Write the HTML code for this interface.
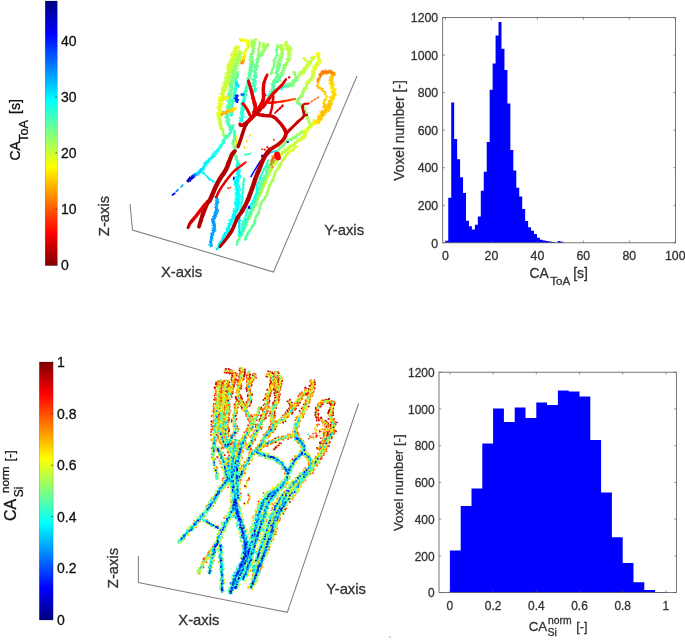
<!DOCTYPE html>
<html><head><meta charset="utf-8"><title>Figure</title>
<style>
html,body{margin:0;padding:0;background:#fff;}
svg{display:block;filter:blur(0.4px);}
text{font-family:"Liberation Sans",Arial,sans-serif;fill:#262626;stroke-width:0.3px;}
.t14{font-size:14px;fill:#111;stroke:#111;}
.t145{font-size:14.8px;fill:#333;stroke:#333;}
.t12{font-size:12.3px;fill:#333;stroke:#333;}
.t12b{font-size:11.9px;fill:#333;stroke:#333;}
.t13{font-size:13.2px;fill:#333;stroke:#333;}
.lb{fill:#111;stroke:#111;}
.lg{fill:#333;stroke:#333;}
.tk{stroke:#262626;stroke-width:0.6;}
.tk2{stroke:#555;stroke-width:0.6;}
.box{fill:none;stroke:#555;stroke-width:0.8;}
.ax3{fill:none;stroke:#808080;stroke-width:1.05;}
</style></head><body>
<svg width="685" height="640" viewBox="0 0 685 640">
<rect width="685" height="640" fill="#fff"/>
<defs><linearGradient id="cb1" x1="0" y1="0" x2="0" y2="1"><stop offset="0.0000" stop-color="#000080"/><stop offset="0.0625" stop-color="#0000bf"/><stop offset="0.1250" stop-color="#0000ff"/><stop offset="0.1875" stop-color="#0040ff"/><stop offset="0.2500" stop-color="#0080ff"/><stop offset="0.3125" stop-color="#00bfff"/><stop offset="0.3750" stop-color="#00ffff"/><stop offset="0.4375" stop-color="#40ffbf"/><stop offset="0.5000" stop-color="#80ff80"/><stop offset="0.5625" stop-color="#bfff40"/><stop offset="0.6250" stop-color="#ffff00"/><stop offset="0.6875" stop-color="#ffbf00"/><stop offset="0.7500" stop-color="#ff8000"/><stop offset="0.8125" stop-color="#ff4000"/><stop offset="0.8750" stop-color="#ff0000"/><stop offset="0.9375" stop-color="#bf0000"/><stop offset="1.0000" stop-color="#800000"/></linearGradient></defs>
<rect x="45.2" y="1.0" width="12.1" height="264.6" fill="url(#cb1)" stroke="#000" stroke-opacity="0.35" stroke-width="0.5"/>
<line x1="55.3" x2="57.3" y1="264.9" y2="264.9" class="tk"/>
<text x="61" y="270.0" class="t14">0</text>
<line x1="55.3" x2="57.3" y1="208.9" y2="208.9" class="tk"/>
<text x="61" y="214.0" class="t14">10</text>
<line x1="55.3" x2="57.3" y1="152.9" y2="152.9" class="tk"/>
<text x="61" y="158.0" class="t14">20</text>
<line x1="55.3" x2="57.3" y1="96.9" y2="96.9" class="tk"/>
<text x="61" y="102.0" class="t14">30</text>
<line x1="55.3" x2="57.3" y1="40.9" y2="40.9" class="tk"/>
<text x="61" y="46.0" class="t14">40</text>
<defs><linearGradient id="cb2" x1="0" y1="0" x2="0" y2="1"><stop offset="0.0000" stop-color="#800000"/><stop offset="0.0625" stop-color="#bf0000"/><stop offset="0.1250" stop-color="#ff0000"/><stop offset="0.1875" stop-color="#ff4000"/><stop offset="0.2500" stop-color="#ff8000"/><stop offset="0.3125" stop-color="#ffbf00"/><stop offset="0.3750" stop-color="#ffff00"/><stop offset="0.4375" stop-color="#bfff40"/><stop offset="0.5000" stop-color="#80ff80"/><stop offset="0.5625" stop-color="#40ffbf"/><stop offset="0.6250" stop-color="#00ffff"/><stop offset="0.6875" stop-color="#00bfff"/><stop offset="0.7500" stop-color="#0080ff"/><stop offset="0.8125" stop-color="#0040ff"/><stop offset="0.8750" stop-color="#0000ff"/><stop offset="0.9375" stop-color="#0000bf"/><stop offset="1.0000" stop-color="#000080"/></linearGradient></defs>
<rect x="39.3" y="362.0" width="13.8" height="258.0" fill="url(#cb2)" stroke="#000" stroke-opacity="0.35" stroke-width="0.5"/>
<line x1="51.1" x2="53.1" y1="619.6" y2="619.6" class="tk"/>
<text x="57" y="624.7" class="t14">0</text>
<line x1="51.1" x2="53.1" y1="568.1" y2="568.1" class="tk"/>
<text x="57" y="573.2" class="t14">0.2</text>
<line x1="51.1" x2="53.1" y1="516.6" y2="516.6" class="tk"/>
<text x="57" y="521.7" class="t14">0.4</text>
<line x1="51.1" x2="53.1" y1="465.2" y2="465.2" class="tk"/>
<text x="57" y="470.3" class="t14">0.6</text>
<line x1="51.1" x2="53.1" y1="413.7" y2="413.7" class="tk"/>
<text x="57" y="418.8" class="t14">0.8</text>
<line x1="51.1" x2="53.1" y1="362.2" y2="362.2" class="tk"/>
<text x="57" y="367.3" class="t14">1</text>
<g transform="translate(20.3,160.5) rotate(-90)"><text x="0" y="0" font-size="14" class="lb">CA</text><text x="18.6" y="7.6" font-size="12.8" class="lb">ToA</text><text x="46.6" y="0" font-size="14" class="lb">[s]</text></g>
<g transform="translate(15.6,521) rotate(-90)"><text x="0" y="0" font-size="16" class="lb">CA</text><text x="23.8" y="7.8" font-size="12" class="lb">Si</text><text x="28" y="-7" font-size="11.6" class="lb">norm</text><text x="59.5" y="-1.2" font-size="12.6" class="lb">[-]</text></g>
<polyline points="130,204 132.5,230 273.5,272 357,76" class="ax3"/>
<polyline points="138.4,556 138.4,582.5 287.3,612.3 358.6,403.5" class="ax3"/>
<text x="161" y="276.5" class="t145">X-axis</text>
<text x="324.3" y="234.8" class="t145">Y-axis</text>
<text transform="translate(109,216) rotate(-90)" class="t145" text-anchor="middle">Z-axis</text>
<text x="178.3" y="625" class="t145">X-axis</text>
<text x="326.2" y="594.4" class="t145">Y-axis</text>
<text transform="translate(117.5,568) rotate(-90)" class="t145" text-anchor="middle">Z-axis</text>
<path d="M445.30 242.80 L445.30 240.74 L448.26 240.74 L448.26 197.76 L451.22 197.76 L451.22 102.61 L454.17 102.61 L454.17 139.02 L457.13 139.02 L457.13 159.29 L460.09 159.29 L460.09 177.30 L463.05 177.30 L463.05 193.07 L466.00 193.07 L466.00 220.66 L468.96 220.66 L468.96 226.29 L471.92 226.29 L471.92 229.48 L474.88 229.48 L474.88 224.78 L477.83 224.78 L477.83 216.53 L480.79 216.53 L480.79 190.63 L483.75 190.63 L483.75 171.86 L486.71 171.86 L486.71 142.02 L489.66 142.02 L489.66 89.85 L492.62 89.85 L492.62 63.58 L495.58 63.58 L495.58 35.62 L498.54 35.62 L498.54 22.10 L501.49 22.10 L501.49 48.75 L504.45 48.75 L504.45 69.96 L507.41 69.96 L507.41 103.55 L510.37 103.55 L510.37 149.91 L513.32 149.91 L513.32 170.55 L516.28 170.55 L516.28 187.63 L519.24 187.63 L519.24 196.45 L522.20 196.45 L522.20 209.02 L525.15 209.02 L525.15 221.03 L528.11 221.03 L528.11 227.22 L531.07 227.22 L531.07 230.79 L534.02 230.79 L534.02 233.98 L536.98 233.98 L536.98 237.73 L539.94 237.73 L539.94 239.80 L542.90 239.80 L542.90 240.55 L545.86 240.55 L545.86 240.92 L548.81 240.92 L548.81 241.49 L551.77 241.49 L551.77 242.05 L554.73 242.05 L554.73 242.42 L557.69 242.42 L557.69 241.11 L560.64 241.11 L560.64 241.86 L563.60 241.86 L563.60 242.80Z" fill="#0000ff"/>
<rect x="442.7" y="17.6" width="232.9" height="225.2" class="box"/>
<line x1="445.4" x2="445.4" y1="242.8" y2="240.5" class="tk2"/>
<line x1="445.4" x2="445.4" y1="17.6" y2="19.9" class="tk2"/>
<text x="445.4" y="260" class="t12" text-anchor="middle">0</text>
<line x1="491.4" x2="491.4" y1="242.8" y2="240.5" class="tk2"/>
<line x1="491.4" x2="491.4" y1="17.6" y2="19.9" class="tk2"/>
<text x="491.4" y="260" class="t12" text-anchor="middle">20</text>
<line x1="537.4" x2="537.4" y1="242.8" y2="240.5" class="tk2"/>
<line x1="537.4" x2="537.4" y1="17.6" y2="19.9" class="tk2"/>
<text x="537.4" y="260" class="t12" text-anchor="middle">40</text>
<line x1="583.3" x2="583.3" y1="242.8" y2="240.5" class="tk2"/>
<line x1="583.3" x2="583.3" y1="17.6" y2="19.9" class="tk2"/>
<text x="583.3" y="260" class="t12" text-anchor="middle">60</text>
<line x1="629.3" x2="629.3" y1="242.8" y2="240.5" class="tk2"/>
<line x1="629.3" x2="629.3" y1="17.6" y2="19.9" class="tk2"/>
<text x="629.3" y="260" class="t12" text-anchor="middle">80</text>
<line x1="675.3" x2="675.3" y1="242.8" y2="240.5" class="tk2"/>
<line x1="675.3" x2="675.3" y1="17.6" y2="19.9" class="tk2"/>
<text x="675.3" y="260" class="t12" text-anchor="middle">100</text>
<line x1="442.7" x2="445.0" y1="242.8" y2="242.8" class="tk2"/>
<line x1="675.6" x2="673.3" y1="242.8" y2="242.8" class="tk2"/>
<text x="438.2" y="247.5" class="t12" text-anchor="end">0</text>
<line x1="442.7" x2="445.0" y1="205.3" y2="205.3" class="tk2"/>
<line x1="675.6" x2="673.3" y1="205.3" y2="205.3" class="tk2"/>
<text x="438.2" y="210.0" class="t12" text-anchor="end">200</text>
<line x1="442.7" x2="445.0" y1="167.7" y2="167.7" class="tk2"/>
<line x1="675.6" x2="673.3" y1="167.7" y2="167.7" class="tk2"/>
<text x="438.2" y="172.4" class="t12" text-anchor="end">400</text>
<line x1="442.7" x2="445.0" y1="130.2" y2="130.2" class="tk2"/>
<line x1="675.6" x2="673.3" y1="130.2" y2="130.2" class="tk2"/>
<text x="438.2" y="134.9" class="t12" text-anchor="end">600</text>
<line x1="442.7" x2="445.0" y1="92.7" y2="92.7" class="tk2"/>
<line x1="675.6" x2="673.3" y1="92.7" y2="92.7" class="tk2"/>
<text x="438.2" y="97.4" class="t12" text-anchor="end">800</text>
<line x1="442.7" x2="445.0" y1="55.1" y2="55.1" class="tk2"/>
<line x1="675.6" x2="673.3" y1="55.1" y2="55.1" class="tk2"/>
<text x="438.2" y="59.8" class="t12" text-anchor="end">1000</text>
<line x1="442.7" x2="445.0" y1="17.6" y2="17.6" class="tk2"/>
<line x1="675.6" x2="673.3" y1="17.6" y2="17.6" class="tk2"/>
<text x="438.2" y="22.3" class="t12" text-anchor="end">1200</text>
<text transform="translate(404,130.5) rotate(-90)" font-size="13.8" class="lg" text-anchor="middle">Voxel number [-]</text>
<text x="529.6" y="278" font-size="13.8" class="lg">CA</text><text x="550.2" y="284.6" font-size="11.6" class="lg">ToA</text><text x="573.2" y="278" font-size="14" class="lg">[s]</text>
<path d="M449.90 592.60 L449.90 550.54 L460.70 550.54 L460.70 506.09 L471.50 506.09 L471.50 488.46 L482.30 488.46 L482.30 443.46 L493.10 443.46 L493.10 408.38 L503.90 408.38 L503.90 421.97 L514.70 421.97 L514.70 407.46 L525.50 407.46 L525.50 417.93 L536.30 417.93 L536.30 402.50 L547.10 402.50 L547.10 404.89 L557.90 404.89 L557.90 390.38 L568.70 390.38 L568.70 391.49 L579.50 391.49 L579.50 396.44 L590.30 396.44 L590.30 439.97 L601.10 439.97 L601.10 492.50 L611.90 492.50 L611.90 537.13 L622.70 537.13 L622.70 563.03 L633.50 563.03 L633.50 582.13 L644.30 582.13 L644.30 590.03 L655.10 590.03 L655.10 592.05 L665.90 592.05 L665.90 592.60Z" fill="#0000ff"/>
<rect x="439.0" y="372.2" width="237.4" height="220.4" class="box"/>
<line x1="449.9" x2="449.9" y1="592.6" y2="590.3" class="tk2"/>
<line x1="449.9" x2="449.9" y1="372.2" y2="374.5" class="tk2"/>
<text x="449.9" y="610" class="t12b" text-anchor="middle">0</text>
<line x1="493.1" x2="493.1" y1="592.6" y2="590.3" class="tk2"/>
<line x1="493.1" x2="493.1" y1="372.2" y2="374.5" class="tk2"/>
<text x="493.1" y="610" class="t12b" text-anchor="middle">0.2</text>
<line x1="536.3" x2="536.3" y1="592.6" y2="590.3" class="tk2"/>
<line x1="536.3" x2="536.3" y1="372.2" y2="374.5" class="tk2"/>
<text x="536.3" y="610" class="t12b" text-anchor="middle">0.4</text>
<line x1="579.5" x2="579.5" y1="592.6" y2="590.3" class="tk2"/>
<line x1="579.5" x2="579.5" y1="372.2" y2="374.5" class="tk2"/>
<text x="579.5" y="610" class="t12b" text-anchor="middle">0.6</text>
<line x1="622.7" x2="622.7" y1="592.6" y2="590.3" class="tk2"/>
<line x1="622.7" x2="622.7" y1="372.2" y2="374.5" class="tk2"/>
<text x="622.7" y="610" class="t12b" text-anchor="middle">0.8</text>
<line x1="665.9" x2="665.9" y1="592.6" y2="590.3" class="tk2"/>
<line x1="665.9" x2="665.9" y1="372.2" y2="374.5" class="tk2"/>
<text x="665.9" y="610" class="t12b" text-anchor="middle">1</text>
<line x1="439.0" x2="441.3" y1="592.6" y2="592.6" class="tk2"/>
<line x1="676.4" x2="674.1" y1="592.6" y2="592.6" class="tk2"/>
<text x="434.5" y="597.3" class="t12b" text-anchor="end">0</text>
<line x1="439.0" x2="441.3" y1="555.9" y2="555.9" class="tk2"/>
<line x1="676.4" x2="674.1" y1="555.9" y2="555.9" class="tk2"/>
<text x="434.5" y="560.6" class="t12b" text-anchor="end">200</text>
<line x1="439.0" x2="441.3" y1="519.1" y2="519.1" class="tk2"/>
<line x1="676.4" x2="674.1" y1="519.1" y2="519.1" class="tk2"/>
<text x="434.5" y="523.8" class="t12b" text-anchor="end">400</text>
<line x1="439.0" x2="441.3" y1="482.4" y2="482.4" class="tk2"/>
<line x1="676.4" x2="674.1" y1="482.4" y2="482.4" class="tk2"/>
<text x="434.5" y="487.1" class="t12b" text-anchor="end">600</text>
<line x1="439.0" x2="441.3" y1="445.7" y2="445.7" class="tk2"/>
<line x1="676.4" x2="674.1" y1="445.7" y2="445.7" class="tk2"/>
<text x="434.5" y="450.4" class="t12b" text-anchor="end">800</text>
<line x1="439.0" x2="441.3" y1="408.9" y2="408.9" class="tk2"/>
<line x1="676.4" x2="674.1" y1="408.9" y2="408.9" class="tk2"/>
<text x="434.5" y="413.6" class="t12b" text-anchor="end">1000</text>
<line x1="439.0" x2="441.3" y1="372.2" y2="372.2" class="tk2"/>
<line x1="676.4" x2="674.1" y1="372.2" y2="372.2" class="tk2"/>
<text x="434.5" y="376.9" class="t12b" text-anchor="end">1200</text>
<text transform="translate(403,482.7) rotate(-90)" font-size="13.3" class="lg" text-anchor="middle">Voxel number [-]</text>
<text x="528.7" y="630.6" font-size="13.3" class="lg">CA</text><text x="547.5" y="636.2" font-size="10.6" class="lg">Si</text><text x="548" y="623.9" font-size="10.4" class="lg">norm</text><text x="576.2" y="630.6" font-size="12.6" class="lg">[-]</text>
<circle cx="390" cy="637" r="0.7" fill="#888"/>
<defs><filter id="bl" x="-5%" y="-5%" width="110%" height="110%"><feGaussianBlur stdDeviation="0.4"/></filter></defs>
<g fill="none" stroke-linecap="round" stroke-linejoin="round" filter="url(#bl)">
<path d="M239.8 39.5 L240.5 39.7" stroke="#ffe500" stroke-width="1.50"/>
<path d="M240.5 39.7 L241.4 40.0 L242.5 40.2 L243.4 40.4 L244.2 40.4 L245.0 40.3 L245.8 40.2 L246.4 40.3 L247.0 40.7 L247.5 41.3 L247.9 41.9" stroke="#ffff00" stroke-width="1.50"/>
<path d="M247.9 41.9 L248.2 42.5 L248.3 43.1 L248.2 43.7 L248.1 44.3 L248.0 45.0 L248.0 45.8 L248.2 46.6 L248.2 47.4 L248.0 48.2 L247.5 49.0 L246.7 49.7 L245.9 50.4 L245.3 51.3 L245.0 52.3 L244.9 53.4" stroke="#e5ff1a" stroke-width="1.50"/>
<path d="M244.9 53.4 L244.8 54.6 L244.7 55.6 L244.3 56.5" stroke="#ffff00" stroke-width="1.50"/>
<path d="M244.3 56.5 L243.8 57.4 L243.3 58.3 L243.0 59.0" stroke="#ffe500" stroke-width="1.50"/>
<path d="M243.0 59.0 L242.9 59.6 L242.9 60.0 L243.0 60.5" stroke="#ffcc00" stroke-width="1.50"/>
<path d="M243.0 60.5 L243.0 61.0 L242.8 61.7" stroke="#ffb300" stroke-width="1.50"/>
<path d="M242.8 61.7 L242.6 62.5 L242.4 63.3 L242.2 63.8" stroke="#ff9900" stroke-width="1.50"/>
<path d="M236.7 46.6 L236.1 48.4 L235.3 51.1 L234.4 54.0 L233.5 56.8 L232.5 59.4" stroke="#e5ff1a" stroke-width="2.75"/>
<path d="M232.5 59.4 L231.5 62.0 L230.6 64.6 L229.8 66.9 L229.3 68.9 L229.1 70.6 L228.8 72.3 L228.5 74.1 L228.1 76.1 L227.7 78.3 L227.2 80.4 L226.6 82.5 L225.9 84.5 L225.1 86.4 L224.2 88.3" stroke="#ccff33" stroke-width="3.00"/>
<path d="M224.2 88.3 L223.5 90.2 L223.0 92.2" stroke="#ccff33" stroke-width="2.75"/>
<path d="M223.0 92.2 L222.5 94.2 L222.1 96.2 L221.6 98.1" stroke="#e5ff1a" stroke-width="2.75"/>
<path d="M221.6 98.1 L221.2 99.9 L220.8 101.7 L220.5 103.4 L220.2 105.3 L220.0 107.4" stroke="#e5ff1a" stroke-width="2.50"/>
<path d="M220.0 107.4 L219.9 109.7 L219.8 111.9 L219.7 113.8 L219.5 115.2 L219.3 116.2 L219.1 117.1" stroke="#e5ff1a" stroke-width="2.25"/>
<path d="M219.1 117.1 L219.1 118.0 L219.2 119.0" stroke="#e5ff1a" stroke-width="2.00"/>
<path d="M219.2 119.0 L219.5 119.9 L219.8 120.9 L220.0 121.9" stroke="#ccff33" stroke-width="2.00"/>
<path d="M220.0 121.9 L220.1 122.9 L220.1 124.0 L220.1 125.1 L220.3 126.2 L220.8 127.4" stroke="#ccff33" stroke-width="1.75"/>
<path d="M220.8 127.4 L221.6 128.7 L222.3 129.9 L222.9 131.0 L223.0 131.9 L223.0 132.7" stroke="#b3ff4c" stroke-width="1.50"/>
<path d="M223.0 132.7 L223.0 133.4 L223.1 134.2 L223.6 135.1 L224.4 136.0" stroke="#99ff66" stroke-width="1.50"/>
<path d="M224.4 136.0 L225.1 136.9 L225.6 137.5" stroke="#80ff80" stroke-width="1.50"/>
<path d="M240.6 51.3 L240.2 52.8 L239.5 54.9 L238.8 57.2" stroke="#b3ff4c" stroke-width="2.25"/>
<path d="M238.8 57.2 L238.1 59.4 L237.4 61.3 L236.6 63.2" stroke="#b3ff4c" stroke-width="2.50"/>
<path d="M236.6 63.2 L235.9 65.0 L235.3 66.9 L234.9 68.7 L234.5 70.5 L234.2 72.4 L233.8 74.3 L233.2 76.3" stroke="#99ff66" stroke-width="2.50"/>
<path d="M233.2 76.3 L232.4 78.4 L231.7 80.5 L231.2 82.5 L231.0 84.5 L231.0 86.4 L231.1 88.3 L231.0 90.2 L230.6 92.2" stroke="#80ff80" stroke-width="2.50"/>
<path d="M230.6 92.2 L230.0 94.1 L229.5 96.1 L229.1 98.1 L229.0 100.2 L229.0 102.4 L229.1 104.5 L228.9 106.5 L228.4 108.5" stroke="#66ff99" stroke-width="2.50"/>
<path d="M228.4 108.5 L227.7 110.5 L227.0 112.2" stroke="#66ff99" stroke-width="2.25"/>
<path d="M227.0 112.2 L226.6 113.8 L226.6 115.0 L226.9 115.9 L227.3 116.8" stroke="#4dffb2" stroke-width="2.25"/>
<path d="M227.3 116.8 L227.6 117.7 L227.7 118.8 L227.7 119.9 L227.8 121.0 L227.9 122.0 L228.1 123.0 L228.2 124.0 L228.5 124.9 L228.9 125.8 L229.6 126.7 L230.5 127.6 L231.4 128.4 L232.0 129.0" stroke="#4dffb2" stroke-width="2.00"/>
<path d="M238.0 72.0 L237.6 73.4" stroke="#80ff80" stroke-width="1.50"/>
<path d="M237.6 73.4 L237.1 75.5 L236.5 77.8 L236.1 80.0" stroke="#66ff99" stroke-width="1.50"/>
<path d="M236.1 80.0 L236.0 82.0 L236.0 84.0" stroke="#4dffb2" stroke-width="1.50"/>
<path d="M236.0 84.0 L236.0 85.9 L235.8 88.0 L235.5 90.2 L235.0 92.5 L234.4 94.8 L234.0 96.9 L233.5 98.8 L233.1 100.7 L232.7 102.4 L232.5 104.0 L232.3 105.5 L232.3 106.8 L232.3 108.1" stroke="#33ffcc" stroke-width="1.50"/>
<path d="M232.3 108.1 L232.2 109.5 L231.9 111.2 L231.6 113.1 L231.2 114.8 L231.0 116.0" stroke="#1affe5" stroke-width="1.50"/>
<path d="M255.5 38.8 L255.1 39.9 L254.6 41.4 L254.0 43.2" stroke="#b3ff4c" stroke-width="1.50"/>
<path d="M254.0 43.2 L253.6 44.9 L253.4 46.5 L253.3 48.2 L253.2 49.8 L253.0 51.3" stroke="#99ff66" stroke-width="1.75"/>
<path d="M253.0 51.3 L252.6 52.5 L252.0 53.6 L251.4 54.5" stroke="#99ff66" stroke-width="2.00"/>
<path d="M251.4 54.5 L251.1 55.6 L251.1 56.8 L251.2 58.0 L251.4 59.3 L251.5 60.6 L251.5 62.0 L251.4 63.5 L251.3 65.0" stroke="#80ff80" stroke-width="2.00"/>
<path d="M251.3 65.0 L251.2 66.4 L251.0 67.7 L250.8 68.9 L250.6 70.2 L250.3 71.6 L250.1 73.3 L249.8 75.1 L249.5 77.0" stroke="#66ff99" stroke-width="2.00"/>
<path d="M249.5 77.0 L249.2 78.8 L248.8 80.6 L248.4 82.4 L247.9 84.1 L247.5 85.6 L246.9 86.9 L246.4 88.0 L245.9 89.0 L245.5 90.0 L245.3 90.9" stroke="#4dffb2" stroke-width="2.00"/>
<path d="M245.3 90.9 L245.3 91.7 L245.3 92.5 L245.2 93.4 L245.1 94.4 L244.9 95.5 L244.6 96.7 L244.3 97.9 L243.9 99.1 L243.4 100.5 L242.9 101.8 L242.5 103.0 L242.3 104.1 L242.2 105.1 L242.2 106.1 L242.3 107.2 L242.4 108.4 L242.5 109.8 L242.6 111.1 L242.7 112.5 L242.5 113.9 L242.3 115.4 L242.0 116.8" stroke="#33ffcc" stroke-width="2.00"/>
<path d="M242.0 116.8 L241.7 118.1 L241.6 119.3 L241.5 120.4 L241.4 121.3 L241.3 122.0" stroke="#1affe5" stroke-width="2.00"/>
<path d="M268.0 44.2 L267.4 44.7 L266.6 45.5 L265.7 46.4" stroke="#b3ff4c" stroke-width="2.00"/>
<path d="M265.7 46.4 L265.0 47.3 L264.5 48.3 L264.1 49.3 L263.8 50.3 L263.2 51.3 L262.4 52.3 L261.5 53.4 L260.6 54.5" stroke="#99ff66" stroke-width="2.00"/>
<path d="M260.6 54.5 L259.8 55.6 L259.1 56.8 L258.5 58.0 L257.9 59.3 L257.5 60.6 L257.2 61.9 L257.0 63.2 L256.9 64.5" stroke="#80ff80" stroke-width="2.00"/>
<path d="M256.9 64.5 L256.6 65.9 L256.2 67.3 L255.6 68.7 L255.0 70.2 L254.7 71.6 L254.6 73.1 L254.8 74.5 L255.0 76.0" stroke="#66ff99" stroke-width="2.00"/>
<path d="M255.0 76.0 L255.1 77.4 L254.9 78.7 L254.5 80.0 L254.1 81.2 L254.0 82.5 L254.1 83.9 L254.4 85.4 L254.8 86.8 L254.9 88.1 L254.8 89.3" stroke="#4dffb2" stroke-width="2.00"/>
<path d="M254.8 89.3 L254.5 90.4 L254.1 91.3 L253.9 91.9" stroke="#33ffcc" stroke-width="2.00"/>
<path d="M260.0 42.0 L259.7 43.7 L259.3 46.1 L258.9 48.8 L258.6 51.3 L258.3 53.8 L258.1 56.5 L257.9 58.9 L257.8 60.6" stroke="#99ff66" stroke-width="1.25"/>
<path d="M281.3 45.0 L281.4 45.6 L281.5 46.5 L281.7 47.5" stroke="#ccff33" stroke-width="2.00"/>
<path d="M281.7 47.5 L281.8 48.4 L282.0 49.1 L282.3 49.7 L282.5 50.4 L282.5 51.3 L282.4 52.5 L282.1 53.9 L281.7 55.4" stroke="#b3ff4c" stroke-width="2.00"/>
<path d="M281.7 55.4 L281.3 56.6 L280.9 57.7 L280.5 58.6 L280.0 59.5 L279.5 60.6 L279.0 62.0 L278.5 63.5 L278.0 65.1" stroke="#99ff66" stroke-width="2.00"/>
<path d="M278.0 65.1 L277.6 66.5 L277.4 67.8 L277.3 69.1 L277.3 70.3 L277.2 71.6 L277.1 73.0 L277.1 74.5 L276.9 76.1" stroke="#80ff80" stroke-width="2.00"/>
<path d="M276.9 76.1 L276.5 77.5 L275.9 78.8 L274.9 80.0 L274.0 81.3 L273.4 82.5 L273.2 83.8 L273.3 85.1 L273.5 86.3" stroke="#66ff99" stroke-width="2.00"/>
<path d="M273.5 86.3 L273.4 87.5 L273.1 88.7 L272.7 89.9 L272.2 91.0 L271.8 91.9 L271.6 92.6 L271.4 93.1 L271.1 93.6" stroke="#4dffb2" stroke-width="2.00"/>
<path d="M271.1 93.6 L270.8 94.3 L270.1 95.2 L269.3 96.3 L268.5 97.3 L268.0 98.0" stroke="#33ffcc" stroke-width="2.00"/>
<path d="M285.9 41.9 L286.2 42.7 L286.5 43.9 L287.0 45.2 L287.4 46.5 L287.8 47.7 L288.3 48.8 L288.7 50.1" stroke="#ccff33" stroke-width="2.00"/>
<path d="M288.7 50.1 L289.0 51.3 L289.2 52.6 L289.2 53.9 L289.2 55.3 L289.0 56.6 L288.8 58.0 L288.4 59.5 L287.9 60.9 L287.4 62.2 L286.7 63.2" stroke="#b3ff4c" stroke-width="2.00"/>
<path d="M286.7 63.2 L285.9 64.1 L285.2 64.9 L284.5 65.9 L284.0 67.3" stroke="#99ff66" stroke-width="2.00"/>
<path d="M284.0 67.3 L283.6 68.7 L283.2 70.2 L282.8 71.6 L282.4 72.8 L281.9 74.0 L281.4 75.0 L281.0 76.0 L280.6 77.0" stroke="#80ff80" stroke-width="2.00"/>
<path d="M280.6 77.0 L280.2 77.9 L279.9 78.7 L279.4 79.4 L278.9 79.9 L278.3 80.2 L277.7 80.5 L277.2 80.9 L276.9 81.3 L276.6 81.8 L276.4 82.2" stroke="#66ff99" stroke-width="2.00"/>
<path d="M276.4 82.2 L276.3 82.5" stroke="#4dffb2" stroke-width="2.00"/>
<path d="M277.3 45.0 L277.2 46.1 L277.2 47.6 L277.1 49.4 L277.0 50.9 L277.0 52.3 L277.0 53.5 L277.0 54.8 L276.7 56.0 L276.1 57.2 L275.3 58.5 L274.4 59.7 L273.9 60.9 L273.8 62.0 L274.0 63.1 L274.2 64.2 L274.2 65.3 L273.8 66.5 L273.2 67.7 L272.5 69.0 L272.0 70.2 L271.6 71.5 L271.4 72.9 L271.2 74.1 L271.0 75.0" stroke="#80ff80" stroke-width="1.25"/>
<path d="M293.8 71.6 L294.0 72.4 L294.4 73.5 L294.7 74.7" stroke="#99ff66" stroke-width="1.50"/>
<path d="M294.7 74.7 L295.1 75.8 L295.6 76.7 L296.1 77.7 L296.5 78.6 L296.6 79.4 L296.1 80.2 L295.2 80.9 L294.3 81.6 L293.6 82.4 L293.4 83.2 L293.3 84.2 L293.2 85.0 L292.7 85.6 L291.7 85.9 L290.3 85.9 L288.9 85.9 L287.8 85.8 L287.0 85.8" stroke="#80ff80" stroke-width="1.50"/>
<path d="M287.0 85.8 L286.4 85.7 L285.9 85.7 L285.6 85.6" stroke="#66ff99" stroke-width="1.50"/>
<path d="M313.8 56.7 L313.4 57.4 L312.9 58.3 L312.3 59.4 L311.6 60.4 L311.0 61.3" stroke="#e5ff1a" stroke-width="2.00"/>
<path d="M311.0 61.3 L310.3 62.1 L309.5 62.9 L308.8 63.8 L308.1 64.7 L307.4 65.5 L306.7 66.4 L306.0 67.3 L305.3 68.4 L304.6 69.5 L303.9 70.6 L303.2 71.6 L302.4 72.4 L301.6 73.1 L300.8 73.8" stroke="#ccff33" stroke-width="2.00"/>
<path d="M300.8 73.8 L300.0 74.5 L299.1 75.3 L298.2 76.2 L297.4 77.0 L296.6 77.8 L296.0 78.6 L295.5 79.4" stroke="#b3ff4c" stroke-width="2.00"/>
<path d="M295.5 79.4 L294.9 80.3 L294.3 81.0 L293.4 81.8 L292.3 82.7" stroke="#99ff66" stroke-width="2.00"/>
<path d="M292.3 82.7 L291.3 83.4 L290.3 84.0 L289.6 84.4 L288.9 84.7" stroke="#80ff80" stroke-width="2.00"/>
<path d="M288.9 84.7 L288.3 84.9 L287.7 85.1 L287.0 85.3 L286.3 85.3" stroke="#66ff99" stroke-width="2.00"/>
<path d="M286.3 85.3 L285.6 85.4 L285.0 85.6 L284.6 85.9 L284.4 86.2" stroke="#4dffb2" stroke-width="2.00"/>
<path d="M284.4 86.2 L284.1 86.6 L283.6 87.0 L282.8 87.3 L281.7 87.6" stroke="#33ffcc" stroke-width="2.00"/>
<path d="M281.7 87.6 L280.7 87.8 L280.0 88.0" stroke="#1affe5" stroke-width="2.00"/>
<path d="M317.7 52.8 L317.7 53.3 L317.7 54.1 L317.7 55.0" stroke="#ffff00" stroke-width="2.00"/>
<path d="M317.7 55.0 L317.8 55.8 L318.2 56.6 L318.7 57.3 L319.1 58.1 L319.3 59.0 L319.1 60.1 L318.7 61.4 L318.1 62.7 L317.5 64.0 L316.7 65.1 L315.9 66.2 L315.0 67.3 L314.4 68.4 L314.0 69.6 L313.8 70.8 L313.7 72.1 L313.5 73.3 L313.2 74.4" stroke="#e5ff1a" stroke-width="2.00"/>
<path d="M313.2 74.4 L312.8 75.5 L312.4 76.7 L311.9 77.8 L311.1 78.9 L310.1 80.1 L309.1 81.2 L308.2 82.4 L307.5 83.6 L306.8 84.9 L306.2 86.1" stroke="#ccff33" stroke-width="2.00"/>
<path d="M306.2 86.1 L305.6 87.2 L305.0 88.2 L304.4 89.1 L303.9 90.0 L303.4 90.9 L303.1 91.9 L302.8 93.0 L302.5 94.0 L302.1 95.0" stroke="#b3ff4c" stroke-width="2.00"/>
<path d="M302.1 95.0 L301.4 95.9" stroke="#b3ff4c" stroke-width="1.75"/>
<path d="M301.4 95.9 L300.7 96.7 L299.9 97.5 L299.2 98.4 L298.6 99.5" stroke="#99ff66" stroke-width="1.75"/>
<path d="M298.6 99.5 L298.0 100.7 L297.5 101.9 L297.5 102.8 L297.9 103.3 L298.9 103.5 L299.8 103.7 L300.5 103.9 L300.6 104.1 L300.5 104.3 L300.3 104.5 L300.5 105.0 L301.1 105.8 L302.0 106.7 L303.0 107.8 L303.8 108.8 L304.4 109.7" stroke="#80ff80" stroke-width="1.50"/>
<path d="M304.4 109.7 L304.9 110.6 L305.3 111.6 L305.7 112.5 L306.0 113.5 L306.3 114.5 L306.5 115.5 L306.8 116.5 L307.1 117.4" stroke="#99ff66" stroke-width="1.50"/>
<path d="M307.1 117.4 L307.4 118.4 L307.8 119.4 L308.2 120.3 L308.7 121.2 L309.3 122.1 L309.8 122.9 L310.2 123.7 L310.3 124.5" stroke="#b3ff4c" stroke-width="1.50"/>
<path d="M310.3 124.5 L310.4 125.4 L310.3 126.1 L310.3 126.6" stroke="#ccff33" stroke-width="1.50"/>
<path d="M253.5 47.0 L253.1 46.3 L252.5 45.2 L251.9 44.1 L251.5 43.0 L251.3 42.0 L251.1 41.0 L251.1 40.1 L251.0 39.5" stroke="#b3ff4c" stroke-width="1.00"/>
<path d="M262.5 51.3 L262.9 50.5 L263.6 49.4 L264.2 48.2 L264.5 47.0 L264.3 45.9 L263.9 44.7 L263.4 43.7 L263.0 43.0" stroke="#b3ff4c" stroke-width="1.00"/>
<path d="M282.8 51.3 L282.3 50.6 L281.6 49.5 L280.8 48.4 L280.0 47.5 L279.2 46.8 L278.3 46.3 L277.5 45.8 L277.0 45.5" stroke="#b3ff4c" stroke-width="1.00"/>
<path d="M289.0 51.3 L289.5 50.9 L290.3 50.3 L291.1 49.7 L291.5 49.0 L291.4 48.2 L290.9 47.4 L290.4 46.6 L290.0 46.0" stroke="#b3ff4c" stroke-width="1.00"/>
<path d="M276.6 71.6 L277.0 70.8 L277.7 69.5 L278.4 68.2 L279.0 67.0 L279.6 65.9 L280.1 64.7 L280.7 63.7 L281.0 63.0" stroke="#80ff80" stroke-width="1.00"/>
<path d="M309.0 63.8 L308.4 63.3 L307.7 62.6 L306.8 61.8 L306.0 61.0 L305.3 60.1 L304.6 59.1 L303.9 58.1 L303.5 57.5" stroke="#ccff33" stroke-width="1.00"/>
<path d="M229.7 66.9 L230.3 65.6 L231.2 63.8 L232.1 61.8 L233.0 60.0 L233.8 58.3 L234.7 56.6 L235.5 55.1 L236.0 54.0" stroke="#e5ff1a" stroke-width="1.50"/>
<path d="M250.0 71.6 L250.5 70.6 L251.2 69.1 L251.9 67.5 L252.5 66.0 L252.9 64.6 L253.2 63.1 L253.4 61.9 L253.5 61.0" stroke="#80ff80" stroke-width="1.25"/>
<path d="M236.0 95.6 L236.2 97.2 L236.5 98.8 L236.8 100.4 L237.0 102.0" stroke="#0019ff" stroke-width="2.00"/>
<path d="M242.0 94.0 L242.2 94.4 L242.5 94.8 L242.8 95.1 L243.0 95.5" stroke="#0080ff" stroke-width="1.50"/>
<path d="M236.0 82.5 L236.7 83.6 L237.4 84.8 L238.1 85.9 L238.8 87.0" stroke="#00e5ff" stroke-width="1.50"/>
<path d="M264.8 94.0 L264.8 94.5 L264.8 95.0 L264.8 95.5 L264.8 96.0" stroke="#004dff" stroke-width="1.50"/>
<path d="M317.7 81.0 L318.1 80.3 L318.7 79.4 L319.3 78.4 L319.7 77.5 L319.9 76.7 L319.9 75.9 L319.9 75.3" stroke="#ff9900" stroke-width="1.50"/>
<path d="M319.9 75.3 L320.1 74.7 L320.4 74.3 L320.7 74.0 L321.2 73.7 L321.9 73.4 L322.9 72.9 L324.2 72.4 L325.5 71.9 L326.8 71.6" stroke="#ff8000" stroke-width="1.75"/>
<path d="M326.8 71.6 L327.8 71.5 L328.8 71.6 L329.7 71.8" stroke="#ff8000" stroke-width="2.00"/>
<path d="M329.7 71.8 L330.5 72.0 L331.5 72.2 L332.5 72.4 L333.4 72.7 L333.9 73.1 L333.9 73.7" stroke="#ff9900" stroke-width="2.00"/>
<path d="M333.9 73.7 L333.6 74.5 L333.1 75.3 L332.6 76.3" stroke="#ffb300" stroke-width="2.00"/>
<path d="M332.6 76.3 L332.1 77.4 L331.5 78.6 L331.0 79.8 L330.8 81.0" stroke="#ffcc00" stroke-width="2.00"/>
<path d="M330.8 81.0 L330.9 82.0 L331.2 83.0 L331.6 83.9 L332.0 84.9 L332.3 85.8" stroke="#ffe500" stroke-width="2.00"/>
<path d="M332.3 85.8 L332.6 86.8 L332.9 87.8 L333.1 88.8 L333.3 89.9 L333.5 91.0 L333.6 92.2" stroke="#ffe500" stroke-width="2.25"/>
<path d="M333.6 92.2 L333.6 93.3 L333.4 94.5 L333.2 95.7 L332.9 96.9 L332.5 98.1" stroke="#ffe500" stroke-width="2.50"/>
<path d="M332.5 98.1 L332.0 99.4" stroke="#ffe500" stroke-width="2.75"/>
<path d="M332.0 99.4 L331.5 100.7 L330.9 102.0 L330.4 103.2 L329.8 104.3" stroke="#ffcc00" stroke-width="2.75"/>
<path d="M329.8 104.3 L329.3 105.4 L328.7 106.5 L328.1 107.5 L327.4 108.4 L326.7 109.3 L325.9 110.2 L325.1 111.1 L324.1 112.2 L323.0 113.3 L321.9 114.5 L321.1 115.6 L320.8 116.6 L320.9 117.7 L320.9 118.6" stroke="#ffcc00" stroke-width="3.00"/>
<path d="M320.9 118.6 L320.4 119.5" stroke="#ffcc00" stroke-width="2.75"/>
<path d="M320.4 119.5 L319.3 120.2 L317.7 120.9 L316.1 121.4 L314.9 121.9" stroke="#ffe500" stroke-width="2.75"/>
<path d="M314.9 121.9 L314.2 122.2" stroke="#ffe500" stroke-width="2.50"/>
<path d="M314.2 122.2 L313.8 122.5 L313.5 122.7 L313.2 123.0 L312.8 123.4" stroke="#ffff00" stroke-width="2.50"/>
<path d="M312.8 123.4 L312.4 124.0 L312.1 124.6 L311.9 125.0" stroke="#e5ff1a" stroke-width="2.25"/>
<path d="M317.7 81.0 L317.7 81.4 L317.6 82.1 L317.5 82.8 L317.5 83.6 L317.5 84.4" stroke="#ffb300" stroke-width="1.00"/>
<path d="M317.5 84.4 L317.5 85.4 L317.6 86.3 L317.8 87.0 L318.1 87.5 L318.4 87.8 L318.8 88.0 L319.3 88.2 L319.8 88.4 L320.3 88.4 L320.9 88.5 L321.6 88.8 L322.3 89.4 L323.1 90.1 L323.8 90.9 L324.4 91.5 L324.8 92.0 L324.9 92.4 L325.1 92.8" stroke="#ffcc00" stroke-width="1.00"/>
<path d="M325.1 92.8 L325.3 93.4 L325.6 94.2 L326.1 95.1 L326.5 96.1 L326.6 97.1 L326.2 98.1 L325.5 99.2 L324.8 100.3 L324.3 101.3 L324.1 102.3" stroke="#ffe500" stroke-width="1.00"/>
<path d="M324.1 102.3 L324.2 103.2 L324.3 104.1 L324.3 104.9 L324.0 105.7 L323.7 106.4 L323.3 107.0 L323.1 107.5" stroke="#ffcc00" stroke-width="1.00"/>
<path d="M311.9 125.0 L311.2 125.6 L310.1 126.6 L308.9 127.6 L307.9 128.7 L307.2 129.7 L306.5 130.7 L305.9 131.7 L305.3 132.8 L304.8 134.0 L304.5 135.2 L304.0 136.4 L303.2 137.5 L302.0 138.3" stroke="#e5ff1a" stroke-width="2.25"/>
<path d="M302.0 138.3 L300.4 139.1 L298.8 139.8 L297.4 140.6 L296.5 141.5 L295.9 142.4 L295.2 143.3 L294.4 144.2 L293.4 144.9 L292.2 145.6 L290.9 146.2 L289.8 146.9 L288.9 147.6 L288.0 148.4 L287.2 149.2 L286.3 150.0 L285.4 150.7 L284.4 151.4 L283.5 152.2 L282.5 153.0 L281.5 153.9 L280.4 154.8 L279.4 155.8 L278.5 156.8 L277.9 157.8 L277.5 158.7 L277.0 159.8 L276.3 161.0 L275.2 162.5 L273.7 164.2 L272.3 166.0 L271.3 167.5 L270.7 168.7 L270.4 169.7" stroke="#ccff33" stroke-width="2.25"/>
<path d="M270.4 169.7 L270.1 170.7 L269.7 171.9 L269.1 173.3 L268.3 174.7 L267.4 176.2 L266.7 177.8 L266.1 179.4 L265.5 181.0 L264.9 182.7 L264.2 184.4 L263.4 186.2 L262.4 188.1 L261.5 190.1 L260.6 192.0 L259.6 194.1 L258.7 196.3 L257.9 198.3 L257.3 200.0 L257.0 201.1 L257.0 201.9 L257.0 202.4 L256.9 203.1 L256.5 203.7 L256.0 204.2 L255.5 204.8 L254.7 206.0 L253.8 207.8 L252.7 210.1 L251.5 212.6" stroke="#b3ff4c" stroke-width="2.25"/>
<path d="M251.5 212.6 L250.4 214.9 L249.3 217.1 L248.3 219.1 L247.3 221.1 L246.4 223.0 L245.5 224.7 L244.8 226.2 L244.2 227.7" stroke="#99ff66" stroke-width="2.25"/>
<path d="M244.2 227.7 L243.5 229.2 L242.8 230.8 L242.2 232.5 L241.6 234.1 L240.9 235.6" stroke="#80ff80" stroke-width="2.00"/>
<path d="M240.9 235.6 L240.2 236.9 L239.4 238.2" stroke="#80ff80" stroke-width="1.75"/>
<path d="M239.4 238.2 L238.7 239.4 L238.1 240.5 L237.5 241.8" stroke="#66ff99" stroke-width="1.75"/>
<path d="M237.5 241.8 L237.1 243.1" stroke="#66ff99" stroke-width="1.50"/>
<path d="M237.1 243.1 L236.7 244.2 L236.4 245.0" stroke="#4dffb2" stroke-width="1.50"/>
<path d="M302.5 131.0 L301.9 131.6 L301.0 132.4 L300.0 133.3" stroke="#b3ff4c" stroke-width="2.00"/>
<path d="M300.0 133.3 L299.1 134.2 L298.2 135.1 L297.4 135.9 L296.5 136.8 L295.5 137.5 L294.2 138.1 L292.7 138.6 L291.2 139.0" stroke="#99ff66" stroke-width="2.00"/>
<path d="M291.2 139.0 L289.9 139.5 L288.8 140.1 L287.9 140.7 L287.1 141.3 L286.2 142.0 L285.4 142.8 L284.7 143.7 L283.9 144.7 L283.1 145.5 L282.3 146.3 L281.4 147.1 L280.6 147.8 L279.9 148.4 L279.3 148.9 L278.9 149.4 L278.6 149.8 L278.2 150.3 L277.8 150.9 L277.4 151.5 L276.9 152.2 L276.4 153.0 L275.9 154.0 L275.2 155.3 L274.5 156.5 L273.9 157.8 L273.2 158.9" stroke="#80ff80" stroke-width="2.00"/>
<path d="M273.2 158.9 L272.6 160.1 L271.9 161.3 L271.2 162.5 L270.3 163.7 L269.3 165.0 L268.3 166.3 L267.6 167.7 L267.2 169.0 L267.2 170.5 L267.1 171.9 L266.8 173.4 L266.1 174.9 L265.2 176.4 L264.2 178.0 L263.3 179.7 L262.3 181.6 L261.4 183.6 L260.4 185.6" stroke="#66ff99" stroke-width="2.00"/>
<path d="M260.4 185.6 L259.6 187.5 L259.0 189.3 L258.6 190.9 L258.2 192.6 L257.7 194.1 L257.1 195.6 L256.3 197.1 L255.6 198.5 L255.0 200.0 L254.4 201.6 L254.0 203.2 L253.5 204.9 L253.0 206.5 L252.4 208.1 L251.7 209.8 L251.0 211.4 L250.3 213.0 L249.5 214.6" stroke="#4dffb2" stroke-width="2.00"/>
<path d="M249.5 214.6 L248.7 216.2 L247.8 217.8 L247.0 219.4 L246.3 221.1 L245.5 222.8 L244.8 224.4 L244.1 226.0 L243.4 227.4 L242.8 228.7 L242.1 230.0" stroke="#33ffcc" stroke-width="2.00"/>
<path d="M242.1 230.0 L241.5 231.2 L240.8 232.6 L240.1 233.9 L239.4 235.2 L239.0 236.0" stroke="#1affe5" stroke-width="2.00"/>
<path d="M296.0 146.0 L295.5 146.6 L294.8 147.6 L293.9 148.6 L292.9 149.7 L291.6 150.7" stroke="#e5ff1a" stroke-width="1.75"/>
<path d="M291.6 150.7 L290.0 151.8 L288.4 152.9 L287.1 154.0 L286.3 155.0 L285.8 156.1 L285.4 157.1 L284.8 158.1 L284.0 159.0 L283.0 160.0 L282.1 161.0 L281.3 162.0 L280.8 163.1 L280.5 164.4 L280.2 165.6 L279.6 166.9 L278.7 168.1 L277.5 169.3" stroke="#ccff33" stroke-width="1.75"/>
<path d="M277.5 169.3 L276.4 170.6 L275.4 172.0 L274.8 173.5 L274.4 175.1 L274.0 176.7 L273.5 178.3 L272.8 179.7 L272.0 181.1 L271.2 182.5 L270.4 184.0 L269.7 185.6 L269.0 187.4 L268.3 189.2 L267.6 190.8 L267.1 192.4" stroke="#b3ff4c" stroke-width="1.75"/>
<path d="M267.1 192.4 L266.6 193.9 L266.1 195.4 L265.4 197.0 L264.5 198.6 L263.3 200.3 L262.1 202.0 L261.1 203.8 L260.4 205.5" stroke="#99ff66" stroke-width="1.75"/>
<path d="M260.4 205.5 L259.9 207.3 L259.5 209.2 L258.9 211.0 L258.2 212.9 L257.4 214.8 L256.5 216.7 L255.7 218.6 L255.0 220.5" stroke="#80ff80" stroke-width="1.75"/>
<path d="M255.0 220.5 L254.4 222.3 L253.7 224.2 L252.8 226.0 L251.7 227.7 L250.4 229.3 L249.1 231.0 L248.0 232.7 L247.0 234.6" stroke="#66ff99" stroke-width="1.75"/>
<path d="M247.0 234.6 L246.2 236.8 L245.5 238.7 L245.0 240.0" stroke="#4dffb2" stroke-width="1.75"/>
<path d="M268.0 160.0 L267.8 160.9 L267.5 162.1 L267.1 163.5" stroke="#4dffb2" stroke-width="1.25"/>
<path d="M267.1 163.5 L266.6 164.9 L266.0 166.2 L265.4 167.4 L264.7 168.7 L264.0 170.0 L263.3 171.3 L262.5 172.5 L261.7 173.8" stroke="#33ffcc" stroke-width="1.25"/>
<path d="M261.7 173.8 L261.1 175.2 L260.5 176.6 L260.1 178.1 L259.6 179.6 L259.1 181.0 L258.5 182.3 L257.9 183.5 L257.2 184.7 L256.8 185.9 L256.7 187.1 L256.8 188.4 L257.0 189.6 L256.9 191.0 L256.4 192.6 L255.7 194.3 L255.0 196.1 L254.3 197.7 L253.7 199.1 L253.3 200.4 L252.7 201.7 L252.1 203.0 L251.1 204.3 L249.9 205.7 L248.7 207.0 L247.8 208.5 L247.3 210.0" stroke="#1affe5" stroke-width="1.25"/>
<path d="M247.3 210.0 L246.9 211.7 L246.6 213.4 L246.3 215.0 L245.8 216.4 L245.2 217.7 L244.7 219.0 L244.0 220.4 L243.3 221.9 L242.4 223.5 L241.6 225.0 L241.0 226.0" stroke="#33ffcc" stroke-width="1.25"/>
<path d="M244.0 178.0 L243.7 181.1 L243.3 185.6" stroke="#4dffb2" stroke-width="1.25"/>
<path d="M243.3 185.6 L242.9 190.5 L242.5 195.0 L242.1 199.2" stroke="#33ffcc" stroke-width="1.25"/>
<path d="M242.1 199.2 L241.7 203.6 L241.3 207.4 L241.0 210.0" stroke="#1affe5" stroke-width="1.25"/>
<path d="M233.4 125.0 L233.1 126.0 L232.7 127.3 L232.1 128.9" stroke="#66ff99" stroke-width="2.00"/>
<path d="M232.1 128.9 L231.5 130.4 L230.8 131.8 L229.9 133.2 L229.0 134.6 L228.0 136.0 L226.8 137.3 L225.6 138.5 L224.4 139.8" stroke="#4dffb2" stroke-width="2.00"/>
<path d="M224.4 139.8 L223.3 141.1 L222.6 142.5 L222.1 144.0 L221.5 145.4" stroke="#33ffcc" stroke-width="2.00"/>
<path d="M221.5 145.4 L220.7 146.9 L219.5 148.3 L218.1 149.7 L216.7 151.1 L215.4 152.4 L214.5 153.8 L213.7 155.2" stroke="#1affe5" stroke-width="2.00"/>
<path d="M213.7 155.2 L212.9 156.5 L211.9 157.8 L210.5 159.1 L208.9 160.3 L207.3 161.6 L206.0 162.9 L205.0 164.4 L204.3 166.0 L203.6 167.5" stroke="#00ffff" stroke-width="2.00"/>
<path d="M203.6 167.5 L202.9 168.8 L202.1 169.6 L201.3 170.2 L200.6 170.7 L199.8 171.3 L199.2 171.9 L198.6 172.7" stroke="#00e5ff" stroke-width="2.00"/>
<path d="M198.6 172.7 L197.9 173.4 L197.2 174.0 L196.4 174.5" stroke="#00ccff" stroke-width="2.00"/>
<path d="M196.4 174.5 L195.4 175.0" stroke="#0099ff" stroke-width="2.25"/>
<path d="M195.4 175.0 L194.6 175.3" stroke="#0080ff" stroke-width="2.25"/>
<path d="M194.6 175.3 L193.9 175.7" stroke="#0066ff" stroke-width="2.25"/>
<path d="M193.9 175.7 L193.5 176.1" stroke="#004dff" stroke-width="2.25"/>
<path d="M193.5 176.1 L193.4 176.4" stroke="#0033ff" stroke-width="2.25"/>
<path d="M193.4 176.4 L193.4 176.7" stroke="#0019ff" stroke-width="2.25"/>
<path d="M193.4 176.7 L193.1 177.0" stroke="#0000ff" stroke-width="2.25"/>
<path d="M193.1 177.0 L192.5 177.3 L191.8 177.6" stroke="#0000e6" stroke-width="2.25"/>
<path d="M191.8 177.6 L191.1 177.9 L190.4 178.4 L189.7 179.1 L189.0 179.9" stroke="#0000cc" stroke-width="2.25"/>
<path d="M189.0 179.9 L188.4 180.7" stroke="#0000b2" stroke-width="2.25"/>
<path d="M188.4 180.7 L188.0 181.3" stroke="#0000b2" stroke-width="2.50"/>
<path d="M202.2 171.9 L203.3 173.0 L204.9 174.7 L206.7 176.5 L208.4 178.0 L210.1 179.2 L211.9 180.4 L213.6 181.3 L214.7 182.0" stroke="#00e5ff" stroke-width="1.00"/>
<path d="M235.0 131.0 L234.8 132.2 L234.6 134.0" stroke="#33ffcc" stroke-width="1.50"/>
<path d="M234.6 134.0 L234.4 136.0 L234.1 137.8" stroke="#4dffb2" stroke-width="1.50"/>
<path d="M234.1 137.8 L233.8 139.4 L233.4 140.9 L233.1 142.4" stroke="#66ff99" stroke-width="1.50"/>
<path d="M233.1 142.4 L233.0 143.8 L233.3 145.1 L233.9 146.2 L234.6 147.4" stroke="#80ff80" stroke-width="1.50"/>
<path d="M234.6 147.4 L235.0 148.7 L235.2 150.1 L235.1 151.7 L235.0 153.2 L235.1 154.7" stroke="#80ff80" stroke-width="1.75"/>
<path d="M235.1 154.7 L235.5 156.0" stroke="#80ff80" stroke-width="2.00"/>
<path d="M235.5 156.0 L236.0 157.2 L236.5 158.3" stroke="#66ff99" stroke-width="2.00"/>
<path d="M236.5 158.3 L236.9 159.6 L237.2 161.0" stroke="#4dffb2" stroke-width="2.00"/>
<path d="M237.2 161.0 L237.3 162.5 L237.5 164.0" stroke="#33ffcc" stroke-width="2.25"/>
<path d="M237.5 164.0 L237.6 165.6 L237.8 167.2" stroke="#1affe5" stroke-width="2.25"/>
<path d="M237.8 167.2 L238.0 168.8 L238.2 170.4 L238.3 172.0" stroke="#1affe5" stroke-width="2.50"/>
<path d="M238.3 172.0 L238.3 173.6" stroke="#1affe5" stroke-width="2.75"/>
<path d="M238.3 173.6 L238.3 175.3 L238.2 176.8" stroke="#00ffff" stroke-width="2.75"/>
<path d="M238.2 176.8 L238.0 178.0 L237.8 178.8 L237.5 179.4 L237.2 179.8" stroke="#00ffff" stroke-width="3.00"/>
<path d="M237.2 179.8 L237.0 180.3 L236.8 180.8 L236.7 181.2 L236.7 181.7 L236.7 182.5" stroke="#00ffff" stroke-width="3.25"/>
<path d="M236.7 182.5 L236.8 183.8 L236.8 185.4 L237.0 187.1 L237.2 188.7 L237.5 190.3 L237.8 191.8 L238.2 193.4 L238.3 195.0" stroke="#00ffff" stroke-width="3.50"/>
<path d="M238.3 195.0 L238.1 196.8 L237.7 198.6 L237.2 200.5 L237.0 202.1 L237.1 203.6" stroke="#00ffff" stroke-width="3.25"/>
<path d="M237.1 203.6 L237.3 205.0 L237.6 206.2 L237.5 207.5 L237.0 208.7 L236.2 210.0 L235.3 211.1" stroke="#00ffff" stroke-width="3.00"/>
<path d="M235.3 211.1 L234.7 212.3 L234.5 213.4 L234.5 214.6 L234.4 215.7 L234.1 216.9" stroke="#00ffff" stroke-width="2.75"/>
<path d="M234.1 216.9 L233.3 218.2 L232.3 219.6 L231.2 221.0 L230.3 222.5 L229.5 224.2" stroke="#00ffff" stroke-width="2.50"/>
<path d="M229.5 224.2 L228.9 226.0 L228.2 227.8 L227.6 229.4 L227.0 230.8 L226.4 232.0 L225.7 233.2" stroke="#00ffff" stroke-width="2.25"/>
<path d="M225.7 233.2 L225.0 234.4 L224.3 235.9 L223.4 237.4 L222.6 238.9 L221.8 240.3" stroke="#00ffff" stroke-width="2.00"/>
<path d="M221.8 240.3 L221.1 241.7 L220.5 243.0 L219.9 244.3 L219.3 245.5 L218.7 246.7" stroke="#00ffff" stroke-width="1.75"/>
<path d="M218.7 246.7 L218.0 247.9" stroke="#00ffff" stroke-width="1.50"/>
<path d="M218.0 247.9 L217.3 249.0 L216.9 249.7" stroke="#00e5ff" stroke-width="1.50"/>
<path d="M236.0 136.0 L236.1 138.8 L236.2 141.5 L236.4 144.2 L236.5 147.0" stroke="#ffe500" stroke-width="1.00"/>
<path d="M216.9 196.6 L217.0 197.4 L217.1 198.6 L217.2 200.0 L217.2 201.2 L217.1 202.4" stroke="#00b2ff" stroke-width="2.00"/>
<path d="M217.1 202.4 L216.9 203.5 L216.7 204.7 L216.5 206.0 L216.5 207.4 L216.5 208.8 L216.5 210.3 L216.4 211.7 L216.0 213.1 L215.4 214.3 L214.8 215.6 L214.3 216.9 L213.9 218.2 L213.5 219.5 L213.2 220.8 L213.1 222.1 L213.3 223.5 L213.8 224.9 L214.2 226.4 L214.4 227.8 L214.1 229.2 L213.6 230.6 L213.0 232.1 L212.6 233.4 L212.2 234.8 L211.9 236.3 L211.7 237.6 L211.5 238.8 L211.3 239.8 L211.1 240.5 L210.9 241.3" stroke="#0099ff" stroke-width="2.00"/>
<path d="M210.9 241.3 L210.8 242.2 L210.7 243.3 L210.7 244.6 L210.6 245.8 L210.6 246.6" stroke="#00b2ff" stroke-width="2.00"/>
<path d="M239.5 216.9 L239.4 220.8 L239.2 224.7 L239.1 228.6 L239.0 232.5" stroke="#00e5ff" stroke-width="1.00"/>
<path d="M276.5 155.0 L275.8 155.6 L274.7 156.4 L273.7 157.3 L273.1 158.2 L273.0 158.9" stroke="#ff4c00" stroke-width="1.00"/>
<path d="M273.0 158.9 L273.3 159.7 L273.6 160.4 L273.7 161.0 L273.2 161.5 L272.5 161.9 L271.8 162.3 L271.3 162.8 L271.2 163.6 L271.3 164.4 L271.5 165.3" stroke="#ff6600" stroke-width="1.00"/>
<path d="M271.5 165.3 L271.6 166.0 L271.5 166.4" stroke="#ff8000" stroke-width="1.00"/>
<path d="M271.5 166.4 L271.4 166.7 L271.2 167.0 L271.0 167.4 L270.7 168.0 L270.4 168.8 L270.2 169.5" stroke="#ff8000" stroke-width="0.75"/>
<path d="M270.2 169.5 L270.0 170.0" stroke="#ff8000" stroke-width="0.50"/>
<path d="M240.2 39.2h.01M240.2 39.0h.01M240.7 41.0h.01M240.9 38.1h.01M241.3 40.1h.01M241.6 39.9h.01M242.4 41.2h.01M243.5 40.6h.01M243.6 40.6h.01M243.0 39.6h.01M244.7 41.4h.01M244.1 39.1h.01M243.9 40.5h.01M245.5 40.6h.01M245.2 40.2h.01M245.2 40.6h.01M244.9 40.6h.01M246.0 41.2h.01M246.1 39.3h.01M246.2 40.3h.01M247.4 40.3h.01M246.8 40.3h.01M247.2 40.0h.01M247.1 40.2h.01M248.4 40.7h.01M247.0 41.1h.01M248.1 42.2h.01M246.6 42.3h.01M247.8 42.1h.01M250.0 42.8h.01M246.4 43.0h.01M248.4 44.0h.01M248.3 43.8h.01M248.9 47.4h.01M247.8 47.5h.01M247.5 48.7h.01M246.6 48.2h.01M245.7 50.4h.01M245.2 52.2h.01M246.0 53.2h.01M244.7 52.9h.01M244.1 53.2h.01M244.3 54.3h.01M246.0 54.4h.01M243.5 54.4h.01M244.9 55.4h.01M244.4 55.3h.01M245.2 54.8h.01M244.5 54.9h.01M245.0 56.1h.01M244.8 56.5h.01M243.4 56.7h.01M245.0 57.0h.01M244.0 57.8h.01M238.9 47.0h.01M237.2 46.9h.01M239.2 47.9h.01M236.1 51.7h.01M235.1 52.2h.01M232.2 58.8h.01M232.7 58.6h.01M230.5 61.5h.01M227.5 66.9h.01M222.1 92.7h.01M224.9 94.5h.01M223.6 95.6h.01M225.3 97.4h.01M220.5 97.9h.01M223.2 99.5h.01M223.0 100.5h.01M222.3 100.4h.01M220.1 100.2h.01M223.1 100.8h.01M218.7 99.6h.01M220.3 104.2h.01M219.3 104.6h.01M218.7 105.0h.01M221.6 105.9h.01M218.6 105.7h.01M219.9 106.9h.01M219.8 109.2h.01M220.6 109.3h.01M219.3 111.2h.01M220.7 110.7h.01M220.1 110.8h.01M217.0 113.8h.01M219.5 116.7h.01M217.0 118.1h.01M314.6 56.7h.01M311.2 57.8h.01M317.1 52.9h.01M317.9 52.9h.01M318.8 52.8h.01M317.4 53.2h.01M316.3 53.8h.01M319.2 54.0h.01M316.6 53.5h.01M317.3 54.1h.01M318.4 54.7h.01M319.2 54.7h.01M318.6 54.6h.01M319.9 54.7h.01M316.2 55.7h.01M317.9 58.0h.01M317.6 58.6h.01M318.9 59.0h.01M317.7 59.3h.01M319.6 59.2h.01M320.6 61.4h.01M318.0 60.8h.01M318.0 61.1h.01M317.8 60.8h.01M319.0 62.6h.01M318.6 62.1h.01M317.6 62.9h.01M318.3 63.3h.01M318.8 64.2h.01M315.9 63.3h.01M315.6 63.5h.01M319.3 65.8h.01M317.7 64.9h.01M316.0 67.3h.01M316.1 68.2h.01M315.6 68.1h.01M314.8 68.8h.01M313.7 69.4h.01M313.8 70.6h.01M313.3 77.3h.01M231.0 61.3h.01M232.2 62.0h.01M234.5 60.2h.01M236.2 56.4h.01M330.2 84.1h.01M331.8 85.0h.01M332.4 86.8h.01M332.8 88.0h.01M332.3 88.2h.01M332.2 87.8h.01M334.5 88.4h.01M333.8 93.6h.01M332.7 94.4h.01M334.5 95.7h.01M333.3 96.1h.01M330.9 98.6h.01M331.8 100.4h.01M319.3 120.5h.01M315.7 119.7h.01M316.0 122.0h.01M315.9 120.9h.01M316.6 122.5h.01M315.1 122.4h.01M314.9 121.7h.01M315.3 123.2h.01M314.4 121.7h.01M314.3 123.0h.01M313.9 120.9h.01M314.2 123.0h.01M313.2 122.4h.01M313.8 122.5h.01M313.2 121.9h.01M313.7 123.6h.01M314.6 124.8h.01M314.6 124.7h.01M313.2 123.3h.01M312.3 123.2h.01M312.0 123.8h.01M312.9 125.6h.01M312.1 124.8h.01M324.9 94.6h.01M311.8 126.4h.01M311.8 126.0h.01M310.7 126.6h.01M311.0 128.3h.01M307.9 127.2h.01M308.9 127.9h.01M308.9 128.9h.01M308.1 130.8h.01M307.6 130.5h.01M306.7 131.2h.01M306.2 133.1h.01M307.1 133.5h.01M305.8 133.8h.01M304.2 134.2h.01M296.3 146.2h.01M296.1 146.5h.01M295.3 146.7h.01M289.2 152.7h.01M288.1 154.8h.01M234.9 136.1h.01M235.3 137.5h.01M236.7 138.1h.01M236.2 142.1h.01M237.1 143.6h.01M236.9 144.2h.01M236.1 144.2h.01M235.3 143.9h.01M237.3 147.1h.01" stroke="#ffff00" stroke-width="1.40"/>
<path d="M239.5 39.2h.01M240.5 40.1h.01M241.6 41.3h.01M242.1 39.8h.01M245.7 56.5h.01M244.4 56.3h.01M243.3 56.1h.01M243.0 56.2h.01M243.5 57.6h.01M244.6 58.3h.01M242.9 58.1h.01M243.6 58.7h.01M242.8 57.9h.01M242.7 58.9h.01M242.6 59.4h.01M244.2 59.8h.01M330.7 76.6h.01M332.6 76.8h.01M332.7 77.7h.01M330.0 77.2h.01M332.9 78.8h.01M330.1 77.6h.01M330.8 78.9h.01M331.4 79.5h.01M333.0 80.4h.01M331.1 80.3h.01M330.3 80.7h.01M330.3 81.7h.01M332.7 81.3h.01M329.9 80.9h.01M331.3 81.0h.01M330.9 82.1h.01M329.3 82.0h.01M332.4 81.8h.01M332.2 83.0h.01M329.2 83.5h.01M330.5 83.4h.01M332.8 81.9h.01M330.1 84.1h.01M331.7 84.0h.01M331.8 84.6h.01M331.1 84.9h.01M331.6 84.9h.01M334.1 84.7h.01M330.9 85.8h.01M330.3 86.1h.01M332.3 85.9h.01M334.4 84.5h.01M333.3 86.2h.01M333.6 85.9h.01M332.1 86.9h.01M333.5 86.4h.01M331.3 86.3h.01M333.0 87.2h.01M330.4 88.0h.01M330.6 88.2h.01M331.8 87.2h.01M332.4 88.4h.01M333.4 87.7h.01M333.5 88.5h.01M332.8 88.9h.01M332.4 88.9h.01M332.1 88.8h.01M334.0 89.4h.01M330.8 90.5h.01M335.7 89.0h.01M335.2 89.9h.01M333.4 90.1h.01M332.7 91.1h.01M334.5 90.2h.01M334.4 90.4h.01M334.6 90.3h.01M332.1 91.3h.01M334.5 91.5h.01M332.9 91.9h.01M334.7 91.7h.01M334.1 91.7h.01M333.4 91.6h.01M332.1 92.4h.01M333.8 92.3h.01M334.9 92.4h.01M333.6 92.6h.01M331.6 93.1h.01M335.8 93.8h.01M334.3 93.1h.01M335.3 94.0h.01M336.3 95.1h.01M336.3 94.8h.01M335.0 94.5h.01M333.8 94.7h.01M333.0 95.3h.01M333.5 95.0h.01M332.9 95.3h.01M335.1 95.6h.01M334.2 96.2h.01M333.5 95.9h.01M332.1 95.8h.01M332.9 95.9h.01M331.1 96.8h.01M333.3 97.3h.01M334.4 97.4h.01M332.0 96.8h.01M332.5 96.5h.01M332.8 96.9h.01M330.5 97.1h.01M331.6 97.3h.01M334.2 98.4h.01M332.0 97.4h.01M333.4 99.3h.01M331.9 98.6h.01M333.5 99.0h.01M331.5 98.2h.01M330.3 97.8h.01M333.1 100.0h.01M332.2 99.6h.01M332.5 99.2h.01M331.0 99.3h.01M331.3 98.7h.01M331.0 98.9h.01M331.7 100.1h.01M333.0 100.8h.01M332.7 100.4h.01M330.6 99.7h.01M330.7 100.9h.01M331.9 100.9h.01M330.1 100.8h.01M330.7 100.9h.01M332.3 101.5h.01M330.5 102.1h.01M330.7 101.4h.01M329.6 101.5h.01M328.7 100.6h.01M331.2 101.7h.01M330.8 103.2h.01M328.7 101.5h.01M331.2 102.8h.01M332.2 104.5h.01M331.3 104.5h.01M330.3 103.9h.01M329.6 103.8h.01M329.9 104.1h.01M328.7 104.0h.01M329.9 104.0h.01M327.3 104.0h.01M328.2 105.0h.01M330.1 106.8h.01M330.1 106.1h.01M326.5 106.0h.01M327.7 106.9h.01M328.3 108.3h.01M328.7 108.8h.01M328.5 109.0h.01M328.4 110.3h.01M328.7 110.5h.01M326.1 109.6h.01M328.3 111.0h.01M327.8 110.4h.01M324.8 108.5h.01M324.6 109.3h.01M325.7 111.1h.01M322.6 111.6h.01M324.4 113.3h.01M324.9 114.2h.01M322.9 112.5h.01M324.0 115.2h.01M325.3 115.5h.01M322.2 114.6h.01M319.5 112.1h.01M323.1 116.4h.01M322.5 115.7h.01M320.7 115.2h.01M320.6 115.4h.01M319.1 114.6h.01M320.5 116.7h.01M317.9 117.9h.01M319.9 117.6h.01M320.6 117.6h.01M321.2 117.9h.01M321.1 117.6h.01M320.5 117.9h.01M319.4 118.0h.01M322.3 118.5h.01M322.8 118.8h.01M320.8 118.2h.01M318.2 117.9h.01M321.6 120.2h.01M320.4 119.6h.01M318.4 117.4h.01M320.7 119.6h.01M320.4 120.3h.01M319.8 119.9h.01M319.6 119.2h.01M318.1 117.7h.01M319.5 119.7h.01M319.8 120.0h.01M318.2 119.2h.01M319.0 119.4h.01M318.9 120.3h.01M318.9 119.1h.01M320.2 122.6h.01M318.4 121.4h.01M318.1 121.1h.01M319.3 122.0h.01M319.2 123.0h.01M316.9 119.3h.01M317.4 119.5h.01M318.4 122.3h.01M318.1 123.0h.01M318.1 122.7h.01M318.7 123.2h.01M317.7 121.1h.01M317.1 122.1h.01M316.3 121.0h.01M317.7 123.6h.01M317.6 123.3h.01M317.2 123.9h.01M315.2 120.5h.01M316.1 122.2h.01M315.7 121.8h.01M315.8 122.2h.01M314.0 119.9h.01M315.9 123.9h.01M313.2 120.0h.01M314.7 123.9h.01M314.2 122.2h.01M313.9 123.0h.01M318.2 87.6h.01M322.6 89.1h.01M323.3 90.4h.01M323.4 91.2h.01M325.1 91.5h.01M324.8 92.4h.01M324.8 92.5h.01M323.8 93.6h.01M325.6 93.4h.01M325.3 94.5h.01M324.9 94.3h.01M325.5 95.5h.01M325.9 95.0h.01M326.6 95.7h.01M326.3 95.9h.01M326.2 96.8h.01M326.4 96.5h.01M327.6 96.6h.01M326.2 97.2h.01M325.8 97.5h.01M326.5 97.3h.01M325.9 97.7h.01M325.5 98.3h.01M326.7 99.2h.01M325.7 99.3h.01M325.3 98.2h.01M325.8 99.8h.01M325.1 99.5h.01M325.3 100.8h.01M323.9 99.7h.01M323.6 101.3h.01M324.3 100.9h.01M324.9 101.1h.01M324.4 101.9h.01M323.3 101.9h.01M322.8 103.4h.01M324.7 103.3h.01M324.5 103.1h.01M323.8 104.0h.01M324.0 106.0h.01M323.6 105.1h.01M323.2 106.1h.01M324.0 107.5h.01M236.1 135.8h.01M234.7 136.1h.01M236.0 137.0h.01M235.9 136.8h.01M235.8 137.3h.01M236.4 137.3h.01M235.4 138.9h.01M234.9 139.7h.01M235.0 139.6h.01M235.7 139.3h.01M236.3 140.1h.01M236.1 140.9h.01M235.9 141.3h.01M234.9 141.4h.01M236.4 142.7h.01M236.7 142.4h.01M236.4 143.5h.01M236.8 143.4h.01M236.7 145.0h.01M237.3 146.3h.01M235.8 146.0h.01M236.6 145.8h.01M236.6 146.7h.01" stroke="#ffdf00" stroke-width="1.40"/>
<path d="M242.8 40.3h.01M246.1 39.5h.01M248.2 40.9h.01M248.4 41.3h.01M248.0 42.6h.01M248.7 42.6h.01M247.0 43.6h.01M248.6 43.6h.01M248.8 44.9h.01M249.1 44.9h.01M246.9 44.2h.01M247.3 45.7h.01M247.2 45.2h.01M246.5 45.8h.01M246.9 45.1h.01M248.5 46.2h.01M250.0 45.7h.01M249.9 46.5h.01M248.5 46.1h.01M247.7 47.1h.01M249.4 47.0h.01M248.5 48.2h.01M247.8 47.8h.01M247.7 47.6h.01M246.9 48.6h.01M246.8 48.8h.01M247.4 49.3h.01M247.8 51.0h.01M246.2 50.2h.01M245.1 48.9h.01M245.7 49.8h.01M244.9 49.4h.01M245.7 51.1h.01M246.1 51.0h.01M244.3 51.1h.01M244.3 51.4h.01M245.2 51.6h.01M245.4 52.0h.01M244.7 52.0h.01M243.7 52.0h.01M244.1 52.0h.01M243.9 53.3h.01M239.4 47.7h.01M238.3 46.7h.01M238.4 46.7h.01M238.6 47.6h.01M238.1 47.6h.01M239.3 48.6h.01M236.2 47.4h.01M238.1 48.3h.01M236.6 47.1h.01M235.5 48.1h.01M233.5 47.9h.01M234.3 47.4h.01M235.8 47.8h.01M234.1 47.4h.01M237.1 49.8h.01M236.9 49.2h.01M235.6 49.1h.01M236.8 49.2h.01M234.0 49.0h.01M233.7 48.3h.01M237.4 51.0h.01M238.5 51.1h.01M238.3 50.5h.01M238.3 51.3h.01M236.4 50.2h.01M234.5 49.4h.01M238.2 51.2h.01M235.1 50.4h.01M236.4 51.5h.01M233.1 50.1h.01M235.3 50.5h.01M235.3 50.9h.01M234.8 50.3h.01M234.1 51.4h.01M237.2 52.8h.01M233.9 52.7h.01M234.8 52.6h.01M235.9 53.2h.01M234.4 52.7h.01M237.1 53.1h.01M235.1 52.9h.01M231.4 52.4h.01M234.6 53.5h.01M234.2 53.1h.01M235.3 53.4h.01M237.5 54.1h.01M232.6 54.0h.01M237.3 55.2h.01M236.5 55.1h.01M234.1 54.2h.01M236.9 55.1h.01M231.7 53.3h.01M232.0 54.5h.01M236.2 55.5h.01M231.2 54.4h.01M234.3 55.0h.01M232.0 54.4h.01M234.4 56.2h.01M231.1 55.6h.01M233.3 55.9h.01M233.6 56.4h.01M234.0 56.5h.01M231.6 55.0h.01M233.0 55.6h.01M230.2 55.6h.01M235.6 58.1h.01M236.1 57.6h.01M231.2 56.2h.01M234.2 56.9h.01M234.4 57.0h.01M235.0 57.2h.01M232.4 57.7h.01M234.1 57.6h.01M233.0 58.0h.01M233.1 57.8h.01M231.8 57.1h.01M232.0 58.1h.01M232.9 58.2h.01M232.9 58.6h.01M232.2 58.7h.01M234.7 59.8h.01M232.7 59.0h.01M229.9 58.9h.01M234.0 60.1h.01M233.7 59.8h.01M230.2 59.0h.01M231.4 59.8h.01M230.6 59.7h.01M233.4 60.7h.01M230.0 59.0h.01M230.6 61.0h.01M231.7 61.4h.01M233.4 61.8h.01M234.9 62.1h.01M230.1 60.5h.01M229.6 60.6h.01M231.6 61.8h.01M230.2 61.2h.01M232.9 62.0h.01M233.9 63.2h.01M231.9 62.0h.01M232.4 62.2h.01M228.5 61.6h.01M231.1 63.1h.01M232.4 62.8h.01M229.4 62.2h.01M230.0 62.3h.01M230.8 63.6h.01M230.9 63.9h.01M232.0 63.7h.01M229.8 62.9h.01M231.2 64.1h.01M232.7 65.1h.01M230.8 64.4h.01M230.9 64.7h.01M229.7 64.1h.01M228.1 64.3h.01M227.2 64.1h.01M230.7 65.3h.01M230.5 65.5h.01M226.9 65.2h.01M230.0 65.7h.01M230.2 66.3h.01M231.8 66.5h.01M230.2 65.9h.01M231.2 67.0h.01M232.5 67.6h.01M228.9 66.5h.01M229.5 66.7h.01M229.2 67.5h.01M228.5 67.8h.01M227.2 67.2h.01M228.0 68.9h.01M226.4 68.2h.01M229.3 68.3h.01M229.9 69.4h.01M229.8 69.1h.01M230.0 68.5h.01M228.0 69.1h.01M231.1 69.9h.01M230.2 69.6h.01M230.8 71.3h.01M228.6 70.5h.01M231.2 71.1h.01M230.6 71.3h.01M230.1 72.0h.01M232.0 72.1h.01M232.8 72.1h.01M228.0 72.0h.01M230.2 72.3h.01M229.1 73.3h.01M228.2 73.4h.01M230.8 73.4h.01M227.2 72.6h.01M226.1 72.5h.01M228.4 74.2h.01M227.0 73.6h.01M231.1 75.0h.01M227.7 74.6h.01M225.5 74.7h.01M231.2 75.3h.01M225.0 74.4h.01M230.3 75.0h.01M228.3 75.6h.01M230.7 76.5h.01M229.1 76.3h.01M227.0 76.2h.01M228.6 76.9h.01M228.3 77.0h.01M228.1 76.5h.01M224.5 77.1h.01M228.5 78.4h.01M227.4 78.4h.01M227.2 79.0h.01M229.0 79.4h.01M227.7 79.3h.01M229.0 80.4h.01M227.2 80.1h.01M225.2 80.0h.01M225.5 80.4h.01M227.6 82.7h.01M228.6 82.2h.01M227.4 82.1h.01M224.5 81.6h.01M227.9 83.4h.01M227.4 83.2h.01M226.4 83.2h.01M224.0 82.9h.01M228.2 84.7h.01M224.8 84.5h.01M224.7 84.4h.01M226.3 84.4h.01M225.6 85.8h.01M224.6 84.9h.01M228.0 86.7h.01M225.7 85.4h.01M227.4 87.5h.01M223.7 85.9h.01M224.2 85.6h.01M225.0 86.1h.01M223.8 85.3h.01M224.9 87.5h.01M223.2 86.2h.01M227.6 88.4h.01M222.2 86.3h.01M226.0 87.2h.01M223.7 87.2h.01M226.9 88.8h.01M224.1 88.1h.01M222.5 87.6h.01M226.7 89.3h.01M226.3 89.7h.01M224.4 88.9h.01M225.0 88.8h.01M221.7 88.8h.01M223.2 89.7h.01M224.1 89.4h.01M222.7 89.1h.01M221.4 89.8h.01M223.5 90.9h.01M225.2 90.7h.01M221.3 90.1h.01M223.9 90.7h.01M223.3 90.4h.01M224.2 91.1h.01M223.6 90.9h.01M221.9 90.5h.01M224.9 91.9h.01M223.1 91.7h.01M222.6 92.3h.01M223.0 91.9h.01M222.7 92.3h.01M224.3 92.8h.01M222.0 92.3h.01M223.4 91.9h.01M222.9 92.8h.01M222.8 93.4h.01M223.4 93.5h.01M222.1 93.2h.01M223.6 92.9h.01M223.0 93.7h.01M219.9 93.3h.01M221.1 93.2h.01M221.3 93.9h.01M223.1 94.3h.01M222.5 94.7h.01M221.5 94.4h.01M219.1 94.4h.01M222.7 95.0h.01M222.9 94.6h.01M221.4 94.2h.01M224.1 95.9h.01M221.7 95.9h.01M223.4 95.8h.01M223.5 96.3h.01M224.0 96.4h.01M224.8 96.7h.01M220.9 96.1h.01M223.5 96.5h.01M223.0 96.8h.01M222.9 96.5h.01M222.0 97.8h.01M223.4 97.4h.01M220.7 97.1h.01M218.4 96.9h.01M222.7 97.5h.01M223.7 98.1h.01M220.6 97.6h.01M223.9 98.7h.01M222.4 98.1h.01M220.6 97.9h.01M220.7 97.7h.01M218.4 98.6h.01M223.6 99.4h.01M219.7 98.7h.01M221.2 98.7h.01M221.4 98.9h.01M222.1 100.1h.01M219.2 100.8h.01M222.7 101.3h.01M218.5 100.5h.01M220.3 100.5h.01M219.2 100.3h.01M221.8 101.1h.01M221.2 102.1h.01M220.7 101.6h.01M220.6 101.4h.01M221.1 101.7h.01M220.6 102.0h.01M221.4 101.7h.01M220.7 102.5h.01M218.6 102.0h.01M220.3 102.9h.01M220.3 102.9h.01M220.8 102.4h.01M223.5 103.9h.01M217.9 103.5h.01M219.3 103.7h.01M217.7 103.3h.01M222.9 104.1h.01M220.8 104.6h.01M220.7 104.4h.01M220.2 104.2h.01M220.4 104.4h.01M220.3 105.7h.01M221.8 105.1h.01M218.1 105.3h.01M221.1 105.9h.01M220.8 105.7h.01M217.9 106.4h.01M219.6 106.5h.01M220.4 106.0h.01M219.7 106.1h.01M219.8 106.8h.01M217.7 107.0h.01M222.2 107.3h.01M217.1 107.2h.01M217.8 107.7h.01M217.4 107.9h.01M219.7 108.4h.01M218.9 107.6h.01M217.3 107.6h.01M219.7 108.5h.01M220.4 109.1h.01M217.7 108.9h.01M218.6 108.5h.01M219.0 109.8h.01M220.9 109.9h.01M220.9 109.5h.01M221.1 110.3h.01M219.3 109.8h.01M221.5 110.6h.01M220.0 111.1h.01M220.2 110.8h.01M220.8 111.8h.01M218.5 111.3h.01M220.9 111.6h.01M219.3 112.0h.01M218.8 111.2h.01M222.5 112.2h.01M217.0 112.6h.01M218.2 112.3h.01M221.3 112.2h.01M220.0 112.9h.01M219.8 112.8h.01M220.4 112.6h.01M218.8 113.1h.01M220.5 113.3h.01M219.6 113.3h.01M217.8 113.1h.01M219.1 113.4h.01M218.4 113.1h.01M219.0 114.3h.01M219.1 114.0h.01M219.7 114.5h.01M221.0 114.8h.01M220.8 115.2h.01M219.8 115.5h.01M216.9 114.6h.01M219.2 114.9h.01M218.3 114.9h.01M216.8 115.2h.01M218.0 115.5h.01M221.6 116.4h.01M218.0 116.1h.01M217.1 115.8h.01M220.3 117.0h.01M219.2 116.7h.01M219.5 117.5h.01M219.0 118.1h.01M218.7 118.3h.01M218.5 117.7h.01M219.5 118.7h.01M219.6 118.4h.01M220.1 119.5h.01M219.4 119.3h.01M219.1 120.3h.01M220.9 120.2h.01M219.3 121.4h.01M221.6 122.0h.01M221.0 122.2h.01M218.4 122.8h.01M219.6 122.3h.01M220.3 122.8h.01M219.3 124.1h.01M219.9 123.6h.01M220.5 124.9h.01M221.6 125.3h.01M219.5 127.1h.01M219.8 127.7h.01M239.7 50.7h.01M240.1 52.9h.01M279.7 45.2h.01M281.8 47.0h.01M282.8 47.6h.01M281.1 49.4h.01M286.1 42.1h.01M285.3 43.0h.01M286.1 44.2h.01M285.7 44.1h.01M287.6 44.4h.01M286.9 45.2h.01M288.0 46.4h.01M286.4 46.6h.01M288.7 55.3h.01M314.9 56.9h.01M312.8 56.5h.01M312.6 56.2h.01M314.0 57.9h.01M311.9 56.6h.01M314.7 57.9h.01M312.7 57.5h.01M311.8 57.9h.01M314.5 59.5h.01M312.1 58.2h.01M311.2 58.2h.01M312.0 60.1h.01M312.3 59.6h.01M311.6 59.5h.01M311.8 59.5h.01M311.9 59.3h.01M311.9 61.0h.01M311.7 60.7h.01M312.0 60.4h.01M311.8 60.4h.01M312.0 60.9h.01M311.2 61.2h.01M310.0 60.5h.01M310.4 61.2h.01M311.6 62.5h.01M310.7 62.0h.01M310.2 62.2h.01M310.1 61.7h.01M309.3 61.5h.01M309.3 62.5h.01M311.1 63.3h.01M308.7 63.0h.01M310.0 64.0h.01M308.9 64.8h.01M308.8 64.1h.01M310.0 65.0h.01M307.0 64.4h.01M308.5 65.4h.01M309.5 65.6h.01M308.0 65.3h.01M307.1 65.4h.01M307.7 66.7h.01M306.1 65.3h.01M307.4 66.1h.01M306.3 66.7h.01M306.9 66.7h.01M307.6 68.9h.01M304.9 67.4h.01M306.7 68.7h.01M304.1 68.0h.01M303.5 67.8h.01M303.6 69.8h.01M305.9 70.4h.01M305.2 70.0h.01M305.2 71.1h.01M303.6 72.3h.01M317.4 54.9h.01M319.0 54.3h.01M317.2 55.8h.01M318.2 55.7h.01M318.0 56.5h.01M317.0 56.6h.01M318.9 56.0h.01M318.1 56.3h.01M317.2 56.6h.01M317.4 58.1h.01M319.5 56.1h.01M318.9 57.3h.01M318.2 57.2h.01M318.9 58.4h.01M319.0 57.8h.01M318.6 58.3h.01M319.6 59.0h.01M318.0 59.1h.01M320.9 59.5h.01M319.8 60.0h.01M320.8 59.8h.01M319.1 60.6h.01M319.0 60.5h.01M319.5 60.4h.01M319.8 61.6h.01M320.6 62.7h.01M320.0 63.3h.01M316.8 62.1h.01M318.5 62.8h.01M319.0 64.9h.01M318.5 63.8h.01M315.8 63.8h.01M317.5 65.8h.01M317.1 65.1h.01M315.1 64.6h.01M316.5 64.8h.01M314.5 65.1h.01M315.3 65.5h.01M316.0 65.9h.01M315.7 65.4h.01M316.2 67.7h.01M316.9 68.4h.01M315.4 66.6h.01M316.2 66.8h.01M314.2 67.1h.01M315.2 67.1h.01M313.7 66.2h.01M314.4 68.1h.01M313.4 67.8h.01M314.8 68.6h.01M312.9 66.9h.01M312.1 68.5h.01M315.2 69.1h.01M316.2 70.0h.01M314.8 69.8h.01M313.3 70.0h.01M314.1 69.6h.01M314.6 70.2h.01M311.7 70.8h.01M314.6 70.4h.01M315.1 71.1h.01M313.9 71.4h.01M312.8 71.3h.01M313.7 72.1h.01M311.9 72.1h.01M313.4 72.8h.01M314.3 73.1h.01M312.9 72.3h.01M315.4 72.9h.01M312.6 73.1h.01M315.2 73.5h.01M312.9 73.0h.01M313.6 74.7h.01M313.4 74.1h.01M313.9 75.5h.01M314.3 76.0h.01M313.4 75.8h.01M313.5 76.3h.01M314.6 76.9h.01M312.5 77.0h.01M312.7 77.1h.01M312.3 77.9h.01M312.2 77.5h.01M311.1 78.5h.01M310.7 78.1h.01M311.2 78.5h.01M312.7 80.1h.01M309.9 77.9h.01M311.0 78.8h.01M311.0 79.4h.01M308.9 79.0h.01M310.5 81.6h.01M309.3 81.5h.01M308.9 80.5h.01M307.8 81.7h.01M308.8 82.1h.01M307.0 83.3h.01M305.5 82.6h.01M307.7 83.2h.01M307.3 83.7h.01M307.7 84.3h.01M303.4 89.6h.01M250.7 44.3h.01M281.8 49.4h.01M291.7 48.9h.01M291.0 46.7h.01M308.2 64.5h.01M309.1 62.7h.01M308.6 62.4h.01M308.9 63.2h.01M307.6 62.6h.01M307.5 61.9h.01M307.2 60.9h.01M306.3 61.5h.01M306.1 60.1h.01M306.5 60.4h.01M305.0 60.4h.01M304.7 59.8h.01M305.5 59.0h.01M304.0 59.2h.01M304.0 58.6h.01M304.0 59.1h.01M304.8 57.7h.01M228.0 66.3h.01M230.3 66.7h.01M230.0 67.0h.01M229.6 67.3h.01M229.8 65.7h.01M231.5 66.8h.01M230.5 66.5h.01M228.8 65.8h.01M230.9 65.3h.01M230.9 65.9h.01M229.5 65.2h.01M231.7 66.3h.01M230.6 64.2h.01M232.2 65.6h.01M230.8 64.3h.01M230.4 63.1h.01M229.9 62.9h.01M232.7 63.7h.01M231.4 62.7h.01M231.8 63.3h.01M232.2 62.6h.01M231.2 61.5h.01M232.0 62.1h.01M232.6 60.8h.01M232.5 61.3h.01M231.2 60.7h.01M233.8 62.3h.01M232.0 60.4h.01M232.6 59.9h.01M232.9 60.7h.01M234.0 61.1h.01M233.4 60.1h.01M232.7 59.3h.01M232.2 58.9h.01M235.0 59.2h.01M234.0 59.1h.01M233.6 58.9h.01M232.9 57.2h.01M235.5 58.3h.01M234.3 57.8h.01M233.8 58.2h.01M235.6 57.3h.01M235.2 58.1h.01M234.3 57.4h.01M233.6 56.1h.01M235.0 56.9h.01M235.0 56.6h.01M234.9 56.4h.01M235.9 56.2h.01M236.9 56.3h.01M234.5 55.5h.01M235.0 54.5h.01M235.8 54.4h.01M312.7 122.0h.01M313.1 123.4h.01M313.7 123.6h.01M312.4 124.2h.01M310.9 123.8h.01M313.0 124.2h.01M313.4 124.7h.01M311.5 125.0h.01M311.3 124.7h.01M311.7 125.2h.01M311.3 124.5h.01M310.7 124.1h.01M312.0 125.5h.01M311.5 126.1h.01M310.9 125.6h.01M310.3 126.1h.01M309.7 125.3h.01M310.1 125.7h.01M310.6 127.4h.01M309.7 126.6h.01M310.8 127.5h.01M309.0 126.8h.01M308.4 127.1h.01M309.3 126.9h.01M308.9 127.4h.01M307.3 126.6h.01M308.0 129.3h.01M307.0 127.6h.01M309.0 129.4h.01M306.6 129.3h.01M307.6 129.3h.01M307.0 128.8h.01M308.0 129.6h.01M307.6 130.3h.01M307.4 130.1h.01M307.5 131.7h.01M305.2 130.2h.01M304.4 130.2h.01M304.7 130.9h.01M306.4 131.4h.01M305.9 131.8h.01M304.6 131.7h.01M305.6 132.4h.01M304.6 132.8h.01M304.4 132.8h.01M303.5 132.3h.01M304.5 134.3h.01M303.3 133.2h.01M304.1 133.9h.01M306.5 135.1h.01M305.0 135.4h.01M305.7 136.4h.01M305.5 135.8h.01M304.2 136.0h.01M304.8 136.6h.01M304.1 136.3h.01M303.1 135.7h.01M305.7 137.5h.01M302.5 137.0h.01M304.2 137.8h.01M303.4 137.7h.01M303.7 137.6h.01M301.3 136.1h.01M302.4 138.3h.01M302.9 138.0h.01M302.2 139.2h.01M302.2 139.1h.01M302.8 139.8h.01M301.5 139.8h.01M301.1 137.7h.01M301.4 140.2h.01M299.9 139.5h.01M300.7 139.7h.01M300.1 139.9h.01M299.4 139.6h.01M299.7 140.0h.01M299.8 141.3h.01M299.6 141.3h.01M297.9 140.9h.01M297.9 141.2h.01M297.7 140.6h.01M297.9 141.9h.01M296.9 140.8h.01M297.7 141.5h.01M296.6 141.1h.01M296.4 142.9h.01M297.0 142.5h.01M295.3 142.5h.01M294.8 143.1h.01M294.9 143.4h.01M294.7 144.3h.01M295.4 145.4h.01M292.6 143.9h.01M292.9 146.4h.01M291.9 146.2h.01M291.3 145.8h.01M291.3 146.9h.01M288.7 145.7h.01M290.0 148.4h.01M287.5 146.9h.01M287.8 148.4h.01M288.4 149.6h.01M287.6 148.7h.01M286.4 149.1h.01M286.2 150.7h.01M287.5 151.0h.01M283.7 150.5h.01M283.5 152.2h.01M282.5 152.2h.01M282.8 152.9h.01M281.5 153.1h.01M282.5 154.0h.01M280.1 153.9h.01M279.7 154.1h.01M278.7 153.9h.01M278.2 156.4h.01M279.1 158.1h.01M277.8 157.5h.01M276.0 158.2h.01M275.4 158.8h.01M275.5 158.9h.01M276.4 160.6h.01M275.0 162.1h.01M276.4 163.3h.01M274.5 163.7h.01M274.7 164.9h.01M273.1 165.0h.01M271.8 166.6h.01M271.4 166.8h.01M271.3 166.6h.01M271.7 167.6h.01M269.7 167.9h.01M269.9 170.1h.01M267.1 178.4h.01M264.4 182.7h.01M263.0 185.6h.01M263.5 186.9h.01M261.2 192.1h.01M260.8 194.3h.01M297.2 147.1h.01M296.5 147.4h.01M295.7 147.4h.01M295.1 147.7h.01M294.7 146.9h.01M294.4 148.4h.01M294.9 148.3h.01M293.8 148.9h.01M293.7 149.0h.01M294.4 148.9h.01M293.8 149.6h.01M293.1 149.6h.01M293.5 151.4h.01M293.3 150.6h.01M291.8 149.6h.01M292.0 150.3h.01M291.3 149.7h.01M290.5 150.2h.01M291.2 151.3h.01M291.7 151.5h.01M289.8 151.3h.01M290.5 151.2h.01M289.9 150.6h.01M289.6 152.5h.01M289.0 151.2h.01M288.7 151.6h.01M289.0 153.1h.01M287.9 152.4h.01M288.3 153.0h.01M288.3 153.6h.01M287.9 154.2h.01M286.3 154.6h.01M285.9 153.8h.01M286.5 154.7h.01M286.6 155.6h.01M285.6 155.6h.01M286.5 156.1h.01M285.6 156.6h.01M283.9 156.3h.01M285.4 158.3h.01M284.9 157.8h.01M283.7 157.5h.01M283.7 159.2h.01M282.5 159.7h.01M280.6 162.5h.01M281.5 163.1h.01M276.6 170.6h.01" stroke="#dfff20" stroke-width="1.40"/>
<path d="M243.9 59.1h.01M244.2 59.5h.01M241.8 60.4h.01M243.8 59.9h.01M241.3 60.7h.01M242.9 61.5h.01M243.7 62.0h.01M319.9 77.2h.01M333.4 73.4h.01M334.7 75.5h.01M333.5 75.0h.01M333.5 75.3h.01M334.5 75.7h.01M331.7 74.7h.01M332.8 75.9h.01M331.3 75.8h.01M331.9 76.0h.01M331.5 75.1h.01M332.0 76.9h.01M332.1 77.1h.01M333.2 78.6h.01M332.4 78.1h.01M330.8 78.5h.01M329.7 77.6h.01M332.2 79.2h.01M332.2 79.5h.01M329.7 78.9h.01M329.0 80.3h.01M331.6 80.7h.01M331.1 80.0h.01M332.3 81.6h.01M333.1 82.2h.01M331.9 83.7h.01M332.4 83.6h.01M332.8 84.0h.01M335.8 89.9h.01M331.8 91.8h.01M334.2 92.5h.01M334.6 94.6h.01M332.4 95.2h.01M333.8 96.5h.01M333.3 98.3h.01M330.2 96.8h.01M329.1 97.6h.01M330.7 99.5h.01M330.6 101.1h.01M328.5 101.0h.01M329.5 101.2h.01M329.1 102.3h.01M331.4 102.7h.01M332.8 103.6h.01M329.1 102.8h.01M330.2 103.7h.01M331.3 104.4h.01M328.5 103.5h.01M328.8 104.2h.01M329.3 104.0h.01M331.0 104.9h.01M330.5 105.4h.01M329.7 105.1h.01M327.3 104.4h.01M328.7 105.0h.01M329.8 105.8h.01M329.7 106.8h.01M328.7 105.9h.01M331.1 106.9h.01M330.4 106.3h.01M327.8 105.1h.01M330.5 108.0h.01M328.5 106.9h.01M330.2 107.6h.01M329.3 106.7h.01M327.6 106.1h.01M328.2 106.7h.01M326.2 105.7h.01M325.4 106.2h.01M327.3 106.7h.01M329.7 108.4h.01M330.3 109.5h.01M327.6 107.0h.01M329.7 108.7h.01M326.9 107.9h.01M327.9 108.3h.01M325.8 107.0h.01M327.2 108.2h.01M325.0 107.8h.01M328.6 110.4h.01M327.7 109.2h.01M327.5 109.3h.01M328.3 109.8h.01M325.6 108.9h.01M328.5 111.2h.01M325.5 108.9h.01M325.3 110.3h.01M324.4 109.2h.01M327.0 110.8h.01M324.3 109.6h.01M324.5 109.0h.01M326.1 110.1h.01M325.7 111.0h.01M326.7 112.1h.01M326.0 112.0h.01M326.7 112.2h.01M326.0 112.1h.01M324.2 109.8h.01M325.1 112.1h.01M324.9 112.5h.01M324.6 111.7h.01M325.5 113.0h.01M324.1 111.5h.01M326.3 112.8h.01M324.7 111.6h.01M324.6 112.2h.01M324.2 112.7h.01M324.5 112.3h.01M323.8 112.4h.01M322.4 110.6h.01M323.0 111.8h.01M321.4 110.6h.01M321.8 111.7h.01M322.5 112.1h.01M322.8 111.9h.01M321.9 112.3h.01M322.7 113.3h.01M322.8 113.7h.01M324.3 114.6h.01M320.1 111.6h.01M322.0 114.0h.01M322.2 114.8h.01M320.7 112.7h.01M321.5 113.9h.01M322.9 114.4h.01M323.2 115.8h.01M322.4 115.3h.01M322.1 115.6h.01M322.6 116.1h.01M320.9 116.1h.01M321.2 115.3h.01M318.8 114.6h.01M321.9 116.2h.01M319.0 116.6h.01M318.6 116.0h.01M317.6 116.5h.01M318.9 116.6h.01M321.9 117.1h.01M321.3 116.6h.01M319.6 117.5h.01M318.5 118.3h.01M321.4 119.6h.01M321.2 119.7h.01M320.8 118.9h.01M319.4 119.5h.01M319.0 119.6h.01M318.8 121.9h.01M319.0 122.4h.01M317.4 81.3h.01M317.9 81.0h.01M317.8 81.9h.01M317.9 81.7h.01M316.9 81.6h.01M318.5 82.8h.01M317.8 83.5h.01M317.9 83.9h.01M318.2 84.6h.01M318.5 84.4h.01M317.4 85.5h.01M316.3 85.6h.01M318.1 86.4h.01M317.6 86.8h.01M317.0 86.5h.01M319.2 86.9h.01M317.9 87.2h.01M317.9 88.1h.01M318.1 87.9h.01M318.4 87.8h.01M319.5 88.6h.01M319.1 88.2h.01M319.4 88.0h.01M320.3 89.1h.01M320.0 88.2h.01M320.8 87.2h.01M321.1 89.3h.01M321.3 88.7h.01M322.1 88.9h.01M322.4 89.0h.01M321.6 88.8h.01M323.3 88.2h.01M322.0 89.9h.01M321.9 90.9h.01M323.1 90.4h.01M323.2 91.8h.01M325.2 91.4h.01M324.5 91.8h.01M325.0 92.3h.01M325.3 93.1h.01M324.6 99.7h.01M324.4 100.1h.01M323.7 103.8h.01M324.6 104.3h.01M324.8 105.4h.01M325.3 104.8h.01M324.6 104.8h.01M324.7 106.3h.01M322.9 106.4h.01M324.6 106.8h.01M323.2 107.3h.01M323.1 106.9h.01M235.8 138.9h.01M236.3 145.4h.01" stroke="#ffbf00" stroke-width="1.40"/>
<path d="M244.2 61.3h.01M242.7 61.0h.01M242.1 61.7h.01M243.3 62.2h.01M241.0 61.8h.01M241.9 62.0h.01M243.2 63.3h.01M240.9 63.3h.01M241.9 63.0h.01M319.2 81.6h.01M317.8 81.0h.01M317.8 81.5h.01M317.1 80.9h.01M318.5 79.9h.01M317.7 80.4h.01M317.1 79.8h.01M318.1 80.2h.01M319.4 79.7h.01M317.8 78.5h.01M320.0 79.9h.01M318.5 78.3h.01M317.7 78.4h.01M319.9 78.2h.01M319.2 77.9h.01M319.2 78.2h.01M320.2 77.5h.01M320.6 75.8h.01M318.8 75.2h.01M321.4 75.4h.01M321.1 71.6h.01M320.9 72.3h.01M321.1 72.4h.01M323.8 73.5h.01M324.6 72.0h.01M324.8 71.1h.01M325.4 69.4h.01M330.8 70.7h.01M330.1 72.6h.01M331.3 72.5h.01M331.6 72.3h.01M331.7 70.3h.01M332.1 71.4h.01M332.1 73.5h.01M332.6 72.0h.01M332.7 72.3h.01M332.6 72.3h.01M332.4 73.3h.01M333.3 72.6h.01M334.1 72.9h.01M334.8 72.5h.01M333.4 73.2h.01M333.8 73.1h.01M333.2 73.3h.01M334.2 73.4h.01M334.3 73.6h.01M332.4 73.8h.01M333.9 75.2h.01M332.2 75.0h.01M331.7 76.0h.01M322.8 113.0h.01M322.1 115.9h.01M318.3 81.1h.01M318.0 82.6h.01M269.7 170.0h.01" stroke="#ff9f00" stroke-width="1.40"/>
<path d="M241.2 62.8h.01M241.9 63.8h.01M318.6 79.7h.01M318.1 78.4h.01M319.9 76.9h.01M321.3 76.3h.01M320.9 75.8h.01M320.6 76.0h.01M319.7 74.9h.01M321.1 75.3h.01M319.7 73.6h.01M319.6 74.5h.01M319.7 73.8h.01M319.3 74.1h.01M320.5 73.7h.01M321.2 73.8h.01M320.6 73.7h.01M320.8 73.5h.01M320.7 73.3h.01M322.7 74.6h.01M321.9 72.6h.01M322.1 71.5h.01M323.6 74.5h.01M323.3 73.2h.01M322.8 70.9h.01M323.7 71.4h.01M324.7 73.5h.01M324.3 71.6h.01M323.6 71.7h.01M325.1 72.8h.01M325.4 72.9h.01M324.7 71.3h.01M326.2 71.5h.01M325.4 70.8h.01M326.5 74.1h.01M326.8 73.4h.01M326.8 72.5h.01M326.5 72.9h.01M326.4 71.5h.01M326.9 72.2h.01M327.8 73.5h.01M327.8 72.1h.01M327.3 73.4h.01M327.3 72.2h.01M328.6 72.4h.01M328.9 72.5h.01M328.5 71.8h.01M329.0 70.0h.01M329.6 71.7h.01M328.8 73.0h.01M329.3 70.6h.01M329.8 71.6h.01M329.4 72.7h.01M330.5 71.4h.01M330.0 71.9h.01M330.8 70.7h.01M330.7 73.3h.01M331.0 74.0h.01M332.3 73.5h.01M331.7 72.4h.01M333.3 72.3h.01M335.3 74.3h.01M273.6 160.1h.01M271.9 161.3h.01M272.4 161.0h.01M271.8 161.4h.01M271.6 163.3h.01M272.0 164.1h.01M271.4 163.8h.01M269.8 163.6h.01M270.6 165.6h.01M273.1 165.2h.01M271.6 165.8h.01M273.2 167.4h.01M271.2 166.7h.01M271.9 167.2h.01M271.2 167.7h.01M270.3 167.5h.01M272.0 168.8h.01M269.1 168.8h.01M270.7 168.5h.01M270.6 170.1h.01" stroke="#ff8000" stroke-width="1.40"/>
<path d="M238.0 47.5h.01M234.4 48.1h.01M236.5 48.9h.01M234.2 51.2h.01M232.8 51.4h.01M234.2 51.4h.01M233.8 53.0h.01M231.9 54.9h.01M234.6 55.7h.01M236.0 58.4h.01M232.4 58.7h.01M233.0 59.7h.01M231.4 59.6h.01M230.5 60.1h.01M231.0 59.5h.01M232.6 61.3h.01M231.2 62.3h.01M230.1 62.5h.01M231.3 63.3h.01M228.1 62.2h.01M233.2 65.4h.01M231.4 65.0h.01M231.1 65.0h.01M229.2 64.5h.01M230.1 65.6h.01M230.8 65.6h.01M228.4 65.5h.01M232.0 66.9h.01M227.8 66.9h.01M229.4 67.4h.01M227.7 67.2h.01M229.8 68.0h.01M228.6 67.5h.01M231.9 68.2h.01M230.1 68.3h.01M229.8 68.9h.01M232.2 69.5h.01M228.1 69.7h.01M230.7 69.5h.01M229.6 69.8h.01M233.2 70.1h.01M228.0 70.4h.01M231.6 71.2h.01M226.9 70.4h.01M230.1 71.1h.01M229.1 71.6h.01M227.7 71.3h.01M228.1 71.8h.01M229.0 72.4h.01M230.4 72.4h.01M230.0 72.4h.01M227.1 72.5h.01M231.4 72.5h.01M227.7 73.0h.01M230.3 73.7h.01M228.0 74.3h.01M225.4 73.4h.01M231.1 75.0h.01M228.7 74.0h.01M230.3 75.5h.01M228.5 75.1h.01M227.5 76.2h.01M228.2 76.0h.01M230.2 76.2h.01M230.5 76.4h.01M227.1 76.5h.01M227.9 76.8h.01M227.8 76.4h.01M224.4 76.5h.01M229.9 78.3h.01M226.1 76.9h.01M228.2 77.5h.01M229.1 77.7h.01M226.0 77.0h.01M226.1 78.4h.01M228.7 79.2h.01M226.9 78.0h.01M225.4 78.4h.01M228.0 78.8h.01M226.9 79.4h.01M227.0 79.3h.01M227.6 79.3h.01M229.0 80.7h.01M229.7 81.0h.01M229.1 81.0h.01M228.8 80.8h.01M227.7 81.0h.01M227.3 81.3h.01M230.4 81.8h.01M225.3 80.4h.01M227.8 81.2h.01M226.5 80.8h.01M225.3 82.1h.01M224.1 81.5h.01M228.2 82.4h.01M225.4 82.8h.01M227.5 83.4h.01M224.5 82.6h.01M228.0 83.6h.01M224.8 83.6h.01M226.2 83.9h.01M222.7 82.8h.01M226.4 83.9h.01M226.3 83.7h.01M226.9 85.4h.01M225.1 84.1h.01M226.8 85.0h.01M226.3 85.1h.01M225.5 85.0h.01M226.7 86.3h.01M223.3 84.5h.01M227.2 87.4h.01M225.2 86.2h.01M223.2 86.7h.01M227.0 87.6h.01M223.8 88.0h.01M223.6 87.6h.01M224.4 88.3h.01M224.3 88.2h.01M223.9 89.1h.01M222.1 87.8h.01M222.3 89.5h.01M224.8 90.0h.01M224.3 89.9h.01M222.2 90.3h.01M223.2 91.4h.01M223.4 91.5h.01M222.5 92.6h.01M222.5 103.5h.01M222.4 103.7h.01M220.0 107.6h.01M218.5 117.0h.01M218.5 117.1h.01M218.8 118.7h.01M218.4 118.9h.01M220.8 118.7h.01M219.0 119.5h.01M219.7 119.9h.01M220.2 119.9h.01M218.5 121.1h.01M220.2 119.9h.01M220.5 121.3h.01M220.1 121.8h.01M221.5 120.6h.01M221.5 122.7h.01M218.8 123.0h.01M220.7 123.6h.01M221.1 124.4h.01M221.5 123.8h.01M219.7 124.8h.01M218.7 125.4h.01M219.9 124.6h.01M220.1 125.6h.01M221.3 125.6h.01M221.3 125.2h.01M220.7 127.1h.01M221.6 126.3h.01M221.5 126.0h.01M220.8 127.3h.01M221.1 127.1h.01M221.0 127.9h.01M220.3 129.3h.01M222.8 127.8h.01M221.2 128.7h.01M221.8 128.7h.01M221.4 129.1h.01M222.3 129.4h.01M222.1 130.3h.01M222.5 129.4h.01M223.7 129.9h.01M222.2 130.4h.01M222.5 130.3h.01M223.9 130.8h.01M223.1 132.3h.01M223.5 133.2h.01M222.8 135.2h.01M239.4 51.3h.01M239.1 50.5h.01M240.1 51.6h.01M240.3 51.3h.01M240.8 51.6h.01M241.9 52.6h.01M240.2 51.9h.01M241.7 52.8h.01M238.8 51.9h.01M242.6 53.3h.01M240.0 52.9h.01M239.7 52.5h.01M241.6 53.7h.01M237.6 53.5h.01M240.4 53.7h.01M238.5 53.8h.01M239.1 53.3h.01M240.0 54.9h.01M238.5 54.5h.01M239.8 54.5h.01M239.8 54.7h.01M240.7 56.4h.01M238.7 55.6h.01M240.8 56.3h.01M240.0 55.4h.01M240.9 57.4h.01M241.7 57.4h.01M238.0 56.2h.01M238.6 57.2h.01M238.0 56.9h.01M237.8 57.6h.01M236.2 57.4h.01M237.3 57.8h.01M239.6 59.6h.01M239.2 60.1h.01M239.5 60.4h.01M235.4 59.6h.01M236.9 61.5h.01M237.5 61.5h.01M239.0 63.5h.01M238.1 62.6h.01M237.0 63.0h.01M238.0 64.2h.01M236.5 63.5h.01M237.6 65.8h.01M237.8 65.1h.01M232.9 68.1h.01M255.8 38.5h.01M256.4 38.8h.01M255.9 39.3h.01M255.6 39.4h.01M256.4 39.9h.01M253.7 40.3h.01M253.2 40.1h.01M253.4 40.1h.01M254.3 41.6h.01M253.9 42.8h.01M254.1 45.4h.01M254.6 48.2h.01M267.3 43.3h.01M267.6 43.1h.01M266.7 45.1h.01M264.9 44.7h.01M265.2 45.4h.01M266.9 47.5h.01M263.5 45.6h.01M266.8 47.4h.01M263.2 46.7h.01M265.1 49.1h.01M261.2 52.9h.01M259.6 51.1h.01M258.3 56.2h.01M282.2 44.4h.01M283.2 44.9h.01M281.7 44.8h.01M280.4 45.0h.01M279.4 45.9h.01M282.5 46.0h.01M283.1 45.9h.01M281.9 47.1h.01M282.4 46.7h.01M282.5 47.2h.01M282.9 47.6h.01M281.5 48.0h.01M281.2 47.6h.01M282.3 48.8h.01M281.4 48.4h.01M282.6 48.1h.01M284.1 48.6h.01M283.0 49.2h.01M284.2 49.6h.01M282.3 50.4h.01M282.9 50.6h.01M282.3 50.7h.01M282.9 50.4h.01M283.1 51.6h.01M282.1 51.4h.01M283.4 51.4h.01M281.2 51.8h.01M282.9 52.3h.01M282.2 51.7h.01M281.9 52.9h.01M281.1 52.6h.01M280.8 53.6h.01M280.7 54.0h.01M280.0 54.6h.01M280.0 54.3h.01M281.2 55.9h.01M285.7 41.9h.01M287.0 41.6h.01M284.8 42.0h.01M285.8 42.0h.01M287.3 42.6h.01M285.5 43.0h.01M286.5 42.8h.01M285.3 44.0h.01M285.5 44.3h.01M285.1 43.7h.01M285.0 44.7h.01M286.7 44.5h.01M285.1 45.4h.01M288.1 45.2h.01M286.3 45.7h.01M285.1 45.5h.01M289.4 44.9h.01M284.8 46.5h.01M286.5 46.9h.01M286.7 47.6h.01M288.4 46.4h.01M287.9 47.4h.01M287.4 47.2h.01M287.4 47.2h.01M285.6 48.8h.01M286.6 48.8h.01M288.4 47.2h.01M286.8 49.1h.01M290.0 48.0h.01M287.4 48.6h.01M289.1 48.2h.01M288.8 49.4h.01M286.7 50.2h.01M289.0 49.2h.01M287.2 50.2h.01M288.5 50.5h.01M289.2 50.2h.01M290.2 51.1h.01M288.4 51.3h.01M289.4 51.6h.01M290.7 52.3h.01M287.7 52.1h.01M288.8 52.5h.01M290.5 51.9h.01M289.7 51.8h.01M289.6 53.0h.01M288.6 53.3h.01M289.5 52.7h.01M288.1 53.2h.01M289.0 54.0h.01M287.3 54.0h.01M291.2 54.2h.01M290.4 55.2h.01M290.7 54.6h.01M291.1 54.6h.01M289.2 55.6h.01M291.3 56.5h.01M290.8 55.8h.01M291.3 56.2h.01M287.6 56.6h.01M291.2 58.1h.01M290.8 58.4h.01M289.8 59.0h.01M288.4 59.5h.01M290.4 59.4h.01M287.0 59.6h.01M286.3 59.2h.01M288.4 60.2h.01M287.7 60.1h.01M289.1 61.3h.01M286.8 61.4h.01M286.8 63.7h.01M293.4 72.1h.01M313.0 58.2h.01M310.7 57.4h.01M312.0 58.7h.01M312.9 59.7h.01M311.7 58.8h.01M309.7 60.7h.01M310.3 62.6h.01M310.3 63.5h.01M307.5 62.3h.01M310.0 63.9h.01M309.9 64.5h.01M307.9 63.9h.01M309.2 65.6h.01M308.3 66.0h.01M306.0 64.4h.01M308.0 65.4h.01M307.0 66.5h.01M306.1 66.5h.01M308.3 67.7h.01M304.8 67.3h.01M304.5 67.8h.01M304.1 67.0h.01M305.3 68.8h.01M304.9 69.5h.01M304.9 69.1h.01M306.8 70.2h.01M304.1 68.5h.01M303.3 69.1h.01M303.9 70.0h.01M305.1 71.4h.01M304.3 70.7h.01M302.6 69.8h.01M302.8 70.4h.01M302.3 70.1h.01M305.0 73.0h.01M304.3 72.3h.01M302.0 71.0h.01M303.6 73.3h.01M302.3 71.8h.01M303.4 72.1h.01M303.4 73.5h.01M301.9 72.4h.01M301.2 71.4h.01M301.5 72.0h.01M300.4 72.6h.01M300.0 71.8h.01M301.9 74.2h.01M301.3 72.3h.01M302.2 75.7h.01M301.0 73.9h.01M300.2 73.6h.01M299.4 72.0h.01M299.4 73.7h.01M299.5 73.6h.01M300.0 73.7h.01M300.3 74.8h.01M301.9 75.9h.01M299.2 74.3h.01M299.1 74.7h.01M300.0 75.1h.01M298.2 73.8h.01M299.2 75.8h.01M299.2 76.5h.01M299.2 77.3h.01M298.1 76.4h.01M298.1 75.6h.01M297.6 77.4h.01M297.8 76.9h.01M296.9 77.4h.01M297.9 78.0h.01M296.8 77.0h.01M297.7 78.1h.01M295.5 77.7h.01M296.2 77.9h.01M294.9 79.7h.01M295.4 79.9h.01M295.0 80.7h.01M317.4 58.7h.01M318.1 62.5h.01M316.5 62.7h.01M313.6 71.7h.01M312.0 73.0h.01M314.9 74.7h.01M312.1 74.2h.01M311.6 75.2h.01M312.6 76.3h.01M313.7 76.8h.01M312.2 77.1h.01M313.3 77.5h.01M312.6 78.3h.01M311.1 77.5h.01M311.6 77.3h.01M311.8 79.0h.01M311.3 78.2h.01M310.8 79.0h.01M311.1 80.5h.01M309.9 80.0h.01M311.1 80.2h.01M309.8 80.4h.01M309.9 80.3h.01M310.8 80.9h.01M308.5 81.1h.01M308.5 81.0h.01M308.6 81.4h.01M307.4 81.0h.01M309.2 81.9h.01M309.6 83.5h.01M310.0 83.5h.01M307.3 81.9h.01M306.7 81.8h.01M307.3 83.1h.01M305.4 83.4h.01M305.9 83.8h.01M307.8 84.2h.01M307.1 85.5h.01M305.8 84.0h.01M306.5 84.8h.01M306.0 85.1h.01M307.5 86.3h.01M306.3 85.4h.01M307.4 86.7h.01M305.6 85.7h.01M305.5 86.8h.01M306.5 86.8h.01M305.9 86.9h.01M306.0 87.1h.01M305.9 86.2h.01M307.5 88.4h.01M305.2 86.8h.01M303.9 87.4h.01M304.3 88.0h.01M304.9 88.2h.01M306.3 88.5h.01M304.1 88.4h.01M304.2 88.8h.01M303.7 88.3h.01M304.3 89.4h.01M304.8 90.3h.01M303.5 89.3h.01M302.9 90.5h.01M303.0 90.4h.01M303.9 91.0h.01M304.3 90.5h.01M302.1 91.3h.01M303.1 91.3h.01M301.9 91.2h.01M303.6 91.5h.01M302.5 92.0h.01M301.4 92.3h.01M302.4 94.5h.01M302.9 94.9h.01M301.6 97.7h.01M304.4 107.1h.01M306.5 116.5h.01M307.5 118.1h.01M307.7 119.1h.01M308.6 119.5h.01M308.6 121.0h.01M309.7 119.8h.01M308.3 122.0h.01M308.4 121.8h.01M309.4 122.0h.01M309.2 122.7h.01M309.5 122.0h.01M309.1 123.0h.01M310.7 123.0h.01M309.8 123.5h.01M310.9 123.6h.01M308.9 124.1h.01M310.3 124.2h.01M309.4 124.6h.01M309.1 125.3h.01M310.8 124.9h.01M310.6 125.8h.01M311.0 126.1h.01M309.0 125.8h.01M310.9 126.0h.01M254.1 46.5h.01M253.6 46.6h.01M252.9 46.3h.01M253.0 46.1h.01M253.7 44.9h.01M252.1 45.7h.01M251.9 46.3h.01M252.9 43.8h.01M251.2 45.1h.01M252.8 44.4h.01M251.4 44.5h.01M251.8 43.7h.01M252.6 42.6h.01M252.1 42.9h.01M251.2 42.8h.01M250.4 41.9h.01M251.6 41.7h.01M252.6 41.3h.01M251.0 41.1h.01M252.0 39.9h.01M262.6 51.5h.01M262.7 51.1h.01M262.4 49.9h.01M263.3 49.6h.01M264.0 49.8h.01M263.5 48.3h.01M264.3 47.7h.01M264.3 45.2h.01M263.1 45.5h.01M262.9 44.8h.01M264.1 44.6h.01M265.0 44.5h.01M263.3 44.1h.01M263.8 43.5h.01M264.2 43.6h.01M263.9 43.0h.01M282.9 51.1h.01M283.0 51.0h.01M282.1 51.9h.01M281.3 51.2h.01M282.0 50.7h.01M282.5 48.8h.01M280.6 50.2h.01M282.0 48.3h.01M281.0 48.8h.01M281.7 48.5h.01M280.5 48.3h.01M280.6 48.9h.01M281.9 48.0h.01M280.4 47.2h.01M280.0 47.8h.01M279.1 47.7h.01M279.6 47.5h.01M277.9 47.2h.01M278.6 47.3h.01M279.1 46.7h.01M278.1 45.4h.01M277.1 46.2h.01M277.2 46.3h.01M277.9 45.1h.01M289.2 51.1h.01M289.1 51.2h.01M289.0 51.3h.01M290.3 50.9h.01M289.7 50.1h.01M290.3 51.5h.01M289.8 50.2h.01M290.4 50.0h.01M290.6 49.2h.01M291.2 49.2h.01M292.2 49.1h.01M290.8 48.0h.01M291.0 46.6h.01M290.6 46.6h.01M289.8 47.1h.01M308.4 64.0h.01M307.5 62.7h.01M308.5 61.7h.01M307.9 61.7h.01M306.9 62.0h.01M306.3 61.3h.01M304.1 59.9h.01M303.5 58.4h.01M302.8 58.1h.01M303.4 57.9h.01M231.6 63.8h.01M235.8 54.6h.01M311.1 123.5h.01M308.7 127.9h.01M305.3 131.7h.01M306.2 135.3h.01M304.2 134.7h.01M304.9 135.9h.01M304.1 139.4h.01M302.5 139.0h.01M300.5 137.0h.01M301.4 140.9h.01M301.0 140.8h.01M298.0 138.9h.01M299.2 140.3h.01M298.9 140.3h.01M298.0 140.6h.01M297.1 141.2h.01M296.9 142.1h.01M296.3 141.6h.01M297.4 141.9h.01M295.1 142.0h.01M296.5 142.9h.01M295.6 143.4h.01M295.6 143.1h.01M295.3 142.9h.01M295.5 144.0h.01M294.7 144.1h.01M294.2 144.3h.01M293.8 143.0h.01M293.6 144.5h.01M295.0 146.6h.01M293.8 145.6h.01M292.6 145.3h.01M293.0 145.9h.01M293.1 145.1h.01M292.0 145.5h.01M291.0 144.7h.01M292.5 146.0h.01M291.1 146.5h.01M291.5 146.6h.01M289.6 146.0h.01M291.1 147.8h.01M290.3 146.3h.01M290.8 147.6h.01M289.3 146.5h.01M289.6 146.8h.01M288.5 146.3h.01M289.5 147.3h.01M288.5 147.1h.01M289.6 148.4h.01M288.3 147.2h.01M289.3 148.9h.01M287.7 147.5h.01M287.2 148.8h.01M288.5 149.5h.01M286.9 148.8h.01M286.2 149.2h.01M288.0 150.4h.01M286.5 150.3h.01M284.8 149.3h.01M284.2 149.0h.01M285.6 151.3h.01M286.0 150.7h.01M285.5 151.6h.01M284.6 151.4h.01M285.2 151.0h.01M283.3 150.6h.01M283.7 150.5h.01M283.8 150.9h.01M284.2 151.9h.01M284.5 153.2h.01M283.3 152.7h.01M283.2 151.4h.01M281.5 151.6h.01M282.9 152.5h.01M281.9 153.9h.01M281.6 152.3h.01M282.2 154.8h.01M280.4 153.4h.01M281.5 153.6h.01M281.1 154.0h.01M279.5 153.6h.01M280.7 154.3h.01M280.1 155.3h.01M280.0 155.7h.01M279.2 154.3h.01M279.1 155.9h.01M280.8 156.8h.01M279.1 155.5h.01M279.7 156.3h.01M278.0 156.2h.01M277.7 155.1h.01M278.1 156.2h.01M277.6 157.1h.01M279.4 157.9h.01M277.6 158.4h.01M275.9 157.5h.01M277.8 158.5h.01M278.6 159.4h.01M276.7 158.2h.01M278.3 159.4h.01M276.2 158.9h.01M275.3 158.8h.01M277.6 161.5h.01M277.1 160.4h.01M277.0 160.7h.01M275.6 159.9h.01M276.4 161.1h.01M277.3 161.8h.01M277.3 161.8h.01M276.6 161.9h.01M275.9 162.0h.01M276.0 162.1h.01M274.9 161.5h.01M274.1 160.5h.01M274.3 161.7h.01M275.3 162.3h.01M274.7 163.9h.01M274.2 163.7h.01M275.7 164.0h.01M274.8 165.2h.01M273.2 163.0h.01M272.7 163.2h.01M273.3 164.3h.01M272.7 164.1h.01M273.8 164.7h.01M272.2 165.2h.01M273.2 165.7h.01M271.6 164.3h.01M272.7 165.0h.01M272.7 166.4h.01M272.9 166.3h.01M272.1 166.1h.01M272.8 166.1h.01M271.6 166.5h.01M271.7 168.3h.01M270.5 166.9h.01M273.2 168.4h.01M269.7 168.2h.01M270.5 168.6h.01M270.7 168.8h.01M270.1 169.1h.01M270.7 168.9h.01M269.8 169.5h.01M272.2 169.5h.01M271.6 170.7h.01M268.6 169.9h.01M269.4 169.8h.01M270.4 170.9h.01M269.5 171.2h.01M270.4 171.2h.01M270.0 171.6h.01M270.1 172.0h.01M270.2 172.1h.01M269.3 171.8h.01M269.8 172.6h.01M268.4 172.6h.01M267.9 171.9h.01M268.9 172.0h.01M268.7 173.1h.01M269.6 173.5h.01M269.1 173.4h.01M269.8 173.6h.01M269.6 174.5h.01M270.2 175.3h.01M268.9 174.7h.01M269.7 174.5h.01M267.3 174.2h.01M268.7 175.3h.01M267.9 174.6h.01M266.6 175.8h.01M266.0 174.5h.01M266.8 175.8h.01M267.1 175.1h.01M268.4 177.8h.01M267.9 176.6h.01M266.9 176.2h.01M268.5 177.2h.01M267.0 177.1h.01M266.3 177.1h.01M266.7 177.6h.01M266.2 178.1h.01M266.7 177.9h.01M267.8 179.1h.01M265.0 177.5h.01M266.2 179.3h.01M264.7 178.9h.01M265.9 178.9h.01M265.6 179.2h.01M264.9 180.0h.01M266.0 179.9h.01M265.3 179.7h.01M266.8 180.4h.01M265.3 180.3h.01M264.3 180.2h.01M265.5 181.7h.01M266.1 182.2h.01M265.4 181.8h.01M266.2 183.0h.01M264.2 182.5h.01M265.8 183.2h.01M266.9 183.8h.01M265.6 184.2h.01M263.4 182.8h.01M263.8 183.5h.01M265.0 184.6h.01M263.7 184.0h.01M263.2 184.1h.01M264.5 184.8h.01M262.3 184.0h.01M265.2 185.8h.01M264.9 185.4h.01M263.3 185.3h.01M264.7 186.8h.01M262.7 185.0h.01M263.0 186.1h.01M262.2 185.9h.01M263.1 186.9h.01M264.0 187.5h.01M263.5 187.5h.01M262.5 187.5h.01M262.1 188.4h.01M261.9 188.0h.01M262.4 188.6h.01M263.2 189.9h.01M262.3 189.7h.01M261.7 189.9h.01M260.9 189.4h.01M260.3 189.5h.01M262.1 191.3h.01M261.0 190.2h.01M261.1 190.7h.01M261.4 190.7h.01M261.6 191.6h.01M260.7 192.7h.01M259.0 192.1h.01M262.0 192.7h.01M262.2 192.9h.01M259.4 193.0h.01M259.8 193.5h.01M260.5 193.3h.01M259.8 192.9h.01M260.4 193.9h.01M258.9 193.4h.01M259.3 193.3h.01M258.3 194.1h.01M259.4 195.8h.01M259.8 195.8h.01M258.1 195.6h.01M257.8 195.8h.01M258.8 196.3h.01M258.5 196.7h.01M259.8 196.6h.01M258.2 197.2h.01M257.7 197.1h.01M257.8 197.1h.01M259.4 198.2h.01M258.6 198.0h.01M257.2 198.5h.01M258.0 199.4h.01M257.7 198.9h.01M255.6 199.5h.01M256.1 199.4h.01M258.7 200.6h.01M257.1 200.3h.01M256.2 200.4h.01M257.3 200.7h.01M256.3 201.5h.01M256.7 202.0h.01M255.2 202.3h.01M256.9 202.6h.01M257.4 202.8h.01M254.9 201.9h.01M257.0 203.2h.01M257.2 204.9h.01M256.6 203.8h.01M256.6 204.7h.01M254.6 204.0h.01M257.4 205.6h.01M254.9 204.0h.01M255.3 205.9h.01M253.6 206.1h.01M254.9 206.8h.01M254.1 207.2h.01M253.0 206.1h.01M253.7 206.3h.01M253.2 207.7h.01M251.7 207.2h.01M252.9 208.5h.01M254.9 209.6h.01M251.6 209.1h.01M252.2 210.8h.01M251.7 210.6h.01M250.7 212.0h.01M252.7 213.1h.01M248.7 214.7h.01M250.0 216.1h.01M249.5 218.2h.01M302.7 130.7h.01M302.5 131.5h.01M302.9 132.2h.01M302.3 133.0h.01M298.5 134.8h.01M297.7 134.6h.01M296.6 134.4h.01M297.1 134.3h.01M295.7 137.8h.01M294.3 146.9h.01M294.0 147.7h.01M294.0 150.1h.01M291.2 150.2h.01M288.6 152.6h.01M287.1 153.0h.01M286.0 155.2h.01M287.1 155.6h.01M286.1 156.5h.01M284.3 156.2h.01M285.5 157.4h.01M285.3 159.4h.01M285.6 159.8h.01M283.9 158.6h.01M284.6 159.2h.01M283.1 159.6h.01M283.8 159.5h.01M282.1 158.7h.01M283.6 160.8h.01M282.0 161.1h.01M282.9 161.4h.01M281.7 160.8h.01M282.3 161.7h.01M281.3 162.0h.01M281.5 162.0h.01M281.5 162.3h.01M281.9 164.1h.01M280.0 163.1h.01M279.5 163.7h.01M279.4 163.7h.01M279.9 163.7h.01M281.0 165.1h.01M281.8 165.2h.01M281.2 165.0h.01M278.7 165.0h.01M280.2 166.0h.01M280.1 165.6h.01M278.6 166.0h.01M280.1 166.7h.01M279.8 166.8h.01M280.0 167.7h.01M279.5 167.4h.01M278.9 167.5h.01M279.0 168.9h.01M278.1 167.3h.01M278.2 168.7h.01M277.3 168.3h.01M277.2 168.3h.01M278.1 169.5h.01M277.3 169.0h.01M277.8 169.3h.01M275.8 169.3h.01M276.8 170.3h.01M277.6 170.4h.01M276.9 171.6h.01M275.4 171.5h.01M274.9 170.9h.01M276.5 172.5h.01M275.6 172.4h.01M274.9 172.6h.01M275.8 172.2h.01M274.4 172.8h.01M274.4 173.4h.01M273.9 173.8h.01M275.2 174.5h.01M275.8 175.2h.01M273.8 175.1h.01M274.1 174.9h.01M275.3 176.3h.01M275.1 176.2h.01M274.4 175.8h.01M274.1 176.6h.01M272.7 176.1h.01M274.1 176.3h.01M273.5 177.8h.01M273.6 177.4h.01M273.4 178.6h.01M271.6 179.0h.01M273.6 179.7h.01M272.3 179.9h.01M273.8 181.0h.01M271.4 180.6h.01M272.9 181.1h.01M271.8 181.6h.01M271.3 181.9h.01M271.0 183.1h.01M270.2 182.9h.01M271.5 184.3h.01M270.3 184.5h.01M269.6 184.8h.01M268.9 184.5h.01M268.4 185.3h.01M268.0 187.1h.01M268.9 187.4h.01M268.9 188.4h.01M269.5 189.1h.01M267.9 188.4h.01M268.9 190.1h.01M268.8 190.3h.01M268.1 190.3h.01" stroke="#bfff40" stroke-width="1.40"/>
<path d="M224.7 78.9h.01M221.2 128.2h.01M220.5 129.5h.01M223.3 129.2h.01M223.0 130.2h.01M222.1 131.7h.01M223.3 131.1h.01M222.8 131.7h.01M223.7 132.0h.01M223.0 132.8h.01M223.0 133.5h.01M222.8 133.4h.01M223.1 134.0h.01M223.4 133.8h.01M223.3 133.6h.01M224.6 134.2h.01M222.8 135.1h.01M223.5 135.0h.01M224.4 135.9h.01M224.3 136.0h.01M226.0 135.3h.01M225.3 135.7h.01M239.5 52.7h.01M238.8 53.7h.01M240.3 55.2h.01M239.4 55.7h.01M238.9 55.2h.01M238.5 56.2h.01M241.5 57.2h.01M239.8 56.6h.01M239.8 57.9h.01M237.4 56.8h.01M237.1 57.1h.01M238.4 57.1h.01M240.7 58.9h.01M239.8 58.5h.01M237.8 59.1h.01M238.4 58.8h.01M240.7 60.2h.01M238.9 59.2h.01M238.2 59.2h.01M236.4 59.2h.01M239.7 60.8h.01M238.6 60.0h.01M236.3 59.1h.01M237.3 60.3h.01M238.8 61.0h.01M237.3 61.0h.01M235.2 59.6h.01M236.8 60.2h.01M236.6 60.8h.01M234.4 60.8h.01M237.3 61.6h.01M237.1 61.3h.01M234.6 61.5h.01M236.0 62.0h.01M239.3 63.2h.01M238.4 62.8h.01M237.2 63.6h.01M237.4 63.6h.01M238.3 63.9h.01M236.1 63.7h.01M235.9 63.8h.01M237.6 64.3h.01M234.4 63.5h.01M239.2 65.6h.01M234.8 63.3h.01M236.3 64.9h.01M235.3 65.1h.01M234.7 64.7h.01M236.5 64.7h.01M236.5 66.3h.01M234.9 65.9h.01M234.1 65.0h.01M236.2 66.1h.01M234.4 65.3h.01M237.5 66.2h.01M237.0 66.8h.01M235.8 66.6h.01M235.4 66.3h.01M234.4 66.0h.01M233.9 66.5h.01M234.8 66.6h.01M235.6 67.5h.01M232.2 66.9h.01M232.0 67.0h.01M235.6 68.0h.01M235.0 68.1h.01M237.7 68.5h.01M233.0 67.7h.01M238.2 68.6h.01M237.1 68.9h.01M235.1 69.1h.01M235.9 69.3h.01M234.2 69.3h.01M235.3 68.9h.01M235.0 69.2h.01M234.1 69.7h.01M232.9 70.1h.01M236.2 70.0h.01M234.7 70.6h.01M233.9 69.6h.01M233.6 71.2h.01M231.2 70.5h.01M232.6 70.3h.01M237.1 72.1h.01M232.2 71.4h.01M234.0 71.6h.01M231.8 72.2h.01M237.5 73.3h.01M233.1 72.8h.01M234.7 72.9h.01M232.3 73.0h.01M234.1 73.6h.01M235.3 73.6h.01M233.7 73.9h.01M233.6 74.3h.01M233.6 74.5h.01M230.3 74.0h.01M231.6 75.5h.01M232.7 75.6h.01M234.2 76.9h.01M233.7 76.9h.01M232.5 75.9h.01M232.7 76.5h.01M234.4 77.3h.01M231.8 77.0h.01M234.2 78.4h.01M231.3 79.9h.01M233.8 80.0h.01M231.6 80.3h.01M231.8 80.7h.01M234.3 81.6h.01M231.7 80.6h.01M232.1 82.4h.01M229.3 84.3h.01M231.5 84.5h.01M230.4 86.7h.01M230.8 86.7h.01M237.5 71.5h.01M255.0 39.3h.01M256.8 39.8h.01M254.0 40.9h.01M253.1 41.0h.01M253.7 41.1h.01M255.4 43.0h.01M254.2 42.0h.01M255.0 42.3h.01M252.9 41.3h.01M255.6 43.8h.01M253.6 42.9h.01M254.0 44.0h.01M254.3 44.0h.01M253.3 43.9h.01M254.5 44.3h.01M252.7 44.9h.01M253.7 44.9h.01M255.0 45.5h.01M254.7 46.1h.01M254.7 45.8h.01M254.1 45.7h.01M254.1 45.4h.01M252.3 46.4h.01M251.8 46.2h.01M252.7 46.3h.01M252.5 47.3h.01M253.8 47.7h.01M253.1 48.1h.01M252.3 47.9h.01M253.5 49.3h.01M253.2 49.1h.01M253.7 50.6h.01M252.2 50.4h.01M253.1 51.3h.01M254.3 51.3h.01M252.2 51.3h.01M254.1 52.0h.01M252.4 51.7h.01M253.0 52.2h.01M253.6 53.8h.01M252.7 52.6h.01M250.8 53.1h.01M251.9 53.5h.01M251.8 54.8h.01M253.2 54.7h.01M251.1 53.9h.01M251.0 56.4h.01M252.5 57.0h.01M252.8 57.2h.01M251.3 57.4h.01M252.6 61.0h.01M250.6 61.0h.01M250.2 66.1h.01M268.5 44.2h.01M269.0 45.7h.01M268.4 45.6h.01M267.0 44.8h.01M268.0 45.3h.01M267.6 45.0h.01M267.8 45.7h.01M267.8 46.0h.01M266.2 44.7h.01M265.9 45.0h.01M267.4 47.5h.01M265.7 46.1h.01M264.7 46.6h.01M265.2 46.7h.01M263.0 46.6h.01M266.8 48.4h.01M264.3 47.5h.01M267.0 48.3h.01M265.5 48.9h.01M265.1 48.6h.01M262.7 47.5h.01M263.9 49.1h.01M264.8 49.0h.01M265.0 49.7h.01M265.3 50.4h.01M263.1 49.9h.01M265.5 50.7h.01M261.9 49.4h.01M262.0 50.0h.01M264.8 51.9h.01M263.8 51.4h.01M263.3 51.1h.01M263.5 51.6h.01M263.2 52.2h.01M262.5 51.2h.01M262.3 52.1h.01M263.5 53.1h.01M263.4 54.0h.01M261.8 52.7h.01M260.2 52.8h.01M262.5 56.0h.01M262.6 55.3h.01M258.3 54.0h.01M259.4 54.6h.01M258.9 54.4h.01M258.8 55.4h.01M261.1 56.2h.01M259.7 57.1h.01M258.3 57.0h.01M256.6 58.4h.01M259.3 60.7h.01M256.6 59.1h.01M255.7 60.2h.01M258.6 41.4h.01M259.4 42.3h.01M260.2 42.4h.01M259.8 42.8h.01M260.2 43.4h.01M259.4 43.4h.01M259.1 43.6h.01M260.2 44.2h.01M259.7 44.6h.01M259.5 44.3h.01M260.3 45.2h.01M258.8 45.1h.01M258.7 45.7h.01M259.5 45.2h.01M260.2 47.0h.01M259.3 46.4h.01M259.7 46.6h.01M259.2 47.3h.01M258.7 47.1h.01M258.9 47.1h.01M258.5 48.1h.01M259.6 48.7h.01M257.8 49.3h.01M258.0 48.8h.01M258.5 48.8h.01M259.1 50.4h.01M259.7 49.7h.01M258.9 49.9h.01M258.7 51.0h.01M258.1 50.7h.01M258.5 51.7h.01M257.9 51.4h.01M259.8 51.9h.01M258.1 52.9h.01M259.1 52.5h.01M259.0 52.9h.01M259.1 53.5h.01M258.3 53.8h.01M258.5 53.6h.01M257.5 54.3h.01M258.6 54.2h.01M257.2 55.4h.01M259.4 55.7h.01M257.3 55.1h.01M257.6 56.3h.01M257.0 57.5h.01M258.9 57.6h.01M258.7 57.1h.01M258.0 58.5h.01M258.7 58.2h.01M257.9 58.4h.01M257.6 59.4h.01M258.0 59.2h.01M257.4 59.2h.01M258.7 60.2h.01M259.4 59.8h.01M258.8 59.5h.01M280.2 46.1h.01M280.9 46.6h.01M280.3 48.8h.01M281.6 48.3h.01M281.6 49.7h.01M282.9 51.1h.01M281.3 50.9h.01M282.7 51.7h.01M281.6 51.5h.01M281.1 53.0h.01M283.6 53.3h.01M283.0 53.5h.01M281.1 53.7h.01M282.7 54.1h.01M281.0 53.9h.01M283.0 54.9h.01M280.0 54.3h.01M281.7 55.6h.01M282.4 56.1h.01M281.5 55.1h.01M281.7 55.5h.01M281.8 56.3h.01M282.2 56.7h.01M282.0 56.5h.01M279.1 55.9h.01M282.0 57.5h.01M283.0 57.6h.01M280.6 57.1h.01M283.2 58.5h.01M281.7 57.7h.01M280.8 57.8h.01M281.2 57.9h.01M279.3 57.0h.01M279.2 57.8h.01M280.9 58.4h.01M280.5 58.9h.01M280.5 59.4h.01M280.4 58.6h.01M278.5 59.3h.01M282.1 60.5h.01M279.3 59.5h.01M278.9 60.3h.01M281.1 61.0h.01M277.7 60.0h.01M279.8 60.6h.01M279.5 61.9h.01M279.0 63.6h.01M277.9 63.9h.01M277.6 64.8h.01M277.1 65.7h.01M276.2 64.9h.01M276.8 66.1h.01M277.7 66.6h.01M277.8 66.3h.01M276.9 67.1h.01M277.6 67.6h.01M276.8 69.2h.01M277.1 72.0h.01M274.7 73.2h.01M287.7 48.4h.01M290.7 49.7h.01M291.3 50.0h.01M287.8 51.3h.01M288.0 54.3h.01M289.3 54.2h.01M288.0 55.1h.01M288.2 56.4h.01M288.6 56.9h.01M289.2 56.6h.01M288.1 57.8h.01M288.0 57.6h.01M287.2 58.5h.01M290.7 59.1h.01M289.1 58.6h.01M287.7 59.0h.01M289.6 60.0h.01M290.8 59.9h.01M286.1 59.6h.01M288.1 61.4h.01M288.9 61.4h.01M288.8 61.8h.01M286.8 61.9h.01M288.2 61.8h.01M286.6 61.7h.01M286.2 61.6h.01M287.1 62.6h.01M287.2 62.9h.01M286.9 62.9h.01M286.9 63.8h.01M287.8 64.2h.01M286.7 63.6h.01M285.9 63.3h.01M287.0 65.4h.01M285.7 64.1h.01M285.8 63.5h.01M285.5 63.2h.01M286.3 64.9h.01M284.3 64.4h.01M285.7 64.5h.01M285.8 65.5h.01M284.9 65.1h.01M285.1 65.2h.01M286.2 66.8h.01M285.6 66.2h.01M283.0 65.6h.01M284.0 66.5h.01M283.9 66.9h.01M283.3 66.3h.01M285.2 67.3h.01M283.7 67.3h.01M284.5 67.8h.01M285.0 68.2h.01M285.1 70.0h.01M284.5 70.3h.01M282.7 72.6h.01M282.4 72.3h.01M282.4 73.4h.01M277.5 48.7h.01M277.4 50.4h.01M276.7 51.2h.01M275.6 52.6h.01M277.5 54.2h.01M276.5 54.1h.01M274.2 59.8h.01M275.1 60.6h.01M273.1 60.7h.01M274.8 67.1h.01M271.7 70.9h.01M271.5 73.9h.01M293.5 71.9h.01M294.7 71.6h.01M294.7 72.0h.01M295.2 72.4h.01M295.1 73.5h.01M293.8 73.7h.01M294.4 74.1h.01M293.7 74.0h.01M295.1 74.6h.01M294.8 75.0h.01M295.4 76.0h.01M294.8 75.9h.01M295.7 76.9h.01M296.2 78.6h.01M296.8 78.6h.01M295.1 79.4h.01M296.4 79.4h.01M292.8 85.3h.01M292.9 84.5h.01M292.3 85.6h.01M301.2 74.1h.01M299.2 76.0h.01M298.9 76.1h.01M298.5 76.0h.01M297.7 76.3h.01M297.5 76.6h.01M297.2 76.9h.01M298.0 77.3h.01M296.9 77.8h.01M295.5 77.7h.01M297.3 78.5h.01M295.1 78.7h.01M294.9 78.4h.01M295.1 78.6h.01M298.1 79.9h.01M297.7 80.5h.01M293.6 79.1h.01M297.3 80.4h.01M294.9 79.4h.01M293.5 79.9h.01M294.2 80.6h.01M296.5 81.3h.01M293.1 79.6h.01M293.5 80.0h.01M293.7 82.0h.01M293.0 81.3h.01M294.4 82.2h.01M292.7 80.4h.01M292.5 82.1h.01M293.0 83.0h.01M292.2 83.5h.01M290.3 83.4h.01M306.3 87.6h.01M305.6 87.1h.01M305.7 89.7h.01M302.5 89.9h.01M304.8 91.7h.01M301.8 91.8h.01M302.0 92.0h.01M303.0 92.0h.01M303.6 92.2h.01M303.9 93.0h.01M303.0 93.2h.01M303.0 92.9h.01M302.7 94.1h.01M302.4 94.1h.01M301.7 94.1h.01M303.6 94.1h.01M302.8 94.6h.01M301.5 94.8h.01M302.8 95.2h.01M301.5 95.6h.01M303.2 96.0h.01M302.2 95.8h.01M302.7 96.2h.01M301.2 95.1h.01M301.1 96.6h.01M300.5 95.8h.01M300.8 95.8h.01M300.6 95.2h.01M299.6 96.1h.01M299.9 96.5h.01M300.8 98.5h.01M299.2 97.4h.01M300.4 98.3h.01M299.2 96.4h.01M298.9 97.9h.01M298.4 98.6h.01M298.7 99.8h.01M298.4 99.9h.01M299.0 99.7h.01M298.3 99.4h.01M298.6 101.0h.01M296.5 101.3h.01M297.1 101.0h.01M296.9 102.5h.01M298.1 102.6h.01M297.1 103.8h.01M299.4 104.1h.01M300.5 104.0h.01M302.4 107.2h.01M304.5 108.3h.01M303.6 109.5h.01M305.3 109.8h.01M304.3 110.3h.01M305.6 111.4h.01M305.2 111.3h.01M305.7 112.1h.01M305.3 113.5h.01M307.8 113.6h.01M306.9 113.9h.01M305.0 115.0h.01M305.6 115.3h.01M307.0 116.2h.01M307.3 115.4h.01M306.9 116.0h.01M308.0 116.4h.01M307.5 116.5h.01M306.4 116.6h.01M308.8 117.3h.01M307.7 117.9h.01M306.4 118.2h.01M307.4 118.7h.01M305.6 119.1h.01M308.1 119.7h.01M307.2 119.6h.01M307.9 120.0h.01M307.9 119.8h.01M307.7 120.1h.01M309.1 120.3h.01M307.8 122.2h.01M309.3 123.5h.01M310.2 125.0h.01M252.7 46.8h.01M251.7 40.5h.01M263.5 51.6h.01M263.4 50.9h.01M264.1 50.0h.01M263.5 49.0h.01M264.0 48.4h.01M264.1 47.4h.01M264.5 47.4h.01M264.5 46.9h.01M264.6 46.5h.01M264.0 46.1h.01M263.3 45.5h.01M262.0 43.2h.01M263.1 42.6h.01M280.2 48.1h.01M277.6 47.0h.01M277.7 46.7h.01M290.9 49.6h.01M291.0 48.9h.01M290.6 48.0h.01M278.7 69.9h.01M279.3 65.3h.01M278.9 64.5h.01M251.8 70.0h.01M251.2 70.6h.01M252.0 68.5h.01M251.4 66.8h.01M253.7 66.5h.01M286.1 150.4h.01M285.3 152.1h.01M277.9 158.0h.01M271.2 171.0h.01M269.2 171.7h.01M269.3 173.7h.01M269.0 175.7h.01M265.5 176.6h.01M266.2 180.7h.01M264.3 180.5h.01M264.8 181.6h.01M263.8 183.4h.01M262.9 187.5h.01M261.9 187.9h.01M262.1 189.1h.01M261.2 189.0h.01M261.0 189.5h.01M260.8 192.0h.01M262.6 192.6h.01M260.4 195.3h.01M260.4 195.7h.01M257.9 194.1h.01M258.8 195.3h.01M258.3 197.5h.01M258.5 198.4h.01M258.0 198.0h.01M256.9 198.7h.01M256.1 199.0h.01M257.9 199.6h.01M257.5 201.5h.01M257.6 201.4h.01M256.5 202.8h.01M256.8 203.5h.01M256.3 202.9h.01M256.9 204.9h.01M256.6 205.3h.01M256.1 206.0h.01M254.4 204.8h.01M255.2 205.5h.01M254.2 206.2h.01M254.2 205.9h.01M254.7 207.0h.01M253.0 207.6h.01M252.9 207.3h.01M253.5 208.2h.01M253.7 208.9h.01M252.5 209.5h.01M254.0 210.2h.01M251.8 209.1h.01M253.3 210.1h.01M252.8 210.4h.01M252.7 210.1h.01M250.9 209.5h.01M251.5 210.6h.01M250.7 210.7h.01M251.7 212.1h.01M251.1 211.6h.01M250.7 211.1h.01M252.2 211.9h.01M251.0 212.5h.01M249.9 212.1h.01M251.1 213.8h.01M250.0 213.4h.01M251.0 213.9h.01M251.2 213.5h.01M251.7 214.5h.01M251.9 214.7h.01M251.8 214.8h.01M250.8 214.5h.01M251.6 216.1h.01M250.5 215.3h.01M249.7 214.6h.01M249.7 215.9h.01M250.1 216.5h.01M248.9 215.3h.01M247.8 216.3h.01M249.2 216.2h.01M248.7 216.2h.01M248.7 216.7h.01M250.0 217.6h.01M250.8 218.5h.01M249.7 218.1h.01M249.1 218.0h.01M247.8 217.9h.01M248.4 218.5h.01M247.2 218.6h.01M248.1 218.6h.01M248.9 219.7h.01M248.2 219.0h.01M248.0 219.8h.01M247.1 219.2h.01M246.7 219.3h.01M248.2 219.8h.01M247.9 221.3h.01M246.8 220.0h.01M245.8 219.6h.01M247.2 221.6h.01M246.6 220.9h.01M247.5 222.2h.01M245.1 221.6h.01M247.9 224.3h.01M245.4 222.6h.01M247.8 223.9h.01M245.5 222.8h.01M245.4 223.5h.01M245.1 223.8h.01M245.7 224.8h.01M246.2 225.2h.01M244.1 225.4h.01M244.9 225.4h.01M246.1 225.7h.01M246.7 226.2h.01M244.6 226.5h.01M243.8 226.5h.01M243.0 227.1h.01M245.2 227.8h.01M244.1 228.1h.01M244.8 229.7h.01M243.3 231.9h.01M242.8 232.1h.01M241.9 234.0h.01M302.0 130.7h.01M303.3 131.8h.01M301.5 131.6h.01M301.0 131.0h.01M301.6 131.3h.01M301.3 132.4h.01M300.9 132.2h.01M301.4 133.3h.01M301.7 133.6h.01M300.7 133.5h.01M300.0 133.2h.01M299.0 132.9h.01M299.2 133.1h.01M300.4 134.2h.01M299.0 134.3h.01M299.6 133.9h.01M300.0 134.7h.01M298.6 135.2h.01M299.3 134.9h.01M297.1 133.7h.01M297.3 135.3h.01M297.3 136.6h.01M296.8 135.2h.01M297.0 135.7h.01M295.3 135.6h.01M296.4 136.8h.01M295.0 136.0h.01M294.5 137.2h.01M293.3 138.2h.01M292.8 138.5h.01M292.2 139.2h.01M290.2 138.1h.01M290.5 139.2h.01M290.5 140.5h.01M288.5 140.0h.01M284.4 142.8h.01M284.9 144.3h.01M279.5 149.3h.01M277.3 149.1h.01M277.8 150.3h.01M278.1 152.1h.01M275.0 155.8h.01M280.3 163.2h.01M278.8 167.7h.01M276.2 170.5h.01M274.8 173.5h.01M274.4 173.8h.01M273.7 177.5h.01M272.4 177.9h.01M274.1 179.0h.01M273.7 179.6h.01M273.2 180.6h.01M271.7 180.4h.01M271.3 181.7h.01M272.8 182.4h.01M271.3 182.4h.01M270.0 182.1h.01M270.5 183.3h.01M270.5 183.5h.01M269.9 183.9h.01M270.3 185.4h.01M269.7 185.6h.01M269.0 186.3h.01M269.8 186.5h.01M270.5 186.4h.01M269.0 187.2h.01M269.5 188.3h.01M267.7 187.9h.01M268.4 189.3h.01M268.8 190.4h.01M268.8 190.5h.01M267.2 190.0h.01M268.0 191.4h.01M268.2 192.1h.01M268.1 191.9h.01M267.5 192.1h.01M267.0 192.2h.01M266.2 192.2h.01M267.0 193.0h.01M268.0 193.2h.01M267.8 193.2h.01M266.0 193.9h.01M266.3 194.0h.01M266.2 194.2h.01M267.1 195.0h.01M266.7 195.4h.01M266.2 195.5h.01M267.2 195.8h.01M266.3 196.3h.01M266.2 197.1h.01M265.4 196.1h.01M265.5 196.0h.01M264.1 196.5h.01M264.7 196.7h.01M264.7 198.2h.01M264.9 198.3h.01M265.6 198.4h.01M264.6 198.8h.01M263.8 199.0h.01M264.4 199.7h.01M264.5 200.4h.01M264.5 199.6h.01M262.9 200.3h.01M263.0 199.8h.01M263.1 201.5h.01M262.5 201.8h.01M261.7 202.8h.01M261.1 202.4h.01M261.4 203.4h.01M259.6 203.4h.01M260.4 204.2h.01M260.9 206.0h.01M260.7 206.4h.01M260.2 205.8h.01M259.3 206.5h.01M260.6 208.1h.01M233.8 143.8h.01M235.4 150.8h.01M235.6 154.1h.01" stroke="#9fff60" stroke-width="1.40"/>
<path d="M223.4 136.1h.01M225.8 135.8h.01M224.3 137.5h.01M226.0 135.9h.01M224.0 137.8h.01M234.5 65.8h.01M235.7 67.2h.01M236.2 67.9h.01M235.8 69.7h.01M233.8 69.2h.01M233.8 70.1h.01M234.5 71.0h.01M233.7 70.9h.01M234.9 71.4h.01M232.9 71.8h.01M233.1 71.5h.01M236.8 72.2h.01M232.5 72.4h.01M233.1 72.5h.01M233.4 72.9h.01M233.3 73.6h.01M231.1 73.3h.01M232.8 73.6h.01M232.6 74.0h.01M234.2 74.6h.01M236.3 75.3h.01M234.1 75.1h.01M232.8 75.1h.01M236.7 76.8h.01M234.0 75.6h.01M234.6 75.3h.01M232.2 75.0h.01M233.3 77.7h.01M232.0 77.1h.01M231.6 76.7h.01M230.5 76.5h.01M233.6 78.7h.01M232.0 77.5h.01M232.4 77.5h.01M231.3 77.7h.01M235.2 78.7h.01M232.4 79.1h.01M232.9 79.4h.01M231.9 78.3h.01M231.4 78.5h.01M231.2 78.0h.01M233.0 79.4h.01M232.0 79.7h.01M229.8 78.9h.01M229.8 78.6h.01M233.7 80.2h.01M233.2 80.7h.01M231.0 80.0h.01M232.6 81.9h.01M230.7 81.3h.01M230.5 81.0h.01M231.7 81.2h.01M230.8 81.0h.01M231.9 81.3h.01M233.6 82.2h.01M231.8 82.4h.01M234.4 82.9h.01M231.5 82.1h.01M231.4 82.0h.01M232.1 82.2h.01M233.2 83.8h.01M229.4 83.3h.01M233.3 83.4h.01M231.0 83.3h.01M228.8 82.5h.01M230.6 83.3h.01M233.0 83.9h.01M232.3 84.5h.01M230.1 83.7h.01M230.8 83.8h.01M231.0 83.7h.01M230.8 84.5h.01M229.1 85.3h.01M229.6 85.3h.01M229.7 85.3h.01M230.3 84.9h.01M232.2 85.6h.01M231.0 85.9h.01M228.8 85.6h.01M232.8 85.4h.01M232.1 85.6h.01M231.4 85.5h.01M229.9 87.0h.01M230.2 87.9h.01M230.6 87.3h.01M232.1 87.9h.01M230.6 87.8h.01M232.8 88.7h.01M230.5 88.4h.01M233.1 88.3h.01M233.3 88.4h.01M232.4 89.8h.01M231.3 89.2h.01M233.4 89.4h.01M231.5 89.3h.01M228.6 89.9h.01M230.3 90.3h.01M228.5 89.6h.01M233.1 90.4h.01M232.9 90.4h.01M229.6 91.2h.01M233.3 91.2h.01M231.8 91.5h.01M229.7 91.5h.01M233.3 93.1h.01M231.7 92.7h.01M231.8 92.8h.01M230.2 92.3h.01M231.1 92.4h.01M231.8 93.7h.01M230.0 93.3h.01M232.0 93.6h.01M228.9 92.9h.01M230.1 93.8h.01M231.3 94.4h.01M229.8 94.1h.01M232.0 95.2h.01M230.9 94.7h.01M227.6 94.2h.01M230.9 96.2h.01M229.1 95.4h.01M229.6 95.8h.01M228.6 95.7h.01M230.5 95.5h.01M230.0 97.0h.01M229.4 96.0h.01M228.1 96.2h.01M228.0 95.8h.01M230.2 97.2h.01M230.2 97.5h.01M227.0 96.9h.01M228.4 97.0h.01M231.6 98.4h.01M230.6 98.7h.01M231.3 99.3h.01M230.8 98.9h.01M230.9 99.4h.01M228.7 99.2h.01M228.8 100.4h.01M229.2 101.2h.01M231.5 101.8h.01M228.7 101.6h.01M229.8 102.7h.01M229.8 103.9h.01M231.0 103.5h.01M229.3 103.4h.01M230.7 104.8h.01M230.5 105.9h.01M238.7 72.1h.01M238.6 71.8h.01M238.0 73.3h.01M237.3 72.6h.01M238.0 73.1h.01M239.0 74.2h.01M235.8 74.2h.01M238.2 75.0h.01M237.5 75.2h.01M238.0 76.3h.01M237.7 77.4h.01M237.6 77.6h.01M236.1 77.6h.01M252.7 42.7h.01M254.1 46.3h.01M252.2 47.7h.01M252.1 47.6h.01M252.3 48.7h.01M255.1 48.3h.01M252.7 49.7h.01M253.7 49.2h.01M253.5 48.9h.01M251.7 50.4h.01M252.2 49.9h.01M253.8 49.9h.01M253.1 51.2h.01M252.8 51.3h.01M253.0 51.0h.01M252.4 51.4h.01M253.2 53.5h.01M252.7 52.7h.01M251.5 53.3h.01M251.6 53.7h.01M250.4 53.9h.01M251.9 55.7h.01M250.0 54.5h.01M251.7 55.0h.01M251.5 55.7h.01M249.3 56.4h.01M251.1 56.0h.01M253.1 56.9h.01M250.4 57.0h.01M251.0 57.1h.01M251.2 58.0h.01M250.9 57.5h.01M252.9 57.5h.01M252.8 57.8h.01M250.1 58.7h.01M248.9 59.0h.01M251.0 58.4h.01M252.6 58.3h.01M253.1 59.0h.01M251.5 59.8h.01M250.1 59.8h.01M251.2 59.6h.01M251.5 60.9h.01M251.5 60.9h.01M253.4 60.3h.01M251.8 60.6h.01M252.2 60.4h.01M249.5 61.3h.01M251.1 61.3h.01M252.0 62.7h.01M252.5 62.1h.01M252.8 62.0h.01M250.9 62.6h.01M249.8 63.5h.01M253.3 63.3h.01M251.6 63.9h.01M252.6 64.5h.01M251.6 64.3h.01M251.0 64.6h.01M251.1 64.7h.01M249.6 64.5h.01M253.1 66.1h.01M250.2 65.8h.01M250.2 66.6h.01M250.5 66.4h.01M251.9 69.1h.01M249.6 68.4h.01M251.5 70.6h.01M249.6 71.3h.01M250.0 74.6h.01M264.1 48.1h.01M264.6 48.3h.01M263.1 51.8h.01M262.4 52.4h.01M261.2 51.4h.01M262.9 54.2h.01M261.7 54.0h.01M261.7 53.9h.01M262.2 54.3h.01M261.3 54.0h.01M261.6 55.5h.01M261.4 55.0h.01M260.0 53.7h.01M259.5 54.9h.01M259.0 54.3h.01M259.3 55.3h.01M258.8 55.2h.01M260.0 56.4h.01M257.7 55.6h.01M259.3 56.3h.01M258.5 56.3h.01M258.4 56.9h.01M257.8 56.6h.01M258.8 56.9h.01M258.4 56.8h.01M257.8 58.4h.01M259.6 58.7h.01M258.8 58.1h.01M258.9 58.6h.01M259.3 58.4h.01M257.1 58.6h.01M257.6 58.7h.01M257.2 58.9h.01M258.1 58.8h.01M258.6 60.4h.01M257.0 59.6h.01M256.1 59.4h.01M257.8 60.5h.01M256.7 60.9h.01M257.0 60.7h.01M257.1 61.2h.01M257.7 61.9h.01M257.2 61.4h.01M258.1 62.6h.01M256.4 62.5h.01M257.0 62.1h.01M256.1 63.6h.01M256.2 63.3h.01M256.6 63.3h.01M256.5 63.4h.01M256.0 63.7h.01M256.0 64.3h.01M257.4 63.9h.01M256.5 65.0h.01M258.9 65.7h.01M256.7 65.0h.01M257.8 65.3h.01M254.4 64.9h.01M255.1 65.3h.01M257.5 65.8h.01M257.8 66.6h.01M256.1 66.5h.01M254.4 66.5h.01M258.0 67.2h.01M258.0 67.2h.01M256.2 68.7h.01M256.0 69.8h.01M255.3 69.2h.01M255.0 73.2h.01M254.7 76.5h.01M256.5 75.9h.01M259.4 48.1h.01M281.9 56.7h.01M280.7 58.8h.01M280.7 58.9h.01M278.7 59.1h.01M279.7 60.7h.01M280.0 61.3h.01M279.3 60.9h.01M279.0 61.3h.01M280.4 62.3h.01M276.9 61.5h.01M278.9 62.7h.01M279.8 62.4h.01M277.4 63.0h.01M276.6 62.4h.01M280.0 63.2h.01M280.4 64.9h.01M279.5 64.7h.01M278.7 64.3h.01M279.4 64.7h.01M277.0 64.7h.01M278.7 64.8h.01M278.6 66.0h.01M279.2 66.1h.01M276.7 65.3h.01M278.5 66.9h.01M277.9 66.9h.01M278.5 67.5h.01M277.0 67.6h.01M277.4 68.5h.01M276.8 67.8h.01M277.4 68.4h.01M277.2 69.5h.01M277.8 68.8h.01M279.3 68.9h.01M278.7 69.8h.01M277.5 69.9h.01M277.3 70.2h.01M276.3 70.7h.01M276.1 70.6h.01M277.0 70.6h.01M278.3 71.3h.01M277.1 71.7h.01M277.3 72.1h.01M276.7 72.3h.01M276.2 72.9h.01M276.6 73.0h.01M275.3 72.7h.01M277.2 72.7h.01M277.1 73.8h.01M275.3 73.2h.01M277.1 74.6h.01M278.9 74.4h.01M278.3 74.3h.01M277.6 74.2h.01M278.6 74.4h.01M277.3 75.5h.01M279.0 75.9h.01M278.7 76.7h.01M276.3 76.3h.01M278.2 76.6h.01M276.6 77.6h.01M277.7 77.5h.01M275.9 78.1h.01M276.7 78.3h.01M275.4 77.7h.01M276.5 78.6h.01M277.2 80.3h.01M275.4 78.3h.01M276.0 78.6h.01M275.6 79.2h.01M274.2 79.1h.01M275.2 79.4h.01M274.7 78.8h.01M274.7 79.7h.01M275.8 80.8h.01M274.3 79.7h.01M273.1 80.6h.01M273.6 82.3h.01M273.0 83.3h.01M273.3 86.3h.01M284.3 64.1h.01M285.1 65.8h.01M283.3 64.6h.01M283.1 65.5h.01M285.9 68.1h.01M284.0 68.3h.01M284.0 68.1h.01M282.8 68.2h.01M283.6 68.5h.01M282.2 68.2h.01M283.6 68.8h.01M283.1 69.9h.01M284.1 69.5h.01M285.1 70.2h.01M284.1 70.8h.01M283.7 70.9h.01M283.6 70.3h.01M283.8 70.4h.01M281.4 71.1h.01M281.2 70.6h.01M283.4 71.4h.01M282.2 70.8h.01M283.0 71.6h.01M284.8 73.4h.01M283.7 72.5h.01M282.8 72.2h.01M281.0 72.3h.01M283.8 73.7h.01M281.7 73.1h.01M282.0 73.7h.01M280.9 73.8h.01M282.8 74.6h.01M282.3 75.2h.01M280.0 73.7h.01M282.9 75.1h.01M283.2 75.8h.01M279.6 75.0h.01M279.4 75.2h.01M279.8 75.1h.01M281.8 75.4h.01M278.4 75.7h.01M279.3 75.6h.01M278.6 76.5h.01M280.6 76.8h.01M280.1 77.7h.01M280.5 78.0h.01M278.9 77.9h.01M279.7 79.0h.01M277.9 77.9h.01M280.8 80.9h.01M279.9 80.2h.01M280.2 80.8h.01M280.0 79.8h.01M277.5 44.6h.01M277.1 45.0h.01M276.8 45.0h.01M277.1 45.7h.01M278.3 46.0h.01M277.2 46.0h.01M277.3 46.8h.01M277.4 47.0h.01M277.1 46.4h.01M277.4 47.3h.01M277.3 47.8h.01M276.6 47.4h.01M276.0 48.1h.01M275.8 49.1h.01M277.9 49.4h.01M275.5 50.2h.01M277.0 51.3h.01M277.1 52.0h.01M276.6 52.0h.01M277.0 53.1h.01M276.8 54.0h.01M278.4 55.4h.01M276.6 54.8h.01M276.3 55.4h.01M277.0 56.4h.01M276.8 57.2h.01M276.5 57.2h.01M275.8 57.4h.01M276.3 57.4h.01M274.6 58.6h.01M275.0 58.5h.01M273.6 59.5h.01M274.1 59.8h.01M273.4 60.5h.01M273.2 60.4h.01M274.6 61.3h.01M273.8 61.8h.01M275.1 62.0h.01M274.5 61.7h.01M273.2 63.2h.01M274.6 62.9h.01M274.1 63.2h.01M274.4 63.7h.01M273.9 63.6h.01M274.5 65.3h.01M273.4 64.7h.01M273.5 64.6h.01M274.2 65.7h.01M273.3 65.6h.01M273.6 65.9h.01M273.8 66.3h.01M273.1 67.0h.01M274.6 67.8h.01M273.8 68.4h.01M272.9 68.1h.01M272.4 68.8h.01M273.4 69.0h.01M271.5 69.2h.01M272.1 70.2h.01M272.1 69.9h.01M272.1 70.6h.01M271.8 70.7h.01M271.2 71.3h.01M271.4 71.6h.01M272.4 71.9h.01M271.3 72.7h.01M270.9 72.0h.01M272.5 73.0h.01M271.5 73.5h.01M271.2 73.0h.01M271.6 72.9h.01M270.0 73.6h.01M270.0 73.8h.01M292.8 72.1h.01M295.8 72.3h.01M293.4 73.1h.01M294.9 73.0h.01M293.9 73.6h.01M295.4 73.6h.01M295.3 73.5h.01M295.5 74.9h.01M295.7 75.9h.01M296.2 76.6h.01M295.0 77.5h.01M296.6 76.1h.01M296.2 77.1h.01M296.2 77.5h.01M297.3 78.4h.01M297.6 78.3h.01M297.3 79.0h.01M295.7 79.4h.01M295.4 79.5h.01M297.2 80.9h.01M295.5 78.8h.01M295.7 81.1h.01M295.7 80.1h.01M296.1 80.6h.01M295.3 82.2h.01M294.5 80.2h.01M295.5 81.3h.01M294.4 81.7h.01M294.3 81.2h.01M294.7 81.6h.01M293.6 82.0h.01M292.6 81.9h.01M294.1 82.6h.01M293.1 81.9h.01M293.8 83.3h.01M293.1 83.3h.01M294.4 83.4h.01M293.6 84.1h.01M293.5 84.6h.01M293.8 84.4h.01M294.6 85.7h.01M291.9 84.2h.01M292.5 85.9h.01M291.9 85.8h.01M291.5 85.2h.01M290.6 85.0h.01M290.5 85.5h.01M289.5 86.3h.01M290.3 84.7h.01M290.0 85.6h.01M288.8 87.5h.01M288.9 86.0h.01M289.0 85.3h.01M287.9 86.4h.01M286.4 85.8h.01M286.3 86.0h.01M286.2 84.2h.01M294.1 80.6h.01M294.1 81.4h.01M293.2 80.4h.01M294.3 83.5h.01M292.2 81.7h.01M292.5 81.3h.01M292.3 83.1h.01M292.2 82.9h.01M291.4 81.4h.01M293.1 84.9h.01M291.4 83.8h.01M291.1 83.4h.01M291.4 83.6h.01M291.5 82.9h.01M290.5 83.6h.01M291.3 85.0h.01M289.5 82.6h.01M289.4 84.2h.01M289.6 83.6h.01M289.6 84.0h.01M290.9 85.5h.01M288.8 85.1h.01M288.7 85.1h.01M287.5 84.1h.01M287.9 84.7h.01M287.6 83.2h.01M287.3 85.7h.01M301.1 97.8h.01M298.8 98.2h.01M298.9 98.2h.01M298.7 98.0h.01M299.2 98.8h.01M298.6 99.3h.01M297.6 98.4h.01M297.6 100.4h.01M297.0 99.7h.01M299.0 101.1h.01M296.4 100.4h.01M298.6 102.1h.01M296.1 102.2h.01M297.9 102.2h.01M296.9 103.5h.01M297.3 103.6h.01M298.7 103.7h.01M298.4 101.8h.01M298.8 102.2h.01M299.8 103.1h.01M299.1 102.8h.01M298.9 104.9h.01M299.5 105.1h.01M300.3 104.1h.01M300.2 104.6h.01M300.4 104.3h.01M301.0 104.7h.01M299.9 105.8h.01M301.1 104.3h.01M300.7 104.7h.01M300.5 106.0h.01M301.3 106.0h.01M300.7 105.7h.01M302.3 105.7h.01M300.8 107.2h.01M303.3 106.7h.01M302.8 107.8h.01M303.5 106.8h.01M303.2 107.9h.01M303.6 108.7h.01M303.2 109.2h.01M304.7 109.1h.01M305.4 108.3h.01M305.4 109.1h.01M304.2 110.6h.01M304.8 111.0h.01M306.2 110.2h.01M304.7 110.9h.01M305.8 111.6h.01M306.0 111.1h.01M305.4 112.2h.01M306.3 111.8h.01M307.1 112.7h.01M306.7 113.2h.01M306.1 113.2h.01M305.4 114.7h.01M307.1 115.3h.01M275.9 71.0h.01M277.0 72.1h.01M277.5 71.6h.01M277.3 70.7h.01M277.8 69.7h.01M278.6 70.4h.01M278.6 69.6h.01M278.5 69.4h.01M277.3 68.3h.01M277.6 68.5h.01M279.8 67.9h.01M278.7 67.9h.01M279.1 67.0h.01M278.3 66.6h.01M279.6 67.2h.01M280.0 66.2h.01M279.8 66.2h.01M279.5 65.9h.01M280.5 65.4h.01M280.3 64.5h.01M279.6 63.6h.01M280.7 63.7h.01M279.8 62.9h.01M280.4 63.2h.01M249.0 71.0h.01M249.2 71.0h.01M249.4 71.4h.01M248.9 70.2h.01M250.4 70.9h.01M251.4 71.0h.01M251.7 70.8h.01M251.6 69.7h.01M251.8 69.6h.01M250.8 69.3h.01M252.6 68.4h.01M251.4 68.8h.01M251.1 67.3h.01M250.4 66.8h.01M252.3 65.7h.01M252.0 65.7h.01M253.8 65.4h.01M253.1 65.1h.01M252.4 64.1h.01M254.2 64.2h.01M253.1 64.1h.01M252.0 62.6h.01M253.9 63.3h.01M252.3 61.9h.01M253.5 62.6h.01M253.8 61.9h.01M252.6 61.4h.01M253.3 61.7h.01M248.6 218.4h.01M246.5 220.3h.01M248.2 221.9h.01M245.4 220.4h.01M246.5 222.0h.01M247.2 222.8h.01M245.5 224.2h.01M246.7 224.5h.01M247.0 225.5h.01M246.1 224.8h.01M245.9 227.0h.01M245.9 227.3h.01M244.6 226.4h.01M242.7 226.9h.01M245.2 228.8h.01M244.5 228.5h.01M245.1 229.0h.01M245.2 229.9h.01M243.0 228.8h.01M244.3 229.5h.01M242.6 229.4h.01M244.3 229.7h.01M242.4 229.4h.01M243.6 229.9h.01M242.3 230.2h.01M244.6 230.7h.01M244.6 231.2h.01M240.9 230.9h.01M242.6 230.9h.01M240.8 231.7h.01M240.6 232.0h.01M241.5 231.7h.01M243.8 233.9h.01M241.6 233.3h.01M242.0 233.3h.01M242.4 234.2h.01M242.6 234.0h.01M242.3 234.0h.01M241.5 234.4h.01M242.4 235.4h.01M240.9 235.5h.01M241.9 236.0h.01M241.7 235.9h.01M239.1 235.5h.01M240.9 236.4h.01M240.1 235.9h.01M239.9 236.6h.01M240.2 236.7h.01M239.5 236.5h.01M239.9 238.1h.01M238.7 237.3h.01M239.1 238.5h.01M239.6 238.7h.01M238.6 238.7h.01M238.0 240.6h.01M238.2 241.6h.01M296.5 137.1h.01M296.1 136.7h.01M296.1 137.9h.01M295.8 136.4h.01M295.3 137.0h.01M295.2 137.4h.01M294.5 137.3h.01M294.3 138.5h.01M294.5 137.8h.01M293.6 137.2h.01M293.6 138.1h.01M292.7 137.4h.01M292.3 137.0h.01M292.3 139.7h.01M292.5 140.1h.01M291.3 138.8h.01M291.3 140.2h.01M291.4 139.4h.01M290.7 140.2h.01M290.0 139.9h.01M290.2 141.0h.01M288.8 139.4h.01M288.5 139.2h.01M288.6 140.0h.01M288.0 139.2h.01M288.6 140.2h.01M287.1 140.3h.01M287.3 140.8h.01M287.7 140.9h.01M287.9 142.1h.01M286.2 140.7h.01M287.2 141.5h.01M287.2 141.6h.01M287.1 142.2h.01M286.5 142.5h.01M286.5 141.9h.01M285.8 142.1h.01M286.3 142.5h.01M285.6 141.9h.01M285.2 143.6h.01M284.8 143.2h.01M284.4 143.6h.01M284.1 143.6h.01M285.3 144.8h.01M283.9 144.9h.01M284.4 145.2h.01M282.7 144.8h.01M282.3 144.2h.01M283.0 145.9h.01M282.4 145.3h.01M282.9 146.6h.01M282.1 146.8h.01M281.7 145.9h.01M282.3 146.6h.01M282.3 147.2h.01M282.1 147.3h.01M281.9 147.5h.01M281.4 146.7h.01M279.9 146.7h.01M279.5 146.6h.01M280.4 147.1h.01M280.1 146.5h.01M279.3 147.6h.01M279.9 147.4h.01M278.9 148.5h.01M279.9 149.4h.01M279.8 150.1h.01M279.0 149.8h.01M278.3 150.4h.01M277.3 150.5h.01M278.8 152.1h.01M277.4 150.6h.01M278.8 152.2h.01M278.5 152.3h.01M276.5 151.7h.01M276.9 152.4h.01M276.0 152.5h.01M276.4 152.1h.01M275.5 153.2h.01M277.0 153.6h.01M276.4 153.0h.01M275.7 153.4h.01M276.2 154.3h.01M275.5 154.3h.01M276.1 154.1h.01M276.9 154.5h.01M274.6 154.7h.01M276.4 155.5h.01M274.6 155.7h.01M275.8 155.7h.01M274.2 156.1h.01M274.8 156.2h.01M275.1 156.5h.01M274.0 157.3h.01M273.3 156.8h.01M275.3 157.8h.01M273.7 158.3h.01M274.5 158.5h.01M272.6 158.5h.01M273.5 160.5h.01M272.2 160.8h.01M272.1 160.3h.01M271.0 160.9h.01M272.2 160.9h.01M271.2 161.3h.01M270.7 162.3h.01M271.1 162.7h.01M269.8 163.5h.01M270.7 164.0h.01M268.7 163.6h.01M267.9 164.1h.01M267.9 165.0h.01M266.5 166.4h.01M266.8 166.1h.01M267.5 167.2h.01M269.0 168.1h.01M267.5 170.1h.01M267.5 169.9h.01M266.6 170.3h.01M265.9 172.9h.01M267.1 174.2h.01M267.4 174.9h.01M267.1 173.9h.01M265.7 174.9h.01M265.0 174.8h.01M263.7 176.3h.01M264.9 177.4h.01M264.6 179.9h.01M264.2 181.2h.01M262.2 181.3h.01M261.4 180.7h.01M260.5 182.0h.01M261.5 182.8h.01M267.7 194.8h.01M264.7 197.3h.01M265.0 199.1h.01M263.2 199.8h.01M262.1 200.3h.01M262.8 201.1h.01M261.6 201.5h.01M261.4 201.0h.01M261.5 201.9h.01M261.7 203.5h.01M261.0 202.8h.01M260.2 203.8h.01M259.2 204.9h.01M260.6 204.7h.01M260.5 204.8h.01M261.6 206.8h.01M259.3 206.9h.01M259.7 207.9h.01M259.4 207.7h.01M259.5 208.8h.01M260.3 208.3h.01M258.7 208.0h.01M259.4 209.0h.01M259.9 209.7h.01M260.8 209.3h.01M259.2 210.3h.01M259.7 210.0h.01M259.2 210.4h.01M259.1 211.0h.01M259.2 210.7h.01M259.6 211.5h.01M258.8 211.7h.01M257.8 211.6h.01M259.6 212.0h.01M258.3 212.5h.01M258.8 212.9h.01M259.1 213.0h.01M259.0 213.6h.01M259.2 214.3h.01M258.5 214.9h.01M257.9 214.4h.01M257.2 214.0h.01M256.7 216.1h.01M257.5 216.0h.01M256.2 216.4h.01M256.0 217.0h.01M255.3 216.2h.01M255.2 217.8h.01M256.0 217.9h.01M255.5 218.7h.01M255.5 218.3h.01M255.8 218.2h.01M255.9 219.4h.01M254.7 220.2h.01M255.4 221.0h.01M254.4 221.3h.01M253.6 220.4h.01M253.4 223.5h.01M253.2 223.6h.01M253.7 223.7h.01M252.6 224.9h.01M252.7 224.9h.01M253.2 226.3h.01M251.1 228.5h.01M251.1 229.4h.01M250.3 230.2h.01M249.8 229.4h.01M233.6 124.7h.01M233.0 139.1h.01M233.3 140.7h.01M234.1 142.1h.01M233.7 143.0h.01M231.7 143.4h.01M233.3 143.7h.01M232.8 144.1h.01M233.0 144.2h.01M234.2 144.8h.01M234.6 145.0h.01M233.7 144.8h.01M233.6 145.6h.01M233.0 146.6h.01M233.4 146.0h.01M233.6 147.3h.01M234.3 146.9h.01M234.0 146.5h.01M235.5 146.9h.01M235.3 147.2h.01M236.0 146.5h.01M234.2 148.9h.01M234.3 148.5h.01M234.5 149.0h.01M234.3 149.1h.01M235.0 150.5h.01M236.2 149.9h.01M235.6 150.9h.01M234.7 151.0h.01M234.8 152.3h.01M235.6 152.1h.01M233.5 151.9h.01M235.5 152.7h.01M234.4 153.0h.01M234.4 152.9h.01M235.5 153.8h.01M234.8 153.4h.01M234.0 154.8h.01M235.0 154.6h.01M235.4 155.9h.01M235.9 155.0h.01M235.3 155.5h.01M235.4 157.1h.01" stroke="#80ff80" stroke-width="1.40"/>
<path d="M229.6 82.2h.01M230.5 84.4h.01M232.6 86.2h.01M231.1 87.1h.01M229.5 86.5h.01M230.7 86.8h.01M229.7 87.3h.01M232.3 87.3h.01M234.1 88.3h.01M232.2 88.8h.01M232.4 89.3h.01M231.1 89.9h.01M229.5 89.9h.01M230.2 90.8h.01M229.1 90.5h.01M231.0 91.3h.01M231.2 92.1h.01M232.6 93.1h.01M228.8 92.3h.01M228.0 93.0h.01M229.2 93.8h.01M228.6 93.7h.01M228.7 94.0h.01M231.7 95.3h.01M227.7 94.4h.01M227.8 94.9h.01M229.4 96.7h.01M227.6 96.4h.01M227.8 97.2h.01M226.8 96.9h.01M229.8 97.3h.01M229.5 97.9h.01M229.5 98.4h.01M229.5 98.6h.01M228.6 98.0h.01M228.3 99.0h.01M231.7 99.4h.01M229.1 99.6h.01M231.5 99.5h.01M228.6 99.8h.01M226.1 100.4h.01M230.0 99.8h.01M229.4 100.7h.01M230.8 100.9h.01M227.6 100.7h.01M227.7 100.6h.01M230.8 100.5h.01M228.4 102.1h.01M227.3 101.4h.01M227.7 101.6h.01M230.6 102.2h.01M229.6 103.0h.01M229.6 102.8h.01M228.4 103.1h.01M230.5 103.2h.01M231.7 103.9h.01M228.1 103.6h.01M226.8 104.9h.01M229.3 104.8h.01M229.9 104.8h.01M228.3 104.8h.01M229.3 104.5h.01M229.7 105.7h.01M230.3 105.2h.01M231.2 105.7h.01M229.0 105.2h.01M229.5 105.6h.01M231.0 106.7h.01M230.9 106.2h.01M226.7 106.2h.01M231.4 106.2h.01M229.9 106.2h.01M230.7 106.4h.01M230.4 107.7h.01M227.8 107.0h.01M229.8 107.6h.01M228.6 107.3h.01M229.2 107.2h.01M228.0 107.2h.01M226.5 107.5h.01M226.5 107.0h.01M229.4 108.4h.01M228.6 108.2h.01M227.2 107.5h.01M229.2 108.8h.01M228.4 108.9h.01M228.0 108.6h.01M229.7 109.1h.01M227.4 108.6h.01M228.3 109.4h.01M227.8 109.3h.01M228.0 109.4h.01M229.2 110.0h.01M227.8 110.1h.01M227.2 110.9h.01M227.8 110.9h.01M227.3 110.7h.01M229.4 111.6h.01M227.5 110.6h.01M226.9 110.2h.01M227.9 111.4h.01M228.0 111.6h.01M229.7 112.5h.01M226.9 110.8h.01M228.0 112.0h.01M226.8 112.4h.01M227.5 112.9h.01M225.6 112.2h.01M227.6 112.9h.01M225.2 112.5h.01M224.3 112.7h.01M228.3 113.3h.01M225.9 112.9h.01M225.4 113.7h.01M228.8 114.2h.01M225.9 114.6h.01M225.6 114.6h.01M227.4 114.8h.01M226.0 114.7h.01M226.9 114.5h.01M227.9 115.1h.01M226.7 116.2h.01M227.0 116.7h.01M226.6 117.0h.01M225.2 117.0h.01M228.7 115.9h.01M227.3 117.1h.01M227.8 117.0h.01M227.2 117.2h.01M228.0 118.5h.01M226.8 118.4h.01M227.4 119.1h.01M229.5 119.4h.01M229.2 120.3h.01M229.8 120.1h.01M227.0 121.1h.01M225.3 122.2h.01M228.2 121.8h.01M229.4 122.2h.01M227.9 123.0h.01M228.9 124.6h.01M229.3 125.1h.01M228.6 125.4h.01M228.3 125.4h.01M228.5 125.6h.01M230.2 128.3h.01M237.1 72.5h.01M236.9 74.0h.01M237.5 73.6h.01M236.8 73.3h.01M238.3 74.7h.01M237.6 74.6h.01M237.6 75.7h.01M236.0 74.9h.01M236.6 75.6h.01M238.4 77.2h.01M237.8 76.9h.01M237.4 76.4h.01M235.9 77.4h.01M236.1 77.9h.01M236.2 77.8h.01M235.4 79.3h.01M235.5 78.8h.01M237.0 78.8h.01M236.7 80.2h.01M236.5 80.1h.01M236.9 80.3h.01M234.2 79.8h.01M236.4 81.0h.01M236.9 80.5h.01M237.4 81.3h.01M236.6 83.0h.01M252.1 56.5h.01M251.2 58.5h.01M252.2 62.3h.01M251.8 63.2h.01M252.1 62.9h.01M252.4 64.4h.01M252.1 64.4h.01M251.0 64.8h.01M252.3 65.2h.01M250.5 66.3h.01M251.3 66.6h.01M249.8 67.0h.01M249.4 67.4h.01M251.0 68.0h.01M249.3 67.0h.01M249.3 67.8h.01M250.1 67.9h.01M250.7 68.4h.01M250.3 68.4h.01M252.0 69.2h.01M249.6 69.5h.01M250.1 69.7h.01M251.2 69.7h.01M251.0 69.2h.01M252.4 70.0h.01M250.7 70.0h.01M250.7 69.9h.01M249.2 69.7h.01M250.7 71.0h.01M252.5 71.6h.01M250.1 71.1h.01M250.5 72.6h.01M251.0 72.1h.01M250.8 72.1h.01M250.7 73.4h.01M249.7 73.4h.01M248.8 72.4h.01M249.0 73.1h.01M249.6 74.1h.01M250.9 74.1h.01M249.0 73.6h.01M251.0 75.0h.01M248.6 74.2h.01M249.8 75.0h.01M248.4 74.2h.01M248.4 75.1h.01M248.3 75.4h.01M251.1 76.2h.01M249.9 77.0h.01M250.0 76.8h.01M249.1 76.8h.01M250.1 76.8h.01M249.1 77.5h.01M248.5 77.0h.01M251.1 77.9h.01M250.2 77.1h.01M249.2 78.2h.01M248.3 78.6h.01M249.5 78.2h.01M249.1 79.2h.01M247.2 78.5h.01M246.8 79.3h.01M248.0 80.4h.01M248.9 80.1h.01M249.2 80.2h.01M249.6 81.0h.01M249.7 81.0h.01M248.8 81.7h.01M249.8 82.6h.01M248.5 81.6h.01M247.8 82.6h.01M247.1 82.5h.01M248.3 84.1h.01M248.6 84.2h.01M247.3 83.7h.01M248.6 86.0h.01M248.1 86.0h.01M247.7 87.1h.01M246.8 86.9h.01M249.0 88.6h.01M246.0 88.9h.01M245.7 88.9h.01M245.3 90.6h.01M243.7 100.0h.01M256.4 60.2h.01M256.7 61.4h.01M259.0 62.3h.01M257.5 62.3h.01M256.2 64.1h.01M257.3 66.4h.01M255.8 66.5h.01M256.9 68.4h.01M255.2 67.0h.01M254.5 67.5h.01M255.9 67.6h.01M255.1 68.1h.01M257.0 68.9h.01M255.8 68.4h.01M255.1 69.0h.01M255.8 69.4h.01M254.8 70.4h.01M257.0 70.5h.01M255.1 70.3h.01M255.4 70.3h.01M255.6 70.8h.01M254.2 70.9h.01M253.8 71.1h.01M254.0 70.4h.01M255.7 71.4h.01M253.5 71.7h.01M255.2 71.8h.01M253.8 72.0h.01M255.7 71.7h.01M254.4 71.7h.01M256.5 72.8h.01M254.9 72.9h.01M255.6 72.7h.01M255.8 73.1h.01M256.0 73.9h.01M255.0 73.9h.01M256.7 73.9h.01M254.4 73.5h.01M255.3 74.5h.01M254.2 75.1h.01M255.5 74.7h.01M254.8 74.3h.01M254.3 75.6h.01M255.8 75.6h.01M253.0 75.8h.01M256.6 75.6h.01M257.1 76.0h.01M255.2 77.2h.01M256.5 76.9h.01M255.8 76.9h.01M255.7 77.9h.01M254.7 77.9h.01M257.0 78.2h.01M255.5 78.3h.01M254.9 78.9h.01M252.9 79.2h.01M255.5 79.9h.01M254.2 79.4h.01M254.3 81.8h.01M255.8 82.9h.01M255.7 83.9h.01M255.4 88.3h.01M277.0 68.4h.01M275.9 70.4h.01M276.2 71.4h.01M276.8 73.0h.01M277.8 74.2h.01M276.3 75.2h.01M278.8 75.7h.01M276.4 76.6h.01M278.1 77.7h.01M275.6 76.7h.01M277.4 77.1h.01M276.0 77.6h.01M274.5 78.7h.01M274.4 79.7h.01M275.6 81.1h.01M273.7 80.3h.01M275.6 81.4h.01M275.1 81.7h.01M273.8 80.3h.01M273.1 81.4h.01M273.4 81.4h.01M272.7 81.7h.01M272.7 81.3h.01M274.8 82.6h.01M273.6 82.5h.01M273.3 82.6h.01M275.3 83.2h.01M273.5 84.4h.01M273.3 83.9h.01M272.0 84.5h.01M274.2 84.7h.01M275.6 85.1h.01M273.6 85.3h.01M275.1 85.3h.01M271.5 85.1h.01M274.5 85.9h.01M272.9 86.3h.01M274.5 87.5h.01M273.7 86.9h.01M273.8 88.1h.01M273.7 88.0h.01M272.0 87.2h.01M274.0 89.1h.01M272.3 88.6h.01M272.6 88.7h.01M272.5 89.9h.01M271.3 88.9h.01M271.1 89.9h.01M273.6 90.6h.01M272.0 90.2h.01M273.8 91.4h.01M272.3 91.2h.01M272.1 91.1h.01M270.4 91.7h.01M271.8 92.8h.01M272.0 94.7h.01M281.0 72.4h.01M281.4 73.9h.01M281.2 76.3h.01M280.4 76.4h.01M280.1 76.0h.01M280.2 77.3h.01M278.7 76.2h.01M280.4 77.7h.01M279.4 77.8h.01M278.5 78.2h.01M277.9 77.9h.01M278.7 80.0h.01M277.9 79.0h.01M278.8 80.5h.01M278.3 80.9h.01M277.0 79.9h.01M278.3 81.6h.01M277.9 79.9h.01M278.0 80.1h.01M276.8 80.4h.01M278.0 82.0h.01M277.7 82.1h.01M278.0 82.4h.01M276.7 81.2h.01M276.2 81.9h.01M278.5 82.2h.01M277.2 81.8h.01M276.1 82.1h.01M276.7 49.2h.01M275.8 50.1h.01M277.0 51.3h.01M276.5 53.0h.01M276.2 55.2h.01M276.9 55.8h.01M276.1 55.6h.01M275.9 57.9h.01M274.9 57.8h.01M275.0 59.0h.01M273.9 66.3h.01M272.2 68.0h.01M273.1 69.6h.01M295.9 77.9h.01M295.8 80.4h.01M293.3 85.1h.01M291.3 86.5h.01M291.2 84.8h.01M291.1 86.7h.01M290.9 84.8h.01M289.9 85.5h.01M287.6 87.2h.01M287.8 85.0h.01M287.0 85.5h.01M286.8 85.9h.01M287.0 85.1h.01M286.6 86.0h.01M288.5 83.1h.01M288.5 83.2h.01M289.7 85.3h.01M287.1 85.0h.01M287.1 84.8h.01M287.5 87.6h.01M286.9 84.7h.01M286.4 84.8h.01M285.5 84.0h.01M286.0 85.6h.01M286.0 86.3h.01M283.7 84.7h.01M285.2 86.3h.01M298.5 104.3h.01M300.5 104.1h.01M302.9 106.0h.01M303.9 106.3h.01M276.5 71.0h.01M277.1 69.7h.01M278.5 67.3h.01M251.7 67.4h.01M252.5 66.8h.01M252.0 66.3h.01M251.9 65.2h.01M252.7 62.9h.01M252.4 62.8h.01M252.3 62.6h.01M244.1 231.1h.01M242.0 235.3h.01M241.0 235.1h.01M239.5 237.6h.01M239.8 240.3h.01M238.7 239.4h.01M239.6 239.6h.01M237.7 240.2h.01M237.4 240.1h.01M238.1 239.7h.01M238.6 241.2h.01M237.3 241.1h.01M236.4 241.3h.01M237.0 241.7h.01M237.5 243.1h.01M236.8 242.1h.01M237.5 244.1h.01M237.4 243.8h.01M237.7 243.8h.01M236.5 244.7h.01M237.1 244.2h.01M284.4 145.3h.01M284.0 145.1h.01M283.4 145.7h.01M281.7 145.2h.01M279.4 148.1h.01M278.8 149.8h.01M274.2 154.6h.01M275.4 157.8h.01M273.1 157.8h.01M272.0 158.5h.01M273.4 158.6h.01M273.9 160.3h.01M272.6 159.6h.01M272.1 160.4h.01M272.2 160.5h.01M272.0 161.0h.01M272.2 161.6h.01M272.3 162.1h.01M272.1 162.1h.01M271.5 162.0h.01M271.8 163.7h.01M271.2 163.6h.01M271.0 164.7h.01M269.9 164.0h.01M269.7 164.9h.01M270.0 164.8h.01M269.0 165.6h.01M268.7 165.7h.01M269.7 167.1h.01M269.3 166.4h.01M267.3 165.5h.01M267.5 165.3h.01M267.3 166.9h.01M268.0 167.7h.01M266.6 168.0h.01M268.6 168.0h.01M265.9 168.2h.01M267.5 168.5h.01M267.9 168.6h.01M267.8 169.8h.01M267.8 170.0h.01M266.9 170.7h.01M265.9 170.4h.01M265.7 171.6h.01M265.8 171.4h.01M268.3 171.9h.01M266.3 171.9h.01M265.6 172.2h.01M266.5 172.8h.01M266.6 173.2h.01M266.7 173.0h.01M266.8 175.0h.01M265.6 174.1h.01M266.9 176.1h.01M265.2 174.9h.01M264.5 175.7h.01M264.5 176.2h.01M266.0 177.4h.01M265.0 175.9h.01M263.9 176.8h.01M265.3 177.7h.01M263.6 177.7h.01M265.0 178.3h.01M262.6 177.7h.01M263.0 177.8h.01M263.8 178.8h.01M262.4 178.7h.01M262.0 179.1h.01M263.4 180.1h.01M263.3 180.7h.01M262.6 180.6h.01M262.5 181.4h.01M261.4 181.9h.01M262.3 182.2h.01M261.7 182.2h.01M262.8 182.3h.01M262.0 182.5h.01M261.5 183.0h.01M262.2 184.4h.01M262.9 184.0h.01M260.8 183.7h.01M261.9 183.9h.01M260.8 184.2h.01M259.6 183.7h.01M259.7 184.3h.01M259.2 184.3h.01M260.1 184.7h.01M261.7 185.3h.01M260.4 185.8h.01M260.7 186.1h.01M260.7 185.8h.01M259.6 186.2h.01M259.5 186.3h.01M258.9 186.7h.01M260.9 187.3h.01M259.0 187.7h.01M259.1 187.7h.01M257.9 188.5h.01M260.2 189.4h.01M260.2 189.4h.01M258.8 190.4h.01M258.6 191.6h.01M257.5 190.9h.01M258.2 191.7h.01M258.4 191.9h.01M258.6 192.4h.01M258.2 193.0h.01M258.1 193.1h.01M257.9 194.0h.01M257.5 193.3h.01M256.8 194.3h.01M257.2 194.7h.01M257.1 195.6h.01M257.5 195.4h.01M257.9 195.6h.01M256.4 195.7h.01M256.4 196.2h.01M257.8 197.7h.01M255.4 197.2h.01M257.7 198.4h.01M256.4 199.3h.01M254.6 199.5h.01M256.5 199.6h.01M253.7 200.1h.01M254.8 203.3h.01M252.6 203.8h.01M253.6 203.7h.01M253.4 205.0h.01M253.2 204.9h.01M253.3 205.6h.01M253.5 205.3h.01M251.9 206.0h.01M252.6 206.5h.01M254.5 207.6h.01M251.9 209.1h.01M251.6 210.1h.01M252.4 211.0h.01M249.3 214.5h.01M246.7 219.8h.01M257.5 213.9h.01M257.3 214.9h.01M255.9 215.1h.01M256.7 215.3h.01M257.0 216.2h.01M255.2 217.1h.01M255.2 219.2h.01M255.1 219.6h.01M256.0 220.8h.01M255.2 219.9h.01M254.5 221.6h.01M255.2 222.5h.01M254.8 222.0h.01M253.8 222.4h.01M253.6 222.6h.01M254.9 223.4h.01M253.3 224.7h.01M254.4 224.7h.01M253.8 224.2h.01M253.7 225.9h.01M252.8 226.1h.01M251.7 225.4h.01M252.7 226.6h.01M252.5 226.5h.01M252.6 227.4h.01M251.0 226.4h.01M251.6 227.3h.01M251.6 227.3h.01M251.3 228.5h.01M251.8 228.6h.01M251.2 228.8h.01M250.8 228.5h.01M251.2 230.1h.01M249.9 230.7h.01M249.3 230.6h.01M250.1 230.9h.01M248.4 231.0h.01M249.4 231.0h.01M250.3 232.0h.01M248.4 231.9h.01M248.0 231.9h.01M248.8 231.9h.01M247.6 232.2h.01M248.7 233.4h.01M247.3 232.9h.01M247.2 232.8h.01M247.9 234.8h.01M246.5 234.1h.01M247.4 234.4h.01M246.5 234.8h.01M247.9 235.5h.01M246.1 235.7h.01M245.7 235.7h.01M247.1 236.0h.01M246.7 237.2h.01M245.8 236.9h.01M246.7 236.5h.01M246.0 237.9h.01M245.8 237.9h.01M245.1 237.8h.01M246.7 239.1h.01M245.9 239.2h.01M244.5 239.0h.01M267.3 161.9h.01M265.9 163.5h.01M265.6 167.4h.01M264.2 170.7h.01M243.9 178.4h.01M243.6 179.1h.01M244.2 180.2h.01M232.7 125.2h.01M232.3 125.1h.01M233.2 125.2h.01M231.7 125.2h.01M233.8 125.9h.01M233.2 125.6h.01M232.5 126.4h.01M231.1 126.1h.01M232.6 127.1h.01M233.7 127.2h.01M232.8 127.3h.01M231.1 127.3h.01M231.4 127.4h.01M230.7 128.1h.01M233.2 129.2h.01M232.0 127.8h.01M232.5 129.1h.01M232.8 129.5h.01M231.9 130.0h.01M233.2 130.4h.01M231.4 129.6h.01M229.4 130.6h.01M229.8 130.8h.01M231.4 132.5h.01M230.6 132.2h.01M228.9 132.9h.01M229.2 133.2h.01M229.9 133.7h.01M229.3 134.7h.01M228.5 135.5h.01M228.4 135.6h.01M227.8 135.9h.01M226.3 135.5h.01M227.2 137.2h.01M227.7 137.1h.01M224.9 139.3h.01M225.1 141.4h.01M235.5 135.1h.01M233.7 136.7h.01M234.8 136.9h.01M234.3 137.6h.01M234.0 137.7h.01M234.1 137.8h.01M233.5 139.1h.01M234.3 138.8h.01M234.1 140.0h.01M233.4 139.5h.01M234.7 139.9h.01M234.5 141.2h.01M233.5 141.1h.01M232.3 141.5h.01M233.9 141.5h.01M233.2 142.5h.01M234.3 142.3h.01M235.0 148.5h.01M234.8 149.6h.01M235.9 150.4h.01M234.2 154.8h.01M235.1 155.2h.01M235.1 156.5h.01M236.6 156.2h.01M234.9 157.1h.01M237.0 156.9h.01M235.3 157.5h.01M237.4 156.8h.01M237.4 157.3h.01M236.1 157.7h.01M236.9 158.1h.01M236.7 158.0h.01M236.4 159.4h.01M235.2 159.3h.01M235.3 159.4h.01M236.2 158.6h.01M237.1 159.4h.01M236.8 159.6h.01M237.2 160.9h.01" stroke="#60ff9f" stroke-width="1.40"/>
<path d="M228.7 101.7h.01M228.7 102.3h.01M229.0 109.4h.01M226.1 108.8h.01M226.5 111.6h.01M226.7 111.8h.01M227.6 113.4h.01M227.7 114.0h.01M226.1 113.8h.01M225.8 114.2h.01M226.8 115.4h.01M227.4 116.0h.01M227.4 115.3h.01M224.7 116.8h.01M227.3 116.3h.01M225.6 117.8h.01M226.5 117.9h.01M226.3 118.3h.01M228.2 118.7h.01M227.6 117.9h.01M229.8 119.0h.01M227.6 118.8h.01M225.7 120.0h.01M226.7 120.5h.01M227.9 120.1h.01M227.2 120.7h.01M227.9 120.6h.01M227.9 121.2h.01M228.6 121.8h.01M226.9 122.1h.01M228.8 121.4h.01M227.5 122.8h.01M228.0 122.6h.01M228.9 122.7h.01M226.5 124.1h.01M227.9 123.6h.01M229.2 123.8h.01M228.3 123.4h.01M229.2 124.2h.01M227.1 124.6h.01M228.5 124.3h.01M228.2 125.2h.01M230.2 125.5h.01M230.5 125.5h.01M230.2 125.3h.01M230.0 126.8h.01M230.5 126.6h.01M229.1 127.8h.01M229.6 127.3h.01M229.8 126.6h.01M230.8 127.3h.01M231.3 127.1h.01M229.8 128.3h.01M229.4 129.5h.01M230.6 129.0h.01M230.7 127.9h.01M231.6 127.2h.01M231.5 128.5h.01M231.4 128.9h.01M232.5 127.7h.01M236.3 78.2h.01M235.1 81.1h.01M235.6 80.8h.01M234.6 81.2h.01M235.4 81.6h.01M236.6 81.3h.01M236.8 82.9h.01M236.2 82.8h.01M236.7 82.6h.01M235.9 83.9h.01M235.2 83.1h.01M235.7 83.7h.01M235.4 83.8h.01M237.0 84.7h.01M237.1 84.2h.01M234.9 84.7h.01M236.7 85.6h.01M235.5 85.5h.01M235.3 86.2h.01M237.1 86.0h.01M237.6 86.0h.01M236.3 87.4h.01M236.3 87.3h.01M234.5 87.1h.01M235.4 88.0h.01M236.4 88.5h.01M235.3 88.5h.01M234.8 89.3h.01M235.1 90.9h.01M234.8 91.9h.01M235.3 91.5h.01M236.1 91.8h.01M235.1 92.8h.01M233.9 94.0h.01M233.6 93.5h.01M234.0 95.1h.01M233.2 94.9h.01M234.5 96.3h.01M234.4 96.2h.01M233.3 97.3h.01M233.4 97.9h.01M233.7 98.8h.01M233.2 98.1h.01M233.3 99.7h.01M233.2 99.3h.01M232.7 100.6h.01M233.5 100.6h.01M232.9 101.1h.01M231.9 101.2h.01M232.4 101.7h.01M232.3 102.0h.01M232.0 102.9h.01M232.7 104.2h.01M232.0 104.1h.01M230.9 103.3h.01M233.1 105.7h.01M232.9 105.9h.01M230.8 105.7h.01M232.7 106.2h.01M232.4 107.7h.01M233.3 108.6h.01M231.3 114.9h.01M232.7 115.3h.01M232.2 115.4h.01M249.2 69.7h.01M251.5 72.7h.01M247.9 73.9h.01M249.6 75.6h.01M247.9 77.4h.01M248.4 78.6h.01M247.3 77.7h.01M251.5 79.4h.01M249.4 79.6h.01M247.0 81.1h.01M248.8 81.3h.01M248.3 82.2h.01M249.5 83.1h.01M247.3 82.3h.01M247.5 83.7h.01M246.7 83.2h.01M248.1 84.9h.01M246.3 83.7h.01M249.2 85.2h.01M248.3 84.5h.01M247.2 85.3h.01M248.1 85.9h.01M247.8 85.8h.01M246.0 85.6h.01M247.6 86.6h.01M247.1 86.2h.01M245.6 86.5h.01M246.5 87.3h.01M247.0 87.4h.01M246.2 87.3h.01M248.1 88.5h.01M245.6 87.5h.01M246.3 88.2h.01M245.2 88.1h.01M245.5 88.8h.01M245.7 88.7h.01M246.8 90.2h.01M246.3 89.2h.01M246.3 89.6h.01M247.3 90.3h.01M245.3 89.1h.01M245.2 90.0h.01M246.0 90.7h.01M246.0 90.5h.01M244.0 90.9h.01M247.2 91.4h.01M244.5 91.0h.01M246.6 91.3h.01M245.0 91.8h.01M245.2 92.4h.01M244.7 92.4h.01M245.3 92.0h.01M245.6 93.0h.01M243.6 93.1h.01M243.6 92.9h.01M245.8 93.5h.01M244.9 93.8h.01M247.3 94.5h.01M245.8 94.0h.01M245.4 94.7h.01M246.8 94.9h.01M246.1 95.3h.01M244.8 94.5h.01M246.8 96.0h.01M244.0 95.1h.01M244.1 96.8h.01M243.9 96.6h.01M246.0 98.2h.01M243.7 97.1h.01M244.9 97.4h.01M243.3 98.3h.01M243.7 97.9h.01M243.4 97.7h.01M244.7 98.4h.01M244.8 99.3h.01M243.3 98.7h.01M243.8 98.9h.01M243.2 100.9h.01M242.2 101.0h.01M243.5 102.7h.01M242.9 103.0h.01M243.3 103.8h.01M241.0 103.4h.01M242.9 104.1h.01M244.4 104.9h.01M243.0 104.8h.01M242.4 106.2h.01M243.8 107.2h.01M242.3 108.2h.01M241.3 107.8h.01M240.6 108.5h.01M241.8 108.8h.01M243.9 108.6h.01M244.6 109.7h.01M243.6 110.3h.01M241.8 111.0h.01M243.5 111.2h.01M241.6 112.7h.01M242.7 112.3h.01M245.0 113.4h.01M240.9 113.0h.01M242.4 114.5h.01M241.9 113.9h.01M244.4 116.3h.01M242.5 117.8h.01M241.1 117.7h.01M242.0 118.3h.01M242.9 121.3h.01M254.5 74.1h.01M253.7 75.1h.01M255.0 75.2h.01M255.1 76.7h.01M253.5 76.6h.01M255.2 77.0h.01M256.2 77.2h.01M253.9 79.3h.01M252.8 79.0h.01M253.1 78.6h.01M253.1 78.8h.01M253.0 79.1h.01M254.6 80.1h.01M253.3 80.5h.01M252.6 80.2h.01M256.2 81.3h.01M254.6 82.0h.01M254.4 82.2h.01M253.8 81.6h.01M253.6 82.8h.01M252.7 82.9h.01M253.1 84.0h.01M253.8 83.3h.01M252.6 84.0h.01M253.9 83.4h.01M254.5 83.4h.01M252.9 84.2h.01M253.1 84.8h.01M254.9 84.1h.01M254.7 84.3h.01M253.8 85.3h.01M252.9 86.0h.01M256.1 84.9h.01M252.1 86.2h.01M253.4 85.8h.01M254.1 86.7h.01M254.5 85.8h.01M253.0 86.3h.01M253.6 86.0h.01M254.9 86.6h.01M254.7 87.4h.01M255.5 87.1h.01M254.6 87.3h.01M255.5 87.0h.01M255.5 87.8h.01M254.6 88.0h.01M257.5 87.9h.01M256.3 89.4h.01M254.1 89.0h.01M256.3 88.7h.01M254.4 88.8h.01M254.6 90.1h.01M254.2 89.5h.01M254.9 89.9h.01M252.9 88.9h.01M255.0 91.1h.01M254.8 91.1h.01M252.0 89.7h.01M254.7 91.9h.01M253.9 91.6h.01M255.0 91.4h.01M254.2 91.4h.01M273.8 83.3h.01M271.0 83.7h.01M273.5 83.4h.01M272.7 84.6h.01M273.5 85.7h.01M272.2 86.8h.01M274.2 87.2h.01M273.4 87.5h.01M275.0 88.3h.01M273.0 88.9h.01M271.7 89.4h.01M274.1 90.0h.01M273.0 91.6h.01M271.6 91.3h.01M272.2 92.3h.01M269.5 91.1h.01M269.7 91.6h.01M272.3 93.3h.01M271.8 92.7h.01M273.0 93.2h.01M271.8 93.1h.01M271.3 93.7h.01M269.8 93.4h.01M270.3 93.4h.01M271.8 94.2h.01M269.4 93.6h.01M270.2 94.7h.01M270.3 94.2h.01M268.5 94.7h.01M271.0 96.5h.01M268.1 93.8h.01M270.6 95.5h.01M269.8 95.4h.01M270.2 96.4h.01M269.0 95.9h.01M268.1 95.2h.01M269.1 95.6h.01M268.9 96.9h.01M268.9 96.8h.01M269.4 97.7h.01M268.5 97.9h.01M268.9 97.5h.01M277.4 82.2h.01M286.0 84.4h.01M286.3 85.6h.01M286.8 85.0h.01M286.7 85.4h.01M285.5 86.2h.01M285.2 86.2h.01M285.2 85.7h.01M285.7 86.4h.01M286.0 87.9h.01M283.6 86.4h.01M285.3 87.2h.01M283.3 87.0h.01M282.5 87.2h.01M282.4 89.2h.01M281.8 86.4h.01M236.9 242.6h.01M237.7 244.8h.01M267.2 174.1h.01M264.0 177.5h.01M260.1 185.2h.01M258.7 186.5h.01M260.4 188.2h.01M258.5 188.2h.01M257.9 188.1h.01M258.8 189.8h.01M259.9 190.9h.01M258.1 190.4h.01M258.3 190.8h.01M258.9 192.8h.01M257.1 192.8h.01M258.2 193.5h.01M257.7 193.6h.01M257.1 193.9h.01M257.8 194.7h.01M256.8 195.3h.01M256.2 196.4h.01M257.3 197.0h.01M257.2 197.1h.01M257.0 197.6h.01M255.9 197.8h.01M255.4 198.3h.01M256.9 199.6h.01M254.6 198.9h.01M255.3 199.5h.01M256.0 200.6h.01M255.9 201.1h.01M255.2 201.3h.01M254.9 200.8h.01M253.5 200.7h.01M256.0 202.5h.01M255.4 202.6h.01M255.5 202.1h.01M254.1 202.6h.01M254.4 203.4h.01M253.9 203.9h.01M253.3 203.6h.01M254.4 205.0h.01M253.5 204.9h.01M252.6 205.5h.01M254.5 205.5h.01M253.1 206.6h.01M252.4 206.7h.01M250.8 207.3h.01M252.9 207.8h.01M251.7 208.1h.01M252.7 209.2h.01M251.1 208.4h.01M250.4 209.1h.01M251.6 210.1h.01M251.8 211.1h.01M251.9 210.7h.01M249.9 211.2h.01M250.9 211.1h.01M252.3 212.0h.01M251.8 212.3h.01M249.5 211.5h.01M250.1 212.2h.01M249.2 212.7h.01M250.6 213.5h.01M249.2 212.8h.01M251.1 213.2h.01M249.0 213.2h.01M250.1 213.7h.01M250.2 213.7h.01M248.4 213.1h.01M250.8 215.2h.01M250.6 215.0h.01M249.3 215.1h.01M249.1 215.5h.01M248.1 215.2h.01M249.1 215.1h.01M249.8 217.1h.01M248.9 216.7h.01M249.0 216.8h.01M248.4 216.8h.01M248.6 217.0h.01M247.9 217.1h.01M247.6 217.7h.01M247.7 218.1h.01M247.7 218.0h.01M248.3 218.8h.01M248.3 219.5h.01M247.1 218.8h.01M247.0 219.8h.01M246.5 219.6h.01M246.8 219.4h.01M247.5 220.4h.01M246.8 221.2h.01M247.1 221.6h.01M245.4 221.4h.01M244.8 222.8h.01M246.3 222.5h.01M246.1 223.8h.01M244.4 223.1h.01M245.2 224.3h.01M244.7 224.6h.01M245.7 227.0h.01M244.1 225.9h.01M242.5 226.4h.01M244.2 227.1h.01M243.5 226.4h.01M243.3 227.9h.01M241.4 228.0h.01M243.1 229.5h.01M242.4 230.1h.01M242.3 230.0h.01M243.3 231.7h.01M242.6 232.0h.01M240.8 233.3h.01M248.7 233.4h.01M247.9 233.7h.01M247.7 234.9h.01M246.2 237.3h.01M244.8 238.0h.01M245.8 239.8h.01M268.1 160.0h.01M267.8 160.1h.01M267.2 160.8h.01M268.0 161.3h.01M267.7 162.9h.01M266.7 162.5h.01M266.8 163.4h.01M267.7 164.3h.01M267.7 165.3h.01M267.0 165.5h.01M265.4 166.0h.01M265.9 167.0h.01M264.4 166.8h.01M264.8 169.7h.01M263.9 169.8h.01M263.6 170.0h.01M262.3 171.3h.01M262.4 172.7h.01M262.6 172.2h.01M260.9 175.1h.01M251.2 203.4h.01M247.9 210.2h.01M248.1 210.3h.01M247.1 210.4h.01M246.5 213.4h.01M246.2 214.7h.01M245.1 216.2h.01M245.3 218.1h.01M244.9 217.6h.01M245.5 218.5h.01M244.5 218.9h.01M242.7 221.4h.01M242.2 222.4h.01M242.2 223.4h.01M242.6 223.4h.01M242.3 224.2h.01M241.4 224.6h.01M243.7 178.1h.01M244.0 179.1h.01M244.6 179.5h.01M244.1 181.1h.01M244.3 180.8h.01M242.9 181.4h.01M244.7 182.0h.01M243.2 182.4h.01M242.7 183.3h.01M243.5 183.8h.01M244.5 184.7h.01M242.9 184.4h.01M243.2 185.2h.01M243.8 184.9h.01M243.5 186.0h.01M243.7 186.4h.01M243.8 187.9h.01M242.1 189.9h.01M242.0 190.6h.01M243.2 190.7h.01M243.3 191.3h.01M242.6 191.3h.01M243.7 192.0h.01M241.9 192.4h.01M243.0 194.1h.01M242.2 194.5h.01M242.4 196.1h.01M242.5 196.8h.01M242.4 198.6h.01M241.1 199.0h.01M240.9 202.0h.01M241.0 202.9h.01M241.8 203.6h.01M240.5 204.1h.01M233.3 125.6h.01M232.7 127.2h.01M230.7 128.5h.01M232.5 129.3h.01M230.4 129.9h.01M231.6 131.1h.01M231.7 130.8h.01M230.8 131.2h.01M230.2 130.5h.01M230.7 132.1h.01M232.2 133.1h.01M231.3 133.4h.01M230.4 132.9h.01M229.8 133.1h.01M229.7 134.7h.01M228.7 133.4h.01M229.5 133.7h.01M229.5 135.3h.01M229.7 135.6h.01M228.7 135.4h.01M229.6 136.3h.01M227.6 135.8h.01M227.1 135.9h.01M226.3 136.0h.01M227.3 136.7h.01M227.7 138.1h.01M225.6 136.1h.01M226.8 138.0h.01M225.9 137.9h.01M225.7 137.9h.01M225.3 138.9h.01M224.1 137.4h.01M224.9 139.9h.01M223.9 138.1h.01M225.0 139.5h.01M224.0 139.8h.01M223.8 140.2h.01M222.7 140.5h.01M223.1 140.6h.01M222.2 140.7h.01M223.1 141.2h.01M221.8 141.0h.01M222.8 143.6h.01M223.8 143.5h.01M222.5 144.6h.01M220.6 144.1h.01M220.6 145.0h.01M221.1 145.9h.01M220.5 144.9h.01M216.8 149.5h.01M234.5 131.5h.01M234.6 132.3h.01M235.6 131.6h.01M235.0 133.1h.01M234.9 133.1h.01M235.8 133.6h.01M234.4 134.1h.01M233.9 134.5h.01M234.1 134.3h.01M233.6 135.2h.01M234.7 135.2h.01M235.2 136.2h.01M233.9 136.0h.01M234.2 137.7h.01M236.0 160.4h.01M235.8 159.8h.01M238.6 160.6h.01M236.7 160.6h.01M238.1 161.3h.01M236.8 161.4h.01M236.4 161.3h.01M239.1 162.7h.01M237.8 162.4h.01M238.0 162.0h.01M238.5 163.2h.01M237.9 164.0h.01" stroke="#40ffbf" stroke-width="1.40"/>
<path d="M230.3 125.4h.01M229.8 127.9h.01M232.2 127.6h.01M231.2 129.1h.01M235.2 84.9h.01M235.6 86.1h.01M235.0 87.1h.01M236.8 87.9h.01M236.4 87.7h.01M236.8 88.7h.01M234.5 88.4h.01M235.8 89.5h.01M235.7 89.7h.01M234.7 90.6h.01M236.9 90.7h.01M235.5 91.6h.01M234.2 92.3h.01M234.7 92.1h.01M234.9 92.0h.01M234.0 92.9h.01M236.0 93.7h.01M235.2 93.4h.01M233.6 93.1h.01M234.5 94.4h.01M233.5 95.1h.01M234.9 95.8h.01M235.2 97.1h.01M234.1 96.7h.01M234.1 97.0h.01M234.4 96.5h.01M232.7 97.1h.01M235.1 98.4h.01M234.8 99.0h.01M234.5 98.8h.01M232.7 99.4h.01M234.7 100.0h.01M231.5 99.8h.01M232.1 99.9h.01M231.1 100.8h.01M234.1 101.5h.01M232.5 101.6h.01M232.0 102.7h.01M233.4 103.4h.01M232.6 104.4h.01M232.3 104.7h.01M232.3 104.7h.01M231.8 105.9h.01M232.9 106.3h.01M233.0 106.9h.01M231.9 106.1h.01M233.2 107.3h.01M232.0 107.6h.01M231.8 108.1h.01M231.9 108.1h.01M232.6 107.9h.01M233.1 109.4h.01M231.7 109.0h.01M231.0 108.7h.01M234.0 109.0h.01M231.1 110.0h.01M232.8 109.9h.01M232.3 110.5h.01M231.9 110.7h.01M231.7 110.5h.01M232.1 110.6h.01M231.3 111.2h.01M231.0 111.7h.01M232.7 111.7h.01M231.7 112.7h.01M233.0 113.0h.01M231.6 113.0h.01M232.7 114.2h.01M231.3 113.9h.01M232.8 114.1h.01M231.1 113.8h.01M232.3 115.1h.01M231.9 114.7h.01M231.6 114.7h.01M231.5 115.4h.01M231.1 115.7h.01M246.9 91.4h.01M245.9 92.0h.01M244.2 94.1h.01M243.9 94.5h.01M243.7 95.8h.01M243.5 95.7h.01M243.6 96.7h.01M243.7 96.5h.01M243.2 97.0h.01M242.8 96.6h.01M245.8 99.0h.01M244.3 99.7h.01M242.6 99.9h.01M245.1 100.6h.01M243.5 99.7h.01M245.0 100.5h.01M243.9 101.4h.01M244.7 101.5h.01M242.6 100.3h.01M242.5 101.4h.01M243.1 101.5h.01M244.9 102.5h.01M243.4 102.2h.01M242.7 102.8h.01M243.7 102.4h.01M240.8 103.5h.01M241.7 103.6h.01M243.3 103.7h.01M242.1 104.2h.01M241.5 103.9h.01M243.9 104.8h.01M242.4 105.2h.01M240.9 105.0h.01M242.7 105.6h.01M241.3 105.7h.01M241.5 106.4h.01M243.2 106.0h.01M243.1 106.8h.01M243.2 106.6h.01M243.5 107.0h.01M244.1 107.8h.01M241.2 108.0h.01M242.0 107.9h.01M242.7 108.3h.01M242.0 109.6h.01M240.9 110.3h.01M241.8 110.9h.01M241.2 110.4h.01M241.5 110.4h.01M240.8 111.3h.01M242.3 111.1h.01M242.9 111.4h.01M241.9 112.5h.01M241.0 112.6h.01M242.4 112.0h.01M242.7 113.5h.01M240.6 112.8h.01M240.5 112.9h.01M241.7 114.1h.01M243.3 114.6h.01M242.7 114.9h.01M240.2 114.7h.01M240.3 114.6h.01M241.0 115.0h.01M241.8 115.9h.01M241.7 115.8h.01M241.9 115.7h.01M242.6 117.1h.01M241.9 116.5h.01M244.1 117.0h.01M243.9 116.7h.01M242.7 117.8h.01M239.4 117.6h.01M241.2 117.2h.01M241.3 118.5h.01M239.6 118.4h.01M240.5 118.1h.01M243.0 118.7h.01M241.0 119.1h.01M240.0 119.2h.01M241.5 119.9h.01M242.7 119.4h.01M242.6 120.2h.01M240.3 120.5h.01M242.4 120.4h.01M242.3 120.3h.01M239.3 121.3h.01M242.1 121.6h.01M241.2 121.3h.01M255.6 81.4h.01M252.1 82.4h.01M256.2 91.4h.01M254.1 91.8h.01M269.4 94.3h.01M269.6 96.6h.01M269.4 96.9h.01M267.8 96.2h.01M268.2 97.1h.01M268.3 97.0h.01M284.7 86.5h.01M283.7 85.7h.01M283.3 86.6h.01M283.0 86.9h.01M283.2 87.0h.01M282.5 87.9h.01M281.4 85.1h.01M282.1 86.9h.01M281.5 87.1h.01M280.8 87.5h.01M281.0 90.0h.01M281.1 87.4h.01M281.1 87.3h.01M236.5 83.0h.01M252.8 206.9h.01M247.8 218.8h.01M245.7 219.7h.01M245.3 220.8h.01M245.3 221.2h.01M245.6 221.6h.01M245.4 222.7h.01M246.0 223.9h.01M244.4 224.1h.01M244.1 225.2h.01M243.9 224.8h.01M244.2 225.2h.01M243.6 225.9h.01M244.3 226.5h.01M244.6 227.3h.01M243.1 227.2h.01M243.3 227.6h.01M244.0 228.6h.01M242.4 228.5h.01M242.4 227.9h.01M244.0 229.5h.01M243.5 229.6h.01M241.9 230.3h.01M241.7 231.2h.01M242.9 231.6h.01M241.3 231.2h.01M240.7 231.6h.01M242.0 233.4h.01M241.2 232.9h.01M241.7 233.3h.01M240.3 233.2h.01M239.6 233.2h.01M240.6 234.6h.01M239.4 233.3h.01M238.8 234.8h.01M238.5 233.9h.01M239.7 235.1h.01M240.9 235.8h.01M239.3 235.6h.01M238.2 234.7h.01M268.0 161.5h.01M266.5 164.4h.01M266.5 165.7h.01M266.3 166.1h.01M266.3 167.6h.01M264.5 167.9h.01M264.1 168.1h.01M265.4 168.3h.01M263.7 168.5h.01M263.1 169.5h.01M263.1 170.9h.01M263.2 171.4h.01M262.8 172.7h.01M262.2 173.4h.01M262.4 172.7h.01M262.0 173.7h.01M262.2 175.1h.01M261.4 174.4h.01M261.2 175.8h.01M261.0 176.0h.01M261.2 176.4h.01M260.5 177.1h.01M259.3 177.0h.01M260.7 176.9h.01M261.2 177.9h.01M259.9 178.2h.01M260.2 177.8h.01M258.6 178.9h.01M259.6 179.6h.01M260.6 180.0h.01M259.9 180.6h.01M259.8 181.1h.01M259.4 181.1h.01M259.1 181.3h.01M259.3 181.9h.01M259.1 182.1h.01M258.7 182.0h.01M258.1 182.9h.01M257.5 182.4h.01M256.8 183.6h.01M257.1 183.6h.01M257.7 185.2h.01M256.6 184.3h.01M257.7 184.4h.01M256.8 185.4h.01M256.4 186.2h.01M256.5 186.1h.01M257.8 186.9h.01M256.5 186.9h.01M255.8 188.1h.01M258.1 188.9h.01M257.3 190.2h.01M255.9 190.8h.01M257.4 190.5h.01M257.2 191.6h.01M257.3 192.2h.01M257.1 192.5h.01M257.0 193.0h.01M256.3 193.9h.01M256.1 193.2h.01M255.8 193.9h.01M256.2 194.8h.01M255.6 194.2h.01M255.4 195.4h.01M254.4 195.0h.01M254.5 195.6h.01M255.7 196.1h.01M254.5 196.9h.01M255.2 196.8h.01M254.5 197.7h.01M254.3 198.5h.01M253.7 199.4h.01M253.3 198.8h.01M254.3 199.8h.01M253.8 199.8h.01M252.1 200.7h.01M253.9 201.4h.01M253.0 202.1h.01M252.7 201.8h.01M252.2 202.7h.01M252.1 202.2h.01M252.2 204.1h.01M251.6 204.3h.01M251.0 203.3h.01M251.0 204.9h.01M251.0 205.2h.01M249.9 205.2h.01M250.7 205.5h.01M250.1 206.6h.01M249.7 206.6h.01M248.9 206.5h.01M248.9 206.9h.01M249.3 207.4h.01M248.7 207.6h.01M248.7 207.2h.01M248.7 208.6h.01M248.0 208.7h.01M247.7 209.1h.01M247.8 209.1h.01M246.6 210.7h.01M247.8 212.3h.01M246.4 211.5h.01M246.1 212.8h.01M247.1 212.5h.01M246.1 212.2h.01M246.0 213.3h.01M246.0 213.1h.01M245.8 214.5h.01M246.6 214.8h.01M246.4 215.1h.01M245.5 214.8h.01M246.5 216.1h.01M246.4 215.9h.01M245.4 216.5h.01M246.0 219.0h.01M244.9 218.4h.01M243.8 218.6h.01M245.1 220.3h.01M244.8 220.8h.01M243.0 221.0h.01M243.9 220.6h.01M243.3 221.6h.01M243.5 223.4h.01M242.7 224.7h.01M241.7 225.0h.01M241.5 225.5h.01M241.5 226.0h.01M241.3 225.7h.01M244.0 182.8h.01M243.7 187.4h.01M242.8 187.1h.01M242.9 187.8h.01M243.3 188.6h.01M242.7 189.0h.01M243.6 189.8h.01M243.0 193.1h.01M242.1 193.0h.01M242.3 195.4h.01M242.2 195.1h.01M241.5 195.6h.01M243.4 197.3h.01M241.9 197.7h.01M243.2 197.5h.01M242.7 198.9h.01M241.8 199.6h.01M242.5 200.6h.01M241.7 200.5h.01M241.5 200.4h.01M242.0 201.8h.01M242.1 201.7h.01M241.9 203.4h.01M241.8 205.0h.01M241.1 206.1h.01M241.5 205.7h.01M241.1 207.1h.01M240.5 206.6h.01M241.2 207.9h.01M241.0 208.2h.01M241.1 208.5h.01M241.3 209.5h.01M226.1 138.4h.01M225.6 138.8h.01M222.5 139.9h.01M224.7 141.8h.01M224.4 142.3h.01M222.7 142.0h.01M223.4 143.0h.01M222.9 142.2h.01M223.5 142.7h.01M223.8 143.4h.01M222.1 144.4h.01M222.2 144.6h.01M222.8 144.3h.01M221.3 144.9h.01M220.3 144.7h.01M220.7 144.8h.01M220.7 145.2h.01M220.9 146.0h.01M220.7 146.8h.01M221.8 146.6h.01M220.7 145.9h.01M218.9 145.8h.01M220.6 147.3h.01M220.9 148.2h.01M220.7 147.4h.01M220.1 148.4h.01M219.7 147.5h.01M219.7 147.6h.01M218.9 147.9h.01M219.5 148.8h.01M219.0 148.7h.01M218.4 147.8h.01M218.0 148.4h.01M218.2 148.3h.01M218.9 149.5h.01M218.1 148.5h.01M218.1 150.5h.01M217.4 149.6h.01M216.4 151.4h.01M216.4 151.4h.01M216.6 151.0h.01M215.8 152.0h.01M215.6 151.2h.01M215.6 151.5h.01M216.4 153.4h.01M215.6 152.9h.01M213.3 152.1h.01M215.1 153.6h.01M216.3 154.2h.01M214.9 154.1h.01M214.5 153.7h.01M213.6 153.8h.01M212.8 155.7h.01M214.1 156.9h.01M211.9 156.9h.01M210.8 157.7h.01M210.3 158.5h.01M210.8 158.8h.01M209.7 158.4h.01M208.4 162.9h.01M205.5 162.6h.01M234.8 130.5h.01M234.3 131.3h.01M234.9 131.3h.01M233.7 132.5h.01M236.8 162.4h.01M238.0 162.9h.01M239.6 163.5h.01M238.4 162.9h.01M237.4 164.4h.01M238.2 164.1h.01M236.1 164.5h.01M239.5 164.5h.01M237.7 165.2h.01M237.0 164.8h.01M237.3 164.7h.01M239.5 165.8h.01M235.9 166.2h.01M236.5 165.8h.01M238.2 166.0h.01M236.2 166.7h.01M237.1 167.4h.01M238.4 167.8h.01M238.1 167.8h.01M236.9 168.1h.01M236.9 169.2h.01M239.2 169.6h.01M238.9 169.4h.01M240.0 169.7h.01M240.3 170.4h.01M237.0 170.1h.01M240.2 171.7h.01M237.4 171.8h.01M238.3 171.8h.01M238.3 172.3h.01M238.2 172.2h.01M238.6 172.4h.01M239.6 172.7h.01M236.5 174.4h.01M239.8 175.4h.01M239.4 174.9h.01M239.9 177.2h.01M238.1 177.2h.01M235.4 177.2h.01M238.1 177.5h.01M236.8 179.0h.01M238.3 180.5h.01M234.1 180.1h.01M235.1 181.5h.01M234.7 184.4h.01M236.1 184.8h.01M237.6 185.6h.01M239.3 187.1h.01M239.5 187.9h.01M240.2 188.6h.01M238.7 188.7h.01M237.8 189.5h.01M237.3 191.0h.01M238.2 192.0h.01M235.0 192.1h.01M237.7 193.3h.01M239.2 194.0h.01M236.3 194.1h.01M240.5 193.8h.01M235.0 194.9h.01M236.5 196.1h.01M236.4 196.3h.01M235.9 197.0h.01M239.9 199.3h.01M236.1 198.7h.01M236.2 200.3h.01M236.5 200.4h.01M239.7 200.7h.01M234.6 201.4h.01M237.4 202.7h.01M234.4 202.5h.01M237.5 202.5h.01M235.5 203.7h.01M237.5 203.0h.01M239.6 203.4h.01M235.7 205.5h.01M236.3 205.8h.01M236.3 206.2h.01M235.5 206.6h.01M237.8 208.1h.01M236.7 207.6h.01M235.2 208.1h.01M235.8 208.3h.01M237.4 211.3h.01M235.5 213.9h.01M232.6 215.6h.01M235.9 216.9h.01M232.3 217.4h.01M234.6 218.9h.01M233.7 218.0h.01M232.8 220.1h.01M232.6 221.0h.01M231.0 220.5h.01M231.7 222.1h.01M230.7 221.9h.01M231.5 224.4h.01M229.5 225.6h.01M228.8 226.0h.01M228.4 226.5h.01M228.8 228.1h.01M228.5 227.6h.01M227.6 230.3h.01M226.6 230.1h.01M228.0 232.6h.01M224.4 236.6h.01M222.9 236.6h.01M223.3 240.1h.01M219.0 243.5h.01" stroke="#20ffdf" stroke-width="1.40"/>
<path d="M231.6 104.3h.01M233.1 112.0h.01M231.4 111.4h.01M230.8 112.4h.01M242.1 102.0h.01M243.2 109.8h.01M242.5 117.3h.01M241.8 119.7h.01M242.3 120.4h.01M240.0 120.9h.01M282.1 89.7h.01M235.9 82.9h.01M236.2 82.0h.01M237.0 82.5h.01M235.6 84.7h.01M237.7 84.0h.01M237.4 84.8h.01M237.6 84.8h.01M238.7 86.1h.01M238.9 86.0h.01M238.4 85.8h.01M239.8 233.5h.01M240.8 234.4h.01M240.0 235.7h.01M261.5 173.7h.01M261.3 176.9h.01M260.1 178.8h.01M256.9 185.8h.01M256.7 187.4h.01M256.9 187.7h.01M256.4 189.1h.01M256.7 189.0h.01M256.6 190.3h.01M254.0 197.2h.01M254.2 198.1h.01M253.1 200.2h.01M252.7 201.5h.01M251.5 203.4h.01M250.1 204.6h.01M241.2 202.4h.01M240.8 205.1h.01M241.2 207.5h.01M241.1 209.7h.01M219.3 147.3h.01M218.3 150.6h.01M218.3 151.8h.01M217.6 150.2h.01M216.3 151.0h.01M215.0 151.1h.01M215.9 152.4h.01M215.3 151.8h.01M212.6 153.7h.01M215.5 155.7h.01M215.1 155.8h.01M215.4 156.0h.01M213.4 155.5h.01M214.8 156.2h.01M214.2 155.9h.01M214.1 156.2h.01M213.5 157.1h.01M211.5 155.0h.01M211.6 156.1h.01M212.1 156.7h.01M210.9 156.9h.01M212.4 157.6h.01M211.5 157.6h.01M212.2 158.2h.01M211.6 158.0h.01M210.7 157.7h.01M210.4 157.7h.01M210.8 158.7h.01M210.3 160.1h.01M209.5 158.8h.01M210.3 159.6h.01M209.1 159.7h.01M208.9 158.9h.01M208.5 159.1h.01M208.2 159.6h.01M209.3 161.9h.01M208.3 160.2h.01M207.5 160.4h.01M207.9 161.1h.01M208.0 161.6h.01M208.8 161.8h.01M206.8 161.1h.01M207.7 162.7h.01M206.3 160.9h.01M207.8 163.6h.01M207.9 163.3h.01M205.2 162.6h.01M206.9 164.1h.01M205.0 164.0h.01M205.1 163.7h.01M205.3 164.3h.01M206.5 165.3h.01M205.6 164.5h.01M205.0 165.4h.01M204.1 166.2h.01M204.2 165.9h.01M203.9 167.1h.01M204.2 168.4h.01M203.2 168.0h.01M202.6 168.5h.01M202.9 169.1h.01M204.3 169.7h.01M203.2 169.8h.01M200.5 168.8h.01M199.5 174.0h.01M202.6 173.2h.01M203.4 171.8h.01M202.5 173.8h.01M205.1 174.6h.01M205.1 174.4h.01M205.6 174.9h.01M205.4 175.5h.01M206.3 175.7h.01M205.9 175.6h.01M206.5 176.0h.01M207.8 176.9h.01M210.0 178.6h.01M211.2 179.4h.01M211.1 179.8h.01M211.0 180.6h.01M212.2 180.5h.01M212.2 180.5h.01M212.8 181.8h.01M238.6 165.9h.01M236.5 167.2h.01M237.9 167.0h.01M236.2 167.1h.01M237.0 168.2h.01M238.5 168.7h.01M240.1 168.1h.01M237.0 168.6h.01M237.3 169.2h.01M237.0 171.0h.01M238.5 170.8h.01M239.3 170.8h.01M238.0 171.4h.01M238.5 171.5h.01M237.9 172.1h.01M237.8 173.0h.01M237.9 173.1h.01M237.6 172.9h.01M237.5 173.3h.01M236.6 172.9h.01M239.6 173.9h.01M236.3 174.0h.01M236.1 174.1h.01M238.5 174.4h.01M238.5 175.1h.01M238.5 174.6h.01M239.0 174.9h.01M240.6 175.6h.01M240.0 176.3h.01M240.8 175.9h.01M239.6 175.7h.01M237.0 176.9h.01M236.5 176.5h.01M240.3 177.3h.01M235.6 176.7h.01M240.4 177.9h.01M237.5 177.6h.01M237.7 177.2h.01M237.0 178.7h.01M237.7 178.3h.01M238.8 178.8h.01M238.1 179.0h.01M238.3 178.8h.01M237.5 178.8h.01M236.2 178.6h.01M238.9 179.9h.01M238.1 179.5h.01M237.4 179.7h.01M237.6 180.7h.01M237.6 180.7h.01M234.8 179.5h.01M234.7 181.0h.01M238.4 181.3h.01M236.4 181.3h.01M233.9 180.8h.01M236.7 181.2h.01M237.0 182.1h.01M236.7 181.4h.01M234.9 181.5h.01M237.8 181.7h.01M237.3 181.6h.01M234.5 182.4h.01M237.9 183.1h.01M237.1 182.7h.01M236.2 182.5h.01M236.6 182.6h.01M236.5 184.1h.01M234.6 183.5h.01M237.8 184.0h.01M236.4 183.7h.01M237.2 184.1h.01M236.0 183.9h.01M237.5 184.6h.01M236.4 185.0h.01M234.9 184.4h.01M238.1 184.7h.01M236.7 185.2h.01M237.6 185.1h.01M235.7 185.2h.01M239.7 185.1h.01M234.4 185.2h.01M238.7 185.3h.01M237.0 186.2h.01M237.6 186.6h.01M236.9 186.2h.01M235.8 186.9h.01M235.9 186.4h.01M239.7 186.5h.01M236.8 187.2h.01M237.8 187.6h.01M237.9 187.5h.01M236.4 187.7h.01M235.9 187.2h.01M235.9 188.5h.01M236.5 188.3h.01M237.8 187.8h.01M237.9 188.4h.01M236.3 187.8h.01M238.7 188.5h.01M238.1 189.1h.01M237.4 189.1h.01M238.4 189.3h.01M236.3 190.0h.01M240.6 189.4h.01M236.3 190.2h.01M237.1 189.7h.01M236.8 191.4h.01M237.5 190.4h.01M237.1 191.2h.01M238.7 190.5h.01M239.9 190.7h.01M240.0 191.1h.01M236.4 192.1h.01M238.1 192.0h.01M237.8 192.0h.01M238.3 192.5h.01M238.7 192.0h.01M237.3 192.5h.01M238.3 192.0h.01M235.9 193.5h.01M235.3 193.3h.01M238.5 192.5h.01M238.8 193.7h.01M238.9 192.9h.01M236.1 194.2h.01M238.6 193.2h.01M237.4 193.8h.01M237.4 193.5h.01M238.6 194.1h.01M236.3 194.5h.01M237.9 194.7h.01M238.6 195.2h.01M236.3 195.0h.01M235.8 194.8h.01M238.4 195.2h.01M236.8 195.1h.01M239.4 196.4h.01M240.3 196.0h.01M238.4 196.5h.01M236.7 196.3h.01M239.5 195.8h.01M237.5 195.6h.01M240.6 197.1h.01M237.4 197.0h.01M240.7 197.4h.01M238.1 196.8h.01M235.8 196.9h.01M238.6 198.5h.01M238.9 198.3h.01M236.8 197.3h.01M238.6 197.8h.01M238.6 198.0h.01M239.8 199.2h.01M239.9 199.6h.01M237.9 198.6h.01M235.0 198.5h.01M239.3 199.8h.01M237.1 200.0h.01M236.6 199.6h.01M237.4 199.4h.01M235.6 199.5h.01M236.9 200.5h.01M239.7 201.2h.01M239.0 201.1h.01M236.6 201.1h.01M237.6 201.1h.01M238.8 201.6h.01M237.6 201.5h.01M236.8 201.7h.01M238.5 202.3h.01M236.3 201.9h.01M238.9 202.6h.01M239.5 202.7h.01M235.6 203.6h.01M236.8 203.1h.01M234.6 203.2h.01M239.3 203.4h.01M239.3 203.2h.01M234.5 204.5h.01M236.7 204.6h.01M237.1 203.8h.01M239.5 204.1h.01M238.9 204.7h.01M235.9 205.0h.01M237.6 205.0h.01M238.5 205.5h.01M236.3 206.1h.01M236.9 206.3h.01M237.6 205.8h.01M237.5 206.0h.01M238.6 206.8h.01M237.3 206.8h.01M239.5 206.5h.01M238.2 207.9h.01M235.5 206.7h.01M237.2 207.3h.01M238.8 208.0h.01M238.8 209.9h.01M237.1 208.0h.01M239.4 209.8h.01M237.3 208.8h.01M237.6 209.9h.01M236.6 209.6h.01M236.8 209.1h.01M235.4 208.1h.01M236.2 210.0h.01M236.4 209.7h.01M235.8 209.5h.01M236.0 209.6h.01M235.9 211.1h.01M233.6 209.0h.01M234.6 210.0h.01M237.5 212.1h.01M236.4 211.3h.01M235.6 211.3h.01M234.2 211.1h.01M233.4 210.5h.01M235.6 211.8h.01M236.1 212.6h.01M234.9 212.7h.01M233.1 211.5h.01M236.3 212.7h.01M234.0 212.0h.01M235.6 213.0h.01M234.4 213.1h.01M234.8 213.3h.01M233.4 213.5h.01M235.8 213.5h.01M234.0 214.4h.01M235.8 214.1h.01M234.7 214.0h.01M234.3 215.3h.01M234.7 214.8h.01M234.5 214.8h.01M235.2 215.4h.01M235.2 216.2h.01M233.0 215.2h.01M232.5 215.3h.01M235.4 216.1h.01M234.3 216.6h.01M232.7 216.4h.01M235.4 216.8h.01M234.2 216.8h.01M233.6 217.8h.01M231.9 216.4h.01M235.4 218.7h.01M235.1 218.7h.01M233.8 217.5h.01M233.7 218.9h.01M232.5 217.8h.01M233.1 218.9h.01M232.0 218.4h.01M232.9 219.2h.01M231.7 218.3h.01M232.3 220.3h.01M231.8 219.6h.01M231.8 219.7h.01M231.2 220.1h.01M230.7 219.3h.01M231.3 219.9h.01M230.3 221.0h.01M229.9 219.7h.01M230.4 220.2h.01M231.5 222.6h.01M232.7 222.7h.01M228.9 220.4h.01M229.7 222.5h.01M230.3 222.6h.01M230.8 222.6h.01M230.3 222.7h.01M229.8 223.4h.01M229.9 223.0h.01M229.4 223.6h.01M229.2 224.6h.01M228.0 223.4h.01M230.2 224.8h.01M228.7 223.9h.01M230.9 225.4h.01M229.2 225.5h.01M229.3 224.8h.01M229.7 225.0h.01M229.5 226.5h.01M227.9 225.3h.01M229.9 227.7h.01M228.9 227.0h.01M229.1 226.9h.01M229.5 226.8h.01M226.9 227.5h.01M226.9 227.5h.01M227.7 228.3h.01M227.0 228.4h.01M227.8 228.1h.01M226.5 229.2h.01M229.3 229.7h.01M227.9 229.9h.01M226.5 228.5h.01M228.2 230.9h.01M226.2 229.8h.01M226.6 230.4h.01M228.9 231.6h.01M226.9 230.7h.01M226.5 232.0h.01M226.8 231.9h.01M227.1 231.8h.01M224.8 232.4h.01M226.0 232.8h.01M227.5 233.2h.01M225.6 232.4h.01M225.1 232.9h.01M226.2 234.1h.01M224.7 233.0h.01M225.8 234.9h.01M224.6 234.0h.01M225.8 234.2h.01M224.7 235.1h.01M225.1 235.2h.01M224.7 234.8h.01M222.9 235.3h.01M225.4 236.1h.01M224.9 236.8h.01M224.7 236.9h.01M224.1 236.5h.01M224.4 237.7h.01M223.3 236.8h.01M224.0 238.3h.01M222.2 237.5h.01M221.9 238.7h.01M222.6 239.2h.01M223.0 239.3h.01M222.3 240.0h.01M221.7 239.3h.01M222.4 240.6h.01M221.1 241.5h.01M221.5 241.2h.01M220.5 242.2h.01M219.2 241.9h.01M220.9 242.9h.01M220.6 243.1h.01M221.4 244.1h.01M221.5 244.1h.01M220.4 244.2h.01M220.1 244.8h.01M219.2 245.6h.01M218.3 245.0h.01M220.0 245.8h.01M218.8 245.9h.01M218.0 245.2h.01M219.2 246.9h.01M218.3 246.7h.01M218.3 247.6h.01M218.3 248.1h.01M216.7 248.4h.01M238.9 216.5h.01M239.5 216.9h.01M238.7 217.0h.01M238.8 218.2h.01M240.2 217.7h.01M239.9 219.4h.01M238.2 219.7h.01M239.9 219.6h.01M238.5 220.6h.01M238.8 220.7h.01M239.2 221.0h.01M239.6 223.6h.01M239.4 222.8h.01M240.2 223.7h.01M239.4 224.2h.01M238.8 224.9h.01M238.6 227.1h.01M239.7 227.8h.01M239.0 229.6h.01M240.2 229.1h.01M239.0 230.4h.01M239.8 232.4h.01M238.7 232.3h.01" stroke="#00ffff" stroke-width="1.40"/>
<path d="M235.4 95.5h.01M235.8 96.3h.01M236.2 96.5h.01M236.7 97.7h.01M235.7 99.4h.01M237.8 99.3h.01M236.0 101.3h.01M237.4 101.3h.01M192.5 176.8h.01" stroke="#0000ff" stroke-width="1.40"/>
<path d="M237.8 95.2h.01M236.0 95.2h.01M237.4 95.2h.01M236.9 96.7h.01M235.7 96.3h.01M238.3 96.0h.01M236.3 97.7h.01M235.2 98.0h.01M237.4 97.6h.01M236.5 98.2h.01M234.4 98.2h.01M235.9 98.3h.01M235.1 98.7h.01M235.2 99.0h.01M235.6 99.4h.01M235.6 100.5h.01M238.6 99.8h.01M236.6 99.9h.01M236.1 100.0h.01M236.7 100.5h.01M237.9 100.5h.01M236.2 102.0h.01M237.6 102.1h.01M237.9 102.0h.01M264.5 94.9h.01M194.9 176.9h.01M194.3 176.4h.01M192.0 175.9h.01M192.5 176.6h.01" stroke="#0020ff" stroke-width="1.40"/>
<path d="M236.7 100.8h.01M236.5 101.6h.01M263.6 94.1h.01M263.4 93.6h.01M265.0 93.7h.01M264.6 95.1h.01M265.8 95.4h.01M263.8 96.0h.01" stroke="#0040ff" stroke-width="1.40"/>
<path d="M241.9 93.8h.01M241.4 95.4h.01M243.3 93.8h.01M241.3 95.0h.01M243.6 95.0h.01M244.2 94.8h.01M243.0 95.3h.01M195.1 174.2h.01M194.5 174.7h.01M194.4 175.6h.01M194.9 175.8h.01M217.4 199.3h.01M218.1 202.7h.01M216.3 209.5h.01M216.7 211.6h.01M215.3 212.2h.01M216.1 212.6h.01M215.0 214.7h.01M215.8 215.5h.01M212.7 216.6h.01M215.7 217.4h.01M214.8 217.6h.01M214.0 217.5h.01M214.8 218.8h.01M213.3 219.5h.01M211.9 220.3h.01M213.0 220.4h.01M213.8 220.1h.01M212.5 221.5h.01M211.9 221.6h.01M213.6 221.9h.01M214.7 222.4h.01M214.7 225.4h.01M213.1 229.5h.01M214.5 230.8h.01M212.2 230.3h.01M213.4 232.6h.01M213.0 232.5h.01M212.4 233.3h.01M211.0 233.6h.01M213.8 234.7h.01M212.6 236.2h.01M211.0 236.7h.01M212.6 236.6h.01M211.0 239.5h.01M211.6 243.4h.01" stroke="#0080ff" stroke-width="1.40"/>
<path d="M241.5 94.2h.01M195.3 175.3h.01M194.5 173.6h.01M216.1 197.1h.01M214.9 197.3h.01M216.5 198.8h.01M217.4 199.4h.01M215.9 199.3h.01M218.2 199.8h.01M215.7 200.6h.01M216.0 200.8h.01M216.6 201.4h.01M218.1 201.1h.01M216.7 202.3h.01M217.9 201.8h.01M218.8 202.2h.01M217.2 202.8h.01M217.3 203.6h.01M217.0 204.2h.01M215.5 203.3h.01M217.2 203.6h.01M215.0 204.4h.01M215.1 204.5h.01M217.8 204.5h.01M215.9 205.9h.01M216.8 205.7h.01M216.7 205.9h.01M217.7 206.5h.01M215.5 206.7h.01M215.0 207.2h.01M214.7 207.2h.01M216.5 207.5h.01M217.0 208.5h.01M216.9 208.4h.01M215.7 208.5h.01M215.6 208.7h.01M217.4 208.7h.01M217.5 209.2h.01M217.2 209.7h.01M216.2 209.7h.01M215.7 210.0h.01M218.6 210.0h.01M215.1 210.7h.01M216.8 211.3h.01M216.5 210.6h.01M218.4 210.9h.01M214.8 211.1h.01M218.0 212.0h.01M216.8 211.5h.01M217.5 213.3h.01M216.5 212.9h.01M216.3 213.5h.01M216.4 213.9h.01M214.2 212.4h.01M214.6 213.0h.01M215.4 214.5h.01M215.4 214.1h.01M214.2 213.6h.01M216.8 214.8h.01M216.7 216.3h.01M214.9 216.2h.01M213.7 215.2h.01M214.4 216.2h.01M213.6 216.3h.01M214.4 216.8h.01M215.2 218.1h.01M213.5 217.3h.01M214.6 218.5h.01M213.2 218.4h.01M215.1 218.8h.01M211.5 219.2h.01M212.9 219.6h.01M212.3 218.8h.01M213.0 220.3h.01M213.7 220.8h.01M214.7 221.8h.01M213.2 221.1h.01M212.8 221.7h.01M214.8 222.1h.01M214.0 222.5h.01M212.6 223.1h.01M212.1 223.1h.01M213.3 223.8h.01M213.9 224.1h.01M214.3 223.5h.01M215.0 223.6h.01M212.1 225.4h.01M214.5 224.8h.01M215.3 224.2h.01M214.3 224.5h.01M215.3 225.5h.01M214.0 225.5h.01M215.1 225.1h.01M214.3 226.3h.01M215.5 225.9h.01M214.4 226.2h.01M215.2 227.7h.01M214.0 227.3h.01M215.3 227.0h.01M215.4 227.9h.01M214.8 228.1h.01M212.7 227.6h.01M214.7 228.1h.01M212.1 228.8h.01M214.6 229.6h.01M215.8 229.5h.01M213.5 229.5h.01M214.0 229.7h.01M215.6 230.9h.01M213.0 230.9h.01M214.9 231.3h.01M214.2 232.2h.01M212.9 231.8h.01M213.8 232.1h.01M213.7 232.5h.01M213.1 232.9h.01M211.7 233.0h.01M213.0 233.9h.01M210.8 234.2h.01M211.3 233.9h.01M212.9 234.9h.01M212.5 234.7h.01M211.4 234.9h.01M212.0 234.8h.01M212.7 235.7h.01M212.2 235.9h.01M212.4 235.6h.01M210.5 236.8h.01M210.7 236.6h.01M212.1 237.4h.01M211.0 237.4h.01M210.6 237.7h.01M212.9 238.3h.01M212.2 238.6h.01M210.5 238.1h.01M211.5 238.9h.01M211.7 239.0h.01M213.2 240.1h.01M211.3 239.1h.01M210.4 239.6h.01M210.9 240.2h.01M210.9 240.2h.01M211.2 240.0h.01M211.9 241.2h.01M209.9 241.4h.01M211.4 241.4h.01M209.7 242.0h.01M209.8 242.2h.01M211.0 241.8h.01M210.6 242.4h.01M211.8 242.9h.01M210.8 243.1h.01M210.6 243.8h.01M210.9 243.8h.01M211.4 244.1h.01M212.0 244.7h.01M210.4 244.9h.01M211.7 245.9h.01M211.2 245.6h.01M212.5 245.9h.01" stroke="#009fff" stroke-width="1.40"/>
<path d="M241.1 94.3h.01M264.9 94.4h.01M264.2 94.7h.01M264.4 94.9h.01M265.8 95.6h.01M264.1 95.9h.01M194.6 176.3h.01M192.9 174.9h.01M193.8 174.7h.01M194.1 176.3h.01" stroke="#0060ff" stroke-width="1.40"/>
<path d="M235.5 83.3h.01M236.2 82.8h.01M236.0 83.8h.01M237.2 82.5h.01M237.4 83.9h.01M236.3 84.7h.01M237.7 84.2h.01M237.9 84.9h.01M237.9 85.2h.01M239.0 84.7h.01M238.3 84.9h.01M238.7 86.5h.01M213.2 157.5h.01M210.3 158.0h.01M208.6 159.3h.01M209.0 161.2h.01M206.2 161.8h.01M207.1 162.5h.01M204.7 162.3h.01M205.4 163.7h.01M203.9 163.7h.01M204.9 165.8h.01M206.5 166.1h.01M203.2 166.2h.01M203.8 166.8h.01M203.5 166.5h.01M203.8 167.9h.01M202.8 167.2h.01M202.9 168.8h.01M201.9 168.8h.01M202.6 169.3h.01M200.8 169.0h.01M201.9 170.2h.01M202.1 170.2h.01M200.6 169.3h.01M201.5 170.8h.01M201.9 171.2h.01M201.9 171.6h.01M199.3 170.3h.01M199.0 169.7h.01M201.1 171.5h.01M200.4 170.6h.01M200.4 171.7h.01M199.2 171.7h.01M200.5 172.2h.01M199.5 172.7h.01M199.9 173.3h.01M198.9 172.4h.01M197.5 171.9h.01M198.4 172.8h.01M197.4 172.2h.01M196.2 172.6h.01M198.9 174.8h.01M198.1 173.4h.01M197.0 173.2h.01M197.3 175.2h.01M201.6 172.2h.01M204.1 173.0h.01M204.2 173.6h.01M204.4 173.2h.01M207.2 176.8h.01M208.0 177.4h.01M207.9 177.9h.01M209.1 178.2h.01M208.4 178.1h.01M208.9 179.7h.01M209.5 180.1h.01M212.0 180.2h.01M213.1 181.6h.01M214.1 181.6h.01M214.0 181.6h.01M238.5 175.6h.01M238.8 180.6h.01M236.6 180.3h.01M235.6 182.8h.01M234.6 189.6h.01M237.4 190.3h.01M238.2 209.2h.01M236.2 210.4h.01M236.1 212.3h.01M232.5 214.3h.01M235.6 214.8h.01M229.7 225.9h.01M229.7 227.9h.01M229.5 229.3h.01M227.0 230.9h.01M224.3 234.0h.01M223.2 235.0h.01M223.5 238.8h.01M222.2 238.4h.01M221.5 240.1h.01M222.2 241.0h.01M221.8 241.3h.01M220.9 241.5h.01M222.0 242.4h.01M220.3 242.2h.01M219.3 244.0h.01M218.5 244.3h.01M218.9 246.1h.01M219.2 247.4h.01M217.5 248.2h.01M217.6 248.1h.01M217.5 249.3h.01M217.2 249.3h.01M216.6 248.5h.01M238.7 217.6h.01M238.9 218.4h.01M239.0 218.4h.01M238.6 218.4h.01M240.6 220.4h.01M239.1 221.8h.01M240.2 221.2h.01M238.9 222.1h.01M239.4 222.6h.01M238.4 222.2h.01M238.6 222.9h.01M239.1 223.8h.01M239.4 224.7h.01M238.8 226.1h.01M238.4 226.2h.01M238.5 226.2h.01M239.7 226.5h.01M240.3 228.1h.01M238.7 228.2h.01M240.1 228.3h.01M239.2 230.2h.01M239.4 230.6h.01M239.4 231.0h.01M239.6 230.9h.01M239.8 232.4h.01" stroke="#00dfff" stroke-width="1.40"/>
<path d="M237.3 86.4h.01M200.0 171.4h.01M196.6 173.7h.01M196.7 174.4h.01M195.7 173.9h.01M196.2 174.5h.01M196.1 173.7h.01M215.1 196.7h.01M216.9 196.3h.01M217.1 196.6h.01M216.1 197.3h.01M216.0 197.3h.01M215.9 197.6h.01M217.6 198.1h.01M216.0 198.5h.01M217.1 198.1h.01M217.1 199.6h.01M218.3 199.7h.01M217.4 200.0h.01M216.8 201.2h.01M218.9 202.4h.01M215.6 202.2h.01M216.0 204.1h.01M216.6 205.4h.01M216.2 206.5h.01M216.8 206.7h.01M213.9 231.7h.01M213.1 233.4h.01M210.0 240.3h.01M211.7 241.8h.01M210.6 243.1h.01M210.1 244.1h.01M210.8 244.8h.01M208.7 244.9h.01M210.2 245.8h.01" stroke="#00bfff" stroke-width="1.40"/>
<path d="M321.9 71.3h.01M322.7 70.8h.01M324.6 72.4h.01M277.7 155.9h.01M275.6 155.3h.01M276.6 156.3h.01M276.2 157.0h.01M274.7 155.4h.01M273.7 155.9h.01M274.4 157.0h.01M272.5 157.3h.01M272.1 157.6h.01M274.8 158.6h.01M271.8 159.4h.01M272.5 158.8h.01M272.3 160.4h.01M271.8 160.0h.01M275.0 160.3h.01M272.6 160.5h.01M272.1 160.0h.01M272.0 160.7h.01M273.7 161.7h.01M273.4 162.4h.01M270.3 160.1h.01M271.2 161.8h.01M272.1 163.5h.01M270.7 163.1h.01M271.6 165.0h.01M271.0 164.6h.01M272.9 166.5h.01" stroke="#ff6000" stroke-width="1.40"/>
<path d="M192.6 177.4h.01M193.2 177.1h.01M193.1 178.0h.01M191.6 177.5h.01M192.3 178.6h.01M192.2 178.8h.01M191.1 178.0h.01M192.2 178.9h.01M191.7 178.9h.01M189.4 177.2h.01M189.5 178.6h.01M189.4 179.8h.01" stroke="#0000df" stroke-width="1.40"/>
<path d="M192.1 177.8h.01M191.7 176.1h.01M189.7 177.1h.01M190.2 178.7h.01M190.6 178.7h.01M191.3 179.7h.01M189.5 178.2h.01M190.8 179.9h.01M188.3 178.9h.01M188.4 178.8h.01M188.8 179.7h.01M188.2 179.6h.01M188.8 180.7h.01M190.3 181.2h.01M188.0 181.0h.01M187.7 180.4h.01" stroke="#0000bf" stroke-width="1.40"/>
<path d="M188.2 180.0h.01M187.6 180.4h.01M187.1 180.4h.01" stroke="#00009f" stroke-width="1.40"/>
<path d="M277.3 155.8h.01M274.9 153.1h.01M274.7 153.5h.01M274.3 155.8h.01M274.4 156.1h.01M275.1 158.1h.01M272.0 155.7h.01M274.0 157.5h.01M273.0 158.0h.01M273.0 158.4h.01M272.7 159.8h.01" stroke="#ff4000" stroke-width="1.40"/>
<path d="M221.9 114.5 L223.0 113.9" stroke="#ff9900" stroke-width="2.00"/>
<path d="M223.0 113.9 L224.6 113.0 L226.4 112.1 L228.0 111.4 L229.5 110.9" stroke="#ffb300" stroke-width="2.00"/>
<path d="M229.5 110.9 L231.0 110.5 L232.4 110.2 L233.6 109.8" stroke="#ffcc00" stroke-width="2.00"/>
<path d="M233.6 109.8 L234.5 109.3 L235.1 108.7 L235.6 108.2 L236.0 107.8" stroke="#ffe500" stroke-width="2.00"/>
<path d="M222.3 99.4 L223.8 98.9 L225.4 98.5 L226.9 98.0 L228.4 97.5" stroke="#ffe500" stroke-width="1.50"/>
<path d="M222.5 114.8h.01M222.1 115.1h.01M221.3 114.2h.01M222.4 113.2h.01M223.3 113.5h.01M222.8 111.7h.01M223.3 111.3h.01M223.1 111.9h.01M225.0 111.8h.01M225.2 113.8h.01M226.4 113.8h.01M226.5 110.7h.01M225.9 111.2h.01M227.7 111.8h.01M227.9 111.0h.01M228.1 110.6h.01" stroke="#ff9f00" stroke-width="1.40"/>
<path d="M222.3 114.0h.01" stroke="#ff8000" stroke-width="1.40"/>
<path d="M222.5 113.4h.01M222.9 113.9h.01M223.5 114.2h.01M224.3 112.7h.01M225.9 114.5h.01M226.1 112.7h.01M225.8 113.0h.01M227.4 113.5h.01M227.5 111.6h.01M227.6 110.8h.01M226.6 110.8h.01M228.6 111.3h.01M228.5 110.8h.01M229.3 110.3h.01M229.4 111.0h.01M230.1 112.9h.01M228.8 110.2h.01M230.0 108.9h.01M230.5 110.8h.01M229.3 108.9h.01M230.3 110.4h.01M230.8 110.5h.01M231.6 111.7h.01M232.0 111.3h.01M232.0 111.3h.01M232.3 109.1h.01M233.5 109.9h.01M233.5 108.3h.01" stroke="#ffbf00" stroke-width="1.40"/>
<path d="M231.0 111.4h.01M231.1 110.1h.01M232.2 112.3h.01M232.3 109.3h.01M232.5 111.3h.01M232.6 108.4h.01M233.9 110.4h.01M234.1 110.5h.01M233.8 110.0h.01M234.7 109.3h.01M234.3 109.4h.01M233.3 107.6h.01M235.5 108.7h.01M235.5 108.0h.01M235.9 108.3h.01M235.5 107.6h.01M221.9 99.4h.01M223.7 100.6h.01M223.4 97.6h.01M223.9 97.8h.01M224.7 98.9h.01M224.6 99.1h.01M226.0 98.9h.01M225.7 96.5h.01M226.5 97.7h.01M227.6 97.6h.01M228.7 97.9h.01" stroke="#ffdf00" stroke-width="1.40"/>
<path d="M235.8 109.4h.01M236.0 108.1h.01M222.2 98.2h.01M222.0 98.8h.01M223.1 99.2h.01M222.7 98.6h.01M226.0 98.1h.01M225.6 98.2h.01M226.5 98.1h.01M227.1 97.9h.01M227.6 98.5h.01M227.9 97.0h.01M228.1 98.0h.01" stroke="#ffff00" stroke-width="1.40"/>
<path d="M308.3 103.6 L310.0 102.5 L312.4 100.9 L314.9 99.3 L316.9 98.1 L318.1 97.4 L319.0 97.0 L319.6 96.8 L320.0 96.6" stroke="#ff6600" stroke-width="1.50" stroke-dasharray="1.5 2"/>
<path d="M182.8 185.2 L182.4 185.6 L181.9 186.1 L181.4 186.6 L181.0 187.0" stroke="#00b2ff" stroke-width="1.75"/>
<path d="M178.0 189.8 L177.6 190.2 L177.2 190.6 L176.7 191.0 L176.3 191.4" stroke="#0080ff" stroke-width="1.75"/>
<path d="M174.8 193.3 L174.2 193.7 L173.7 194.2 L173.1 194.6 L172.5 195.0" stroke="#0000ff" stroke-width="1.75"/>
<path d="M260.3 161.0 L259.5 162.4 L258.2 164.4 L256.9 166.7 L255.6 168.8 L254.3 170.9 L253.0 173.2 L251.8 175.2 L251.0 176.6" stroke="#0000ff" stroke-width="1.50"/>
<path d="M263.4 155.5 L264.5 155.0 L266.2 154.4 L268.0 153.7 L269.7 153.0 L271.4 152.4 L273.2 151.7 L274.9 151.2 L276.0 150.8" stroke="#00e5ff" stroke-width="1.75"/>
<path d="M262.2 156.0 L262.4 156.0 L262.6 156.0 L262.8 156.0 L263.0 156.0" stroke="#0000ff" stroke-width="2.50"/>
<path d="M287.5 142.0 L287.6 142.0 L287.8 142.0 L287.9 142.0 L288.0 142.0" stroke="#0019ff" stroke-width="2.00"/>
<path d="M244.7 154.7 L245.9 154.5 L247.1 154.3 L248.2 154.2 L249.4 154.0" stroke="#1affe5" stroke-width="1.75"/>
<path d="M246.0 154.7 L247.3 154.3 L248.7 153.8 L250.1 153.4 L251.4 153.0" stroke="#4dffb2" stroke-width="1.25"/>
<path d="M249.8 135.0 L249.9 135.2 L250.0 135.4 L250.0 135.6 L250.1 135.8" stroke="#ffe500" stroke-width="1.75"/>
<path d="M246.7 140.6 L246.8 140.8 L246.8 141.0 L246.9 141.2 L247.0 141.4" stroke="#ffe500" stroke-width="1.75"/>
<path d="M244.4 147.0 L244.5 147.2 L244.6 147.4 L244.6 147.6 L244.7 147.8" stroke="#ffe500" stroke-width="1.75"/>
<path d="M249.0 207.0 L249.1 207.2 L249.2 207.5 L249.2 207.8 L249.3 208.0" stroke="#0000ff" stroke-width="2.25"/>
<path d="M234.0 177.5 L233.9 177.9 L233.8 178.2 L233.7 178.6 L233.6 179.0" stroke="#0000ff" stroke-width="1.75"/>
<path d="M248.4 80.9 L248.8 82.3 L249.5 84.3" stroke="#e50000" stroke-width="3.00"/>
<path d="M249.5 84.3 L250.2 86.5 L250.8 88.8 L251.4 91.0" stroke="#e50000" stroke-width="3.25"/>
<path d="M251.4 91.0 L252.0 93.4 L252.5 95.7 L253.1 98.1" stroke="#e50000" stroke-width="3.50"/>
<path d="M253.1 98.1 L253.8 100.5 L254.5 103.0" stroke="#e50000" stroke-width="3.75"/>
<path d="M254.5 103.0 L255.1 105.4 L255.5 107.5 L255.5 109.4" stroke="#e50000" stroke-width="4.00"/>
<path d="M255.5 109.4 L255.2 111.2 L254.9 112.7 L254.7 113.8" stroke="#e50000" stroke-width="4.25"/>
<path d="M267.2 74.7 L266.6 76.1 L265.7 78.1" stroke="#e50000" stroke-width="2.75"/>
<path d="M265.7 78.1 L264.8 80.4 L264.1 82.5" stroke="#e50000" stroke-width="3.00"/>
<path d="M264.1 82.5 L263.7 84.4 L263.5 86.3" stroke="#e50000" stroke-width="3.25"/>
<path d="M263.5 86.3 L263.4 88.2 L263.3 90.3 L263.3 92.6 L263.5 95.0 L263.6 97.4 L263.3 99.7" stroke="#e50000" stroke-width="3.50"/>
<path d="M263.3 99.7 L262.6 101.8 L261.6 103.8" stroke="#e50000" stroke-width="3.75"/>
<path d="M261.6 103.8 L260.5 105.7 L259.4 107.5 L258.2 109.3" stroke="#e50000" stroke-width="4.00"/>
<path d="M258.2 109.3 L256.8 111.1 L255.6 112.7 L254.7 113.8" stroke="#e50000" stroke-width="4.25"/>
<path d="M285.9 79.4 L285.2 80.5 L284.1 82.0" stroke="#e50000" stroke-width="2.50"/>
<path d="M284.1 82.0 L282.8 83.8 L281.3 85.6" stroke="#e50000" stroke-width="2.75"/>
<path d="M281.3 85.6 L279.5 87.4 L277.4 89.4 L275.3 91.4" stroke="#e50000" stroke-width="3.00"/>
<path d="M275.3 91.4 L273.4 93.4 L271.7 95.4 L270.1 97.5 L268.6 99.4" stroke="#e50000" stroke-width="3.25"/>
<path d="M268.6 99.4 L267.2 101.3 L265.8 103.1 L264.5 104.9 L263.3 106.4 L262.5 107.5" stroke="#e50000" stroke-width="3.50"/>
<path d="M289.0 77.5 L289.1 77.4 L289.1 77.3 L289.2 77.3 L289.3 77.2" stroke="#e50000" stroke-width="2.25"/>
<path d="M268.8 102.8 L270.5 102.7 L272.9 102.5 L275.6 102.3" stroke="#ff0000" stroke-width="2.50"/>
<path d="M275.6 102.3 L278.1 102.0 L280.5 101.7 L282.9 101.3" stroke="#ff1a00" stroke-width="2.25"/>
<path d="M282.9 101.3 L285.3 100.9 L287.5 100.5 L289.7 100.1" stroke="#ff3300" stroke-width="2.25"/>
<path d="M289.7 100.1 L292.0 99.6 L293.9 99.2" stroke="#ff4c00" stroke-width="2.00"/>
<path d="M293.9 99.2 L295.3 98.9" stroke="#ff6600" stroke-width="2.00"/>
<path d="M243.0 103.6 L243.7 104.5 L244.8 105.9 L245.9 107.5 L246.9 109.0 L247.8 110.7 L248.7 112.5 L249.5 114.1 L250.0 115.3" stroke="#e50000" stroke-width="3.00"/>
<path d="M273.4 96.6 L273.1 98.7 L272.7 101.7 L272.3 104.8 L271.9 107.5 L271.5 109.5 L271.0 111.2 L270.6 112.6 L270.3 113.8 L270.1 114.7 L270.1 115.3 L270.0 115.7 L270.0 116.0" stroke="#e50000" stroke-width="2.50"/>
<path d="M282.8 105.2 L280.9 107.2 L278.9 109.1 L276.9 111.0 L275.0 113.0" stroke="#e50000" stroke-width="1.75" stroke-dasharray="1.6 1.6"/>
<path d="M260.0 109.4 L258.9 110.5 L257.3 112.1" stroke="#cc0000" stroke-width="4.00"/>
<path d="M257.3 112.1 L255.5 113.9 L253.8 115.6 L252.2 117.2 L250.6 118.9" stroke="#cc0000" stroke-width="4.25"/>
<path d="M250.6 118.9 L249.1 120.5 L247.5 121.9" stroke="#cc0000" stroke-width="4.00"/>
<path d="M247.5 121.9 L245.9 123.1 L244.2 124.2" stroke="#cc0000" stroke-width="3.75"/>
<path d="M244.2 124.2 L242.7 125.0" stroke="#cc0000" stroke-width="3.50"/>
<path d="M242.7 125.0 L241.5 125.5 L240.7 125.4" stroke="#cc0000" stroke-width="3.25"/>
<path d="M240.7 125.4 L240.3 125.0 L240.0 124.4" stroke="#cc0000" stroke-width="3.00"/>
<path d="M240.0 124.4 L239.8 124.0" stroke="#cc0000" stroke-width="2.75"/>
<path d="M247.0 122.5 L246.5 123.4" stroke="#cc0000" stroke-width="3.25"/>
<path d="M246.5 123.4 L245.9 124.7" stroke="#cc0000" stroke-width="3.50"/>
<path d="M245.9 124.7 L245.1 126.2 L244.4 128.0 L243.7 130.1 L242.9 132.5 L242.1 135.0 L241.3 137.5 L240.4 140.1 L239.5 142.8 L238.6 145.2" stroke="#b30000" stroke-width="3.50"/>
<path d="M238.6 145.2 L238.0 146.9" stroke="#b30000" stroke-width="3.25"/>
<path d="M235.0 151.0 L234.4 151.6" stroke="#b30000" stroke-width="3.50"/>
<path d="M234.4 151.6 L233.6 152.4" stroke="#b30000" stroke-width="3.75"/>
<path d="M233.6 152.4 L232.7 153.4 L231.9 154.7" stroke="#b30000" stroke-width="4.00"/>
<path d="M231.9 154.7 L231.1 156.4 L230.4 158.3 L229.6 160.5 L228.8 162.5" stroke="#b30000" stroke-width="4.25"/>
<path d="M228.8 162.5 L228.1 164.4 L227.4 166.3 L226.6 168.2 L225.6 170.3 L224.2 172.5 L222.6 174.9 L220.9 177.3 L219.4 179.7 L218.1 182.0 L217.0 184.2 L215.8 186.6 L214.7 189.0 L213.5 191.8 L212.2 194.9 L211.0 197.8 L210.0 200.0 L209.3 201.1 L208.7 201.5 L208.2 201.8 L207.5 202.8" stroke="#b30000" stroke-width="4.50"/>
<path d="M207.5 202.8 L206.6 204.7 L205.6 207.1 L204.6 209.7 L203.6 212.2 L202.7 214.6" stroke="#b30000" stroke-width="4.25"/>
<path d="M202.7 214.6 L201.9 217.1 L201.2 219.5 L200.5 221.6" stroke="#b30000" stroke-width="4.00"/>
<path d="M200.5 221.6 L200.0 223.4 L199.5 224.9" stroke="#b30000" stroke-width="3.75"/>
<path d="M199.5 224.9 L199.2 226.1" stroke="#b30000" stroke-width="3.50"/>
<path d="M199.2 226.1 L198.9 227.0" stroke="#b30000" stroke-width="3.25"/>
<path d="M254.0 112.0 L254.6 112.4 L255.6 113.0 L256.7 113.7 L258.0 114.2 L259.5 114.6 L261.3 115.0 L263.1 115.3" stroke="#cc0000" stroke-width="3.75"/>
<path d="M263.1 115.3 L265.0 115.6 L266.9 115.7 L269.0 115.7 L270.9 115.9 L272.8 116.4 L274.5 117.4 L276.1 118.8 L277.6 120.4 L279.0 121.9 L280.4 123.4 L281.7 124.9 L282.8 126.5 L283.8 128.0 L284.6 129.4" stroke="#cc0000" stroke-width="3.50"/>
<path d="M284.6 129.4 L285.3 130.8 L285.8 132.2 L286.0 133.6 L285.8 135.0 L285.3 136.3 L284.6 137.7 L283.8 139.0 L282.8 140.3 L281.6 141.5 L280.2 142.7 L279.0 143.8 L277.8 144.7 L276.7 145.5 L275.6 146.2 L274.4 146.9 L273.1 147.7 L271.8 148.6 L270.5 149.4 L269.7 150.0" stroke="#cc0000" stroke-width="3.75"/>
<path d="M286.0 133.6 L287.0 132.6 L288.4 131.2 L290.0 129.6 L291.6 128.0 L293.1 126.5 L294.7 125.0 L296.2 123.5 L297.8 121.9" stroke="#cc0000" stroke-width="3.00"/>
<path d="M297.8 121.9 L299.5 120.4 L301.4 118.8 L303.0 117.2 L304.0 115.6 L304.1 113.8 L303.6 111.9" stroke="#cc0000" stroke-width="2.75"/>
<path d="M303.6 111.9 L303.0 110.1 L302.6 108.5 L302.6 107.2" stroke="#cc0000" stroke-width="2.50"/>
<path d="M302.6 107.2 L302.7 106.1" stroke="#e50000" stroke-width="2.50"/>
<path d="M302.7 106.1 L303.0 105.1 L303.6 104.4 L304.6 103.9" stroke="#e50000" stroke-width="2.25"/>
<path d="M304.6 103.9 L306.0 103.7 L307.4 103.7" stroke="#e50000" stroke-width="2.00"/>
<path d="M307.4 103.7 L308.3 103.6" stroke="#ff0000" stroke-width="1.75"/>
<path d="M304.0 115.6 L304.8 115.4 L305.5 115.3 L306.2 115.2 L307.0 115.0" stroke="#cc0000" stroke-width="2.25"/>
<path d="M269.7 150.0 L268.8 151.1 L267.5 152.6" stroke="#cc0000" stroke-width="4.50"/>
<path d="M267.5 152.6 L266.2 154.3 L265.0 156.0 L264.1 157.6 L263.3 159.1 L262.6 160.8 L261.9 162.5 L261.1 164.4 L260.4 166.3 L259.6 168.3 L258.8 170.3 L258.0 172.2 L257.2 174.0 L256.4 176.0 L255.6 178.0 L254.9 180.2 L254.1 182.4 L253.4 184.9 L252.5 187.5 L251.4 190.5 L250.2 193.8 L249.0 197.1 L247.8 200.0" stroke="#b30000" stroke-width="4.50"/>
<path d="M247.8 200.0 L246.7 202.5 L245.7 204.7 L244.6 206.8 L243.4 209.0 L241.9 211.3" stroke="#b30000" stroke-width="4.25"/>
<path d="M241.9 211.3 L240.3 213.6 L238.7 215.9 L237.2 218.4" stroke="#b30000" stroke-width="4.00"/>
<path d="M237.2 218.4 L236.0 221.1 L234.8 223.9 L233.7 226.7 L232.5 229.4 L231.1 231.9 L229.5 234.3" stroke="#b30000" stroke-width="3.75"/>
<path d="M229.5 234.3 L227.9 236.6" stroke="#b30000" stroke-width="3.50"/>
<path d="M227.9 236.6 L226.3 238.8 L224.6 241.0" stroke="#b30000" stroke-width="3.25"/>
<path d="M224.6 241.0 L222.8 243.3 L221.1 245.2" stroke="#b30000" stroke-width="3.00"/>
<path d="M221.1 245.2 L220.0 246.6" stroke="#b30000" stroke-width="2.75"/>
<path d="M246.0 162.0 L245.2 162.6" stroke="#ff4c00" stroke-width="1.75"/>
<path d="M245.2 162.6 L244.1 163.4" stroke="#ff3300" stroke-width="2.00"/>
<path d="M244.1 163.4 L242.8 164.4" stroke="#ff1a00" stroke-width="2.00"/>
<path d="M242.8 164.4 L241.3 165.6" stroke="#ff1a00" stroke-width="2.25"/>
<path d="M241.3 165.6 L239.5 166.9 L237.5 168.4" stroke="#ff0000" stroke-width="2.25"/>
<path d="M237.5 168.4 L235.4 170.0" stroke="#ff0000" stroke-width="2.50"/>
<path d="M235.4 170.0 L233.4 171.9 L231.4 174.0 L229.4 176.4 L227.4 178.9 L225.6 181.3 L223.9 183.7 L222.2 186.1 L220.7 188.5 L219.4 190.6 L218.3 192.5 L217.5 194.3 L216.8 195.8 L216.3 196.9" stroke="#e50000" stroke-width="2.50"/>
<path d="M205.5 204.0 L205.1 204.4" stroke="#e50000" stroke-width="3.25"/>
<path d="M205.1 204.4 L204.7 205.0 L204.0 205.8 L203.0 207.0 L201.7 208.7 L200.0 210.9 L198.3 213.1 L196.6 215.3 L194.9 217.3 L193.2 219.4 L191.6 221.3" stroke="#e50000" stroke-width="3.50"/>
<path d="M191.6 221.3 L190.3 223.0 L189.4 224.5" stroke="#cc0000" stroke-width="3.25"/>
<path d="M189.4 224.5 L188.8 225.9 L188.3 227.0" stroke="#cc0000" stroke-width="3.00"/>
<path d="M188.3 227.0 L188.0 227.8" stroke="#cc0000" stroke-width="2.75"/>
<path d="M277.2 154.5 L277.4 155.2 L277.6 156.0 L277.8 156.8 L278.0 157.5" stroke="#ff0000" stroke-width="5.75"/>
<path d="M261.9 149.0 L262.0 149.1 L262.1 149.1 L262.3 149.1 L262.4 149.2" stroke="#ff4c00" stroke-width="1.75"/>
<path d="M273.6 139.8 L273.7 139.9 L273.9 139.9 L274.0 139.9 L274.1 140.0" stroke="#ff4c00" stroke-width="1.75"/>
<path d="M267.0 147.0 L267.1 147.1 L267.2 147.1 L267.4 147.1 L267.5 147.2" stroke="#e50000" stroke-width="1.75"/>
<path d="M264.5 149.5 L264.6 149.6 L264.8 149.6 L264.9 149.6 L265.0 149.7" stroke="#ff0000" stroke-width="1.75"/>
<path d="M227.8 188.0 L227.9 188.1 L228.1 188.1 L228.2 188.1 L228.3 188.2" stroke="#ff4c00" stroke-width="1.75"/>
<path d="M230.0 187.5 L230.1 187.6 L230.2 187.6 L230.4 187.6 L230.5 187.7" stroke="#ff4c00" stroke-width="1.75"/>
<path d="M283.0 106.0 L281.2 107.6 L279.5 109.2 L277.8 110.9 L276.0 112.5" stroke="#e50000" stroke-width="1.25" stroke-dasharray="1.5 1.8"/>
</g>
<g fill="none" stroke-linecap="round" stroke-linejoin="round" filter="url(#bl)">
<path d="M225.1 370.6h.01M227.9 371.6h.01M234.6 372.2h.01M234.6 372.2h.01M233.2 385.9h.01M230.3 393.3h.01M231.1 394.8h.01M220.9 380.8h.01M220.6 381.0h.01M218.0 382.0h.01M221.4 383.4h.01M219.3 383.4h.01M217.5 383.5h.01M221.0 385.6h.01M218.0 386.2h.01M216.9 386.1h.01M216.5 386.9h.01M220.1 388.6h.01M218.8 390.1h.01M215.8 391.5h.01M217.7 392.0h.01M217.6 392.9h.01M219.7 394.6h.01M219.2 395.2h.01M217.9 396.2h.01M218.5 398.8h.01M215.0 400.0h.01M219.2 402.0h.01M216.8 404.2h.01M216.2 404.6h.01M218.6 411.3h.01M215.4 411.2h.01M213.5 416.9h.01M218.0 417.8h.01M213.8 418.2h.01M213.6 418.1h.01M215.0 427.8h.01M217.0 429.1h.01M212.7 428.7h.01M218.0 435.7h.01M214.1 435.7h.01M213.6 438.3h.01M212.8 438.3h.01M214.0 454.8h.01M216.5 466.9h.01M214.2 468.4h.01M225.0 381.2h.01M223.6 380.6h.01M225.3 381.9h.01M225.5 387.0h.01M226.6 387.3h.01M221.9 390.7h.01M222.1 391.8h.01M222.3 398.4h.01M226.3 399.8h.01M221.5 402.9h.01M223.9 402.7h.01M224.6 404.9h.01M224.8 405.3h.01M222.6 405.1h.01M226.3 407.3h.01M224.7 407.6h.01M219.9 412.6h.01M223.5 413.7h.01M223.8 414.2h.01M220.8 419.0h.01M220.0 419.6h.01M221.8 420.7h.01M218.4 421.2h.01M223.0 430.8h.01M221.6 432.2h.01M218.7 433.8h.01M218.9 441.3h.01M220.6 443.1h.01M226.2 442.5h.01M228.6 446.0h.01M226.7 392.7h.01M228.9 397.4h.01M227.4 398.1h.01M228.3 400.2h.01M229.2 401.4h.01M229.5 403.4h.01M225.6 406.8h.01M229.1 408.9h.01M226.7 411.4h.01M225.9 412.1h.01M228.4 412.1h.01M227.8 414.4h.01M228.4 415.3h.01M228.1 418.6h.01M225.8 419.8h.01M224.3 421.2h.01M225.8 423.1h.01M227.1 425.4h.01M222.9 428.6h.01M228.7 431.6h.01M228.4 433.6h.01M225.2 438.4h.01M229.0 439.9h.01M230.0 442.8h.01M230.6 442.5h.01M226.6 447.2h.01M230.5 447.2h.01M232.1 446.7h.01M227.5 451.4h.01M219.6 448.1h.01M220.3 463.7h.01M227.0 464.6h.01M225.7 465.7h.01M227.0 468.2h.01M229.8 470.4h.01M216.9 499.7h.01M211.3 500.4h.01M206.6 506.6h.01M198.1 523.1h.01M187.6 530.1h.01M183.2 534.6h.01M243.4 370.1h.01M240.1 379.3h.01M240.0 387.3h.01M238.3 388.8h.01M237.0 391.3h.01M237.2 391.7h.01M239.1 392.3h.01M239.5 394.0h.01M240.6 399.8h.01M239.3 403.4h.01M241.3 404.1h.01M241.4 405.7h.01M243.3 410.5h.01M246.6 409.7h.01M247.5 410.6h.01M247.9 413.7h.01M248.5 416.8h.01M250.5 422.9h.01M250.2 423.3h.01M249.4 424.0h.01M251.7 428.9h.01M246.4 435.6h.01M242.9 435.7h.01M243.0 437.6h.01M242.9 439.0h.01M239.5 444.2h.01M238.3 451.4h.01M236.2 459.9h.01M233.2 461.1h.01M237.4 463.8h.01M237.6 463.8h.01M235.8 467.6h.01M232.2 468.0h.01M235.8 470.9h.01M231.1 471.0h.01M234.9 474.9h.01M254.7 373.7h.01M254.4 378.0h.01M251.2 381.2h.01M249.7 386.7h.01M248.1 388.1h.01M250.6 391.3h.01M249.9 393.3h.01M251.7 399.3h.01M248.4 399.0h.01M248.0 401.5h.01M247.1 404.2h.01M247.4 383.3h.01M247.4 384.5h.01M248.3 387.1h.01M238.3 398.5h.01M240.1 401.7h.01M235.9 401.3h.01M234.4 408.7h.01M235.0 420.3h.01M234.6 420.6h.01M233.5 421.1h.01M234.8 421.6h.01M233.4 423.8h.01M268.8 375.1h.01M270.1 375.0h.01M271.5 375.7h.01M271.4 377.4h.01M274.0 381.9h.01M271.8 383.5h.01M273.8 383.1h.01M272.4 389.7h.01M271.7 389.6h.01M271.2 390.1h.01M271.3 391.1h.01M269.1 392.9h.01M266.3 397.4h.01M266.8 398.2h.01M268.7 399.1h.01M265.9 398.9h.01M265.6 399.9h.01M268.2 407.6h.01M267.5 408.7h.01M265.1 415.2h.01M261.4 416.2h.01M262.7 420.0h.01M260.7 420.3h.01M259.3 421.2h.01M258.0 430.1h.01M258.1 432.0h.01M251.7 435.5h.01M254.8 438.5h.01M277.4 372.9h.01M277.1 373.3h.01M277.4 373.2h.01M275.4 374.8h.01M277.7 376.1h.01M275.2 378.9h.01M275.3 379.8h.01M275.9 380.5h.01M278.5 391.3h.01M279.4 392.4h.01M278.6 397.8h.01M277.7 403.1h.01M276.6 404.9h.01M275.1 407.0h.01M271.2 408.9h.01M275.0 411.0h.01M273.7 411.0h.01M271.8 410.9h.01M273.9 412.8h.01M270.2 414.2h.01M273.7 425.7h.01M272.9 425.6h.01M273.1 428.5h.01M275.4 428.7h.01M270.1 433.6h.01M267.5 434.1h.01M265.0 435.3h.01M266.8 437.8h.01M264.7 438.4h.01M260.3 442.9h.01M262.7 445.8h.01M252.5 450.2h.01M252.1 451.3h.01M254.3 453.8h.01M251.7 459.6h.01M251.8 460.5h.01M248.7 463.9h.01M246.3 466.1h.01M245.1 469.5h.01M257.6 409.1h.01M258.6 411.0h.01M258.1 412.6h.01M258.2 414.7h.01M254.0 418.7h.01M255.2 421.2h.01M252.8 422.0h.01M252.1 425.7h.01M251.7 424.8h.01M252.7 428.8h.01M280.8 375.9h.01M280.8 382.7h.01M280.8 384.5h.01M279.5 384.9h.01M280.0 387.1h.01M278.8 387.6h.01M279.8 389.0h.01M311.3 380.5h.01M313.4 382.8h.01M312.8 384.8h.01M311.5 386.8h.01M312.1 389.3h.01M310.3 391.6h.01M308.9 396.3h.01M308.8 403.5h.01M305.6 402.8h.01M305.4 404.1h.01M307.0 406.5h.01M304.9 406.4h.01M305.6 407.4h.01M303.1 406.9h.01M302.1 412.4h.01M303.5 414.4h.01M300.7 413.3h.01M300.8 415.9h.01M299.3 417.5h.01M298.1 422.0h.01M297.7 422.1h.01M298.6 424.9h.01M296.3 426.9h.01M296.0 429.4h.01M297.5 431.7h.01M299.3 441.3h.01M298.6 443.4h.01M301.2 440.7h.01M300.8 446.4h.01M301.6 446.3h.01M305.5 394.4h.01M302.0 393.1h.01M302.6 393.3h.01M301.1 395.3h.01M299.6 399.2h.01M299.3 400.5h.01M299.0 401.5h.01M290.6 412.5h.01M285.7 414.0h.01M285.6 414.4h.01M286.7 417.2h.01M285.7 417.7h.01M284.6 416.6h.01M283.9 415.0h.01M286.1 417.4h.01M285.0 417.3h.01M275.5 422.2h.01M275.7 425.1h.01M275.8 425.8h.01M273.3 424.5h.01M271.4 428.3h.01M269.2 428.5h.01M269.7 434.0h.01M270.3 435.3h.01M264.2 435.4h.01M291.7 404.8h.01M291.6 405.7h.01M289.8 410.4h.01M289.2 412.8h.01M318.1 406.5h.01M320.8 402.5h.01M320.7 403.4h.01M322.7 402.8h.01M324.2 402.3h.01M324.2 400.6h.01M328.8 402.0h.01M330.2 401.2h.01M333.2 404.0h.01M332.4 406.1h.01M331.5 409.6h.01M330.0 411.4h.01M331.5 416.1h.01M330.6 416.8h.01M331.4 418.4h.01M330.2 419.4h.01M332.7 418.6h.01M332.5 422.7h.01M335.0 423.6h.01M331.5 423.5h.01M331.1 428.7h.01M332.5 434.0h.01M330.0 432.8h.01M331.9 437.8h.01M326.0 438.6h.01M326.8 441.1h.01M326.5 440.9h.01M323.2 446.7h.01M322.6 448.4h.01M324.5 450.0h.01M319.3 454.5h.01M317.8 455.0h.01M317.7 455.5h.01M319.0 457.9h.01M316.3 458.4h.01M315.8 459.7h.01M314.6 465.2h.01M313.8 468.4h.01M312.3 468.1h.01M312.3 471.8h.01M308.0 474.9h.01M307.2 475.9h.01M303.5 474.9h.01M300.9 484.3h.01M300.6 486.9h.01M298.6 490.8h.01M297.5 490.9h.01M292.6 491.7h.01M292.3 496.4h.01M284.5 501.9h.01M287.0 505.2h.01M283.8 509.0h.01M282.8 512.4h.01M278.7 511.5h.01M275.2 518.4h.01M277.6 521.8h.01M272.2 523.4h.01M272.3 527.4h.01M275.2 533.1h.01M270.1 533.5h.01M270.3 534.0h.01M268.6 535.5h.01M273.6 539.9h.01M266.3 539.0h.01M265.6 540.3h.01M262.9 546.6h.01M262.0 547.9h.01M267.5 550.0h.01M266.8 552.7h.01M265.8 556.0h.01M261.5 555.7h.01M260.4 559.6h.01M260.6 561.4h.01M259.1 570.1h.01M257.6 573.7h.01M254.6 574.3h.01M257.4 580.7h.01M255.6 583.7h.01M252.2 589.6h.01M327.0 423.6h.01M327.7 424.1h.01M328.3 429.6h.01M327.6 429.5h.01M327.8 431.1h.01M327.6 431.4h.01M321.3 444.6h.01M320.6 445.1h.01M318.8 447.9h.01M317.7 449.1h.01M319.0 449.3h.01M292.6 433.6h.01M293.6 434.8h.01M293.4 434.6h.01M291.9 436.6h.01M286.4 436.3h.01M282.4 438.7h.01M280.1 439.3h.01M274.3 441.8h.01M273.8 442.0h.01M271.1 441.2h.01M268.2 442.5h.01M265.0 445.6h.01M256.8 453.1h.01M268.3 458.5h.01M273.6 456.6h.01M277.6 457.7h.01M277.0 462.4h.01M277.3 463.1h.01M301.5 450.4h.01M302.1 445.6h.01M297.7 439.9h.01M299.1 437.9h.01M296.5 437.0h.01M295.7 436.8h.01M305.6 451.0h.01M307.6 459.5h.01M311.3 468.5h.01M307.8 472.7h.01M299.7 473.0h.01M301.6 477.9h.01M295.0 477.8h.01M292.1 481.3h.01M295.0 485.2h.01M291.3 492.4h.01M289.3 492.4h.01M285.0 492.3h.01M281.5 502.2h.01M276.2 524.1h.01M271.1 526.4h.01M269.2 544.8h.01M258.9 560.2h.01M256.8 576.4h.01M254.2 585.4h.01M286.2 476.5h.01M289.8 477.9h.01M285.0 477.7h.01M288.1 483.0h.01M285.7 486.9h.01M270.0 490.7h.01M270.4 499.5h.01M257.7 504.4h.01M257.3 506.8h.01M252.7 518.1h.01M259.4 522.2h.01M252.9 520.9h.01M259.0 525.5h.01M255.1 532.6h.01M253.9 542.7h.01M248.8 542.2h.01M246.5 547.5h.01M252.0 552.3h.01M244.0 555.2h.01M242.4 560.4h.01M242.7 575.0h.01M236.7 578.0h.01M236.1 579.4h.01M234.3 585.1h.01M273.8 488.8h.01M262.4 509.5h.01M264.7 524.0h.01M263.1 527.1h.01M253.6 539.7h.01M259.6 541.7h.01M252.5 563.2h.01M274.5 506.3h.01M274.5 506.9h.01M272.0 507.4h.01M275.2 513.4h.01M273.8 515.3h.01M271.8 519.6h.01M263.5 530.3h.01M268.1 532.3h.01M267.4 532.5h.01M265.6 534.2h.01M267.2 535.4h.01M263.7 545.2h.01M254.4 560.9h.01M253.1 562.9h.01M235.9 445.7h.01M232.5 447.3h.01M231.7 449.0h.01M230.4 452.0h.01M237.1 479.1h.01M230.7 481.2h.01M234.5 481.6h.01M235.7 487.5h.01M238.0 488.9h.01M230.3 496.1h.01M238.7 500.2h.01M232.7 502.3h.01M236.2 505.2h.01M232.8 515.7h.01M221.4 522.7h.01M219.3 533.5h.01M213.1 561.4h.01M240.4 445.2h.01M242.4 446.8h.01M239.4 449.7h.01M237.1 450.8h.01M242.9 452.4h.01M242.0 457.2h.01M240.2 464.1h.01M239.9 463.9h.01M241.4 467.5h.01M234.2 467.8h.01M240.5 472.3h.01M239.0 477.9h.01M235.4 479.0h.01M240.3 483.7h.01M234.4 486.0h.01M236.7 486.8h.01M234.4 500.1h.01M225.4 466.6h.01M229.9 467.4h.01M231.0 470.9h.01M226.6 473.8h.01M216.7 538.4h.01M217.1 544.3h.01M216.7 543.7h.01M214.0 543.6h.01M214.9 545.2h.01M209.8 550.9h.01M209.7 551.3h.01M208.0 554.4h.01M203.8 562.5h.01M199.0 568.0h.01M218.1 544.1h.01M222.9 558.3h.01M242.2 546.3h.01M233.4 432.1h.01M232.7 438.3h.01M231.8 441.5h.01M230.3 441.6h.01M247.1 481.4h.01" stroke="#ffbf00" stroke-width="1.80"/>
<path d="M225.5 369.6h.01M224.6 372.4h.01M231.8 372.8h.01M231.9 373.0h.01M235.3 372.8h.01M222.6 383.6h.01M219.6 393.2h.01M214.6 395.4h.01M219.9 396.4h.01M221.2 399.0h.01M214.1 399.6h.01M220.7 406.1h.01M214.2 407.2h.01M218.2 420.7h.01M211.2 429.6h.01M218.0 435.9h.01M215.1 447.8h.01M211.5 448.1h.01M228.3 380.6h.01M224.1 380.9h.01M221.5 380.9h.01M221.2 388.1h.01M226.1 397.7h.01M220.3 404.0h.01M226.6 413.2h.01M226.1 412.5h.01M218.9 414.6h.01M225.0 435.8h.01M223.8 447.8h.01M226.6 387.0h.01M227.5 390.2h.01M225.6 399.4h.01M224.5 405.9h.01M229.1 407.3h.01M223.9 407.3h.01M228.8 413.6h.01M228.9 430.8h.01M214.0 449.5h.01M240.1 374.3h.01M240.9 374.1h.01M241.2 385.2h.01M239.8 395.2h.01M241.2 396.5h.01M235.8 398.0h.01M241.0 398.3h.01M241.7 399.4h.01M246.1 414.3h.01M250.8 415.9h.01M249.5 421.5h.01M253.7 424.4h.01M252.7 426.6h.01M251.9 382.0h.01M251.1 383.9h.01M250.6 386.2h.01M249.9 389.3h.01M248.1 396.4h.01M248.2 396.7h.01M249.1 373.6h.01M246.7 377.9h.01M248.2 379.0h.01M237.0 411.3h.01M236.4 419.0h.01M272.4 373.5h.01M270.7 381.2h.01M274.4 381.2h.01M270.2 383.6h.01M274.8 385.4h.01M268.2 390.3h.01M270.9 393.1h.01M266.0 417.6h.01M264.5 418.8h.01M259.8 428.1h.01M245.9 445.4h.01M275.1 371.6h.01M275.6 391.6h.01M280.2 394.3h.01M279.4 397.0h.01M275.8 397.2h.01M275.0 401.0h.01M274.2 414.4h.01M276.4 426.4h.01M267.9 437.4h.01M244.8 473.2h.01M255.9 424.8h.01M280.0 377.9h.01M281.6 383.7h.01M280.0 389.8h.01M310.7 380.5h.01M314.5 388.8h.01M311.7 392.8h.01M311.7 394.2h.01M310.0 398.0h.01M305.5 400.6h.01M308.0 392.9h.01M305.2 393.9h.01M298.9 395.3h.01M297.7 399.9h.01M299.2 403.1h.01M287.9 416.8h.01M283.0 415.7h.01M283.2 421.5h.01M278.7 420.3h.01M290.2 408.5h.01M292.0 408.9h.01M316.4 407.3h.01M322.5 400.3h.01M325.8 399.6h.01M327.5 403.0h.01M331.3 402.9h.01M333.4 408.2h.01M330.3 408.8h.01M334.0 418.9h.01M330.8 425.8h.01M330.5 427.0h.01M329.8 442.0h.01M322.2 445.0h.01M321.8 447.0h.01M324.1 453.5h.01M292.4 499.3h.01M280.0 518.4h.01M265.8 541.2h.01M259.1 558.1h.01M315.9 411.4h.01M316.3 412.6h.01M324.9 423.9h.01M328.6 425.5h.01M324.5 436.6h.01M325.1 437.8h.01M325.8 438.8h.01M292.1 435.8h.01M288.2 438.8h.01M275.7 442.2h.01M263.5 446.8h.01M260.6 444.6h.01M292.4 459.2h.01M258.5 501.4h.01M229.3 455.7h.01M227.6 482.4h.01M239.1 440.7h.01M245.5 442.5h.01M243.8 446.6h.01M237.4 446.6h.01M202.7 562.2h.01M281.1 443.3h.01M276.7 447.3h.01" stroke="#ff0000" stroke-width="1.80"/>
<path d="M225.3 371.3h.01M231.8 372.2h.01M233.0 371.4h.01M235.0 374.1h.01M233.4 375.9h.01M233.4 383.0h.01M232.3 384.2h.01M232.9 385.9h.01M231.5 386.3h.01M231.1 392.7h.01M220.1 379.9h.01M221.0 381.1h.01M218.8 385.6h.01M219.9 390.7h.01M218.3 390.5h.01M220.9 391.5h.01M217.5 393.5h.01M219.0 398.1h.01M218.5 400.7h.01M216.9 400.5h.01M219.3 400.9h.01M218.6 401.5h.01M218.1 404.3h.01M218.1 405.1h.01M216.4 404.8h.01M217.8 407.7h.01M217.8 418.3h.01M213.9 419.3h.01M216.7 419.6h.01M216.6 422.0h.01M215.2 423.4h.01M216.3 426.7h.01M216.0 430.0h.01M213.9 431.1h.01M212.9 434.4h.01M215.4 435.2h.01M212.9 434.7h.01M214.0 437.0h.01M213.1 439.1h.01M212.8 440.5h.01M214.8 440.5h.01M212.1 452.6h.01M212.7 459.0h.01M215.2 461.2h.01M214.3 463.9h.01M213.8 465.7h.01M214.4 467.3h.01M216.8 470.9h.01M226.3 379.9h.01M227.1 381.7h.01M227.8 382.0h.01M225.4 388.8h.01M225.7 390.3h.01M224.9 395.6h.01M223.4 396.9h.01M222.3 398.3h.01M222.7 399.0h.01M222.2 399.4h.01M223.0 400.1h.01M222.9 401.1h.01M219.8 406.3h.01M222.3 407.2h.01M219.8 407.9h.01M224.2 408.1h.01M220.2 409.3h.01M222.9 409.9h.01M220.6 409.8h.01M221.7 411.3h.01M220.7 414.5h.01M220.0 422.6h.01M222.6 423.9h.01M219.6 423.4h.01M221.4 423.8h.01M219.3 424.6h.01M217.8 427.1h.01M221.4 426.8h.01M221.1 427.0h.01M217.7 426.6h.01M220.2 429.1h.01M223.6 431.1h.01M224.3 432.6h.01M224.3 433.7h.01M220.5 437.0h.01M224.7 438.3h.01M222.9 443.0h.01M225.2 442.9h.01M226.1 442.9h.01M228.3 445.9h.01M230.3 387.2h.01M230.0 388.7h.01M230.7 392.0h.01M229.4 391.8h.01M229.3 393.3h.01M227.4 393.9h.01M229.7 395.0h.01M226.6 396.7h.01M229.5 398.6h.01M227.9 399.7h.01M226.9 400.8h.01M228.4 405.2h.01M227.8 405.5h.01M225.0 408.9h.01M227.3 411.2h.01M229.6 413.3h.01M228.4 418.1h.01M225.2 419.0h.01M226.3 419.1h.01M224.9 425.0h.01M223.7 426.9h.01M224.2 427.8h.01M229.5 428.7h.01M228.1 430.3h.01M223.0 432.7h.01M226.0 433.7h.01M227.5 436.3h.01M229.2 436.0h.01M226.6 438.1h.01M227.1 438.2h.01M230.2 442.3h.01M226.0 444.9h.01M229.8 444.9h.01M227.3 449.2h.01M229.8 450.3h.01M232.8 451.0h.01M216.3 449.4h.01M219.8 450.2h.01M220.7 451.1h.01M218.1 451.9h.01M219.1 455.8h.01M220.5 454.6h.01M223.3 457.4h.01M223.2 462.2h.01M225.9 462.7h.01M224.8 464.1h.01M222.2 468.1h.01M222.6 469.8h.01M223.8 471.1h.01M224.6 472.1h.01M226.4 484.7h.01M224.8 486.2h.01M222.5 485.3h.01M221.1 486.1h.01M220.0 486.2h.01M221.2 491.3h.01M219.9 491.0h.01M219.1 495.7h.01M214.3 497.8h.01M213.6 496.6h.01M211.2 499.3h.01M211.4 503.6h.01M207.3 513.6h.01M205.2 516.3h.01M193.2 530.0h.01M189.1 527.8h.01M187.8 535.0h.01M181.7 540.8h.01M241.0 371.0h.01M240.8 372.5h.01M240.5 378.0h.01M241.0 378.7h.01M239.4 381.4h.01M237.3 386.8h.01M238.2 390.0h.01M236.7 391.1h.01M237.1 392.5h.01M239.1 394.5h.01M239.1 395.2h.01M239.4 396.7h.01M242.0 402.5h.01M240.5 405.1h.01M242.7 405.4h.01M244.0 408.1h.01M245.0 409.4h.01M246.2 410.1h.01M249.2 413.2h.01M251.1 419.5h.01M249.8 425.9h.01M250.4 426.9h.01M250.8 430.3h.01M248.3 434.8h.01M244.8 436.4h.01M244.4 441.8h.01M243.9 442.1h.01M241.6 442.4h.01M240.9 442.5h.01M241.6 449.7h.01M240.6 450.9h.01M237.7 455.0h.01M239.6 456.2h.01M237.0 454.8h.01M239.0 457.6h.01M238.4 458.3h.01M237.5 465.0h.01M233.6 466.9h.01M235.3 471.4h.01M236.1 472.2h.01M231.5 473.9h.01M254.0 378.1h.01M253.1 378.2h.01M251.6 378.7h.01M249.6 384.6h.01M249.6 396.4h.01M248.3 397.2h.01M249.0 401.6h.01M248.1 378.3h.01M248.5 387.5h.01M238.5 401.3h.01M237.5 403.8h.01M237.6 404.5h.01M236.3 408.8h.01M235.6 408.3h.01M236.4 409.0h.01M236.3 412.9h.01M236.1 412.9h.01M234.6 413.7h.01M235.1 413.5h.01M267.3 373.3h.01M270.9 374.7h.01M272.2 376.3h.01M271.3 382.2h.01M272.6 384.5h.01M271.0 388.2h.01M270.9 389.8h.01M269.3 390.2h.01M268.5 390.7h.01M267.8 393.4h.01M267.1 396.2h.01M266.1 403.5h.01M266.3 404.1h.01M265.6 404.7h.01M267.4 407.5h.01M266.2 408.1h.01M262.1 420.4h.01M260.8 423.4h.01M260.4 425.0h.01M257.9 426.3h.01M256.7 427.7h.01M257.1 427.1h.01M257.0 429.1h.01M256.8 430.4h.01M255.9 432.8h.01M256.6 435.6h.01M254.4 434.5h.01M252.2 436.8h.01M253.2 441.2h.01M251.2 441.9h.01M249.7 442.0h.01M249.3 442.5h.01M249.2 443.1h.01M249.7 446.9h.01M247.7 445.9h.01M246.3 446.0h.01M249.4 447.5h.01M249.6 449.9h.01M275.3 374.6h.01M276.9 378.1h.01M275.7 381.2h.01M275.9 382.1h.01M275.9 382.6h.01M276.3 383.5h.01M275.8 383.3h.01M277.3 385.1h.01M276.9 385.5h.01M275.3 387.2h.01M276.3 387.4h.01M278.5 387.3h.01M277.5 389.4h.01M276.7 398.8h.01M275.5 400.2h.01M276.4 402.0h.01M274.4 403.4h.01M274.5 404.5h.01M275.9 407.3h.01M272.1 409.9h.01M270.8 412.4h.01M273.0 413.1h.01M272.8 416.7h.01M271.5 420.0h.01M273.9 420.9h.01M274.8 423.9h.01M274.5 426.1h.01M272.2 426.8h.01M272.8 426.8h.01M270.9 428.6h.01M270.5 430.1h.01M269.3 431.0h.01M269.8 431.2h.01M270.0 431.7h.01M269.9 431.0h.01M270.1 433.7h.01M268.0 436.3h.01M263.7 437.9h.01M262.9 444.0h.01M261.2 447.3h.01M260.8 447.6h.01M256.8 448.0h.01M251.1 453.3h.01M252.6 458.4h.01M249.1 455.4h.01M247.8 457.4h.01M247.7 457.7h.01M249.3 460.9h.01M244.5 462.9h.01M243.3 465.5h.01M243.1 465.5h.01M246.6 468.8h.01M242.0 467.7h.01M243.4 474.0h.01M237.6 477.5h.01M237.8 479.4h.01M259.5 407.5h.01M255.6 415.5h.01M256.0 417.7h.01M254.9 420.3h.01M251.9 423.8h.01M313.2 384.2h.01M311.7 390.5h.01M310.3 396.1h.01M310.0 396.9h.01M308.6 397.3h.01M308.0 401.9h.01M306.3 402.5h.01M304.6 410.0h.01M303.5 410.2h.01M302.5 415.4h.01M296.7 421.9h.01M299.0 423.0h.01M294.5 428.5h.01M296.3 430.9h.01M293.7 432.8h.01M297.0 433.8h.01M300.8 439.2h.01M300.6 440.9h.01M307.9 390.8h.01M300.8 395.9h.01M299.9 395.7h.01M294.7 405.5h.01M293.7 406.4h.01M292.9 406.2h.01M294.0 409.5h.01M291.3 410.3h.01M289.3 412.4h.01M287.9 411.7h.01M289.3 414.2h.01M285.6 415.3h.01M280.8 419.7h.01M279.1 421.1h.01M276.5 425.3h.01M271.8 430.2h.01M270.2 429.2h.01M270.6 432.0h.01M267.3 431.0h.01M290.5 403.9h.01M289.6 412.9h.01M315.5 409.8h.01M316.8 408.2h.01M319.1 405.4h.01M322.6 401.0h.01M328.8 401.3h.01M333.6 405.2h.01M332.5 406.5h.01M331.2 408.5h.01M332.4 410.1h.01M329.6 417.8h.01M331.2 418.8h.01M333.2 419.9h.01M333.6 421.0h.01M333.3 421.8h.01M333.2 428.2h.01M332.4 432.3h.01M329.4 438.4h.01M323.7 442.9h.01M323.9 443.3h.01M326.3 447.5h.01M324.6 448.6h.01M322.3 449.1h.01M323.3 451.8h.01M321.5 453.1h.01M319.9 451.9h.01M317.9 457.9h.01M316.6 457.8h.01M318.8 461.5h.01M316.5 463.4h.01M317.1 464.5h.01M315.0 465.7h.01M311.9 464.7h.01M312.8 465.4h.01M311.9 466.5h.01M313.2 469.8h.01M310.6 471.0h.01M311.9 471.0h.01M308.3 469.7h.01M307.0 472.6h.01M298.5 482.7h.01M300.3 485.3h.01M298.8 488.5h.01M296.2 488.0h.01M295.4 488.5h.01M297.5 491.3h.01M296.1 490.4h.01M294.1 491.8h.01M288.4 494.8h.01M290.1 496.7h.01M290.5 496.3h.01M284.5 500.3h.01M282.1 506.8h.01M278.1 515.7h.01M273.8 521.1h.01M275.6 526.3h.01M276.0 527.6h.01M274.9 527.6h.01M275.5 530.0h.01M275.4 533.7h.01M266.5 540.1h.01M265.7 540.4h.01M266.1 540.6h.01M267.4 545.8h.01M262.8 550.4h.01M263.6 556.4h.01M261.3 557.6h.01M261.1 557.9h.01M260.7 560.0h.01M260.2 562.1h.01M260.2 565.2h.01M259.5 570.2h.01M259.3 571.9h.01M257.6 572.1h.01M253.3 576.0h.01M253.7 576.1h.01M254.2 580.7h.01M252.6 586.3h.01M253.3 585.7h.01M249.2 586.1h.01M251.3 587.7h.01M316.3 410.8h.01M323.9 421.3h.01M326.5 430.9h.01M321.2 444.0h.01M281.5 437.8h.01M279.8 438.9h.01M263.9 444.2h.01M264.3 445.0h.01M262.2 445.0h.01M258.7 447.6h.01M259.4 456.0h.01M264.9 457.5h.01M274.2 456.0h.01M281.1 458.7h.01M278.3 463.1h.01M290.5 461.0h.01M296.3 462.5h.01M296.4 456.1h.01M300.3 452.7h.01M300.3 451.1h.01M305.4 442.5h.01M302.4 439.9h.01M297.5 442.7h.01M304.3 450.6h.01M305.4 456.4h.01M308.6 454.0h.01M310.3 464.2h.01M309.2 466.6h.01M309.4 465.8h.01M309.3 469.5h.01M307.9 470.3h.01M303.5 474.9h.01M299.9 474.9h.01M301.5 476.6h.01M298.2 481.5h.01M298.2 481.2h.01M293.0 481.2h.01M292.2 482.6h.01M289.9 487.0h.01M290.8 490.5h.01M285.8 494.8h.01M287.8 496.0h.01M284.2 496.7h.01M281.2 502.7h.01M281.4 510.4h.01M279.8 510.5h.01M279.5 512.9h.01M272.8 515.8h.01M275.9 522.7h.01M274.4 529.3h.01M269.3 529.0h.01M273.3 535.7h.01M266.5 537.9h.01M260.4 557.8h.01M259.7 558.4h.01M262.6 564.3h.01M289.5 472.9h.01M288.7 476.7h.01M283.7 479.2h.01M287.9 482.9h.01M283.0 481.9h.01M282.0 487.7h.01M278.9 485.5h.01M281.4 490.9h.01M277.2 487.1h.01M272.3 486.9h.01M269.3 491.6h.01M266.6 491.8h.01M266.4 491.7h.01M269.9 499.6h.01M265.3 496.7h.01M260.2 499.0h.01M267.1 506.4h.01M263.4 504.9h.01M259.8 505.3h.01M258.9 507.0h.01M255.8 509.5h.01M256.8 510.4h.01M259.6 514.4h.01M258.8 517.9h.01M252.8 525.0h.01M250.3 527.0h.01M258.0 529.9h.01M250.2 528.0h.01M249.3 532.5h.01M253.2 538.4h.01M255.3 540.2h.01M253.5 540.8h.01M248.6 544.3h.01M253.5 546.1h.01M251.2 550.8h.01M243.3 562.8h.01M242.9 575.1h.01M238.8 574.0h.01M271.7 493.1h.01M268.4 498.7h.01M267.3 502.4h.01M264.8 503.4h.01M266.5 505.5h.01M263.9 511.7h.01M267.8 514.4h.01M264.3 518.7h.01M265.2 519.3h.01M263.7 528.1h.01M260.8 529.7h.01M257.4 530.7h.01M256.4 530.5h.01M258.7 535.8h.01M254.5 535.1h.01M259.9 537.4h.01M254.1 536.7h.01M259.3 540.6h.01M252.0 542.0h.01M256.9 545.2h.01M251.4 544.1h.01M256.7 547.6h.01M250.1 549.3h.01M248.3 569.3h.01M248.4 575.0h.01M285.1 494.8h.01M281.3 493.7h.01M282.5 499.4h.01M281.0 501.1h.01M280.2 500.5h.01M277.0 500.3h.01M280.6 502.9h.01M277.9 501.2h.01M280.0 504.1h.01M276.0 502.1h.01M275.2 503.5h.01M275.4 503.2h.01M278.4 504.6h.01M274.9 513.0h.01M271.0 513.5h.01M269.2 529.0h.01M269.6 529.2h.01M268.9 531.0h.01M265.7 537.1h.01M261.8 538.2h.01M262.9 540.6h.01M261.9 552.1h.01M258.2 552.4h.01M255.9 552.6h.01M259.4 554.8h.01M258.3 556.4h.01M258.4 560.0h.01M257.1 563.3h.01M252.6 566.5h.01M253.9 568.3h.01M233.9 440.1h.01M234.4 440.3h.01M232.6 441.3h.01M237.0 443.1h.01M237.0 443.5h.01M235.6 446.0h.01M234.0 447.9h.01M233.4 448.2h.01M230.6 449.3h.01M235.2 451.4h.01M232.1 452.5h.01M234.5 453.9h.01M231.3 454.7h.01M231.2 454.7h.01M234.4 456.0h.01M231.6 456.4h.01M234.6 456.8h.01M229.5 459.5h.01M237.0 460.7h.01M230.9 462.4h.01M231.2 463.3h.01M230.6 464.4h.01M227.5 466.1h.01M234.6 470.5h.01M236.6 471.5h.01M231.0 472.1h.01M233.7 472.8h.01M231.2 477.7h.01M229.7 478.8h.01M234.1 479.7h.01M228.5 482.2h.01M228.4 484.6h.01M229.4 483.8h.01M234.5 483.1h.01M229.7 486.5h.01M230.9 488.0h.01M231.7 489.1h.01M238.7 495.9h.01M236.2 496.8h.01M233.6 498.7h.01M231.1 504.6h.01M233.6 508.5h.01M228.9 521.6h.01M224.3 523.2h.01M226.7 525.4h.01M222.8 524.9h.01M220.1 528.8h.01M225.7 530.5h.01M223.0 532.1h.01M218.3 531.5h.01M220.0 540.5h.01M214.1 555.8h.01M208.9 568.4h.01M207.6 571.7h.01M241.9 449.4h.01M238.6 449.5h.01M240.6 450.9h.01M238.6 450.7h.01M237.8 451.0h.01M240.4 452.3h.01M239.9 456.1h.01M236.9 456.7h.01M241.0 459.9h.01M240.2 460.9h.01M236.0 464.4h.01M239.4 466.0h.01M238.5 467.4h.01M235.9 472.1h.01M238.3 476.5h.01M234.3 484.1h.01M234.4 491.3h.01M235.2 495.1h.01M234.2 497.8h.01M235.0 497.7h.01M240.2 499.2h.01M229.6 460.0h.01M226.9 463.6h.01M226.9 466.4h.01M227.6 468.4h.01M230.1 470.7h.01M227.1 472.8h.01M217.3 539.5h.01M215.3 547.6h.01M211.0 548.7h.01M213.3 550.5h.01M211.2 551.3h.01M210.0 554.7h.01M209.4 556.0h.01M208.8 557.1h.01M205.4 561.4h.01M202.7 562.7h.01M201.5 563.5h.01M201.9 568.1h.01M218.4 548.5h.01M222.4 551.5h.01M224.6 579.6h.01M219.8 580.2h.01M221.3 584.2h.01M220.6 584.8h.01M238.2 498.5h.01M237.9 501.1h.01M240.6 509.9h.01M241.7 514.5h.01M245.3 524.6h.01M244.9 527.4h.01M248.4 543.4h.01M244.3 550.3h.01M244.5 564.0h.01M230.0 582.8h.01M230.9 436.2h.01M230.1 440.5h.01M229.3 445.4h.01M248.8 477.3h.01M279.0 444.7h.01" stroke="#ffff00" stroke-width="1.80"/>
<path d="M226.2 369.6h.01M236.0 375.7h.01M233.4 379.6h.01M232.0 380.6h.01M229.4 391.9h.01M217.2 383.6h.01M215.6 394.0h.01M219.7 399.2h.01M214.2 412.4h.01M220.2 414.1h.01M218.0 415.2h.01M219.0 419.4h.01M211.8 420.9h.01M212.6 423.0h.01M217.4 434.5h.01M217.7 434.9h.01M212.0 439.6h.01M211.2 439.8h.01M215.4 459.1h.01M217.1 467.7h.01M223.2 386.4h.01M228.5 386.6h.01M225.4 394.0h.01M221.6 393.5h.01M222.2 394.3h.01M225.8 398.2h.01M221.1 398.4h.01M220.1 400.3h.01M225.3 403.4h.01M223.5 405.5h.01M224.4 406.8h.01M219.5 408.5h.01M223.6 413.5h.01M219.6 416.0h.01M219.0 419.9h.01M217.9 420.6h.01M222.2 422.6h.01M222.1 426.4h.01M217.7 431.9h.01M223.7 432.2h.01M224.1 436.4h.01M224.2 437.4h.01M221.4 444.1h.01M226.9 441.8h.01M222.6 447.4h.01M227.6 386.2h.01M228.2 386.9h.01M228.1 392.5h.01M227.4 394.1h.01M226.5 400.3h.01M225.9 405.8h.01M224.9 406.7h.01M227.3 407.9h.01M229.7 413.0h.01M224.2 414.8h.01M224.1 419.5h.01M228.9 420.8h.01M228.8 422.1h.01M227.3 427.2h.01M228.1 427.1h.01M227.7 427.4h.01M228.6 428.3h.01M223.2 432.5h.01M226.4 432.9h.01M227.8 433.7h.01M223.1 439.7h.01M223.6 440.3h.01M232.1 444.0h.01M221.4 448.8h.01M215.9 450.9h.01M226.2 458.9h.01M219.3 460.9h.01M221.3 462.3h.01M221.4 467.1h.01M222.7 480.5h.01M240.0 368.9h.01M241.9 370.8h.01M240.0 372.5h.01M240.5 372.9h.01M240.3 379.8h.01M239.0 381.4h.01M238.0 382.4h.01M241.3 383.9h.01M237.5 383.3h.01M239.5 389.0h.01M239.3 389.0h.01M239.1 391.3h.01M240.0 397.7h.01M241.4 398.6h.01M242.2 401.4h.01M240.9 406.3h.01M242.3 407.6h.01M247.3 407.1h.01M244.4 410.8h.01M246.1 415.9h.01M247.7 428.3h.01M248.3 434.2h.01M248.3 435.3h.01M239.3 444.3h.01M242.6 447.9h.01M238.2 447.2h.01M232.8 462.4h.01M255.6 375.7h.01M254.7 377.9h.01M252.8 380.2h.01M250.2 380.4h.01M247.9 394.2h.01M251.1 400.2h.01M248.5 399.2h.01M248.5 400.1h.01M248.2 372.7h.01M248.0 374.6h.01M249.7 375.2h.01M247.6 376.4h.01M246.7 385.6h.01M247.4 385.8h.01M247.0 387.3h.01M240.4 400.2h.01M233.3 414.7h.01M234.7 415.0h.01M235.6 415.7h.01M236.2 415.3h.01M267.0 374.5h.01M274.3 382.2h.01M270.4 386.2h.01M270.6 392.2h.01M268.6 396.4h.01M268.3 402.9h.01M264.0 409.0h.01M265.9 415.7h.01M253.3 434.9h.01M252.2 443.4h.01M250.8 448.8h.01M249.7 449.5h.01M275.0 372.6h.01M277.4 373.4h.01M277.5 377.7h.01M273.0 383.2h.01M276.1 386.3h.01M278.7 390.4h.01M276.2 392.6h.01M279.2 394.8h.01M278.3 395.4h.01M276.2 395.8h.01M275.9 395.7h.01M279.3 399.7h.01M274.1 402.4h.01M275.6 407.2h.01M270.5 411.7h.01M274.2 415.6h.01M273.1 432.3h.01M264.6 434.5h.01M263.3 438.9h.01M261.3 440.1h.01M263.8 445.2h.01M261.1 448.4h.01M258.7 451.5h.01M249.0 454.8h.01M243.8 464.7h.01M254.5 415.0h.01M253.5 419.9h.01M281.5 376.9h.01M280.2 378.8h.01M279.2 385.5h.01M280.3 387.6h.01M278.9 390.2h.01M314.7 382.2h.01M313.9 391.4h.01M312.2 393.8h.01M312.5 395.8h.01M309.4 401.0h.01M305.4 407.8h.01M302.8 415.6h.01M302.0 415.5h.01M298.2 416.4h.01M299.4 420.9h.01M298.8 422.4h.01M299.0 426.4h.01M297.7 434.2h.01M298.6 434.9h.01M300.7 393.6h.01M301.0 397.3h.01M301.3 397.9h.01M298.2 396.4h.01M301.1 399.5h.01M291.3 412.1h.01M279.4 422.9h.01M279.9 423.1h.01M269.1 428.3h.01M271.7 432.3h.01M268.6 435.9h.01M263.3 434.8h.01M290.0 399.3h.01M291.6 403.3h.01M292.4 408.0h.01M289.8 412.2h.01M318.5 408.1h.01M319.2 406.2h.01M317.8 405.1h.01M318.7 404.0h.01M320.7 404.7h.01M319.8 402.8h.01M322.3 402.5h.01M325.7 400.1h.01M328.2 402.5h.01M332.9 409.7h.01M332.7 411.0h.01M329.6 414.3h.01M329.8 419.2h.01M329.8 418.8h.01M332.3 418.9h.01M334.1 419.5h.01M332.0 422.3h.01M334.5 425.2h.01M335.2 424.8h.01M333.8 428.3h.01M331.9 429.4h.01M335.5 430.7h.01M331.2 435.5h.01M327.4 437.1h.01M328.6 439.4h.01M325.8 439.3h.01M325.2 441.7h.01M325.8 446.2h.01M319.6 450.1h.01M324.1 453.1h.01M321.4 454.9h.01M321.8 456.0h.01M317.8 453.5h.01M312.6 463.0h.01M309.4 466.0h.01M313.8 470.0h.01M303.9 474.0h.01M284.1 498.1h.01M286.4 508.5h.01M282.6 511.1h.01M272.4 524.6h.01M275.2 531.5h.01M268.9 532.9h.01M257.4 577.6h.01M248.3 587.7h.01M317.6 409.5h.01M317.0 411.9h.01M316.8 415.7h.01M324.0 421.3h.01M326.4 422.3h.01M328.0 432.6h.01M325.8 433.3h.01M326.9 434.3h.01M326.3 435.4h.01M325.3 439.9h.01M322.1 444.4h.01M290.7 434.7h.01M281.9 436.4h.01M283.6 439.8h.01M276.2 438.1h.01M265.7 442.4h.01M263.9 446.4h.01M261.4 447.7h.01M301.4 447.0h.01M305.5 451.0h.01M308.6 464.7h.01M303.0 477.5h.01M253.0 574.9h.01M277.4 485.1h.01M263.6 493.0h.01M266.5 521.6h.01M238.0 443.6h.01M231.6 443.1h.01M237.9 446.2h.01M238.9 447.5h.01M237.9 456.7h.01M237.1 456.9h.01M228.2 457.1h.01M228.6 463.0h.01M227.4 466.7h.01M234.8 482.2h.01M233.4 509.7h.01M242.7 450.9h.01M239.9 489.3h.01M225.0 461.8h.01M230.3 468.5h.01M218.9 541.7h.01M208.3 552.7h.01M203.4 567.6h.01M199.7 573.5h.01M238.0 430.9h.01M231.5 436.0h.01M225.5 445.8h.01M246.1 486.7h.01M247.8 503.1h.01M278.0 445.5h.01" stroke="#ff6000" stroke-width="1.80"/>
<path d="M226.0 368.7h.01M229.5 373.5h.01M230.8 370.1h.01M236.6 373.7h.01M236.7 374.9h.01M232.5 375.6h.01M235.1 382.5h.01M234.0 386.0h.01M233.6 386.4h.01M229.1 388.4h.01M230.0 390.9h.01M232.6 393.5h.01M216.7 384.1h.01M216.8 386.1h.01M214.5 387.5h.01M215.0 387.3h.01M220.3 394.2h.01M221.7 397.6h.01M221.3 401.0h.01M221.5 402.1h.01M211.3 421.5h.01M212.1 426.4h.01M229.5 382.3h.01M229.3 386.5h.01M229.0 388.0h.01M229.1 388.3h.01M228.7 391.3h.01M219.8 391.7h.01M220.2 393.2h.01M227.1 396.2h.01M219.3 396.2h.01M219.3 398.6h.01M227.0 401.8h.01M225.8 402.0h.01M227.4 406.0h.01M224.3 429.4h.01M231.8 393.6h.01M224.9 399.7h.01M223.5 417.1h.01M229.2 429.9h.01M245.0 369.5h.01M239.4 370.5h.01M244.9 371.4h.01M244.8 373.2h.01M244.8 374.6h.01M238.6 376.4h.01M243.9 379.1h.01M237.1 380.7h.01M241.5 386.0h.01M241.2 388.4h.01M235.5 396.8h.01M242.1 398.5h.01M243.4 402.2h.01M241.8 407.1h.01M245.2 405.5h.01M253.0 375.4h.01M250.5 377.9h.01M253.6 379.8h.01M251.8 384.9h.01M246.3 388.2h.01M246.8 391.0h.01M252.0 394.1h.01M247.7 396.0h.01M251.4 401.3h.01M244.7 405.6h.01M250.2 374.6h.01M246.8 375.6h.01M249.8 381.9h.01M246.6 387.7h.01M241.1 400.7h.01M237.3 400.0h.01M240.1 402.5h.01M234.8 404.1h.01M266.2 376.3h.01M268.1 371.1h.01M272.2 372.4h.01M270.3 380.2h.01M273.6 389.7h.01M270.2 395.8h.01M263.4 399.9h.01M263.6 405.2h.01M267.9 411.2h.01M260.9 417.1h.01M259.4 419.6h.01M261.3 428.7h.01M278.9 373.3h.01M278.2 380.0h.01M273.7 385.2h.01M280.1 388.1h.01M275.8 390.8h.01M274.2 393.0h.01M275.3 393.3h.01M273.0 403.2h.01M275.0 415.9h.01M253.3 419.3h.01M256.6 419.9h.01M278.7 379.1h.01M282.3 381.0h.01M278.3 382.0h.01M278.8 384.4h.01M314.7 382.2h.01M309.4 385.8h.01M308.7 388.9h.01M307.2 394.6h.01M308.8 406.5h.01M301.5 408.4h.01M303.0 416.9h.01M296.5 417.5h.01M305.6 387.3h.01M297.8 405.3h.01M294.9 409.9h.01M292.8 412.5h.01M283.2 422.7h.01M287.4 401.3h.01M289.0 403.2h.01M291.7 402.4h.01M316.0 408.4h.01M315.8 407.8h.01M320.8 406.5h.01M322.7 404.3h.01M326.4 399.9h.01M328.3 399.4h.01M329.3 398.7h.01M330.1 403.7h.01M334.7 403.5h.01M334.1 403.5h.01M334.2 405.0h.01M330.6 404.2h.01M331.0 405.2h.01M329.4 410.0h.01M333.0 412.2h.01M328.6 410.9h.01M332.0 415.4h.01M333.2 415.3h.01M330.7 424.7h.01M330.9 428.4h.01M336.0 431.4h.01M333.9 433.6h.01M328.0 434.3h.01M322.3 444.4h.01M326.3 451.2h.01M319.4 462.6h.01M315.3 412.8h.01M315.2 414.9h.01M316.1 416.8h.01M316.7 420.6h.01M321.1 417.5h.01M320.6 417.7h.01M326.8 422.5h.01M328.3 423.5h.01M328.5 425.1h.01M326.4 426.4h.01M326.7 433.6h.01M323.9 434.4h.01M327.3 436.2h.01M323.7 436.2h.01M324.9 443.2h.01M319.9 442.3h.01M320.4 443.7h.01M322.0 448.5h.01M316.9 447.8h.01M278.4 437.1h.01M275.0 438.4h.01M262.2 443.7h.01M249.2 478.4h.01M244.9 486.0h.01M244.4 503.5h.01M279.6 443.1h.01M275.4 447.1h.01" stroke="#9f0000" stroke-width="1.80"/>
<path d="M225.8 370.6h.01M230.7 371.2h.01M234.1 376.5h.01M231.3 389.0h.01M218.9 387.6h.01M217.9 402.4h.01M217.1 410.0h.01M216.4 412.2h.01M218.6 416.2h.01M215.2 427.1h.01M214.8 428.1h.01M214.6 430.6h.01M215.3 432.5h.01M216.2 434.8h.01M214.7 436.5h.01M213.9 438.4h.01M213.8 441.0h.01M213.2 452.1h.01M212.9 452.0h.01M214.1 460.9h.01M216.6 474.9h.01M216.3 479.1h.01M224.7 386.0h.01M221.0 428.3h.01M221.6 438.7h.01M222.3 439.3h.01M225.9 438.1h.01M228.2 444.7h.01M217.6 450.1h.01M218.6 452.8h.01M221.1 451.7h.01M221.4 457.1h.01M222.0 464.1h.01M223.4 467.1h.01M226.7 469.1h.01M225.0 475.6h.01M226.3 476.2h.01M225.9 482.2h.01M224.4 484.1h.01M223.4 483.0h.01M224.6 484.7h.01M223.9 484.5h.01M219.5 491.2h.01M220.0 491.4h.01M219.3 493.6h.01M217.0 492.9h.01M213.6 499.6h.01M213.2 500.4h.01M210.4 500.0h.01M211.0 505.4h.01M210.6 505.6h.01M208.2 507.6h.01M208.2 508.8h.01M207.2 508.4h.01M204.9 513.2h.01M204.6 512.7h.01M203.0 513.0h.01M203.5 512.9h.01M202.9 515.1h.01M201.7 517.2h.01M200.1 519.7h.01M197.9 521.0h.01M193.5 525.9h.01M193.2 526.5h.01M192.0 528.4h.01M186.7 531.2h.01M187.3 532.0h.01M186.2 533.8h.01M185.1 536.1h.01M182.7 535.6h.01M184.9 538.4h.01M183.3 537.1h.01M181.3 538.5h.01M180.9 540.8h.01M178.7 540.6h.01M178.8 542.9h.01M240.4 380.0h.01M251.6 425.8h.01M249.6 431.3h.01M242.0 443.1h.01M239.8 455.5h.01M238.4 455.4h.01M237.6 457.3h.01M236.4 460.9h.01M235.6 465.3h.01M235.4 468.5h.01M233.9 472.5h.01M234.1 473.8h.01M249.0 391.7h.01M264.1 412.8h.01M264.8 413.1h.01M264.0 414.5h.01M256.5 431.1h.01M254.1 434.7h.01M253.0 436.9h.01M252.6 439.0h.01M250.1 444.0h.01M274.6 405.4h.01M265.1 435.7h.01M264.7 437.5h.01M264.0 440.2h.01M260.0 444.7h.01M259.1 448.5h.01M258.1 449.4h.01M254.1 451.7h.01M253.8 453.5h.01M250.7 455.0h.01M249.5 458.3h.01M248.1 461.2h.01M246.0 463.7h.01M244.6 464.9h.01M243.4 468.1h.01M242.6 468.4h.01M242.8 468.8h.01M243.3 472.8h.01M242.3 473.2h.01M238.0 480.7h.01M254.0 422.8h.01M305.3 405.9h.01M302.4 413.0h.01M295.5 433.6h.01M296.1 436.3h.01M300.7 396.2h.01M296.7 403.5h.01M288.0 413.5h.01M275.8 424.6h.01M270.3 430.4h.01M266.6 434.8h.01M266.2 435.3h.01M328.7 436.5h.01M325.6 445.2h.01M319.0 456.5h.01M314.1 465.3h.01M311.6 469.3h.01M310.3 468.6h.01M305.2 475.8h.01M302.3 480.5h.01M300.7 483.0h.01M298.9 483.2h.01M299.7 484.9h.01M294.7 489.2h.01M292.0 491.2h.01M292.0 493.1h.01M288.4 499.2h.01M287.9 501.2h.01M286.1 501.9h.01M282.6 504.7h.01M282.6 508.9h.01M280.6 511.6h.01M279.8 513.1h.01M278.4 514.2h.01M279.4 515.0h.01M277.8 517.5h.01M277.7 518.9h.01M276.2 519.7h.01M276.7 520.9h.01M275.7 522.1h.01M274.6 527.9h.01M272.7 528.6h.01M273.3 530.0h.01M273.8 530.6h.01M273.6 532.7h.01M272.6 533.7h.01M270.2 533.4h.01M271.1 535.4h.01M269.7 539.1h.01M267.4 542.1h.01M267.8 543.5h.01M268.6 543.6h.01M268.5 547.3h.01M264.1 547.0h.01M265.2 554.2h.01M265.1 554.5h.01M264.0 554.9h.01M261.2 564.1h.01M254.1 582.4h.01M252.0 583.3h.01M294.2 435.8h.01M278.1 439.3h.01M277.3 439.7h.01M264.6 454.4h.01M267.9 455.3h.01M272.2 458.8h.01M273.9 458.1h.01M284.3 466.0h.01M285.8 467.3h.01M286.2 469.8h.01M286.8 470.9h.01M288.8 469.9h.01M291.7 467.9h.01M294.0 462.3h.01M295.5 460.4h.01M299.2 456.0h.01M303.3 450.2h.01M302.9 448.6h.01M302.9 444.7h.01M302.3 443.0h.01M298.7 440.2h.01M295.6 437.6h.01M309.5 458.3h.01M311.1 461.2h.01M312.0 465.5h.01M309.5 469.0h.01M302.6 473.2h.01M302.0 477.2h.01M298.4 477.2h.01M298.1 479.8h.01M290.9 484.5h.01M289.2 485.0h.01M290.4 487.9h.01M284.9 495.8h.01M284.3 498.0h.01M285.1 499.2h.01M283.8 498.8h.01M283.8 499.3h.01M282.9 499.7h.01M282.6 500.5h.01M283.7 503.2h.01M281.3 505.2h.01M282.3 506.8h.01M279.8 509.0h.01M276.0 513.6h.01M276.6 515.1h.01M275.6 518.1h.01M275.7 519.5h.01M273.5 518.4h.01M274.0 519.8h.01M274.1 521.6h.01M275.1 525.1h.01M271.8 526.7h.01M274.2 528.7h.01M272.3 531.0h.01M269.8 530.7h.01M272.5 533.5h.01M269.5 535.2h.01M269.4 536.8h.01M268.9 537.1h.01M268.4 544.0h.01M267.5 544.9h.01M267.1 547.2h.01M265.5 553.5h.01M264.3 554.9h.01M263.6 556.4h.01M263.6 558.3h.01M263.9 559.4h.01M258.4 564.4h.01M258.8 566.8h.01M258.6 567.8h.01M259.8 571.0h.01M256.8 572.1h.01M256.9 573.3h.01M255.1 576.1h.01M254.4 576.5h.01M252.1 581.4h.01M251.9 583.6h.01M287.5 477.5h.01M286.7 477.5h.01M286.6 480.7h.01M285.1 482.4h.01M282.1 481.4h.01M281.5 483.2h.01M280.4 485.9h.01M282.0 488.3h.01M278.1 488.8h.01M276.9 490.5h.01M276.3 491.5h.01M274.9 490.4h.01M272.9 492.4h.01M273.3 494.2h.01M273.1 493.0h.01M272.0 493.1h.01M274.6 497.7h.01M267.9 495.2h.01M267.7 495.4h.01M267.4 496.8h.01M266.0 498.6h.01M264.5 500.0h.01M266.1 500.8h.01M263.6 499.7h.01M262.6 501.2h.01M263.1 503.4h.01M261.3 503.3h.01M261.6 505.9h.01M259.9 509.5h.01M260.0 514.6h.01M255.6 514.4h.01M257.2 518.2h.01M261.0 522.2h.01M257.1 522.8h.01M256.8 522.8h.01M255.1 524.7h.01M256.0 525.5h.01M255.7 527.4h.01M251.3 527.2h.01M253.8 529.9h.01M251.8 533.7h.01M252.2 533.4h.01M253.1 535.6h.01M253.0 538.0h.01M251.2 539.1h.01M252.0 541.5h.01M250.2 545.5h.01M249.1 546.8h.01M250.1 549.0h.01M249.2 550.7h.01M248.0 552.5h.01M248.8 553.1h.01M248.4 558.7h.01M247.6 559.2h.01M247.1 559.3h.01M247.2 560.8h.01M247.6 561.6h.01M245.8 564.9h.01M243.4 569.0h.01M241.7 568.2h.01M242.1 569.3h.01M240.7 572.0h.01M242.1 573.5h.01M239.2 575.8h.01M241.3 577.2h.01M239.8 580.2h.01M237.6 580.8h.01M235.7 583.5h.01M234.8 586.6h.01M236.0 587.8h.01M276.5 490.0h.01M273.9 491.5h.01M274.2 496.8h.01M270.2 501.4h.01M266.7 505.1h.01M268.4 508.3h.01M265.4 508.8h.01M265.4 511.5h.01M266.2 512.5h.01M264.0 514.6h.01M264.1 516.0h.01M264.3 517.2h.01M261.5 521.9h.01M261.3 522.1h.01M260.8 524.5h.01M259.9 525.1h.01M260.5 526.5h.01M260.6 527.6h.01M259.6 528.3h.01M262.0 531.2h.01M257.5 531.6h.01M260.0 533.4h.01M259.5 532.8h.01M260.1 534.1h.01M257.6 534.2h.01M257.0 539.7h.01M254.2 546.0h.01M253.6 545.7h.01M252.8 549.2h.01M254.7 550.5h.01M253.4 553.5h.01M252.3 555.5h.01M250.9 557.7h.01M250.1 562.5h.01M247.0 562.0h.01M246.4 564.3h.01M246.3 571.1h.01M244.7 574.3h.01M241.3 574.5h.01M244.4 577.5h.01M283.2 494.6h.01M282.5 495.2h.01M281.8 495.7h.01M277.8 501.3h.01M274.4 510.0h.01M270.3 517.4h.01M269.5 523.4h.01M269.7 524.5h.01M264.8 531.1h.01M264.4 531.7h.01M268.4 533.2h.01M266.6 533.3h.01M266.0 534.3h.01M264.7 535.6h.01M261.5 543.7h.01M261.1 547.4h.01M257.1 552.9h.01M258.3 555.7h.01M257.7 557.3h.01M257.2 557.5h.01M257.4 557.0h.01M256.8 558.2h.01M257.3 559.4h.01M256.8 561.6h.01M257.1 563.2h.01M257.2 564.5h.01M255.9 564.9h.01M253.5 565.8h.01M254.4 569.6h.01M232.5 448.9h.01M234.8 450.7h.01M232.0 450.7h.01M233.9 457.2h.01M232.2 457.5h.01M232.5 458.6h.01M232.7 458.5h.01M232.4 459.1h.01M231.9 460.5h.01M230.5 462.5h.01M233.7 463.9h.01M230.1 464.8h.01M229.6 465.7h.01M235.3 466.9h.01M229.1 467.0h.01M231.6 469.3h.01M231.9 471.2h.01M230.6 473.1h.01M231.6 476.8h.01M231.2 476.8h.01M234.8 478.2h.01M231.5 477.9h.01M232.3 479.5h.01M231.0 478.9h.01M230.8 481.0h.01M232.2 482.2h.01M230.7 482.7h.01M233.4 483.3h.01M231.3 487.7h.01M234.6 488.1h.01M232.3 489.2h.01M234.2 490.1h.01M235.3 491.4h.01M235.4 492.3h.01M234.5 493.4h.01M235.0 497.6h.01M234.4 498.0h.01M232.2 504.5h.01M233.4 506.7h.01M232.9 507.7h.01M229.9 514.0h.01M229.6 514.4h.01M229.0 515.6h.01M227.5 518.1h.01M227.1 519.7h.01M226.0 521.5h.01M222.9 525.2h.01M224.9 526.1h.01M223.5 528.8h.01M222.8 528.7h.01M222.3 528.6h.01M221.0 530.8h.01M221.0 533.1h.01M220.4 533.9h.01M221.4 534.0h.01M218.2 538.5h.01M217.4 540.8h.01M215.3 543.7h.01M215.8 545.8h.01M215.6 551.3h.01M213.6 551.3h.01M213.3 553.5h.01M211.7 558.5h.01M211.6 561.6h.01M210.5 561.1h.01M210.9 563.6h.01M211.5 567.1h.01M210.7 568.2h.01M210.3 572.8h.01M241.7 441.2h.01M241.8 442.4h.01M242.9 442.8h.01M241.6 444.3h.01M239.6 450.8h.01M239.3 455.1h.01M237.9 457.1h.01M238.2 457.4h.01M238.0 460.4h.01M238.6 460.6h.01M237.0 475.2h.01M236.3 480.5h.01M235.9 486.2h.01M236.5 487.6h.01M237.7 489.6h.01M238.9 494.4h.01M237.0 496.4h.01M238.7 497.1h.01M228.3 457.7h.01M227.9 461.7h.01M228.2 464.7h.01M227.8 464.8h.01M227.4 465.1h.01M227.9 471.1h.01M227.3 471.4h.01M229.5 473.0h.01M228.1 474.2h.01M216.8 540.6h.01M209.0 554.0h.01M204.2 561.3h.01M200.9 567.5h.01M220.3 546.2h.01M222.6 547.1h.01M220.4 548.5h.01M219.1 550.0h.01M221.5 552.6h.01M221.6 558.3h.01M219.6 560.2h.01M220.0 561.2h.01M221.7 565.7h.01M221.0 567.6h.01M222.7 568.5h.01M223.5 568.9h.01M221.1 571.8h.01M221.6 575.6h.01M221.8 577.2h.01M223.2 577.3h.01M221.8 579.7h.01M221.6 583.8h.01M221.6 584.8h.01M221.3 585.5h.01M220.5 586.4h.01M235.5 502.4h.01M235.2 503.1h.01M236.8 502.5h.01M235.4 503.7h.01M235.2 507.6h.01M236.6 508.7h.01M234.9 509.7h.01M239.4 511.7h.01M237.6 511.9h.01M235.2 512.9h.01M235.6 513.7h.01M238.0 513.9h.01M239.7 514.1h.01M238.4 521.1h.01M236.5 522.6h.01M243.1 525.4h.01M242.1 526.0h.01M238.6 528.9h.01M243.7 537.5h.01M245.4 539.0h.01M243.9 539.3h.01M247.8 550.0h.01M244.2 556.3h.01M244.7 558.5h.01M241.8 559.1h.01M244.5 562.0h.01M241.7 562.0h.01M240.5 562.6h.01M243.2 564.4h.01M239.7 564.9h.01M240.5 565.3h.01M240.6 569.0h.01M240.9 569.6h.01M241.0 570.7h.01M237.8 578.3h.01M234.4 577.3h.01M233.9 577.8h.01M232.4 578.5h.01M235.1 582.9h.01M232.5 582.1h.01M235.3 585.0h.01M232.6 587.6h.01M202.7 520.1h.01M207.9 523.4h.01M212.8 525.6h.01M213.3 526.0h.01M237.3 428.4h.01M235.9 432.9h.01M231.4 438.5h.01M231.1 441.5h.01M227.6 444.0h.01" stroke="#20ffdf" stroke-width="1.80"/>
<path d="M226.5 372.2h.01M228.4 372.3h.01M228.6 369.0h.01M229.6 369.8h.01M229.8 372.8h.01M231.6 373.5h.01M235.4 379.2h.01M236.0 379.2h.01M235.7 380.0h.01M233.5 383.2h.01M229.5 389.9h.01M233.0 391.8h.01M218.0 381.3h.01M222.3 383.4h.01M221.4 384.6h.01M219.6 389.0h.01M215.0 388.7h.01M221.4 390.6h.01M220.0 391.2h.01M215.5 393.5h.01M220.7 393.8h.01M213.3 406.3h.01M219.8 408.2h.01M214.0 408.4h.01M213.8 410.4h.01M213.3 411.7h.01M220.0 419.4h.01M213.6 420.8h.01M217.9 424.5h.01M217.7 434.3h.01M211.0 435.0h.01M228.0 385.0h.01M228.4 385.1h.01M227.3 389.9h.01M221.5 391.8h.01M227.1 392.9h.01M221.4 395.9h.01M220.2 396.8h.01M220.7 396.6h.01M226.4 399.9h.01M219.8 402.6h.01M225.1 408.0h.01M223.9 413.6h.01M225.5 414.8h.01M225.0 417.6h.01M218.5 418.5h.01M223.2 421.7h.01M224.9 434.3h.01M226.9 444.5h.01M225.8 390.1h.01M230.8 392.6h.01M227.2 393.3h.01M226.7 396.1h.01M230.5 410.6h.01M224.0 409.6h.01M223.3 413.3h.01M224.4 415.3h.01M228.8 417.3h.01M229.4 419.1h.01M223.4 425.7h.01M226.7 429.6h.01M228.3 436.2h.01M230.7 440.2h.01M227.8 447.5h.01M228.0 452.4h.01M222.8 478.6h.01M243.5 370.8h.01M239.7 377.7h.01M238.5 380.0h.01M238.7 382.6h.01M240.1 386.5h.01M236.4 396.5h.01M240.8 397.0h.01M240.9 397.5h.01M241.4 400.2h.01M244.4 403.9h.01M241.7 408.7h.01M246.7 416.0h.01M247.9 418.9h.01M251.8 417.1h.01M248.5 419.8h.01M251.6 429.7h.01M245.7 431.4h.01M248.1 434.3h.01M237.1 452.3h.01M241.3 454.7h.01M256.2 377.8h.01M249.5 381.4h.01M248.2 385.9h.01M246.6 390.2h.01M250.3 392.0h.01M246.6 403.8h.01M249.1 376.3h.01M249.7 377.1h.01M249.1 380.0h.01M248.9 381.9h.01M249.9 383.9h.01M249.0 385.4h.01M246.8 387.2h.01M234.2 404.8h.01M236.5 412.3h.01M267.3 376.9h.01M269.8 386.1h.01M269.6 388.3h.01M269.3 401.6h.01M262.5 410.0h.01M262.8 411.3h.01M261.9 414.8h.01M255.6 427.0h.01M253.8 431.3h.01M251.6 435.4h.01M255.0 439.5h.01M250.8 449.0h.01M278.0 372.1h.01M275.0 382.4h.01M273.6 402.2h.01M274.5 411.7h.01M270.5 420.4h.01M271.0 421.8h.01M270.2 427.1h.01M265.4 442.1h.01M249.3 452.8h.01M249.2 463.9h.01M258.3 414.9h.01M314.6 380.1h.01M315.3 384.2h.01M310.9 385.4h.01M314.8 387.7h.01M310.1 389.9h.01M307.7 398.4h.01M306.6 401.0h.01M305.8 403.3h.01M302.7 417.6h.01M297.2 426.0h.01M307.7 389.9h.01M306.3 393.5h.01M306.5 393.3h.01M301.9 397.9h.01M298.3 405.2h.01M295.5 407.8h.01M289.0 411.0h.01M285.6 412.5h.01M285.0 414.3h.01M281.4 418.0h.01M283.6 421.3h.01M276.4 421.7h.01M275.1 421.2h.01M290.0 405.8h.01M315.7 409.0h.01M319.9 406.5h.01M317.9 404.4h.01M322.1 400.6h.01M331.0 421.7h.01M335.0 421.9h.01M335.1 424.2h.01M335.6 424.4h.01M333.7 433.8h.01M328.1 432.6h.01M331.5 438.5h.01M327.3 446.2h.01M315.9 457.0h.01M313.3 461.2h.01M313.0 473.1h.01M303.0 474.2h.01M297.8 483.3h.01M295.1 484.1h.01M274.7 515.4h.01M272.8 520.8h.01M271.4 541.2h.01M317.7 415.0h.01M317.5 416.5h.01M316.7 418.8h.01M318.5 417.8h.01M321.8 419.2h.01M326.3 421.3h.01M328.0 424.3h.01M328.0 428.2h.01M325.0 434.0h.01M323.8 442.6h.01M320.1 448.0h.01M279.4 437.9h.01M276.0 441.8h.01M269.0 441.4h.01M262.9 443.9h.01M259.1 446.1h.01M298.2 442.7h.01M306.6 457.8h.01M275.2 509.8h.01M284.8 473.5h.01M271.5 510.1h.01M237.7 447.6h.01M237.5 446.0h.01M240.9 493.3h.01M212.9 546.5h.01M204.9 558.0h.01M275.6 448.1h.01" stroke="#ff2000" stroke-width="1.80"/>
<path d="M227.1 371.2h.01M227.8 371.2h.01M232.6 379.5h.01M231.6 386.8h.01M219.8 385.8h.01M219.9 385.8h.01M219.2 388.9h.01M219.5 389.7h.01M218.6 389.8h.01M218.4 391.1h.01M218.0 391.4h.01M217.5 393.2h.01M217.4 396.1h.01M217.9 396.9h.01M219.1 407.1h.01M215.5 416.5h.01M217.0 417.1h.01M215.8 419.0h.01M215.9 420.6h.01M216.8 420.2h.01M217.8 424.4h.01M216.3 423.8h.01M214.7 425.5h.01M216.5 428.7h.01M215.0 431.2h.01M212.2 447.3h.01M213.4 448.3h.01M212.5 456.5h.01M213.8 459.8h.01M216.3 468.9h.01M218.3 473.6h.01M215.7 476.6h.01M215.8 478.2h.01M215.7 479.0h.01M226.0 382.2h.01M226.0 384.8h.01M225.5 386.4h.01M225.1 387.5h.01M224.8 387.4h.01M224.8 389.6h.01M225.6 389.6h.01M225.4 391.3h.01M222.4 391.3h.01M225.6 393.5h.01M222.6 395.9h.01M223.6 398.4h.01M222.7 400.4h.01M223.1 406.5h.01M220.5 409.6h.01M223.0 410.3h.01M223.9 410.8h.01M220.9 411.7h.01M221.6 413.4h.01M221.8 414.2h.01M223.4 416.1h.01M222.8 415.9h.01M221.0 418.9h.01M218.8 422.9h.01M223.4 423.8h.01M221.8 422.9h.01M220.1 424.0h.01M222.0 427.9h.01M219.8 427.9h.01M221.1 428.1h.01M219.0 428.7h.01M218.6 430.9h.01M221.7 431.4h.01M221.4 432.1h.01M221.8 434.5h.01M223.9 435.2h.01M220.8 436.7h.01M221.2 437.7h.01M223.2 436.6h.01M221.9 442.3h.01M225.0 442.9h.01M226.2 442.9h.01M226.4 447.2h.01M228.6 388.0h.01M229.4 389.7h.01M228.4 390.2h.01M228.7 396.2h.01M228.0 395.4h.01M228.3 397.3h.01M227.8 398.5h.01M227.4 399.3h.01M226.6 398.8h.01M228.7 400.3h.01M229.2 403.5h.01M229.2 404.4h.01M226.3 406.1h.01M225.6 411.3h.01M228.4 413.3h.01M224.6 417.6h.01M226.7 423.2h.01M224.9 425.6h.01M225.9 428.3h.01M224.1 434.6h.01M227.0 435.0h.01M227.1 435.8h.01M229.5 441.7h.01M231.6 448.5h.01M229.6 451.4h.01M215.8 449.3h.01M218.3 451.3h.01M220.8 449.8h.01M221.1 451.4h.01M220.2 452.5h.01M222.4 457.5h.01M224.2 459.2h.01M223.4 460.9h.01M221.5 462.4h.01M225.2 462.5h.01M226.2 462.0h.01M224.9 463.5h.01M226.9 466.5h.01M227.2 469.7h.01M223.6 473.0h.01M229.0 472.9h.01M224.7 473.8h.01M224.8 474.7h.01M227.8 480.7h.01M227.7 482.1h.01M225.4 486.0h.01M220.0 485.4h.01M215.7 490.5h.01M217.8 492.6h.01M215.7 492.9h.01M217.6 499.6h.01M216.0 500.6h.01M213.9 503.5h.01M211.3 507.9h.01M204.0 510.3h.01M202.4 512.7h.01M200.2 514.5h.01M196.3 520.5h.01M195.1 527.7h.01M188.2 534.0h.01M185.1 536.9h.01M180.6 542.5h.01M241.7 369.2h.01M239.8 372.0h.01M241.8 376.4h.01M240.9 379.1h.01M240.1 381.4h.01M239.5 383.9h.01M238.3 387.2h.01M238.3 387.9h.01M238.5 394.0h.01M237.0 395.5h.01M239.0 401.1h.01M240.1 401.5h.01M240.0 402.1h.01M241.7 404.4h.01M244.2 407.4h.01M246.6 409.0h.01M248.1 411.7h.01M248.1 412.2h.01M247.2 413.5h.01M249.8 414.2h.01M247.8 416.6h.01M249.4 416.3h.01M249.7 416.6h.01M250.3 420.4h.01M250.5 421.9h.01M250.0 424.6h.01M250.4 430.6h.01M248.5 431.3h.01M246.0 432.5h.01M243.0 438.4h.01M242.5 440.1h.01M242.8 444.0h.01M240.4 443.9h.01M241.6 449.5h.01M238.5 451.3h.01M241.9 452.6h.01M238.5 457.3h.01M237.3 460.2h.01M234.7 463.5h.01M233.4 465.5h.01M237.4 468.4h.01M233.1 468.2h.01M234.0 469.4h.01M235.7 469.4h.01M254.6 377.5h.01M252.5 378.7h.01M250.7 381.6h.01M249.8 381.4h.01M250.1 385.3h.01M249.1 390.6h.01M249.3 393.0h.01M249.5 397.5h.01M250.3 398.6h.01M247.0 406.4h.01M248.4 372.6h.01M247.4 385.7h.01M248.0 387.8h.01M239.8 400.4h.01M236.6 403.2h.01M237.6 405.0h.01M237.0 404.6h.01M237.5 405.9h.01M233.9 411.6h.01M234.8 416.4h.01M233.6 415.8h.01M234.9 418.9h.01M234.7 423.0h.01M233.5 424.1h.01M234.6 425.2h.01M233.6 427.3h.01M268.6 374.8h.01M269.7 374.8h.01M269.6 375.3h.01M270.1 376.4h.01M271.0 374.1h.01M273.6 377.4h.01M273.4 378.8h.01M272.4 379.2h.01M273.6 380.0h.01M272.8 383.8h.01M267.8 396.1h.01M265.8 400.6h.01M266.1 405.6h.01M266.6 405.2h.01M265.9 410.0h.01M265.4 410.1h.01M265.2 413.7h.01M265.0 413.9h.01M262.8 415.5h.01M262.7 415.6h.01M261.4 418.4h.01M261.0 423.8h.01M260.7 424.8h.01M259.6 424.5h.01M259.7 425.7h.01M259.9 428.1h.01M253.8 434.3h.01M252.9 434.3h.01M254.5 437.9h.01M251.6 440.3h.01M248.8 444.7h.01M248.9 444.5h.01M248.6 445.5h.01M250.1 446.6h.01M249.0 447.7h.01M246.4 447.7h.01M275.7 383.1h.01M276.8 390.7h.01M276.6 396.3h.01M277.9 396.9h.01M277.7 398.3h.01M276.2 400.9h.01M274.9 403.3h.01M273.7 405.3h.01M273.4 407.5h.01M273.6 408.3h.01M273.7 410.2h.01M272.7 414.7h.01M274.5 426.9h.01M273.9 429.1h.01M268.7 431.5h.01M268.4 434.9h.01M266.4 433.9h.01M265.0 436.6h.01M264.1 436.3h.01M266.1 438.2h.01M258.8 445.7h.01M261.2 446.4h.01M253.8 450.2h.01M254.5 453.4h.01M255.4 453.5h.01M250.2 454.0h.01M248.7 455.4h.01M252.5 458.8h.01M251.4 458.5h.01M249.3 461.6h.01M247.7 461.7h.01M244.1 462.4h.01M244.9 467.7h.01M242.8 468.7h.01M240.4 471.9h.01M241.1 475.9h.01M257.6 410.3h.01M257.4 412.4h.01M257.4 413.8h.01M257.2 413.4h.01M253.8 421.5h.01M252.1 424.1h.01M251.3 425.6h.01M253.2 427.4h.01M278.2 391.2h.01M313.1 382.5h.01M313.3 385.2h.01M312.1 385.5h.01M311.8 385.6h.01M310.7 392.6h.01M309.8 393.5h.01M308.8 392.7h.01M306.8 403.0h.01M306.3 404.3h.01M305.3 408.6h.01M304.0 408.6h.01M304.1 410.2h.01M302.8 411.0h.01M304.2 412.2h.01M301.5 411.1h.01M301.7 415.1h.01M299.7 415.4h.01M299.6 417.7h.01M300.0 420.2h.01M299.1 420.7h.01M297.1 422.4h.01M296.5 422.3h.01M297.5 424.2h.01M298.1 425.1h.01M295.1 427.3h.01M296.4 432.7h.01M296.2 433.7h.01M295.4 436.0h.01M296.7 439.0h.01M295.8 438.8h.01M297.0 439.3h.01M302.4 446.0h.01M302.2 447.2h.01M306.0 391.2h.01M305.3 391.8h.01M304.6 391.3h.01M302.6 393.2h.01M300.7 397.7h.01M296.1 401.6h.01M295.8 404.3h.01M295.1 405.2h.01M291.7 408.3h.01M292.9 409.1h.01M291.5 409.3h.01M290.4 412.2h.01M284.3 418.7h.01M280.9 420.7h.01M279.0 420.0h.01M277.1 422.9h.01M275.9 422.3h.01M272.8 425.8h.01M274.2 427.0h.01M268.9 429.9h.01M270.6 431.9h.01M266.2 431.8h.01M267.5 433.8h.01M268.1 434.2h.01M267.0 437.7h.01M291.7 408.1h.01M291.0 410.3h.01M318.0 410.6h.01M318.0 408.0h.01M318.1 406.2h.01M323.1 401.5h.01M327.3 401.4h.01M330.0 400.8h.01M332.0 406.9h.01M331.5 408.5h.01M331.8 410.2h.01M330.5 414.3h.01M330.6 417.5h.01M330.0 419.0h.01M333.6 423.2h.01M333.5 424.0h.01M332.4 425.3h.01M333.0 431.9h.01M331.9 436.1h.01M329.8 434.8h.01M330.4 436.7h.01M327.6 438.6h.01M327.6 439.7h.01M327.5 441.5h.01M327.0 444.3h.01M323.3 448.7h.01M324.8 449.4h.01M321.8 448.5h.01M319.9 452.8h.01M317.8 454.0h.01M312.2 467.1h.01M311.4 470.7h.01M308.6 472.9h.01M306.8 473.0h.01M306.4 475.0h.01M306.3 476.5h.01M305.6 476.3h.01M304.1 476.1h.01M306.2 477.4h.01M302.4 476.7h.01M302.8 476.8h.01M302.7 477.6h.01M303.2 480.1h.01M302.9 480.6h.01M299.4 481.4h.01M297.6 485.9h.01M294.0 487.1h.01M291.4 491.3h.01M292.3 495.6h.01M289.2 494.4h.01M291.2 498.4h.01M287.8 498.7h.01M289.2 502.4h.01M283.7 501.4h.01M283.4 502.0h.01M284.7 502.8h.01M286.3 505.1h.01M284.2 505.9h.01M284.6 507.2h.01M280.5 507.5h.01M280.5 511.4h.01M282.8 513.7h.01M280.6 515.2h.01M279.5 516.0h.01M275.1 517.2h.01M278.6 519.2h.01M277.4 521.3h.01M275.1 520.9h.01M275.8 522.3h.01M272.9 524.8h.01M277.1 528.1h.01M272.8 527.8h.01M271.4 529.8h.01M269.4 535.2h.01M271.5 537.5h.01M271.9 539.3h.01M269.8 541.8h.01M269.2 541.3h.01M270.1 547.3h.01M267.2 547.5h.01M264.5 555.7h.01M262.9 557.1h.01M260.4 556.5h.01M260.2 559.2h.01M260.8 560.7h.01M261.6 560.8h.01M259.5 560.1h.01M258.6 563.4h.01M261.2 564.5h.01M257.4 567.9h.01M260.5 568.8h.01M259.9 569.7h.01M259.4 569.6h.01M258.4 574.6h.01M255.3 573.3h.01M255.2 574.4h.01M255.8 581.1h.01M249.6 586.9h.01M327.8 428.7h.01M327.5 430.3h.01M324.6 437.5h.01M285.4 436.5h.01M282.4 438.8h.01M276.6 439.2h.01M269.6 442.5h.01M267.0 442.9h.01M267.1 444.3h.01M261.6 447.7h.01M258.8 446.7h.01M259.0 448.8h.01M256.7 450.5h.01M262.5 452.0h.01M266.8 453.6h.01M267.0 455.2h.01M276.1 461.2h.01M282.2 464.9h.01M283.7 469.1h.01M287.4 470.2h.01M286.2 473.3h.01M291.7 467.6h.01M294.6 464.4h.01M291.0 460.8h.01M299.1 457.6h.01M301.3 452.0h.01M304.6 451.7h.01M305.2 449.9h.01M303.6 449.4h.01M303.5 443.4h.01M309.2 458.0h.01M307.5 460.2h.01M309.1 459.3h.01M308.6 460.9h.01M311.5 460.6h.01M308.4 462.3h.01M312.6 460.9h.01M312.2 465.7h.01M310.5 468.3h.01M309.5 469.1h.01M300.8 474.9h.01M300.0 478.1h.01M299.0 477.1h.01M296.6 477.3h.01M298.9 480.4h.01M294.9 484.5h.01M291.1 485.4h.01M286.2 489.5h.01M284.6 496.8h.01M279.6 503.5h.01M280.8 504.6h.01M279.5 511.9h.01M278.4 513.3h.01M272.7 517.6h.01M273.2 529.3h.01M270.3 528.8h.01M273.4 532.3h.01M267.9 532.0h.01M267.8 546.2h.01M264.1 546.7h.01M261.8 554.1h.01M262.6 565.6h.01M262.0 567.7h.01M254.6 571.7h.01M253.2 574.1h.01M256.9 578.6h.01M251.6 582.4h.01M254.4 583.9h.01M287.5 472.9h.01M286.9 473.6h.01M285.1 477.0h.01M284.4 478.3h.01M287.7 481.4h.01M283.2 479.8h.01M285.5 484.0h.01M280.1 483.4h.01M283.7 487.8h.01M281.6 487.1h.01M281.8 489.2h.01M281.1 489.5h.01M279.1 493.1h.01M277.7 492.2h.01M275.4 488.3h.01M274.7 488.1h.01M274.4 489.1h.01M277.0 493.3h.01M277.9 495.7h.01M271.2 499.9h.01M266.7 504.0h.01M261.9 508.5h.01M257.8 509.0h.01M257.8 509.6h.01M260.5 517.7h.01M259.3 517.7h.01M261.7 522.7h.01M258.9 527.6h.01M251.6 529.4h.01M252.1 530.0h.01M252.9 531.0h.01M256.0 532.7h.01M249.8 531.9h.01M251.1 532.2h.01M254.9 535.8h.01M258.0 537.0h.01M249.9 535.5h.01M256.9 538.8h.01M250.0 537.6h.01M250.0 539.5h.01M252.3 543.4h.01M253.0 551.5h.01M246.6 551.0h.01M243.0 556.4h.01M242.8 562.5h.01M246.2 565.5h.01M246.0 566.5h.01M246.1 566.4h.01M241.0 566.4h.01M239.4 580.5h.01M276.6 489.4h.01M274.0 489.1h.01M277.8 492.5h.01M276.3 492.7h.01M276.0 493.8h.01M272.1 496.2h.01M270.3 500.1h.01M270.8 504.8h.01M268.0 507.3h.01M267.7 509.7h.01M262.9 512.3h.01M262.5 513.2h.01M260.9 516.0h.01M265.4 518.3h.01M266.4 519.7h.01M258.1 528.9h.01M261.8 530.9h.01M259.4 534.5h.01M259.7 540.4h.01M252.7 544.3h.01M252.7 546.6h.01M251.1 546.9h.01M251.5 547.9h.01M247.6 557.8h.01M253.2 560.1h.01M245.5 565.9h.01M245.0 568.9h.01M248.1 573.7h.01M246.5 580.8h.01M277.1 499.4h.01M277.9 500.1h.01M278.3 505.5h.01M278.0 506.1h.01M276.7 507.5h.01M275.6 508.7h.01M275.9 508.1h.01M272.0 509.7h.01M273.5 516.0h.01M269.1 514.9h.01M272.4 518.1h.01M270.3 516.5h.01M268.8 521.2h.01M266.5 526.2h.01M269.2 529.9h.01M264.9 529.6h.01M267.2 532.5h.01M263.5 534.2h.01M265.8 536.1h.01M262.4 536.8h.01M263.5 538.0h.01M261.5 542.6h.01M264.8 543.2h.01M259.2 549.5h.01M257.3 552.5h.01M258.2 556.8h.01M255.3 560.2h.01M254.9 560.6h.01M254.3 561.2h.01M253.6 561.8h.01M252.0 566.2h.01M251.0 569.6h.01M254.9 570.6h.01M233.9 444.3h.01M236.2 447.3h.01M234.8 447.2h.01M232.8 447.3h.01M235.4 449.4h.01M236.1 448.8h.01M231.0 450.4h.01M231.6 451.3h.01M234.1 452.9h.01M234.0 460.1h.01M229.3 461.0h.01M230.5 461.6h.01M234.2 462.5h.01M234.9 463.7h.01M234.9 469.0h.01M229.0 469.7h.01M235.3 471.1h.01M229.1 473.3h.01M234.3 475.0h.01M232.9 478.2h.01M234.5 483.4h.01M229.3 484.1h.01M230.8 484.6h.01M238.0 484.8h.01M236.4 487.7h.01M238.1 489.5h.01M235.2 489.2h.01M232.1 490.7h.01M231.1 491.1h.01M230.3 492.9h.01M237.9 502.9h.01M233.2 503.9h.01M236.9 504.4h.01M231.1 504.8h.01M230.7 506.9h.01M233.2 510.9h.01M229.0 511.6h.01M233.0 514.4h.01M225.6 515.9h.01M230.8 519.7h.01M224.7 518.4h.01M223.8 534.3h.01M218.6 543.4h.01M213.9 547.7h.01M212.1 548.8h.01M212.5 553.0h.01M215.0 556.0h.01M211.6 555.9h.01M213.6 557.3h.01M210.5 559.8h.01M211.9 564.3h.01M212.3 567.6h.01M210.7 571.6h.01M240.2 439.9h.01M242.0 440.1h.01M240.2 439.6h.01M241.9 443.0h.01M241.9 443.5h.01M239.6 445.3h.01M239.1 448.0h.01M238.3 447.6h.01M240.7 452.5h.01M238.4 454.5h.01M239.1 459.3h.01M237.3 460.3h.01M240.0 461.6h.01M235.7 463.6h.01M236.1 470.3h.01M239.0 470.4h.01M238.2 481.4h.01M237.7 484.6h.01M235.4 485.6h.01M234.4 487.9h.01M238.6 489.4h.01M236.8 490.0h.01M234.7 495.3h.01M229.2 458.4h.01M227.3 460.2h.01M229.1 463.0h.01M227.8 464.4h.01M229.6 465.0h.01M228.3 470.0h.01M231.5 472.4h.01M227.7 472.5h.01M229.9 474.0h.01M227.2 475.7h.01M217.3 539.6h.01M215.9 541.5h.01M217.1 543.3h.01M215.1 543.8h.01M214.0 545.1h.01M214.8 546.9h.01M214.5 546.5h.01M214.1 549.4h.01M212.4 550.6h.01M209.0 551.6h.01M210.8 553.5h.01M205.7 558.7h.01M205.1 561.7h.01M201.9 564.6h.01M202.7 567.9h.01M200.0 568.9h.01M199.8 570.5h.01M200.3 571.7h.01M198.6 573.6h.01M197.7 573.3h.01M221.5 555.3h.01M220.4 570.1h.01M220.0 582.5h.01M224.4 582.0h.01M237.2 501.1h.01M232.9 501.5h.01M233.1 504.7h.01M233.3 503.9h.01M233.1 506.2h.01M240.6 508.5h.01M234.8 516.7h.01M243.3 519.1h.01M242.4 519.9h.01M239.1 530.5h.01M239.0 533.2h.01M246.3 532.4h.01M243.0 547.6h.01M240.2 558.0h.01M237.6 569.0h.01M236.1 581.0h.01M206.3 523.5h.01M209.5 524.2h.01M215.2 525.1h.01M215.6 526.0h.01M217.6 526.2h.01M236.9 428.5h.01M237.3 429.4h.01M233.9 433.3h.01M232.1 433.1h.01M229.8 439.0h.01M229.3 442.5h.01M246.2 484.6h.01M246.8 503.2h.01M273.4 450.3h.01" stroke="#dfff20" stroke-width="1.80"/>
<path d="M226.6 372.9h.01M228.7 369.0h.01M232.3 375.3h.01M231.7 377.3h.01M235.4 379.2h.01M220.9 387.3h.01M221.5 403.5h.01M213.7 404.1h.01M219.7 413.5h.01M221.7 383.1h.01M221.1 390.4h.01M226.7 395.6h.01M225.2 412.8h.01M217.4 416.3h.01M217.9 422.2h.01M228.6 444.8h.01M232.0 389.8h.01M231.8 397.1h.01M223.3 413.8h.01M222.6 416.2h.01M228.8 431.6h.01M217.1 456.8h.01M240.9 372.0h.01M244.6 372.9h.01M244.1 376.7h.01M237.8 380.4h.01M240.4 395.0h.01M236.0 398.5h.01M244.7 405.6h.01M252.4 416.5h.01M236.6 450.9h.01M253.3 374.2h.01M247.6 385.1h.01M246.7 389.3h.01M252.1 394.9h.01M251.0 402.4h.01M240.0 399.4h.01M235.6 415.9h.01M237.2 426.1h.01M270.1 371.8h.01M273.8 373.7h.01M270.6 377.6h.01M269.9 384.4h.01M264.6 403.9h.01M268.0 406.5h.01M263.9 420.0h.01M260.5 417.9h.01M275.0 390.0h.01M278.4 400.4h.01M274.9 400.5h.01M276.1 408.0h.01M270.2 413.4h.01M260.9 408.9h.01M281.1 386.2h.01M303.8 404.4h.01M299.6 411.0h.01M296.7 417.9h.01M300.1 402.6h.01M296.0 408.6h.01M292.0 413.9h.01M287.2 410.2h.01M285.5 421.2h.01M273.6 423.0h.01M269.4 427.0h.01M290.6 406.0h.01M288.6 411.6h.01M318.4 410.3h.01M324.2 400.6h.01M330.0 403.5h.01M334.1 403.5h.01M328.9 411.8h.01M332.9 413.5h.01M328.0 413.2h.01M328.4 418.9h.01M336.9 422.4h.01M331.3 436.4h.01M318.4 413.6h.01M317.8 413.9h.01M317.4 414.2h.01M316.3 417.2h.01M318.9 420.6h.01M318.8 419.7h.01M321.3 419.4h.01M325.5 420.6h.01M326.4 438.8h.01M324.3 443.3h.01M320.5 442.6h.01M322.0 446.6h.01M288.1 434.5h.01M269.0 441.4h.01M230.7 444.1h.01" stroke="#bf0000" stroke-width="1.80"/>
<path d="M227.6 372.4h.01M231.8 370.5h.01M232.9 376.9h.01M232.0 381.5h.01M233.7 383.0h.01M233.0 385.2h.01M223.0 382.3h.01M222.9 384.5h.01M220.8 385.5h.01M219.9 392.3h.01M219.9 396.9h.01M214.8 397.6h.01M220.4 399.0h.01M215.2 403.6h.01M215.8 403.8h.01M216.2 406.0h.01M219.0 412.4h.01M217.9 416.2h.01M211.6 416.0h.01M218.2 416.7h.01M218.3 420.2h.01M211.2 424.7h.01M212.2 429.8h.01M227.4 381.1h.01M223.1 384.4h.01M221.5 387.5h.01M221.7 390.2h.01M221.6 392.4h.01M220.9 395.5h.01M220.8 397.4h.01M221.7 402.4h.01M225.2 403.7h.01M225.4 403.4h.01M218.2 414.6h.01M224.8 419.3h.01M222.0 423.9h.01M223.7 425.0h.01M223.2 431.4h.01M217.9 438.5h.01M220.1 442.6h.01M227.2 440.8h.01M222.0 447.9h.01M228.4 386.1h.01M232.1 389.3h.01M230.8 391.5h.01M227.6 392.0h.01M227.8 394.9h.01M226.4 401.7h.01M226.2 402.8h.01M229.8 404.6h.01M226.6 404.2h.01M228.9 408.9h.01M225.1 410.8h.01M228.6 412.9h.01M224.4 413.2h.01M222.1 419.9h.01M228.5 420.6h.01M227.4 427.6h.01M228.7 429.5h.01M228.6 452.2h.01M222.9 452.7h.01M217.6 457.8h.01M226.6 464.2h.01M243.5 371.5h.01M239.8 373.1h.01M241.0 374.7h.01M242.7 380.1h.01M238.7 379.7h.01M237.9 380.0h.01M238.6 381.6h.01M240.1 385.3h.01M237.2 384.7h.01M240.0 387.3h.01M238.8 391.6h.01M240.6 398.8h.01M239.0 404.2h.01M251.6 417.2h.01M253.5 419.9h.01M246.7 429.0h.01M244.2 432.3h.01M240.2 443.0h.01M237.5 449.8h.01M255.5 374.4h.01M254.3 373.7h.01M255.1 376.4h.01M250.5 377.8h.01M252.5 381.5h.01M248.0 385.9h.01M249.5 390.0h.01M249.9 392.1h.01M251.3 394.6h.01M250.5 403.8h.01M246.8 402.6h.01M249.7 405.8h.01M249.1 372.0h.01M247.1 375.2h.01M249.1 379.6h.01M248.4 380.9h.01M246.8 380.3h.01M246.8 381.9h.01M236.1 401.8h.01M234.9 407.3h.01M236.9 413.2h.01M271.8 378.2h.01M275.0 386.3h.01M270.1 386.7h.01M271.3 391.0h.01M267.2 390.2h.01M270.2 393.7h.01M269.5 394.9h.01M265.9 394.2h.01M265.6 394.8h.01M269.2 396.8h.01M268.6 396.5h.01M265.0 398.2h.01M268.9 402.1h.01M269.1 406.7h.01M266.2 413.0h.01M267.2 413.2h.01M265.8 414.6h.01M262.6 419.1h.01M260.3 427.1h.01M256.7 434.5h.01M255.0 440.0h.01M253.1 443.4h.01M251.3 445.6h.01M277.8 375.8h.01M276.9 377.4h.01M277.9 377.5h.01M273.7 377.6h.01M275.9 391.6h.01M275.3 392.2h.01M278.0 393.8h.01M275.2 395.0h.01M278.3 398.8h.01M278.8 400.7h.01M273.9 404.4h.01M272.7 405.1h.01M274.3 413.6h.01M269.0 415.8h.01M274.0 418.2h.01M270.8 424.8h.01M274.4 424.8h.01M272.1 424.7h.01M273.6 430.6h.01M269.0 429.9h.01M262.9 437.7h.01M257.7 446.3h.01M249.7 460.0h.01M241.8 465.8h.01M260.2 408.3h.01M259.8 408.9h.01M259.0 412.3h.01M258.6 414.6h.01M255.2 424.6h.01M280.0 375.6h.01M282.0 381.2h.01M311.3 383.3h.01M310.2 398.5h.01M309.7 402.3h.01M304.0 413.8h.01M295.4 420.2h.01M297.2 427.4h.01M296.8 432.6h.01M297.8 433.0h.01M303.2 440.6h.01M303.4 442.3h.01M306.8 388.9h.01M306.9 388.8h.01M307.5 392.8h.01M304.9 390.1h.01M302.0 392.2h.01M305.0 395.3h.01M303.5 395.5h.01M300.0 393.5h.01M301.6 396.9h.01M298.9 401.7h.01M297.6 401.1h.01M293.4 405.1h.01M291.5 406.0h.01M295.1 408.0h.01M293.9 408.7h.01M287.4 417.1h.01M280.1 419.8h.01M270.2 433.5h.01M291.9 406.5h.01M288.6 412.2h.01M320.4 403.0h.01M332.5 400.9h.01M331.0 402.9h.01M333.7 402.5h.01M333.3 402.4h.01M331.2 422.0h.01M334.2 429.8h.01M334.7 431.1h.01M334.0 430.1h.01M329.8 430.4h.01M329.0 431.8h.01M331.8 434.0h.01M331.9 437.2h.01M329.5 443.0h.01M322.6 444.4h.01M326.4 449.0h.01M323.6 455.2h.01M319.0 453.7h.01M321.9 458.5h.01M320.9 457.3h.01M317.2 465.8h.01M292.9 497.1h.01M286.9 493.9h.01M279.6 506.7h.01M279.7 520.1h.01M279.1 520.5h.01M269.1 549.6h.01M260.6 568.9h.01M316.3 411.2h.01M317.4 417.1h.01M318.2 418.2h.01M322.2 421.4h.01M321.9 420.9h.01M324.9 422.4h.01M326.6 431.8h.01M327.8 433.0h.01M324.8 433.1h.01M324.0 435.4h.01M325.1 439.5h.01M323.3 439.6h.01M324.3 440.8h.01M322.1 444.9h.01M320.6 444.8h.01M317.6 448.9h.01M291.7 437.5h.01M290.0 437.4h.01M287.4 438.5h.01M285.0 437.8h.01M283.3 436.4h.01M272.8 440.1h.01M271.4 443.3h.01M267.2 446.0h.01M308.9 462.4h.01M303.2 476.7h.01M284.2 492.0h.01M286.0 498.6h.01M269.1 501.2h.01M267.5 496.8h.01M259.5 521.2h.01M282.4 500.3h.01M270.5 527.2h.01M262.0 539.7h.01M238.4 446.6h.01M238.5 447.6h.01M236.9 457.9h.01M228.0 487.3h.01M234.5 515.4h.01M238.3 445.2h.01M230.4 464.9h.01M206.5 562.2h.01M203.7 559.5h.01M203.6 567.1h.01M230.6 435.2h.01M248.5 479.9h.01M249.0 499.5h.01M274.8 449.3h.01" stroke="#ff4000" stroke-width="1.80"/>
<path d="M229.1 371.8h.01M232.4 371.3h.01M232.6 370.8h.01M234.2 374.7h.01M235.6 378.0h.01M232.3 380.8h.01M232.8 380.9h.01M233.8 388.0h.01M232.6 390.0h.01M230.8 394.3h.01M223.3 380.6h.01M221.1 382.5h.01M217.7 382.4h.01M217.6 384.1h.01M216.2 386.2h.01M219.3 387.3h.01M220.2 387.4h.01M216.0 389.7h.01M218.0 391.3h.01M219.6 393.8h.01M219.0 395.5h.01M220.4 396.9h.01M216.7 398.3h.01M214.3 404.0h.01M220.1 405.1h.01M218.9 405.9h.01M218.4 408.1h.01M214.9 409.1h.01M217.6 409.9h.01M216.1 409.7h.01M218.1 411.8h.01M217.4 414.2h.01M219.3 423.3h.01M216.8 427.4h.01M213.9 427.9h.01M216.5 441.1h.01M215.3 446.2h.01M214.2 468.7h.01M226.4 380.5h.01M222.6 381.3h.01M226.8 383.3h.01M226.7 383.2h.01M225.9 386.0h.01M223.2 385.9h.01M226.6 390.2h.01M222.3 394.3h.01M226.0 396.7h.01M222.8 396.6h.01M220.8 404.4h.01M221.2 404.0h.01M223.1 411.1h.01M223.1 415.1h.01M220.6 414.9h.01M223.2 422.6h.01M223.2 423.3h.01M218.3 428.7h.01M222.0 433.3h.01M222.5 434.9h.01M223.4 434.8h.01M225.2 436.4h.01M220.7 441.3h.01M224.4 440.4h.01M220.6 442.5h.01M227.3 440.4h.01M221.7 444.0h.01M229.5 386.0h.01M227.6 386.9h.01M228.8 390.6h.01M230.6 392.4h.01M227.2 397.4h.01M229.8 398.7h.01M229.9 399.6h.01M225.5 402.0h.01M228.3 409.0h.01M228.4 409.0h.01M230.1 410.3h.01M229.3 414.7h.01M223.9 422.0h.01M227.6 424.7h.01M222.8 426.1h.01M227.5 425.9h.01M223.0 431.5h.01M223.2 437.6h.01M229.0 440.0h.01M225.1 446.2h.01M230.4 446.8h.01M224.4 455.1h.01M226.5 462.2h.01M226.8 463.4h.01M229.4 470.5h.01M229.2 474.5h.01M213.4 506.0h.01M200.3 521.2h.01M194.2 520.6h.01M196.1 524.0h.01M193.3 523.3h.01M196.0 527.2h.01M239.5 368.7h.01M240.9 373.4h.01M241.3 373.3h.01M240.7 373.9h.01M239.2 375.7h.01M238.3 386.3h.01M237.0 392.1h.01M236.2 392.6h.01M238.3 394.8h.01M241.6 400.3h.01M242.7 404.0h.01M245.8 407.9h.01M243.6 410.4h.01M244.5 410.6h.01M245.7 412.4h.01M247.2 416.2h.01M252.8 420.7h.01M253.0 425.6h.01M248.5 427.7h.01M246.9 430.4h.01M248.3 434.5h.01M245.0 435.4h.01M245.3 442.1h.01M240.0 448.0h.01M240.2 455.0h.01M236.3 456.3h.01M238.8 460.6h.01M232.6 465.7h.01M235.4 474.4h.01M251.4 382.3h.01M250.7 382.9h.01M250.5 384.0h.01M249.8 388.7h.01M249.2 390.5h.01M249.3 392.0h.01M249.1 399.7h.01M247.3 400.8h.01M247.7 402.3h.01M249.0 402.4h.01M246.5 405.6h.01M248.0 406.4h.01M247.3 374.0h.01M247.2 378.4h.01M247.3 386.3h.01M238.2 398.7h.01M237.7 404.9h.01M235.2 406.0h.01M268.4 373.3h.01M274.4 378.8h.01M274.8 383.6h.01M272.3 383.8h.01M273.8 386.6h.01M270.5 385.9h.01M267.9 393.2h.01M267.2 393.6h.01M268.1 396.2h.01M267.6 397.3h.01M264.8 399.6h.01M267.7 401.9h.01M267.6 403.7h.01M264.0 404.4h.01M267.5 408.4h.01M266.2 412.1h.01M263.3 414.1h.01M265.1 416.9h.01M259.0 421.4h.01M259.5 421.3h.01M258.6 424.6h.01M262.0 426.9h.01M258.8 430.2h.01M256.9 434.1h.01M253.2 443.1h.01M250.6 447.2h.01M246.0 448.6h.01M275.1 375.8h.01M277.4 376.9h.01M274.9 377.9h.01M276.9 378.5h.01M277.0 384.4h.01M277.6 383.6h.01M278.7 390.1h.01M278.2 396.9h.01M278.5 402.6h.01M274.9 408.0h.01M274.2 408.6h.01M272.8 414.4h.01M272.6 416.2h.01M273.8 416.7h.01M274.7 417.5h.01M274.5 421.2h.01M269.7 428.1h.01M250.9 451.1h.01M254.3 454.5h.01M252.2 456.8h.01M246.4 461.4h.01M245.5 468.0h.01M244.0 470.4h.01M244.0 471.3h.01M238.0 476.1h.01M258.1 409.8h.01M259.2 411.1h.01M258.7 413.0h.01M256.7 417.1h.01M252.7 423.9h.01M279.9 377.9h.01M282.2 378.9h.01M279.2 380.7h.01M278.1 386.4h.01M279.0 391.2h.01M277.6 391.7h.01M277.6 391.6h.01M311.2 382.4h.01M311.3 387.1h.01M310.1 390.1h.01M309.9 394.6h.01M309.9 394.3h.01M310.1 396.0h.01M307.6 398.9h.01M305.6 399.3h.01M308.5 402.9h.01M308.2 402.8h.01M305.5 403.8h.01M306.8 409.4h.01M302.7 411.0h.01M303.4 414.2h.01M302.0 416.2h.01M296.9 419.0h.01M295.2 423.1h.01M296.9 430.3h.01M292.6 431.6h.01M295.7 440.1h.01M295.5 440.1h.01M300.7 445.9h.01M308.6 392.0h.01M305.4 390.8h.01M303.9 394.2h.01M300.3 400.3h.01M299.0 401.4h.01M297.2 404.5h.01M296.1 406.1h.01M294.0 409.4h.01M292.4 409.8h.01M290.5 408.1h.01M289.5 408.4h.01M288.8 412.8h.01M288.6 415.3h.01M288.6 416.5h.01M285.0 418.4h.01M278.1 421.6h.01M274.3 424.4h.01M274.3 428.0h.01M272.2 430.5h.01M270.0 433.2h.01M266.4 432.7h.01M269.4 436.2h.01M291.6 406.5h.01M289.6 410.7h.01M317.3 407.0h.01M327.5 401.7h.01M332.4 405.1h.01M331.7 406.4h.01M331.8 414.6h.01M334.1 426.3h.01M334.2 427.6h.01M330.9 427.6h.01M334.4 429.2h.01M334.0 431.9h.01M331.0 432.2h.01M332.9 433.7h.01M330.2 435.7h.01M328.0 436.3h.01M327.9 437.2h.01M328.0 440.4h.01M326.7 440.4h.01M328.0 443.4h.01M324.2 442.4h.01M323.1 445.0h.01M326.4 450.7h.01M321.3 449.2h.01M323.1 453.4h.01M318.1 453.9h.01M315.4 458.3h.01M314.8 458.6h.01M319.4 462.7h.01M314.4 461.9h.01M316.8 463.5h.01M312.8 462.5h.01M313.2 464.9h.01M307.1 470.8h.01M310.2 473.8h.01M309.1 473.8h.01M303.9 472.5h.01M301.2 474.9h.01M303.5 481.2h.01M302.6 482.9h.01M297.5 481.3h.01M295.6 486.7h.01M291.4 489.8h.01M289.8 490.8h.01M294.8 495.6h.01M289.5 493.3h.01M292.3 496.4h.01M286.7 495.4h.01M286.0 496.3h.01M288.8 499.7h.01M285.1 509.8h.01M277.8 512.8h.01M274.7 518.0h.01M272.7 520.2h.01M273.6 521.5h.01M272.8 522.4h.01M274.0 522.8h.01M277.3 528.4h.01M277.0 529.1h.01M271.2 528.8h.01M276.4 531.9h.01M273.3 536.1h.01M267.9 536.4h.01M273.1 538.7h.01M269.9 546.8h.01M264.3 544.8h.01M267.5 552.2h.01M257.9 574.4h.01M317.0 411.0h.01M321.4 420.0h.01M328.9 424.9h.01M323.8 437.5h.01M323.6 439.0h.01M323.0 440.8h.01M323.7 442.4h.01M320.2 444.7h.01M319.5 447.8h.01M294.5 436.4h.01M292.0 436.8h.01M288.3 437.7h.01M272.8 440.0h.01M271.5 442.9h.01M267.8 445.0h.01M266.2 445.0h.01M261.7 445.3h.01M260.6 447.9h.01M258.1 447.3h.01M257.1 447.2h.01M258.9 455.9h.01M268.6 453.6h.01M295.3 456.9h.01M300.0 451.2h.01M301.4 451.0h.01M306.3 457.1h.01M307.2 457.6h.01M313.0 460.9h.01M310.1 462.9h.01M312.8 467.0h.01M308.7 470.6h.01M308.2 470.9h.01M303.4 469.7h.01M299.1 475.5h.01M288.4 496.5h.01M280.1 514.4h.01M263.6 549.8h.01M262.7 549.9h.01M259.7 556.6h.01M263.8 508.2h.01M257.9 507.9h.01M253.1 516.5h.01M258.7 531.6h.01M246.9 568.0h.01M263.4 506.5h.01M259.3 540.2h.01M248.7 571.1h.01M278.0 497.5h.01M276.8 499.1h.01M277.0 498.9h.01M274.9 503.0h.01M273.3 518.1h.01M267.2 519.9h.01M260.0 552.5h.01M256.9 551.6h.01M259.9 561.0h.01M254.5 562.1h.01M250.3 571.0h.01M235.0 439.8h.01M232.7 442.0h.01M230.8 452.5h.01M236.2 459.3h.01M228.9 460.6h.01M227.2 464.7h.01M228.7 465.6h.01M235.3 471.0h.01M235.7 474.7h.01M229.0 479.9h.01M237.2 487.5h.01M231.9 505.2h.01M232.9 517.2h.01M226.1 518.1h.01M214.1 560.2h.01M243.2 441.2h.01M244.9 441.5h.01M239.3 442.2h.01M235.4 460.5h.01M234.9 460.8h.01M238.7 465.4h.01M240.1 469.3h.01M238.5 473.0h.01M240.0 481.7h.01M233.1 482.7h.01M229.4 459.0h.01M226.1 470.0h.01M231.4 474.2h.01M214.9 544.5h.01M215.8 547.0h.01M210.9 550.1h.01M208.9 552.0h.01M209.0 551.4h.01M207.6 559.6h.01M204.9 559.8h.01M203.1 566.0h.01M222.6 560.2h.01M218.6 562.3h.01M242.2 516.6h.01M207.1 519.7h.01M211.5 526.2h.01M249.6 497.9h.01M249.4 498.5h.01" stroke="#ff9f00" stroke-width="1.80"/>
<path d="M230.6 371.4h.01M232.4 384.0h.01M219.8 381.5h.01M217.9 395.3h.01M216.3 409.8h.01M216.8 411.1h.01M216.3 413.8h.01M216.0 418.2h.01M214.8 420.3h.01M215.0 432.8h.01M214.6 433.3h.01M215.0 437.4h.01M212.2 441.3h.01M214.7 444.3h.01M212.7 446.5h.01M214.3 447.4h.01M212.9 456.2h.01M213.2 457.2h.01M214.0 459.1h.01M215.2 469.6h.01M216.8 472.6h.01M216.7 473.9h.01M216.9 474.6h.01M225.8 379.9h.01M225.8 384.5h.01M224.5 386.0h.01M225.5 388.7h.01M224.4 403.3h.01M222.3 411.6h.01M220.3 417.4h.01M221.4 418.2h.01M221.1 420.5h.01M221.0 425.9h.01M221.5 429.1h.01M220.9 432.2h.01M222.0 434.7h.01M223.5 440.8h.01M225.1 441.1h.01M225.7 445.4h.01M228.7 395.5h.01M227.2 404.1h.01M228.1 405.8h.01M227.5 407.2h.01M225.6 419.0h.01M225.9 420.5h.01M224.7 427.8h.01M225.1 433.0h.01M227.0 436.1h.01M226.5 439.4h.01M228.7 443.3h.01M227.1 444.6h.01M229.1 450.4h.01M230.4 450.6h.01M218.8 449.0h.01M218.6 451.2h.01M219.5 453.9h.01M222.0 453.2h.01M221.6 455.0h.01M220.4 455.8h.01M222.3 457.8h.01M221.1 458.3h.01M223.0 458.6h.01M223.8 461.6h.01M224.9 464.7h.01M226.2 467.0h.01M226.0 470.9h.01M226.8 474.3h.01M228.6 475.3h.01M225.6 475.2h.01M224.9 477.3h.01M228.3 478.1h.01M226.7 481.6h.01M223.3 482.5h.01M223.5 487.0h.01M222.0 486.1h.01M223.0 489.0h.01M221.5 488.7h.01M221.1 490.4h.01M218.2 492.2h.01M216.1 497.4h.01M211.0 504.1h.01M209.3 504.8h.01M207.6 511.7h.01M204.3 513.0h.01M203.7 516.7h.01M202.4 517.4h.01M201.1 518.5h.01M199.0 519.0h.01M198.8 519.2h.01M198.4 519.8h.01M197.3 521.4h.01M196.9 521.0h.01M195.1 522.3h.01M196.4 523.8h.01M192.4 525.9h.01M190.5 525.8h.01M192.6 530.7h.01M190.3 530.1h.01M185.4 533.4h.01M186.5 534.7h.01M183.3 538.1h.01M179.3 540.2h.01M241.5 377.1h.01M240.8 402.1h.01M243.4 405.8h.01M245.2 410.4h.01M250.9 420.1h.01M251.6 426.7h.01M250.1 427.8h.01M248.3 432.4h.01M247.5 433.4h.01M245.8 434.8h.01M245.0 439.4h.01M243.4 440.4h.01M244.5 443.4h.01M241.8 446.5h.01M241.1 446.3h.01M239.6 450.2h.01M238.0 457.5h.01M237.5 461.4h.01M235.6 461.2h.01M235.7 462.3h.01M235.0 462.7h.01M234.6 463.2h.01M236.0 467.5h.01M233.1 471.9h.01M234.3 472.5h.01M234.2 472.9h.01M234.2 473.2h.01M253.5 377.2h.01M249.6 401.7h.01M238.7 401.0h.01M238.7 402.5h.01M236.8 403.7h.01M237.0 404.1h.01M236.7 406.7h.01M235.4 409.3h.01M234.1 427.6h.01M268.5 374.4h.01M271.4 387.3h.01M268.9 393.5h.01M265.9 408.4h.01M265.1 411.6h.01M262.7 417.9h.01M262.6 420.5h.01M260.9 421.1h.01M259.6 424.1h.01M258.2 429.0h.01M250.9 440.5h.01M250.5 443.4h.01M276.2 374.4h.01M272.6 406.4h.01M273.3 422.2h.01M272.7 424.6h.01M274.1 429.3h.01M265.5 437.8h.01M259.1 447.1h.01M258.0 447.2h.01M259.7 449.3h.01M256.5 450.1h.01M256.9 450.7h.01M252.1 453.6h.01M252.1 456.6h.01M250.6 455.5h.01M248.7 459.3h.01M246.4 464.7h.01M245.1 467.1h.01M243.3 473.0h.01M240.9 475.1h.01M239.8 474.7h.01M241.6 477.0h.01M238.9 479.1h.01M237.9 478.2h.01M257.6 413.8h.01M255.9 417.4h.01M252.7 425.0h.01M252.2 425.1h.01M312.7 382.7h.01M312.7 386.8h.01M311.4 389.5h.01M311.7 391.3h.01M308.7 398.6h.01M305.3 405.7h.01M299.4 418.1h.01M298.1 420.3h.01M294.7 429.0h.01M295.1 430.6h.01M295.5 434.8h.01M296.0 435.2h.01M297.0 437.2h.01M298.0 437.5h.01M300.2 440.4h.01M302.9 442.1h.01M303.6 444.9h.01M300.0 398.2h.01M298.0 400.8h.01M297.4 402.9h.01M295.7 403.0h.01M294.5 406.0h.01M282.8 417.8h.01M277.9 422.6h.01M273.0 426.9h.01M272.5 427.9h.01M271.8 427.7h.01M271.3 428.9h.01M268.4 432.3h.01M290.9 409.6h.01M290.9 410.0h.01M331.8 418.2h.01M329.8 435.3h.01M329.9 437.5h.01M323.7 448.2h.01M322.3 449.7h.01M322.3 450.7h.01M320.8 451.7h.01M322.5 452.1h.01M321.1 453.8h.01M320.0 455.6h.01M318.1 460.4h.01M316.9 460.7h.01M317.3 461.4h.01M313.9 465.9h.01M302.0 479.4h.01M301.9 479.9h.01M300.9 482.3h.01M299.6 484.7h.01M298.4 484.9h.01M295.4 490.2h.01M295.1 490.7h.01M293.7 492.3h.01M291.3 494.0h.01M290.4 493.6h.01M287.5 500.2h.01M286.4 500.8h.01M284.9 502.4h.01M285.1 507.2h.01M282.6 506.9h.01M282.4 508.0h.01M282.1 509.1h.01M281.9 510.5h.01M280.1 515.7h.01M278.1 514.8h.01M275.4 522.1h.01M274.1 522.7h.01M274.0 524.7h.01M273.1 526.3h.01M272.6 529.1h.01M273.2 531.5h.01M274.6 532.3h.01M272.4 533.8h.01M270.3 538.8h.01M269.6 539.1h.01M268.5 544.5h.01M266.4 543.8h.01M267.3 544.9h.01M266.9 546.8h.01M265.6 547.9h.01M264.1 547.4h.01M264.5 550.2h.01M265.7 552.5h.01M263.5 555.3h.01M261.4 557.6h.01M260.1 557.8h.01M260.6 558.8h.01M259.2 561.4h.01M257.8 570.3h.01M257.1 571.0h.01M257.9 571.6h.01M259.4 572.5h.01M257.6 572.2h.01M257.8 573.0h.01M256.0 575.1h.01M254.0 577.4h.01M256.3 578.4h.01M254.1 578.7h.01M254.0 581.3h.01M253.3 583.3h.01M255.0 584.2h.01M252.0 582.4h.01M251.9 584.0h.01M251.3 585.0h.01M250.6 586.3h.01M283.9 437.4h.01M278.9 439.5h.01M272.3 441.2h.01M256.7 451.0h.01M256.1 452.1h.01M260.5 453.1h.01M261.1 455.3h.01M262.2 454.9h.01M264.4 456.5h.01M264.4 455.4h.01M267.8 454.3h.01M269.5 457.5h.01M269.4 456.7h.01M269.9 458.1h.01M270.1 457.6h.01M271.4 456.6h.01M271.3 457.1h.01M272.7 458.7h.01M273.4 459.8h.01M276.4 460.4h.01M283.6 463.5h.01M285.4 469.3h.01M285.7 472.0h.01M286.3 472.0h.01M287.1 472.6h.01M287.5 471.3h.01M288.4 469.6h.01M292.7 464.8h.01M290.6 463.5h.01M292.9 460.6h.01M298.2 459.2h.01M297.7 455.6h.01M299.9 455.9h.01M300.8 452.9h.01M302.2 453.0h.01M302.1 452.3h.01M302.3 452.5h.01M304.3 449.6h.01M305.0 446.8h.01M303.4 447.4h.01M303.4 446.1h.01M304.6 446.0h.01M304.1 445.3h.01M300.1 438.4h.01M304.2 452.5h.01M305.6 454.5h.01M308.7 456.3h.01M311.3 462.3h.01M310.5 462.1h.01M309.1 463.5h.01M308.5 467.7h.01M308.6 469.0h.01M307.6 471.3h.01M302.9 472.9h.01M301.6 473.6h.01M301.3 474.4h.01M297.4 481.3h.01M295.9 480.3h.01M294.5 483.9h.01M292.4 482.6h.01M292.4 484.7h.01M292.1 485.3h.01M292.1 487.1h.01M289.9 488.5h.01M290.7 489.1h.01M288.0 490.6h.01M287.5 491.8h.01M286.8 493.0h.01M284.4 498.2h.01M284.7 499.4h.01M282.1 499.7h.01M283.5 501.0h.01M282.7 501.2h.01M281.3 508.6h.01M279.0 508.6h.01M276.4 509.9h.01M277.7 512.6h.01M278.5 512.5h.01M277.8 514.7h.01M275.9 514.8h.01M274.7 516.6h.01M273.3 517.0h.01M271.1 524.1h.01M273.5 526.1h.01M273.3 528.7h.01M270.5 537.1h.01M267.6 537.4h.01M267.0 538.7h.01M268.7 540.1h.01M268.2 541.1h.01M266.3 544.4h.01M266.1 549.1h.01M264.1 550.5h.01M266.6 552.8h.01M267.3 553.3h.01M261.0 559.9h.01M260.6 560.6h.01M262.1 564.0h.01M258.2 565.2h.01M260.1 567.6h.01M257.6 568.1h.01M256.5 568.1h.01M256.5 568.4h.01M258.8 570.6h.01M257.4 572.7h.01M257.1 574.5h.01M257.0 576.0h.01M256.2 576.7h.01M252.9 576.7h.01M253.6 577.1h.01M252.7 577.5h.01M253.7 580.7h.01M255.1 580.7h.01M254.7 582.0h.01M253.3 581.8h.01M253.6 585.2h.01M286.8 474.0h.01M289.4 475.8h.01M286.8 475.8h.01M288.3 479.0h.01M285.9 478.7h.01M287.8 479.3h.01M284.7 479.1h.01M284.6 480.2h.01M286.0 482.3h.01M284.0 481.4h.01M286.0 483.8h.01M284.4 487.0h.01M278.3 484.8h.01M281.6 489.1h.01M276.7 487.5h.01M277.5 492.6h.01M273.0 493.3h.01M273.7 495.4h.01M271.9 494.8h.01M265.2 494.1h.01M269.6 500.4h.01M264.3 498.4h.01M264.7 500.4h.01M263.7 499.6h.01M264.0 506.1h.01M259.9 504.9h.01M260.7 504.9h.01M258.5 505.7h.01M262.3 507.4h.01M260.9 509.5h.01M258.0 510.3h.01M257.3 509.8h.01M260.0 511.6h.01M259.9 511.5h.01M261.2 512.7h.01M259.7 512.8h.01M260.8 514.7h.01M260.1 514.4h.01M257.0 514.5h.01M259.1 517.0h.01M258.9 518.9h.01M256.7 518.9h.01M254.8 518.6h.01M259.7 521.4h.01M256.3 521.6h.01M254.9 522.4h.01M252.1 524.0h.01M255.9 526.7h.01M257.1 528.3h.01M258.0 528.9h.01M252.9 528.3h.01M255.9 533.1h.01M249.6 531.9h.01M257.1 535.0h.01M250.8 534.9h.01M252.2 538.1h.01M253.9 540.1h.01M250.2 539.2h.01M252.3 541.6h.01M248.5 541.0h.01M248.6 545.7h.01M250.1 546.3h.01M252.6 548.2h.01M249.8 551.2h.01M248.4 551.0h.01M248.5 552.8h.01M244.4 558.9h.01M244.3 561.5h.01M246.0 562.5h.01M245.6 562.7h.01M246.9 564.5h.01M245.8 564.8h.01M243.7 567.8h.01M243.9 568.7h.01M240.8 573.4h.01M242.1 575.1h.01M239.9 575.6h.01M237.7 577.0h.01M239.2 580.3h.01M237.1 580.4h.01M236.4 581.4h.01M238.1 583.1h.01M276.0 491.4h.01M273.7 491.5h.01M272.3 491.8h.01M271.6 497.7h.01M271.5 496.9h.01M269.3 501.1h.01M267.9 502.4h.01M267.7 504.2h.01M265.9 511.1h.01M263.6 512.6h.01M267.2 515.1h.01M265.9 518.2h.01M263.7 517.5h.01M263.7 518.4h.01M263.7 517.7h.01M261.8 519.9h.01M261.9 519.2h.01M261.1 521.2h.01M263.5 523.7h.01M257.1 540.6h.01M254.0 540.7h.01M256.5 541.3h.01M256.8 542.2h.01M253.1 541.7h.01M256.2 542.3h.01M255.2 545.5h.01M255.0 547.7h.01M255.0 549.4h.01M253.7 549.4h.01M250.3 549.5h.01M253.6 551.1h.01M252.8 551.3h.01M251.4 551.2h.01M252.7 553.8h.01M249.6 552.7h.01M253.1 554.4h.01M251.1 555.9h.01M251.1 563.7h.01M250.5 564.4h.01M244.7 565.0h.01M246.4 567.7h.01M248.8 568.9h.01M244.8 569.4h.01M246.9 573.6h.01M246.8 575.0h.01M244.1 576.5h.01M246.5 576.5h.01M243.9 578.9h.01M242.1 578.7h.01M282.3 493.4h.01M279.8 499.8h.01M276.4 507.2h.01M275.7 508.4h.01M274.3 509.3h.01M275.5 511.1h.01M272.5 509.6h.01M273.3 511.2h.01M273.4 512.0h.01M273.1 513.3h.01M272.3 516.2h.01M268.8 517.0h.01M269.3 520.7h.01M270.0 520.8h.01M269.6 523.1h.01M269.3 523.2h.01M266.6 526.9h.01M266.4 529.3h.01M265.1 532.8h.01M263.1 538.7h.01M264.9 540.0h.01M263.6 539.7h.01M265.7 541.9h.01M261.9 543.8h.01M261.9 544.9h.01M261.1 546.5h.01M259.9 546.6h.01M260.8 547.2h.01M261.1 549.0h.01M261.1 549.7h.01M261.9 549.8h.01M259.8 549.9h.01M259.4 551.4h.01M256.6 552.9h.01M259.1 555.0h.01M255.9 557.2h.01M255.7 557.2h.01M256.4 561.7h.01M255.5 562.5h.01M255.7 564.9h.01M254.2 566.0h.01M253.5 567.1h.01M255.3 572.7h.01M234.2 440.7h.01M234.1 442.2h.01M235.1 444.6h.01M235.0 446.2h.01M233.1 450.3h.01M234.1 451.1h.01M233.5 453.7h.01M233.5 453.1h.01M231.1 456.6h.01M231.1 457.7h.01M232.5 460.7h.01M231.5 460.8h.01M233.9 462.3h.01M231.3 462.8h.01M232.3 464.2h.01M229.7 464.8h.01M232.9 465.6h.01M233.8 467.2h.01M232.3 468.9h.01M231.7 468.7h.01M232.3 469.9h.01M229.0 472.1h.01M230.7 473.1h.01M234.5 474.9h.01M233.0 477.1h.01M227.8 478.2h.01M229.0 480.8h.01M232.6 480.2h.01M231.7 480.3h.01M231.4 484.4h.01M235.3 484.9h.01M235.1 488.1h.01M233.1 489.2h.01M234.5 489.9h.01M235.3 490.8h.01M231.9 493.2h.01M230.9 493.6h.01M236.1 494.0h.01M235.0 494.7h.01M236.2 497.3h.01M235.7 496.9h.01M233.0 497.7h.01M236.4 498.0h.01M232.9 499.3h.01M233.2 499.5h.01M236.2 500.1h.01M234.6 499.7h.01M235.5 500.4h.01M234.6 501.0h.01M235.9 501.4h.01M235.5 501.7h.01M235.5 502.0h.01M237.3 504.0h.01M231.5 505.2h.01M235.5 507.3h.01M234.3 509.8h.01M233.7 511.8h.01M232.8 511.9h.01M231.3 511.2h.01M229.2 513.1h.01M229.9 513.2h.01M228.3 515.6h.01M229.3 517.7h.01M227.5 518.8h.01M227.6 521.4h.01M227.0 521.0h.01M227.5 523.0h.01M224.2 522.0h.01M225.5 523.4h.01M226.8 524.8h.01M223.2 522.4h.01M225.8 523.7h.01M222.3 523.7h.01M226.2 525.7h.01M223.5 526.6h.01M225.2 529.8h.01M221.3 528.3h.01M221.9 536.3h.01M218.3 535.1h.01M218.3 536.7h.01M217.9 539.5h.01M217.7 538.8h.01M218.7 540.6h.01M215.3 543.4h.01M215.6 544.3h.01M216.3 545.4h.01M214.0 548.7h.01M216.6 549.3h.01M214.2 550.3h.01M212.8 551.9h.01M213.1 552.4h.01M211.8 554.0h.01M211.8 558.8h.01M211.2 558.4h.01M209.7 564.8h.01M208.9 566.8h.01M242.4 441.5h.01M241.8 443.4h.01M240.7 447.2h.01M240.1 454.2h.01M238.2 456.1h.01M237.6 459.2h.01M237.0 464.5h.01M237.3 470.3h.01M236.4 471.8h.01M235.0 473.4h.01M237.3 475.9h.01M236.2 477.2h.01M238.3 479.4h.01M235.6 480.3h.01M237.3 481.2h.01M234.2 481.7h.01M238.1 482.6h.01M236.5 485.0h.01M235.4 485.6h.01M236.7 487.3h.01M236.8 486.8h.01M235.8 489.2h.01M236.8 492.1h.01M236.4 493.6h.01M238.6 494.1h.01M237.3 495.7h.01M238.5 495.8h.01M237.3 496.9h.01M238.9 498.3h.01M236.7 497.8h.01M240.0 499.8h.01M228.8 459.0h.01M227.5 464.4h.01M226.6 466.0h.01M228.1 467.4h.01M229.6 470.0h.01M229.7 477.8h.01M230.5 478.3h.01M229.9 478.2h.01M227.5 479.7h.01M214.0 547.0h.01M203.4 564.4h.01M197.9 573.5h.01M221.6 548.2h.01M220.1 550.2h.01M221.0 551.6h.01M222.0 557.0h.01M219.6 558.5h.01M222.7 558.9h.01M220.4 561.6h.01M220.6 565.4h.01M220.8 569.2h.01M223.1 578.6h.01M221.4 578.3h.01M222.6 588.3h.01M222.8 589.3h.01M237.4 501.8h.01M235.9 505.0h.01M234.3 506.3h.01M236.4 517.8h.01M236.8 523.8h.01M242.1 521.2h.01M241.3 521.4h.01M243.8 525.1h.01M242.7 527.2h.01M240.0 533.5h.01M246.8 535.3h.01M246.7 536.8h.01M243.5 542.6h.01M249.8 545.3h.01M247.0 545.6h.01M246.4 546.4h.01M243.2 548.5h.01M242.7 551.3h.01M241.8 553.0h.01M247.3 556.6h.01M243.3 556.1h.01M241.0 555.6h.01M243.3 556.6h.01M245.4 558.3h.01M241.0 557.6h.01M242.3 558.1h.01M245.3 563.7h.01M241.3 563.5h.01M241.9 568.5h.01M243.2 568.7h.01M240.4 569.5h.01M236.5 568.6h.01M239.6 570.3h.01M236.2 570.2h.01M239.0 573.5h.01M235.1 573.8h.01M236.2 577.1h.01M236.6 578.4h.01M232.8 579.9h.01M235.4 581.5h.01M232.0 580.8h.01M234.0 582.7h.01M234.2 587.0h.01M229.2 587.6h.01M228.3 591.5h.01M203.7 521.5h.01M205.3 519.8h.01M211.5 525.5h.01M213.0 526.3h.01M216.3 526.7h.01M237.0 431.2h.01M234.8 431.4h.01M234.1 435.8h.01M233.9 437.1h.01M231.3 438.8h.01M231.9 439.6h.01M226.8 442.9h.01M228.8 444.5h.01M227.8 444.8h.01M248.3 493.6h.01" stroke="#60ff9f" stroke-width="1.80"/>
<path d="M230.3 372.9h.01M232.2 373.6h.01M231.4 379.5h.01M234.0 384.3h.01M232.1 384.3h.01M231.7 392.8h.01M216.1 382.4h.01M215.6 384.1h.01M221.2 393.0h.01M220.4 398.2h.01M214.8 399.6h.01M211.1 431.9h.01M222.9 383.5h.01M226.8 406.7h.01M226.8 409.4h.01M219.0 413.9h.01M224.1 419.7h.01M216.8 434.7h.01M227.6 387.0h.01M226.1 391.2h.01M230.9 395.0h.01M228.3 420.4h.01M222.1 428.1h.01M224.8 455.1h.01M240.4 368.2h.01M244.4 375.8h.01M243.8 375.5h.01M242.0 407.3h.01M248.1 425.5h.01M249.8 390.4h.01M246.4 402.1h.01M249.5 405.7h.01M249.5 377.2h.01M236.7 399.6h.01M237.9 407.4h.01M231.8 420.0h.01M231.6 421.7h.01M274.4 375.4h.01M271.3 380.0h.01M271.0 381.4h.01M275.9 382.6h.01M271.0 383.0h.01M267.4 389.7h.01M265.0 398.3h.01M269.6 400.5h.01M268.0 403.8h.01M260.9 415.4h.01M265.6 418.3h.01M273.6 376.6h.01M274.3 380.4h.01M277.0 381.2h.01M273.8 388.7h.01M274.7 395.1h.01M274.8 397.8h.01M274.7 412.9h.01M260.6 450.0h.01M240.2 468.5h.01M261.2 407.5h.01M260.8 407.8h.01M310.2 381.3h.01M311.5 381.4h.01M314.6 384.8h.01M310.6 385.5h.01M308.6 393.3h.01M300.7 438.6h.01M305.1 387.9h.01M306.0 394.8h.01M289.5 408.8h.01M288.9 408.5h.01M287.6 411.5h.01M275.2 429.2h.01M289.8 399.9h.01M288.8 401.4h.01M289.7 404.7h.01M292.2 410.0h.01M321.0 404.4h.01M330.0 402.4h.01M327.9 432.4h.01M327.8 434.1h.01M329.0 446.0h.01M319.8 448.6h.01M320.3 459.2h.01M290.0 501.9h.01M285.2 509.5h.01M283.4 513.8h.01M316.7 410.1h.01M318.5 413.9h.01M318.3 415.1h.01M321.3 418.0h.01M326.4 426.6h.01M327.8 432.6h.01M323.9 434.5h.01M322.1 441.4h.01M297.4 436.6h.01M275.3 441.8h.01M266.0 445.7h.01M254.1 546.0h.01M229.7 452.1h.01M234.3 464.6h.01M210.6 556.7h.01M203.5 558.8h.01M248.3 495.2h.01M278.8 445.3h.01M273.9 449.2h.01" stroke="#df0000" stroke-width="1.80"/>
<path d="M231.5 371.8h.01M234.2 380.6h.01M233.3 381.6h.01M231.0 386.9h.01M231.4 388.0h.01M231.6 388.4h.01M231.7 389.8h.01M231.0 390.9h.01M230.5 392.5h.01M230.8 393.5h.01M220.6 381.1h.01M220.4 381.8h.01M219.2 388.1h.01M218.3 390.7h.01M217.8 394.8h.01M217.0 402.3h.01M217.3 402.4h.01M216.9 403.6h.01M217.8 405.1h.01M216.7 406.0h.01M216.0 407.5h.01M216.7 409.8h.01M218.7 413.0h.01M214.9 414.3h.01M215.2 416.6h.01M216.2 419.4h.01M215.4 421.3h.01M217.3 422.0h.01M217.6 422.7h.01M213.9 422.6h.01M216.1 424.9h.01M213.9 426.0h.01M215.1 427.6h.01M217.2 428.7h.01M214.5 431.0h.01M216.6 432.7h.01M214.5 433.5h.01M214.2 438.7h.01M212.7 441.2h.01M214.7 442.8h.01M213.5 449.4h.01M211.8 450.8h.01M212.1 451.0h.01M213.1 457.9h.01M214.1 462.4h.01M215.4 466.1h.01M215.7 473.6h.01M217.8 475.2h.01M225.9 382.3h.01M224.7 385.8h.01M224.0 391.4h.01M225.5 393.3h.01M225.6 393.3h.01M225.1 399.7h.01M222.4 401.0h.01M223.7 403.7h.01M224.3 404.4h.01M221.5 407.1h.01M221.3 408.8h.01M222.2 410.7h.01M221.2 411.5h.01M221.6 411.9h.01M222.4 413.5h.01M222.4 415.1h.01M221.1 418.1h.01M221.2 420.6h.01M221.1 423.7h.01M219.9 431.9h.01M219.2 434.5h.01M219.0 434.9h.01M222.1 435.5h.01M220.7 436.5h.01M220.5 436.5h.01M221.4 440.8h.01M224.1 439.7h.01M224.3 441.6h.01M224.1 444.0h.01M227.3 444.6h.01M230.0 388.3h.01M229.7 389.9h.01M228.7 397.1h.01M228.9 396.6h.01M228.2 400.9h.01M227.9 401.6h.01M227.8 402.3h.01M228.8 404.0h.01M227.1 408.6h.01M228.1 411.5h.01M225.9 411.7h.01M224.7 416.1h.01M225.9 417.3h.01M225.3 418.0h.01M227.5 421.7h.01M225.0 423.7h.01M224.6 426.2h.01M226.5 429.2h.01M226.8 434.7h.01M224.9 438.6h.01M226.0 439.1h.01M227.9 440.0h.01M229.0 442.2h.01M227.8 442.2h.01M226.7 444.7h.01M229.0 450.0h.01M218.0 447.2h.01M216.0 448.0h.01M217.5 448.2h.01M219.2 448.4h.01M221.1 454.3h.01M220.5 455.6h.01M223.1 455.9h.01M220.2 457.9h.01M219.9 459.8h.01M224.1 460.1h.01M222.7 460.7h.01M225.0 464.2h.01M223.9 465.4h.01M225.6 464.7h.01M223.3 468.2h.01M225.4 467.3h.01M226.7 467.7h.01M227.5 468.9h.01M224.2 470.0h.01M224.5 472.4h.01M228.6 475.9h.01M227.8 481.1h.01M222.7 482.7h.01M223.2 484.1h.01M221.7 488.7h.01M220.1 487.2h.01M219.1 487.6h.01M220.9 490.7h.01M220.5 491.1h.01M220.7 490.9h.01M217.7 497.0h.01M217.4 497.0h.01M212.4 502.3h.01M208.9 503.4h.01M211.5 507.6h.01M201.7 514.4h.01M200.4 514.8h.01M201.9 518.5h.01M197.5 522.8h.01M195.9 526.2h.01M194.1 526.6h.01M193.9 528.9h.01M189.6 531.9h.01M178.1 542.0h.01M242.8 367.8h.01M241.5 374.6h.01M241.6 375.1h.01M240.5 376.0h.01M239.9 382.6h.01M239.9 382.4h.01M239.9 384.2h.01M238.1 383.6h.01M238.6 384.6h.01M237.4 388.2h.01M238.0 390.1h.01M238.0 393.5h.01M238.3 394.2h.01M241.6 400.6h.01M241.4 403.4h.01M243.7 407.5h.01M245.6 406.9h.01M246.6 412.8h.01M247.8 414.1h.01M251.7 418.0h.01M251.9 421.4h.01M251.1 422.1h.01M251.4 422.7h.01M252.4 423.0h.01M251.2 422.9h.01M250.6 425.0h.01M250.1 427.7h.01M250.1 430.0h.01M246.3 436.0h.01M243.5 435.6h.01M247.2 437.8h.01M246.9 438.4h.01M243.6 437.6h.01M243.7 440.9h.01M244.3 441.7h.01M240.3 445.6h.01M240.1 448.0h.01M241.3 449.7h.01M240.3 451.5h.01M236.9 452.0h.01M239.5 453.2h.01M238.3 454.6h.01M236.6 456.0h.01M237.2 458.8h.01M238.1 460.0h.01M235.0 460.8h.01M234.8 461.4h.01M238.1 466.6h.01M252.4 377.3h.01M252.6 379.9h.01M250.0 395.5h.01M250.6 396.5h.01M248.0 381.3h.01M239.3 398.9h.01M237.0 406.3h.01M233.1 418.5h.01M234.6 424.5h.01M235.2 426.8h.01M235.3 427.9h.01M268.9 376.0h.01M269.8 373.7h.01M272.8 380.0h.01M273.2 385.3h.01M273.1 385.8h.01M271.4 387.6h.01M269.6 388.5h.01M268.4 392.9h.01M266.8 399.5h.01M265.7 401.8h.01M266.0 402.5h.01M265.3 405.8h.01M262.1 417.3h.01M263.3 418.7h.01M264.4 420.4h.01M261.0 420.3h.01M262.5 424.4h.01M256.9 426.3h.01M257.6 428.0h.01M257.3 428.8h.01M255.6 429.3h.01M256.4 433.4h.01M255.2 435.1h.01M254.8 435.1h.01M251.5 438.1h.01M252.6 439.4h.01M250.8 442.6h.01M251.8 444.6h.01M248.4 448.0h.01M248.7 450.0h.01M275.6 371.9h.01M277.3 374.7h.01M275.3 375.5h.01M276.2 379.8h.01M276.0 386.0h.01M277.8 391.3h.01M276.9 399.9h.01M276.9 400.9h.01M275.2 402.7h.01M275.4 404.1h.01M273.1 407.4h.01M272.6 409.2h.01M272.3 413.1h.01M271.6 416.4h.01M271.3 417.6h.01M271.3 418.6h.01M270.9 419.8h.01M271.9 420.1h.01M274.6 421.5h.01M273.8 422.7h.01M272.4 422.6h.01M272.5 423.0h.01M272.0 425.3h.01M272.6 425.9h.01M272.0 430.5h.01M268.9 431.7h.01M268.5 432.6h.01M269.4 432.7h.01M268.1 433.4h.01M266.6 435.8h.01M264.3 436.5h.01M265.4 441.0h.01M262.3 439.9h.01M261.6 442.8h.01M260.5 447.8h.01M258.1 448.5h.01M255.7 451.3h.01M253.9 451.4h.01M253.0 452.1h.01M252.2 455.8h.01M248.8 456.6h.01M248.9 456.2h.01M248.5 461.7h.01M248.8 462.0h.01M244.9 463.4h.01M244.8 465.3h.01M246.4 465.3h.01M245.1 470.7h.01M259.5 407.4h.01M257.8 410.6h.01M257.8 411.5h.01M256.4 416.2h.01M255.6 418.0h.01M254.4 420.3h.01M255.2 421.3h.01M253.7 421.7h.01M254.6 422.8h.01M280.4 376.0h.01M281.1 376.6h.01M280.9 378.1h.01M280.6 379.4h.01M280.8 385.5h.01M278.8 389.0h.01M312.2 385.2h.01M311.0 388.7h.01M311.3 390.7h.01M310.5 391.5h.01M309.2 398.8h.01M310.1 398.8h.01M308.7 399.0h.01M307.5 400.1h.01M307.9 400.2h.01M307.1 403.9h.01M305.3 404.9h.01M305.8 407.6h.01M303.8 409.2h.01M304.1 410.6h.01M303.2 413.9h.01M302.9 414.2h.01M300.9 417.0h.01M301.5 416.7h.01M297.3 421.2h.01M298.1 422.9h.01M295.7 432.3h.01M294.3 434.5h.01M295.6 436.9h.01M299.1 438.5h.01M300.5 441.4h.01M301.1 444.5h.01M300.8 445.1h.01M303.1 446.4h.01M305.3 391.9h.01M299.5 398.4h.01M298.9 398.3h.01M299.4 400.2h.01M298.1 400.5h.01M296.1 402.4h.01M296.0 404.7h.01M292.1 407.6h.01M283.8 418.9h.01M281.9 420.5h.01M280.6 420.5h.01M280.1 421.2h.01M278.8 420.9h.01M279.7 422.8h.01M276.7 425.0h.01M276.2 423.7h.01M273.6 427.8h.01M271.2 430.1h.01M269.8 431.8h.01M318.1 408.1h.01M325.1 401.5h.01M326.6 401.6h.01M332.1 407.7h.01M331.6 411.2h.01M331.1 411.2h.01M330.9 411.1h.01M331.1 412.9h.01M330.0 417.5h.01M332.1 419.7h.01M333.2 421.6h.01M332.3 421.3h.01M332.6 422.1h.01M334.6 424.8h.01M333.3 426.5h.01M333.1 427.1h.01M331.4 430.0h.01M332.0 430.8h.01M332.1 434.5h.01M329.8 437.8h.01M328.0 438.1h.01M328.9 438.1h.01M328.2 440.5h.01M326.5 442.0h.01M325.4 444.8h.01M324.9 448.9h.01M322.2 453.4h.01M318.9 456.9h.01M318.8 457.3h.01M318.4 458.0h.01M317.6 458.2h.01M317.5 459.1h.01M317.1 458.0h.01M317.8 459.8h.01M315.5 460.1h.01M318.6 462.5h.01M313.7 460.7h.01M316.6 462.9h.01M316.1 463.2h.01M313.8 463.5h.01M313.9 464.2h.01M313.6 465.5h.01M312.8 466.2h.01M310.0 469.2h.01M308.6 470.2h.01M310.6 472.7h.01M307.3 473.3h.01M303.9 476.3h.01M305.1 478.7h.01M302.3 476.1h.01M304.8 479.3h.01M304.2 478.7h.01M302.2 478.2h.01M300.8 479.5h.01M301.5 481.2h.01M301.6 482.0h.01M301.5 482.4h.01M297.7 484.9h.01M298.3 484.6h.01M298.0 486.5h.01M296.3 487.1h.01M298.4 489.3h.01M299.1 490.3h.01M297.6 490.6h.01M291.7 492.1h.01M289.8 496.8h.01M290.0 499.2h.01M286.4 497.1h.01M286.9 500.1h.01M284.3 504.5h.01M281.0 505.3h.01M283.4 508.0h.01M279.9 509.6h.01M279.8 509.9h.01M280.4 513.4h.01M277.6 514.3h.01M279.2 516.0h.01M277.8 516.4h.01M277.6 516.4h.01M278.0 521.1h.01M278.5 521.2h.01M271.2 530.6h.01M272.8 532.1h.01M274.0 533.6h.01M272.3 533.1h.01M272.7 534.9h.01M267.9 540.8h.01M271.9 543.6h.01M266.9 544.8h.01M263.7 547.6h.01M263.4 549.8h.01M267.5 552.5h.01M261.6 551.7h.01M264.5 552.3h.01M261.7 555.0h.01M261.1 557.4h.01M259.6 558.7h.01M260.4 559.8h.01M258.2 565.1h.01M259.1 566.8h.01M260.8 567.5h.01M259.3 569.3h.01M255.8 570.6h.01M256.1 571.4h.01M256.0 573.3h.01M254.8 574.0h.01M255.2 575.5h.01M254.8 581.8h.01M252.5 581.8h.01M251.6 586.7h.01M252.8 588.3h.01M321.5 419.7h.01M327.4 426.7h.01M322.6 441.8h.01M290.5 435.3h.01M287.7 436.5h.01M286.1 437.3h.01M282.6 437.9h.01M281.3 439.4h.01M279.4 438.0h.01M278.8 439.9h.01M276.3 440.3h.01M274.3 441.3h.01M272.0 441.1h.01M263.4 444.9h.01M262.2 446.1h.01M259.9 448.0h.01M258.7 447.8h.01M256.5 453.7h.01M257.1 453.8h.01M267.6 457.2h.01M270.6 457.2h.01M275.4 457.7h.01M278.0 461.6h.01M281.3 464.6h.01M283.0 466.8h.01M282.0 468.2h.01M288.9 470.8h.01M291.5 469.5h.01M288.4 467.3h.01M293.7 463.9h.01M295.7 461.7h.01M295.7 459.5h.01M296.9 460.2h.01M295.8 457.7h.01M300.1 455.8h.01M304.8 452.4h.01M305.0 452.8h.01M302.8 448.9h.01M301.6 444.4h.01M302.9 441.2h.01M301.3 439.8h.01M302.1 452.4h.01M304.3 451.7h.01M306.2 453.7h.01M305.5 456.1h.01M308.8 455.2h.01M309.7 456.5h.01M309.5 460.7h.01M311.0 460.4h.01M309.5 464.0h.01M310.0 464.3h.01M310.7 467.1h.01M309.9 469.2h.01M307.1 471.2h.01M305.1 470.6h.01M303.8 470.7h.01M306.1 472.8h.01M303.1 473.0h.01M300.3 478.8h.01M297.9 479.5h.01M293.1 480.4h.01M290.7 488.9h.01M283.9 493.6h.01M282.9 499.3h.01M285.3 502.9h.01M280.8 502.3h.01M279.6 504.0h.01M281.9 506.6h.01M276.9 511.3h.01M275.1 512.6h.01M276.9 515.1h.01M274.3 515.1h.01M274.4 520.8h.01M274.8 521.1h.01M276.3 521.0h.01M274.6 521.5h.01M272.3 522.0h.01M270.0 526.7h.01M272.0 531.2h.01M269.9 532.5h.01M267.8 532.4h.01M271.9 534.3h.01M267.1 535.9h.01M267.7 537.2h.01M266.8 538.4h.01M268.7 545.0h.01M267.0 553.8h.01M266.1 554.3h.01M263.6 559.6h.01M258.8 562.3h.01M257.0 566.8h.01M257.0 567.5h.01M258.1 571.3h.01M254.0 576.9h.01M252.7 580.6h.01M288.2 474.4h.01M286.3 474.5h.01M285.6 479.8h.01M284.7 485.3h.01M278.7 483.7h.01M279.0 486.1h.01M279.0 489.9h.01M279.0 491.6h.01M273.8 496.6h.01M269.7 492.4h.01M267.2 494.1h.01M269.1 498.4h.01M264.9 494.8h.01M265.5 499.2h.01M266.1 501.5h.01M262.2 501.6h.01M265.2 504.5h.01M261.5 506.8h.01M260.8 512.5h.01M256.2 513.0h.01M256.0 513.8h.01M259.3 516.0h.01M254.5 515.1h.01M260.8 518.1h.01M258.5 518.4h.01M253.7 518.6h.01M257.5 520.8h.01M255.5 523.8h.01M253.1 525.8h.01M258.1 527.8h.01M254.4 528.1h.01M257.0 529.2h.01M259.1 531.9h.01M251.3 531.0h.01M254.8 531.1h.01M250.5 531.9h.01M256.5 536.0h.01M254.4 536.2h.01M256.5 539.7h.01M249.4 538.9h.01M252.6 543.9h.01M247.0 542.1h.01M249.2 543.0h.01M249.1 547.1h.01M251.2 548.8h.01M251.7 549.8h.01M245.3 550.4h.01M246.4 560.0h.01M242.4 563.0h.01M245.6 570.4h.01M240.9 569.5h.01M239.4 569.8h.01M240.7 577.8h.01M236.5 577.2h.01M235.8 581.3h.01M236.1 582.5h.01M239.9 584.2h.01M237.6 588.3h.01M277.7 490.0h.01M272.2 492.0h.01M273.7 493.1h.01M275.5 495.3h.01M274.5 496.7h.01M268.2 501.3h.01M266.2 501.9h.01M270.2 504.7h.01M265.5 504.0h.01M265.4 508.0h.01M265.6 508.1h.01M263.9 508.1h.01M262.4 508.7h.01M268.2 513.3h.01M264.5 514.9h.01M259.3 524.3h.01M260.6 525.7h.01M258.1 528.7h.01M255.9 536.1h.01M257.9 539.5h.01M254.9 540.9h.01M253.0 543.6h.01M249.2 553.2h.01M248.8 554.3h.01M250.3 562.7h.01M251.5 565.7h.01M246.6 565.4h.01M251.5 567.5h.01M245.1 568.3h.01M244.3 569.6h.01M247.9 572.1h.01M244.6 570.2h.01M247.9 572.4h.01M247.2 574.8h.01M245.9 574.8h.01M241.7 578.1h.01M240.7 578.5h.01M281.4 493.5h.01M281.3 497.5h.01M281.4 499.9h.01M278.7 502.8h.01M276.5 502.8h.01M278.3 505.7h.01M277.3 506.2h.01M276.2 507.6h.01M273.4 507.8h.01M275.2 511.2h.01M273.2 515.1h.01M272.0 517.4h.01M270.8 520.2h.01M268.1 522.6h.01M269.7 524.1h.01M267.8 527.7h.01M265.7 531.3h.01M267.2 533.9h.01M264.1 532.5h.01M262.9 534.8h.01M265.6 537.3h.01M262.6 540.9h.01M262.2 541.4h.01M259.8 545.7h.01M259.9 552.4h.01M260.5 555.9h.01M258.8 556.7h.01M259.0 557.4h.01M257.4 560.2h.01M254.0 564.4h.01M255.7 566.9h.01M256.0 569.3h.01M252.3 568.7h.01M251.6 570.3h.01M252.5 571.3h.01M237.9 440.5h.01M236.5 440.1h.01M235.7 440.6h.01M237.9 445.5h.01M235.0 448.2h.01M232.3 447.1h.01M234.6 448.6h.01M237.5 450.2h.01M231.8 450.0h.01M233.2 454.7h.01M234.6 458.1h.01M234.6 459.1h.01M228.1 458.5h.01M231.3 459.6h.01M234.7 461.3h.01M232.1 461.5h.01M232.7 463.9h.01M228.7 463.2h.01M235.0 467.1h.01M233.4 467.4h.01M228.0 468.2h.01M232.7 469.5h.01M232.0 472.8h.01M229.5 473.3h.01M233.5 474.3h.01M233.7 474.4h.01M230.9 475.8h.01M235.0 483.6h.01M235.5 484.5h.01M236.7 488.2h.01M236.0 490.6h.01M237.0 493.2h.01M231.5 493.6h.01M236.7 496.1h.01M236.2 502.6h.01M236.7 504.1h.01M232.1 502.5h.01M231.7 504.2h.01M230.0 507.2h.01M229.0 513.9h.01M227.8 516.6h.01M230.4 518.0h.01M225.4 517.3h.01M229.2 523.1h.01M226.3 523.6h.01M225.9 526.4h.01M221.7 524.7h.01M222.0 527.5h.01M221.2 529.4h.01M219.4 530.1h.01M219.1 530.7h.01M218.8 532.8h.01M217.5 534.0h.01M219.1 542.3h.01M214.3 544.3h.01M214.0 546.1h.01M216.5 549.9h.01M211.3 553.9h.01M211.9 556.2h.01M212.6 563.5h.01M208.1 565.3h.01M240.9 445.7h.01M239.4 447.2h.01M239.1 446.5h.01M242.6 448.3h.01M241.1 449.1h.01M238.5 449.0h.01M238.7 450.1h.01M240.3 451.4h.01M238.9 452.4h.01M241.2 454.6h.01M241.0 454.5h.01M237.8 454.3h.01M236.9 459.5h.01M238.9 460.1h.01M236.4 461.6h.01M236.2 462.3h.01M236.0 462.3h.01M237.5 462.9h.01M237.8 462.9h.01M240.2 464.5h.01M237.7 463.5h.01M239.2 465.6h.01M236.6 466.1h.01M238.4 471.6h.01M233.4 473.1h.01M236.5 474.7h.01M234.6 475.0h.01M239.7 475.4h.01M235.9 476.7h.01M234.7 484.1h.01M239.2 483.5h.01M238.3 487.4h.01M235.2 488.7h.01M238.6 491.7h.01M237.0 492.8h.01M235.3 495.7h.01M235.0 496.1h.01M240.7 497.1h.01M237.7 499.0h.01M230.7 458.2h.01M227.3 462.7h.01M227.5 464.6h.01M229.6 466.8h.01M227.2 469.1h.01M226.6 471.3h.01M227.5 476.4h.01M229.8 475.5h.01M229.6 478.8h.01M231.4 480.5h.01M216.5 540.4h.01M217.5 541.9h.01M217.5 542.0h.01M217.0 543.1h.01M215.5 544.0h.01M210.8 551.2h.01M210.2 553.8h.01M208.1 556.7h.01M207.7 557.8h.01M207.0 557.8h.01M206.5 559.5h.01M207.3 559.8h.01M203.7 561.8h.01M201.1 565.2h.01M201.1 566.3h.01M201.8 567.8h.01M198.8 569.4h.01M197.1 571.5h.01M220.7 547.5h.01M221.9 550.4h.01M221.4 553.1h.01M218.8 553.5h.01M220.2 564.1h.01M219.6 568.3h.01M223.9 568.3h.01M223.8 574.5h.01M221.4 577.4h.01M223.6 587.2h.01M240.4 507.7h.01M240.7 511.1h.01M234.9 513.0h.01M242.0 520.5h.01M244.8 525.4h.01M245.9 530.5h.01M241.1 537.5h.01M247.1 537.5h.01M246.5 539.0h.01M240.3 540.9h.01M242.3 541.7h.01M241.7 541.4h.01M242.5 547.8h.01M248.1 549.0h.01M244.3 560.2h.01M245.2 563.5h.01M243.0 566.4h.01M234.7 588.4h.01M210.0 525.1h.01M211.0 523.1h.01M234.3 429.5h.01M231.3 438.5h.01M230.5 439.8h.01M228.7 439.5h.01M230.0 442.0h.01M228.8 446.9h.01M225.0 445.5h.01M225.2 447.0h.01M246.4 483.2h.01" stroke="#bfff40" stroke-width="1.80"/>
<path d="M231.4 371.1h.01M234.2 377.2h.01M220.4 380.1h.01M219.5 384.2h.01M219.8 386.2h.01M219.6 387.1h.01M217.9 397.4h.01M218.4 399.7h.01M216.6 401.1h.01M215.5 402.4h.01M217.3 407.1h.01M216.9 407.0h.01M216.7 408.5h.01M216.9 411.9h.01M216.8 411.9h.01M217.0 413.5h.01M217.4 413.4h.01M215.6 413.4h.01M215.6 414.5h.01M217.1 416.0h.01M216.0 417.8h.01M215.8 426.2h.01M214.6 426.1h.01M214.0 426.9h.01M215.2 429.1h.01M215.2 430.0h.01M214.7 432.3h.01M213.2 433.7h.01M215.3 436.8h.01M213.7 437.1h.01M215.0 441.6h.01M215.6 441.9h.01M215.7 443.4h.01M214.1 444.4h.01M213.9 444.9h.01M215.4 444.8h.01M214.0 447.4h.01M213.6 449.3h.01M213.2 452.7h.01M213.4 453.3h.01M212.4 454.0h.01M214.3 453.6h.01M213.6 457.7h.01M213.6 459.8h.01M212.9 461.2h.01M214.5 471.0h.01M216.9 472.2h.01M218.4 474.0h.01M218.2 477.8h.01M225.8 382.8h.01M225.5 383.3h.01M224.1 388.3h.01M226.0 389.6h.01M224.1 394.2h.01M224.9 395.3h.01M224.5 398.1h.01M224.2 401.5h.01M221.4 403.3h.01M221.7 406.0h.01M221.4 407.1h.01M222.8 406.8h.01M222.0 408.1h.01M222.1 409.5h.01M220.9 410.7h.01M221.6 417.0h.01M222.6 417.8h.01M220.9 418.5h.01M220.1 418.6h.01M221.7 420.0h.01M222.4 420.7h.01M221.4 420.3h.01M222.0 421.4h.01M219.1 424.9h.01M219.3 425.5h.01M221.5 433.8h.01M221.1 435.3h.01M223.7 440.3h.01M224.3 443.9h.01M224.7 444.8h.01M224.3 446.7h.01M229.2 395.2h.01M229.3 395.3h.01M229.3 396.0h.01M228.2 404.6h.01M228.3 405.8h.01M228.6 407.3h.01M227.9 409.3h.01M226.2 409.8h.01M227.9 412.3h.01M226.0 414.2h.01M226.2 415.9h.01M226.8 416.4h.01M226.7 418.2h.01M226.1 421.5h.01M224.8 429.0h.01M225.5 432.0h.01M223.7 432.6h.01M226.7 433.0h.01M225.7 433.7h.01M226.9 435.0h.01M226.1 439.4h.01M228.8 441.6h.01M227.8 445.9h.01M227.8 446.0h.01M229.7 447.6h.01M231.6 448.1h.01M230.0 452.4h.01M218.4 446.9h.01M219.6 447.7h.01M218.8 448.2h.01M217.4 449.3h.01M217.8 451.0h.01M218.2 452.4h.01M218.7 453.4h.01M220.5 452.9h.01M219.4 454.2h.01M219.5 455.0h.01M220.5 457.7h.01M219.9 458.7h.01M225.1 461.3h.01M224.2 462.0h.01M222.5 466.9h.01M225.8 466.3h.01M228.7 473.6h.01M225.8 474.9h.01M228.0 474.5h.01M228.7 476.6h.01M225.6 477.5h.01M229.3 478.8h.01M226.1 478.8h.01M228.6 478.9h.01M227.4 484.0h.01M223.4 482.3h.01M221.8 484.8h.01M217.7 486.7h.01M220.1 489.6h.01M219.7 489.9h.01M215.7 492.4h.01M217.5 493.8h.01M215.9 494.9h.01M216.7 499.4h.01M213.0 497.6h.01M214.2 501.0h.01M214.4 502.4h.01M208.9 502.1h.01M211.4 504.0h.01M211.6 506.3h.01M207.3 504.8h.01M210.1 508.0h.01M208.1 505.8h.01M207.9 510.2h.01M205.5 510.3h.01M206.9 512.4h.01M205.7 511.9h.01M205.8 513.0h.01M201.6 518.9h.01M198.9 516.7h.01M200.4 518.9h.01M197.2 517.2h.01M196.4 525.3h.01M191.5 526.3h.01M191.4 530.0h.01M189.6 529.1h.01M181.1 536.9h.01M181.9 540.7h.01M179.2 539.7h.01M242.1 369.5h.01M242.0 371.4h.01M240.5 376.7h.01M238.2 396.3h.01M239.7 399.9h.01M239.5 401.2h.01M241.4 403.4h.01M242.6 406.1h.01M246.0 411.9h.01M247.0 412.1h.01M246.5 413.6h.01M250.4 417.8h.01M251.2 420.6h.01M251.2 423.3h.01M250.3 426.1h.01M250.2 428.9h.01M248.6 430.0h.01M247.6 429.8h.01M244.5 435.2h.01M243.3 438.4h.01M244.6 440.2h.01M244.4 440.1h.01M243.3 440.2h.01M243.7 441.2h.01M240.8 443.4h.01M242.2 444.0h.01M243.0 446.3h.01M241.5 447.3h.01M240.0 447.8h.01M240.6 449.0h.01M240.5 449.8h.01M241.6 451.0h.01M240.2 452.4h.01M240.3 455.1h.01M237.3 456.6h.01M238.5 458.6h.01M236.5 461.9h.01M236.3 464.2h.01M235.8 468.2h.01M232.1 475.0h.01M251.8 379.4h.01M248.4 387.1h.01M249.2 393.0h.01M247.0 403.6h.01M248.5 371.6h.01M247.9 373.8h.01M248.0 378.8h.01M247.1 384.6h.01M237.5 401.9h.01M237.7 403.0h.01M235.2 411.8h.01M233.8 420.0h.01M234.0 421.4h.01M234.2 422.9h.01M233.6 423.7h.01M235.3 425.4h.01M271.1 376.1h.01M271.8 377.3h.01M273.0 380.8h.01M270.1 391.1h.01M268.1 394.1h.01M267.8 394.9h.01M267.2 400.8h.01M266.7 404.1h.01M265.6 409.2h.01M266.2 409.7h.01M266.6 411.0h.01M262.7 417.4h.01M256.8 428.7h.01M255.3 430.4h.01M258.2 431.9h.01M256.6 432.3h.01M253.3 431.3h.01M251.8 441.9h.01M249.8 442.9h.01M248.8 443.5h.01M275.2 374.0h.01M276.0 375.8h.01M275.5 379.0h.01M276.5 383.0h.01M276.5 383.8h.01M276.7 388.5h.01M277.8 397.5h.01M276.1 402.0h.01M273.0 412.6h.01M271.9 415.9h.01M272.2 418.9h.01M272.8 423.9h.01M273.0 424.3h.01M272.7 428.7h.01M271.9 431.1h.01M267.8 432.2h.01M266.6 435.4h.01M263.0 437.8h.01M263.9 438.9h.01M264.6 440.8h.01M263.9 442.1h.01M261.4 442.2h.01M260.5 444.2h.01M258.7 447.3h.01M255.9 449.9h.01M255.3 450.1h.01M256.7 451.6h.01M251.4 454.5h.01M251.9 455.8h.01M249.1 456.4h.01M248.4 457.5h.01M247.8 458.1h.01M247.4 462.5h.01M245.7 461.5h.01M247.9 463.4h.01M245.4 464.2h.01M241.8 470.7h.01M238.3 472.8h.01M240.0 473.3h.01M241.4 475.4h.01M240.4 475.9h.01M239.0 478.3h.01M239.1 480.2h.01M258.6 408.4h.01M257.8 413.3h.01M257.1 414.7h.01M255.3 417.5h.01M254.0 419.5h.01M254.1 423.5h.01M253.1 426.4h.01M280.7 377.3h.01M311.0 392.8h.01M309.8 396.7h.01M309.2 397.3h.01M307.5 398.9h.01M306.7 405.7h.01M304.0 411.0h.01M299.8 417.6h.01M299.4 419.4h.01M298.0 421.9h.01M297.8 423.4h.01M294.7 424.8h.01M295.4 428.2h.01M294.4 430.0h.01M295.3 429.8h.01M295.7 431.8h.01M299.6 438.6h.01M298.5 439.6h.01M299.5 439.6h.01M302.6 444.9h.01M303.0 444.1h.01M307.2 390.8h.01M304.5 392.9h.01M301.8 394.9h.01M301.6 394.9h.01M293.8 404.9h.01M294.9 407.2h.01M288.9 413.7h.01M285.9 418.7h.01M283.7 417.7h.01M283.1 417.1h.01M283.5 419.3h.01M281.5 418.3h.01M282.0 420.3h.01M274.9 425.7h.01M274.8 425.4h.01M273.4 426.6h.01M272.9 427.7h.01M272.1 428.6h.01M266.1 434.7h.01M265.7 435.5h.01M332.6 406.6h.01M330.5 414.6h.01M329.7 416.0h.01M333.0 426.1h.01M334.2 427.9h.01M331.5 430.4h.01M327.5 437.8h.01M328.9 439.1h.01M328.5 439.3h.01M326.9 443.3h.01M326.1 442.7h.01M325.7 443.6h.01M325.8 444.7h.01M320.3 452.9h.01M321.5 455.2h.01M319.8 456.0h.01M319.5 457.9h.01M316.2 459.8h.01M315.2 462.0h.01M315.6 463.6h.01M314.5 464.3h.01M313.2 466.4h.01M312.4 467.3h.01M311.3 468.8h.01M311.8 468.9h.01M308.4 471.7h.01M303.5 476.0h.01M303.8 476.2h.01M300.4 480.1h.01M301.5 482.2h.01M300.2 482.7h.01M300.1 483.4h.01M296.0 488.4h.01M294.9 491.1h.01M293.4 491.1h.01M294.2 492.6h.01M293.3 493.5h.01M290.8 495.9h.01M290.6 498.6h.01M288.6 497.8h.01M289.2 499.2h.01M287.9 500.4h.01M286.7 500.4h.01M285.1 501.5h.01M284.0 502.7h.01M281.0 507.7h.01M284.4 511.1h.01M279.9 510.7h.01M279.2 512.0h.01M278.0 512.7h.01M279.7 513.2h.01M277.7 513.8h.01M279.4 516.6h.01M276.3 515.8h.01M279.0 517.8h.01M276.9 517.4h.01M276.4 520.0h.01M276.9 522.5h.01M273.9 522.7h.01M275.6 524.1h.01M274.8 523.9h.01M273.2 524.3h.01M274.1 525.7h.01M277.1 526.5h.01M275.8 526.8h.01M274.7 528.4h.01M274.5 530.3h.01M273.6 533.3h.01M271.7 532.9h.01M272.3 535.3h.01M269.0 535.3h.01M270.0 535.5h.01M271.1 537.2h.01M270.5 540.7h.01M268.9 540.0h.01M269.3 540.1h.01M267.4 542.1h.01M266.8 542.7h.01M268.9 543.8h.01M265.7 543.9h.01M267.6 545.5h.01M268.3 545.6h.01M269.6 547.6h.01M266.8 549.1h.01M266.5 550.8h.01M265.2 554.0h.01M261.9 553.3h.01M263.3 557.3h.01M261.4 558.9h.01M259.4 559.8h.01M259.5 564.1h.01M260.0 565.9h.01M260.3 567.1h.01M257.2 575.7h.01M254.1 576.0h.01M252.9 577.5h.01M253.6 579.5h.01M252.0 579.8h.01M252.7 583.1h.01M323.4 439.5h.01M296.3 434.7h.01M290.7 436.0h.01M286.6 436.3h.01M284.6 437.0h.01M276.1 440.3h.01M265.6 446.0h.01M258.8 453.9h.01M259.2 455.4h.01M262.9 455.6h.01M263.6 453.3h.01M264.2 453.4h.01M265.0 456.8h.01M267.2 456.3h.01M270.8 455.9h.01M272.7 457.2h.01M279.0 459.3h.01M280.3 462.0h.01M283.0 462.4h.01M283.1 462.9h.01M286.0 468.7h.01M288.8 470.9h.01M286.5 471.8h.01M288.2 470.7h.01M289.8 464.6h.01M289.7 464.3h.01M293.4 465.2h.01M294.7 457.7h.01M297.9 455.3h.01M301.7 454.8h.01M301.1 449.7h.01M299.3 441.9h.01M298.1 437.3h.01M297.0 437.2h.01M305.5 452.5h.01M306.2 453.0h.01M306.6 453.4h.01M305.3 456.9h.01M308.6 458.3h.01M310.0 459.1h.01M312.4 459.3h.01M310.7 467.0h.01M308.1 468.4h.01M307.3 468.8h.01M306.1 469.6h.01M305.1 470.9h.01M305.6 473.0h.01M304.9 472.7h.01M306.1 474.1h.01M304.3 473.9h.01M301.7 476.4h.01M299.1 474.6h.01M300.9 476.9h.01M300.4 477.4h.01M299.5 479.7h.01M297.0 477.1h.01M297.3 479.9h.01M296.8 480.8h.01M293.5 480.5h.01M295.5 483.0h.01M293.4 482.4h.01M291.0 482.7h.01M293.7 485.5h.01M290.4 485.4h.01M291.4 488.6h.01M289.7 490.3h.01M285.8 491.1h.01M286.0 492.1h.01M287.7 494.4h.01M285.6 492.9h.01M283.7 496.8h.01M281.9 501.8h.01M280.5 502.4h.01M284.7 505.3h.01M280.0 504.2h.01M279.3 507.5h.01M282.0 509.2h.01M279.5 510.9h.01M275.0 516.1h.01M276.5 518.3h.01M272.5 521.7h.01M274.3 522.4h.01M272.8 527.2h.01M272.5 528.1h.01M269.7 531.3h.01M271.1 538.5h.01M267.2 540.7h.01M266.7 542.7h.01M265.6 546.4h.01M265.2 546.4h.01M263.7 549.5h.01M263.6 550.2h.01M264.3 556.4h.01M264.7 556.5h.01M259.0 561.1h.01M262.3 564.1h.01M258.3 565.9h.01M261.2 567.4h.01M254.0 576.8h.01M255.9 579.0h.01M254.3 584.4h.01M289.4 475.9h.01M285.6 477.9h.01M283.8 484.9h.01M281.2 487.3h.01M281.1 488.8h.01M279.0 490.3h.01M274.7 493.9h.01M270.0 492.6h.01M270.0 494.6h.01M266.5 496.2h.01M268.5 499.6h.01M265.1 495.6h.01M263.1 496.6h.01M266.3 500.2h.01M267.1 500.9h.01M263.8 500.4h.01M265.4 503.6h.01M263.7 503.0h.01M260.8 502.4h.01M259.7 502.9h.01M260.3 505.1h.01M259.7 506.0h.01M258.6 506.3h.01M255.2 511.0h.01M258.0 512.4h.01M261.5 513.5h.01M258.3 518.9h.01M258.8 520.3h.01M255.6 521.6h.01M256.7 523.0h.01M256.1 524.3h.01M253.6 525.1h.01M253.7 526.4h.01M251.3 527.5h.01M255.4 531.4h.01M254.5 534.6h.01M255.3 535.8h.01M257.9 537.5h.01M251.3 536.2h.01M254.1 538.6h.01M249.6 538.5h.01M254.9 540.5h.01M253.0 541.8h.01M255.5 543.5h.01M253.3 542.7h.01M248.5 541.8h.01M248.6 543.0h.01M251.8 545.0h.01M248.3 547.8h.01M247.4 548.0h.01M245.3 551.5h.01M245.6 554.8h.01M250.5 557.3h.01M246.0 557.0h.01M248.2 559.7h.01M247.6 560.3h.01M245.2 564.5h.01M242.7 565.4h.01M240.7 569.9h.01M243.1 571.2h.01M242.5 576.2h.01M242.2 575.7h.01M238.1 575.7h.01M239.2 580.5h.01M237.8 586.1h.01M277.1 490.8h.01M277.5 492.3h.01M275.1 491.4h.01M273.2 490.2h.01M275.4 494.7h.01M273.0 495.7h.01M274.5 496.8h.01M271.5 495.9h.01M268.6 496.1h.01M268.5 497.5h.01M271.4 500.7h.01M272.1 501.2h.01M270.0 501.4h.01M266.8 502.0h.01M266.2 503.9h.01M265.7 504.0h.01M267.0 505.6h.01M266.8 506.4h.01M268.4 507.7h.01M267.1 508.7h.01M266.2 509.5h.01M266.4 512.4h.01M266.5 513.1h.01M263.9 512.6h.01M266.7 514.4h.01M263.4 514.8h.01M267.2 515.7h.01M262.6 516.5h.01M265.3 520.4h.01M263.0 520.1h.01M262.3 521.6h.01M264.8 524.2h.01M261.8 522.9h.01M264.1 525.6h.01M262.2 526.4h.01M260.1 532.4h.01M260.5 533.7h.01M259.7 534.8h.01M257.5 534.6h.01M260.5 537.2h.01M255.9 537.8h.01M256.3 543.0h.01M253.3 544.4h.01M254.4 546.0h.01M253.3 546.5h.01M251.1 547.4h.01M249.9 548.6h.01M249.5 551.1h.01M253.7 554.3h.01M249.7 555.5h.01M253.0 558.8h.01M251.9 560.5h.01M249.4 559.6h.01M247.7 560.3h.01M246.4 563.3h.01M247.5 569.4h.01M244.2 572.2h.01M242.8 577.5h.01M241.7 577.2h.01M243.4 579.4h.01M283.7 494.9h.01M281.8 495.0h.01M283.5 496.5h.01M280.8 495.7h.01M282.8 498.2h.01M282.3 498.1h.01M280.8 497.8h.01M279.2 497.7h.01M280.3 499.8h.01M280.5 502.0h.01M278.2 502.2h.01M279.6 503.2h.01M273.4 509.6h.01M273.8 511.8h.01M273.9 511.5h.01M274.1 513.2h.01M273.5 515.8h.01M272.1 516.5h.01M272.2 516.4h.01M271.1 519.1h.01M270.4 520.1h.01M270.6 522.3h.01M269.7 525.4h.01M268.0 525.5h.01M266.5 526.0h.01M265.3 527.0h.01M267.4 530.2h.01M264.8 530.4h.01M268.2 532.0h.01M267.2 535.3h.01M265.3 535.7h.01M264.6 535.8h.01M266.1 539.2h.01M262.6 540.0h.01M260.4 544.0h.01M263.2 544.6h.01M260.2 548.3h.01M262.2 549.0h.01M261.2 550.7h.01M256.9 554.9h.01M258.9 555.4h.01M256.0 560.8h.01M257.3 563.6h.01M257.8 565.1h.01M254.9 565.3h.01M255.8 569.2h.01M255.5 568.9h.01M235.1 439.7h.01M235.0 441.8h.01M233.8 441.4h.01M237.3 444.3h.01M230.9 450.5h.01M230.3 456.8h.01M234.8 459.2h.01M234.1 459.8h.01M235.9 461.8h.01M229.6 463.2h.01M232.7 464.0h.01M229.6 467.9h.01M233.2 469.0h.01M229.7 470.0h.01M234.0 471.5h.01M233.5 472.1h.01M230.2 474.5h.01M229.6 474.9h.01M233.7 475.4h.01M234.1 476.6h.01M230.6 477.6h.01M229.3 478.1h.01M234.1 480.4h.01M234.6 482.7h.01M234.8 484.3h.01M231.8 486.1h.01M233.5 489.4h.01M234.8 489.3h.01M232.9 494.1h.01M236.5 496.9h.01M230.3 499.1h.01M233.6 501.4h.01M234.0 502.3h.01M236.7 505.5h.01M232.4 505.6h.01M235.3 508.0h.01M231.7 508.8h.01M229.7 509.0h.01M232.4 510.5h.01M231.4 510.8h.01M230.2 511.3h.01M231.5 512.6h.01M228.6 514.8h.01M227.7 516.3h.01M228.4 520.9h.01M227.0 521.7h.01M219.1 531.1h.01M218.0 533.5h.01M220.7 534.3h.01M219.1 534.3h.01M217.5 537.0h.01M219.5 542.6h.01M219.7 544.6h.01M212.1 553.3h.01M213.5 556.0h.01M211.9 560.9h.01M208.9 567.6h.01M208.5 572.6h.01M242.6 441.6h.01M240.9 444.4h.01M241.7 444.2h.01M240.0 445.9h.01M238.8 448.6h.01M236.5 457.4h.01M239.2 458.8h.01M239.7 459.1h.01M239.8 461.3h.01M239.5 462.2h.01M237.3 467.0h.01M237.0 468.1h.01M237.6 469.0h.01M236.8 469.2h.01M237.7 471.1h.01M236.6 472.0h.01M237.3 475.2h.01M235.7 479.0h.01M234.1 480.8h.01M237.3 481.6h.01M235.9 485.6h.01M235.6 491.0h.01M236.5 496.6h.01M235.6 500.0h.01M230.5 462.0h.01M229.3 462.8h.01M229.7 463.0h.01M229.2 468.3h.01M226.5 475.6h.01M228.7 476.0h.01M230.3 477.5h.01M229.4 477.7h.01M217.8 538.7h.01M215.3 544.8h.01M214.7 546.0h.01M214.1 549.1h.01M209.5 554.8h.01M207.1 556.0h.01M206.8 557.6h.01M203.1 562.9h.01M200.2 569.9h.01M199.9 569.0h.01M218.7 546.7h.01M218.8 553.7h.01M219.7 554.4h.01M222.7 554.3h.01M218.8 558.0h.01M223.0 561.2h.01M221.0 562.3h.01M220.0 569.6h.01M220.6 573.2h.01M220.6 573.5h.01M220.4 579.3h.01M224.0 583.4h.01M219.7 587.3h.01M220.2 589.6h.01M223.5 591.2h.01M223.0 591.9h.01M237.6 498.6h.01M231.6 499.9h.01M232.5 501.0h.01M236.7 501.1h.01M238.7 512.3h.01M242.0 513.7h.01M237.3 524.4h.01M245.2 531.9h.01M240.4 536.0h.01M247.8 543.6h.01M243.9 549.7h.01M248.5 551.5h.01M244.0 554.8h.01M242.8 556.7h.01M240.0 572.0h.01M238.8 575.6h.01M234.5 573.5h.01M233.5 590.6h.01M232.2 591.0h.01M228.7 590.4h.01M228.6 592.3h.01M204.9 522.3h.01M207.1 520.8h.01M208.5 523.9h.01M213.1 526.2h.01M218.5 527.6h.01M234.0 434.9h.01M232.1 435.1h.01M229.0 442.1h.01M228.1 446.7h.01M228.5 448.8h.01M247.6 501.9h.01" stroke="#9fff60" stroke-width="1.80"/>
<path d="M233.6 373.2h.01M236.8 374.1h.01M234.3 380.9h.01M233.3 382.5h.01M233.2 388.4h.01M229.7 388.6h.01M229.4 390.4h.01M232.6 392.3h.01M220.1 380.7h.01M218.3 381.8h.01M220.8 390.8h.01M215.6 391.2h.01M216.8 391.7h.01M220.6 393.0h.01M219.7 393.2h.01M219.4 395.1h.01M216.2 395.1h.01M219.1 395.4h.01M221.7 396.5h.01M220.2 397.6h.01M215.9 398.4h.01M220.4 398.2h.01M216.4 399.1h.01M216.1 400.6h.01M219.3 401.4h.01M219.2 403.0h.01M219.4 404.0h.01M213.3 410.2h.01M214.4 410.8h.01M213.1 414.9h.01M217.6 417.6h.01M218.8 419.4h.01M217.8 422.3h.01M213.0 423.4h.01M213.8 422.7h.01M213.7 426.1h.01M218.1 427.0h.01M212.8 428.5h.01M217.9 430.8h.01M217.4 434.0h.01M216.1 439.9h.01M212.9 443.9h.01M215.2 445.7h.01M211.4 454.3h.01M211.7 457.5h.01M216.8 467.5h.01M228.6 383.6h.01M227.3 384.0h.01M223.4 384.8h.01M225.7 385.5h.01M222.9 388.2h.01M224.3 390.5h.01M223.4 391.5h.01M223.1 392.3h.01M225.3 394.7h.01M221.6 396.9h.01M220.1 401.1h.01M220.2 405.3h.01M222.8 417.3h.01M219.4 418.0h.01M220.0 421.0h.01M223.3 427.2h.01M223.4 428.7h.01M217.7 429.4h.01M219.3 430.0h.01M219.1 433.2h.01M218.4 437.8h.01M220.1 439.2h.01M223.9 438.3h.01M219.2 439.9h.01M227.2 442.1h.01M222.5 445.8h.01M227.2 443.6h.01M232.1 386.7h.01M227.7 385.2h.01M230.8 388.2h.01M230.1 387.5h.01M228.6 387.3h.01M228.0 390.4h.01M229.6 393.6h.01M228.6 394.2h.01M227.5 400.2h.01M225.7 401.4h.01M225.3 402.3h.01M229.8 407.0h.01M223.7 412.7h.01M229.1 414.9h.01M224.8 415.5h.01M224.7 415.1h.01M224.1 418.7h.01M227.9 421.1h.01M224.2 420.7h.01M227.1 423.0h.01M228.0 425.4h.01M222.6 432.6h.01M228.0 432.9h.01M224.1 437.8h.01M226.3 447.4h.01M220.3 463.3h.01M223.8 477.7h.01M224.2 487.5h.01M221.9 490.8h.01M211.8 498.7h.01M215.3 502.8h.01M206.7 505.9h.01M184.0 539.0h.01M242.6 372.1h.01M242.3 378.8h.01M241.3 385.2h.01M237.5 385.3h.01M240.3 386.4h.01M239.3 386.8h.01M239.8 389.5h.01M237.1 390.5h.01M239.9 394.8h.01M240.1 399.7h.01M247.4 411.0h.01M245.8 413.3h.01M251.8 414.8h.01M251.0 416.4h.01M248.4 419.4h.01M250.6 421.7h.01M253.1 427.5h.01M249.3 428.0h.01M247.5 431.1h.01M246.3 437.7h.01M241.9 438.4h.01M239.2 444.1h.01M237.9 448.4h.01M242.9 450.8h.01M237.7 451.3h.01M234.0 458.2h.01M235.4 462.2h.01M231.6 467.2h.01M250.6 379.9h.01M249.3 382.6h.01M247.2 385.3h.01M247.7 387.9h.01M247.8 399.7h.01M246.2 404.1h.01M249.8 373.4h.01M247.6 377.4h.01M248.5 378.7h.01M248.1 382.8h.01M248.2 382.8h.01M249.4 383.4h.01M239.9 401.5h.01M237.2 407.9h.01M235.4 408.5h.01M237.2 410.7h.01M233.4 415.0h.01M235.5 420.4h.01M235.7 424.0h.01M233.3 426.0h.01M236.0 428.2h.01M272.6 377.5h.01M271.9 380.1h.01M270.8 384.7h.01M270.4 386.6h.01M270.6 388.0h.01M271.1 388.7h.01M271.1 390.4h.01M269.6 392.8h.01M266.6 394.2h.01M267.6 397.6h.01M269.3 398.0h.01M268.2 398.8h.01M267.2 399.3h.01M268.7 403.2h.01M268.1 402.4h.01M266.0 406.5h.01M265.1 407.7h.01M264.4 408.4h.01M263.2 408.6h.01M264.2 408.5h.01M266.9 410.6h.01M265.6 416.7h.01M262.2 422.4h.01M260.8 424.6h.01M257.2 424.1h.01M257.1 425.3h.01M255.2 430.1h.01M253.7 433.0h.01M255.5 437.9h.01M250.2 437.0h.01M253.2 441.1h.01M253.3 441.6h.01M246.9 444.3h.01M249.0 450.0h.01M278.2 371.6h.01M277.4 375.6h.01M275.1 378.8h.01M276.8 379.4h.01M274.6 380.8h.01M275.2 382.1h.01M275.9 383.7h.01M278.0 384.8h.01M275.3 387.5h.01M277.6 386.7h.01M277.3 387.8h.01M275.9 388.1h.01M278.1 387.5h.01M276.5 389.0h.01M279.4 389.6h.01M279.0 392.1h.01M278.2 392.7h.01M275.7 393.3h.01M275.7 395.9h.01M278.4 396.9h.01M278.4 397.9h.01M277.2 399.5h.01M276.5 405.2h.01M276.0 407.1h.01M270.1 411.5h.01M271.3 417.3h.01M273.1 419.0h.01M274.4 421.7h.01M272.0 423.5h.01M270.6 424.1h.01M273.5 431.9h.01M266.1 432.6h.01M268.5 436.7h.01M260.9 440.8h.01M263.3 442.9h.01M257.9 444.9h.01M258.2 450.9h.01M255.8 447.9h.01M247.0 459.8h.01M244.5 462.2h.01M240.2 480.0h.01M241.3 479.9h.01M256.3 415.0h.01M257.3 416.9h.01M280.7 383.4h.01M278.4 389.9h.01M277.4 390.9h.01M279.1 392.0h.01M313.2 381.7h.01M313.9 383.4h.01M313.8 384.0h.01M311.9 384.4h.01M313.8 387.1h.01M312.7 387.3h.01M312.0 389.0h.01M310.2 389.3h.01M313.3 392.6h.01M312.2 393.2h.01M310.7 396.2h.01M307.6 396.8h.01M309.9 399.6h.01M306.5 400.7h.01M308.0 402.6h.01M306.6 401.5h.01M305.5 402.7h.01M305.1 403.9h.01M302.9 407.7h.01M300.2 413.3h.01M302.1 414.8h.01M300.2 420.8h.01M297.0 428.4h.01M292.6 434.8h.01M294.7 437.2h.01M298.5 435.6h.01M297.3 441.2h.01M301.7 393.6h.01M300.1 395.1h.01M302.4 398.9h.01M297.5 399.3h.01M298.9 403.4h.01M294.6 403.2h.01M296.3 405.6h.01M292.9 405.4h.01M291.0 406.6h.01M291.1 408.3h.01M289.0 410.9h.01M287.4 413.0h.01M286.1 414.2h.01M276.7 421.5h.01M276.5 422.6h.01M274.6 426.2h.01M273.0 430.5h.01M270.4 430.6h.01M267.2 431.2h.01M289.8 402.5h.01M292.2 407.0h.01M292.1 407.4h.01M290.3 408.5h.01M290.5 409.5h.01M290.9 410.2h.01M317.8 409.2h.01M318.7 404.6h.01M318.9 403.3h.01M321.5 402.3h.01M324.5 399.8h.01M334.5 401.8h.01M333.3 403.7h.01M330.0 407.5h.01M329.1 414.9h.01M329.3 415.8h.01M331.2 416.0h.01M330.9 420.6h.01M333.2 419.7h.01M333.2 420.0h.01M332.1 423.9h.01M333.9 431.8h.01M334.3 432.4h.01M333.7 432.6h.01M329.2 435.5h.01M329.5 437.9h.01M324.7 439.2h.01M324.4 439.7h.01M325.7 441.5h.01M324.3 441.6h.01M322.6 446.3h.01M323.9 449.7h.01M318.0 458.8h.01M316.4 464.9h.01M313.3 469.3h.01M310.8 473.6h.01M305.5 480.5h.01M295.2 485.8h.01M296.6 493.1h.01M288.6 491.8h.01M281.7 505.5h.01M272.7 523.0h.01M275.9 534.2h.01M274.1 534.3h.01M267.9 536.8h.01M269.1 547.6h.01M263.1 558.8h.01M258.4 562.2h.01M262.2 567.1h.01M257.2 566.0h.01M259.8 571.5h.01M252.7 574.3h.01M250.3 584.0h.01M325.2 423.6h.01M328.5 427.0h.01M327.3 428.2h.01M327.2 428.7h.01M319.2 448.9h.01M295.6 433.5h.01M289.8 434.8h.01M286.6 436.1h.01M284.6 438.1h.01M273.3 442.3h.01M272.1 440.4h.01M272.0 442.6h.01M271.9 443.5h.01M270.3 444.0h.01M267.0 442.7h.01M259.9 445.8h.01M266.0 457.8h.01M265.9 458.0h.01M279.5 463.8h.01M282.4 469.0h.01M288.1 469.2h.01M294.8 455.9h.01M303.1 454.9h.01M308.7 463.9h.01M305.2 468.0h.01M296.5 482.2h.01M276.0 511.7h.01M271.1 521.1h.01M286.8 483.5h.01M286.1 483.4h.01M271.9 495.9h.01M269.2 493.0h.01M272.8 499.0h.01M256.3 511.9h.01M251.3 555.0h.01M242.8 558.2h.01M238.8 570.7h.01M235.5 580.3h.01M268.9 496.2h.01M272.1 503.7h.01M263.5 529.8h.01M273.4 505.0h.01M272.3 508.0h.01M268.8 530.4h.01M231.8 442.1h.01M238.0 445.2h.01M231.5 446.3h.01M235.9 453.1h.01M226.4 464.4h.01M235.9 467.8h.01M226.6 467.3h.01M230.2 467.5h.01M225.9 470.5h.01M227.5 471.8h.01M236.9 476.3h.01M230.8 502.3h.01M238.1 505.7h.01M224.0 517.9h.01M220.1 529.4h.01M222.5 537.6h.01M245.4 440.9h.01M237.4 455.4h.01M242.4 458.0h.01M236.1 458.5h.01M234.3 464.4h.01M212.6 549.6h.01M209.1 552.7h.01M208.2 553.8h.01M206.6 556.0h.01M204.6 559.0h.01M203.2 561.4h.01M218.2 526.1h.01M238.8 429.2h.01M234.6 428.3h.01M236.9 433.1h.01M234.9 436.0h.01M246.9 480.3h.01M249.3 496.2h.01M248.0 501.2h.01M276.9 446.0h.01" stroke="#ff8000" stroke-width="1.80"/>
<path d="M234.2 375.2h.01M234.6 377.2h.01M234.0 378.0h.01M232.2 386.0h.01M219.8 384.6h.01M218.2 385.9h.01M219.1 388.6h.01M217.9 388.1h.01M217.5 392.4h.01M218.7 397.6h.01M219.8 399.2h.01M218.4 400.1h.01M215.6 402.0h.01M217.9 403.2h.01M216.4 405.2h.01M219.1 406.5h.01M215.9 406.3h.01M214.2 407.0h.01M217.3 408.0h.01M217.6 408.7h.01M216.3 408.9h.01M217.9 409.6h.01M215.3 414.0h.01M215.1 415.2h.01M216.8 415.1h.01M218.7 417.8h.01M215.1 419.9h.01M217.3 420.6h.01M216.5 424.0h.01M213.5 423.8h.01M217.8 425.6h.01M216.3 427.2h.01M217.1 428.2h.01M214.1 429.8h.01M215.4 433.3h.01M217.8 434.2h.01M212.1 439.4h.01M212.3 439.7h.01M215.5 444.1h.01M215.1 447.0h.01M215.1 450.4h.01M213.3 449.7h.01M214.0 458.5h.01M212.1 458.6h.01M214.5 459.5h.01M215.5 465.2h.01M214.5 470.5h.01M216.9 471.2h.01M218.2 474.8h.01M216.0 477.1h.01M228.2 380.3h.01M224.5 384.0h.01M224.6 384.2h.01M223.8 388.7h.01M224.6 389.3h.01M223.2 392.1h.01M223.6 393.1h.01M222.0 393.8h.01M227.1 394.4h.01M220.9 394.6h.01M223.2 394.9h.01M221.0 395.3h.01M225.0 396.3h.01M222.5 396.7h.01M224.4 399.6h.01M223.7 399.2h.01M222.9 399.7h.01M224.8 400.8h.01M222.7 401.3h.01M219.9 402.7h.01M220.1 405.4h.01M223.2 406.6h.01M223.4 408.2h.01M223.0 408.3h.01M222.9 409.3h.01M220.8 410.2h.01M223.4 410.5h.01M221.5 411.7h.01M225.5 412.5h.01M223.4 416.3h.01M219.6 421.1h.01M218.5 421.6h.01M219.2 423.6h.01M222.1 427.4h.01M221.8 427.8h.01M222.5 435.5h.01M219.8 439.3h.01M225.6 439.2h.01M229.1 386.3h.01M228.9 388.9h.01M227.8 388.9h.01M230.5 391.2h.01M228.1 397.7h.01M229.4 398.5h.01M228.1 401.4h.01M226.8 401.6h.01M226.8 403.7h.01M226.0 403.7h.01M228.1 405.0h.01M225.8 405.5h.01M225.7 406.4h.01M226.3 408.5h.01M226.8 409.7h.01M224.7 416.5h.01M227.2 417.0h.01M227.0 417.0h.01M224.3 420.4h.01M226.4 423.0h.01M227.7 423.4h.01M227.2 426.1h.01M224.1 426.0h.01M224.3 430.3h.01M223.2 431.0h.01M226.4 431.4h.01M225.8 439.4h.01M224.7 440.6h.01M228.7 443.9h.01M226.6 446.2h.01M231.4 446.7h.01M227.7 448.3h.01M232.1 447.3h.01M231.3 448.0h.01M229.3 451.4h.01M215.5 449.2h.01M218.6 456.1h.01M224.6 458.2h.01M227.0 466.3h.01M224.3 473.5h.01M223.6 479.1h.01M223.4 480.9h.01M223.9 488.5h.01M214.6 494.6h.01M213.0 498.9h.01M211.5 497.6h.01M188.9 527.2h.01M188.4 535.3h.01M240.6 367.7h.01M241.9 369.3h.01M242.9 369.5h.01M243.3 370.5h.01M241.5 377.3h.01M242.1 378.0h.01M240.3 379.9h.01M242.2 380.9h.01M239.7 381.5h.01M239.2 382.4h.01M239.1 386.4h.01M238.2 388.1h.01M239.2 389.9h.01M238.6 390.0h.01M238.9 393.0h.01M238.2 393.5h.01M237.3 396.3h.01M239.8 399.3h.01M242.3 402.5h.01M242.7 403.8h.01M244.9 404.8h.01M243.6 408.5h.01M242.9 409.9h.01M247.0 409.7h.01M247.5 415.7h.01M248.3 416.6h.01M249.7 420.0h.01M251.9 419.3h.01M250.7 424.4h.01M249.9 425.4h.01M253.0 427.6h.01M248.7 427.4h.01M250.3 430.6h.01M249.1 432.7h.01M248.8 432.5h.01M244.2 435.5h.01M242.8 444.6h.01M243.2 446.4h.01M237.4 453.5h.01M236.4 454.8h.01M235.1 458.1h.01M234.5 469.5h.01M236.0 473.0h.01M235.1 473.9h.01M235.1 475.4h.01M254.0 374.4h.01M253.4 378.7h.01M250.2 384.3h.01M248.9 389.0h.01M250.2 393.4h.01M249.6 394.6h.01M247.3 405.7h.01M248.5 372.0h.01M249.1 372.6h.01M248.6 379.6h.01M248.1 380.9h.01M238.5 402.1h.01M236.5 402.4h.01M236.3 407.3h.01M237.0 410.4h.01M236.4 410.8h.01M234.3 411.2h.01M236.2 411.8h.01M233.2 414.1h.01M232.9 418.0h.01M234.2 422.5h.01M235.0 425.6h.01M268.1 374.1h.01M269.8 373.3h.01M271.0 376.4h.01M273.7 377.7h.01M272.8 378.5h.01M272.5 379.8h.01M271.2 380.0h.01M273.1 381.8h.01M271.5 385.7h.01M272.0 387.3h.01M268.5 392.3h.01M266.4 395.4h.01M268.3 397.3h.01M265.2 400.5h.01M267.3 407.0h.01M266.3 407.3h.01M262.9 413.6h.01M263.4 414.4h.01M261.3 417.4h.01M256.4 429.3h.01M257.3 432.4h.01M256.7 432.4h.01M256.0 434.4h.01M255.6 437.2h.01M253.5 435.3h.01M252.2 435.2h.01M254.0 436.4h.01M251.7 437.0h.01M253.2 440.7h.01M253.7 440.8h.01M253.0 442.2h.01M248.7 448.3h.01M248.9 450.4h.01M277.0 374.0h.01M274.8 380.7h.01M276.7 384.0h.01M275.9 386.4h.01M276.1 394.2h.01M276.7 399.5h.01M276.8 404.8h.01M275.4 406.6h.01M271.5 407.7h.01M271.5 408.2h.01M270.2 408.4h.01M273.1 411.1h.01M272.1 411.4h.01M273.2 413.7h.01M271.3 415.0h.01M271.3 414.6h.01M272.9 417.5h.01M271.2 417.3h.01M273.0 418.6h.01M270.5 419.9h.01M273.0 419.9h.01M271.7 421.0h.01M275.9 427.2h.01M273.5 428.5h.01M271.3 428.7h.01M267.7 434.8h.01M264.3 440.2h.01M261.9 443.5h.01M263.3 444.4h.01M261.9 445.3h.01M258.7 444.4h.01M262.4 446.2h.01M255.9 452.3h.01M247.2 457.9h.01M245.5 466.5h.01M242.4 468.3h.01M241.0 468.5h.01M244.7 474.5h.01M241.0 473.7h.01M242.0 476.6h.01M238.9 476.2h.01M238.8 480.6h.01M258.7 407.1h.01M258.4 410.0h.01M255.3 415.6h.01M255.1 418.3h.01M252.6 424.5h.01M251.6 426.5h.01M253.1 427.1h.01M279.8 381.4h.01M280.3 382.1h.01M280.3 384.2h.01M279.3 385.8h.01M278.7 386.1h.01M279.6 388.9h.01M279.1 389.3h.01M312.2 381.5h.01M310.7 381.0h.01M312.8 383.6h.01M311.4 386.1h.01M310.6 387.9h.01M312.0 387.9h.01M311.2 392.1h.01M310.8 392.2h.01M312.1 394.7h.01M309.2 394.5h.01M308.6 394.6h.01M308.9 394.6h.01M307.9 399.2h.01M308.7 402.1h.01M305.1 405.7h.01M306.5 407.6h.01M305.0 408.2h.01M305.1 411.1h.01M303.6 411.7h.01M303.9 412.6h.01M303.0 412.8h.01M302.2 414.6h.01M302.4 417.2h.01M298.5 416.2h.01M297.0 416.7h.01M297.1 418.7h.01M297.3 423.2h.01M297.4 426.4h.01M294.2 425.8h.01M294.3 428.7h.01M293.4 429.5h.01M296.3 431.0h.01M292.7 433.7h.01M297.0 434.7h.01M296.1 436.1h.01M298.0 437.2h.01M295.7 438.0h.01M298.7 439.9h.01M301.3 441.7h.01M301.7 441.5h.01M301.2 443.4h.01M302.0 446.5h.01M307.2 389.8h.01M305.8 391.3h.01M304.8 395.6h.01M301.9 394.8h.01M298.8 398.7h.01M300.2 399.4h.01M297.6 398.8h.01M298.4 399.3h.01M296.3 400.6h.01M297.6 402.2h.01M297.0 403.4h.01M297.1 403.4h.01M295.0 405.2h.01M294.8 406.0h.01M293.3 408.2h.01M289.6 412.9h.01M288.1 414.8h.01M287.2 413.3h.01M286.4 415.9h.01M284.0 416.1h.01M284.0 421.0h.01M282.4 419.1h.01M282.7 420.4h.01M280.8 421.7h.01M279.1 423.2h.01M277.5 425.1h.01M275.2 423.2h.01M273.0 425.2h.01M275.0 427.2h.01M271.3 432.3h.01M267.6 434.3h.01M265.7 434.8h.01M267.5 437.0h.01M289.2 402.0h.01M289.8 401.7h.01M291.4 405.7h.01M289.5 411.0h.01M319.9 404.3h.01M319.4 403.1h.01M321.0 400.8h.01M326.2 401.5h.01M327.0 400.7h.01M331.0 402.2h.01M331.8 401.3h.01M332.2 401.9h.01M333.1 406.3h.01M331.8 412.7h.01M330.6 412.7h.01M330.5 414.1h.01M329.5 414.9h.01M330.9 420.4h.01M332.8 425.5h.01M332.2 426.2h.01M334.4 426.4h.01M332.4 428.6h.01M332.1 429.5h.01M332.7 430.8h.01M329.3 433.1h.01M330.1 433.5h.01M329.4 439.7h.01M328.2 442.4h.01M325.9 444.9h.01M325.8 446.3h.01M326.9 447.2h.01M322.0 445.8h.01M322.5 448.0h.01M324.5 451.1h.01M320.5 450.2h.01M322.7 452.6h.01M320.0 452.3h.01M320.0 453.3h.01M319.2 453.8h.01M320.2 454.3h.01M317.8 455.3h.01M316.8 456.2h.01M317.1 456.7h.01M312.2 463.9h.01M312.0 465.0h.01M312.5 466.1h.01M311.9 465.4h.01M310.7 465.0h.01M311.3 467.0h.01M313.4 471.3h.01M309.0 470.2h.01M306.3 470.7h.01M308.2 474.8h.01M307.7 475.4h.01M301.2 477.6h.01M303.5 482.7h.01M300.9 486.2h.01M297.1 484.3h.01M296.8 485.0h.01M295.9 485.7h.01M294.4 490.0h.01M292.9 489.1h.01M295.3 494.4h.01M289.0 493.6h.01M286.7 495.0h.01M292.5 498.9h.01M287.6 505.6h.01M283.0 505.5h.01M279.9 508.0h.01M280.5 511.1h.01M279.8 516.8h.01M275.6 516.0h.01M274.4 517.3h.01M275.7 517.8h.01M279.0 518.9h.01M278.1 520.0h.01M279.0 521.9h.01M277.2 525.2h.01M274.5 530.6h.01M271.1 530.8h.01M268.6 536.0h.01M268.8 542.9h.01M265.8 544.1h.01M263.5 548.7h.01M262.1 547.8h.01M263.5 552.4h.01M265.8 553.7h.01M261.6 553.1h.01M261.8 556.4h.01M263.0 563.4h.01M262.2 564.9h.01M257.6 564.2h.01M251.5 580.9h.01M252.7 585.2h.01M252.0 586.1h.01M248.2 586.6h.01M249.0 587.6h.01M323.3 421.5h.01M322.9 421.0h.01M324.1 423.3h.01M327.0 423.6h.01M326.0 433.7h.01M320.1 445.7h.01M320.5 446.1h.01M319.2 446.9h.01M294.8 434.4h.01M293.9 435.5h.01M292.7 434.9h.01M292.3 436.3h.01M288.9 436.7h.01M288.2 435.0h.01M287.3 437.9h.01M284.8 436.8h.01M285.3 436.5h.01M280.5 438.0h.01M280.2 438.6h.01M277.4 439.3h.01M278.2 440.9h.01M274.1 440.6h.01M269.7 441.8h.01M268.4 443.8h.01M265.8 442.8h.01M266.3 444.7h.01M262.5 447.2h.01M260.5 447.7h.01M257.5 447.7h.01M260.2 450.5h.01M261.3 452.9h.01M268.6 454.9h.01M271.4 458.6h.01M282.2 461.2h.01M286.7 468.6h.01M291.0 471.7h.01M299.8 458.2h.01M302.2 450.7h.01M305.2 448.5h.01M296.9 441.8h.01M301.7 452.8h.01M305.1 452.0h.01M307.8 453.2h.01M309.8 455.3h.01M307.0 458.5h.01M308.6 460.5h.01M307.9 468.9h.01M302.1 472.2h.01M296.9 481.2h.01M291.4 483.1h.01M293.1 487.7h.01M290.2 485.9h.01M289.1 486.3h.01M290.3 489.6h.01M290.6 491.4h.01M285.0 490.8h.01M284.6 495.0h.01M288.0 497.8h.01M281.0 499.2h.01M278.1 504.9h.01M283.2 508.6h.01M276.0 508.5h.01M278.4 516.1h.01M273.8 515.8h.01M276.7 519.5h.01M272.2 523.0h.01M273.9 531.3h.01M269.5 529.7h.01M264.8 542.4h.01M269.8 544.4h.01M267.9 547.3h.01M263.9 547.4h.01M267.6 553.1h.01M262.3 553.5h.01M258.3 560.3h.01M257.7 574.0h.01M258.4 575.0h.01M253.2 576.9h.01M256.0 579.3h.01M251.2 579.1h.01M255.1 583.4h.01M285.3 474.5h.01M286.4 482.3h.01M281.1 481.3h.01M284.1 485.9h.01M279.8 486.4h.01M277.4 486.4h.01M275.1 487.7h.01M275.4 487.4h.01M272.5 488.5h.01M267.2 491.4h.01M269.3 500.1h.01M258.6 503.3h.01M264.7 510.8h.01M264.2 511.7h.01M257.9 509.1h.01M262.0 513.8h.01M261.5 514.8h.01M259.3 522.2h.01M258.3 533.0h.01M249.3 536.5h.01M247.0 542.1h.01M252.5 544.9h.01M254.5 547.1h.01M245.3 553.3h.01M243.9 573.3h.01M238.9 574.6h.01M242.0 576.4h.01M238.3 585.5h.01M270.2 497.1h.01M269.4 498.0h.01M269.2 504.4h.01M264.5 508.3h.01M261.6 513.9h.01M257.5 528.7h.01M258.6 529.4h.01M260.7 533.4h.01M253.3 542.0h.01M257.4 549.2h.01M250.0 547.9h.01M253.1 558.5h.01M247.0 557.7h.01M245.6 565.2h.01M249.0 571.6h.01M242.6 573.4h.01M279.4 497.4h.01M278.0 497.8h.01M279.6 503.9h.01M271.2 523.3h.01M269.0 523.9h.01M269.3 528.0h.01M270.2 529.1h.01M260.4 541.7h.01M261.0 550.9h.01M258.2 559.0h.01M253.0 563.8h.01M237.4 441.5h.01M236.8 445.5h.01M231.2 450.6h.01M238.1 452.2h.01M235.8 453.3h.01M230.9 452.6h.01M229.4 454.2h.01M229.6 457.1h.01M230.3 460.1h.01M233.7 465.7h.01M229.6 470.3h.01M234.7 473.2h.01M227.3 473.9h.01M233.5 473.7h.01M226.5 476.0h.01M236.8 476.0h.01M237.9 478.2h.01M228.2 481.3h.01M236.7 482.4h.01M230.0 483.3h.01M238.3 493.9h.01M237.1 495.9h.01M235.4 497.2h.01M230.8 500.8h.01M229.3 508.7h.01M233.8 513.7h.01M225.3 516.0h.01M223.9 531.4h.01M220.4 531.0h.01M217.9 534.3h.01M220.8 540.0h.01M241.1 440.7h.01M244.3 444.1h.01M239.4 447.6h.01M242.0 450.0h.01M241.5 453.3h.01M239.7 453.7h.01M237.0 454.7h.01M236.1 456.0h.01M235.0 457.8h.01M235.1 462.4h.01M234.2 465.6h.01M236.3 466.4h.01M239.5 467.3h.01M234.5 468.0h.01M238.3 473.8h.01M235.7 474.5h.01M237.2 476.9h.01M236.9 476.9h.01M235.1 480.0h.01M234.8 481.0h.01M235.7 483.2h.01M239.7 484.3h.01M234.0 486.7h.01M240.8 488.3h.01M239.5 489.2h.01M240.9 496.4h.01M230.5 459.3h.01M225.8 460.4h.01M228.4 460.8h.01M226.3 461.6h.01M226.0 461.8h.01M230.8 468.4h.01M226.6 468.5h.01M229.9 470.6h.01M231.5 474.7h.01M230.6 474.5h.01M232.4 476.1h.01M216.9 538.2h.01M216.8 539.1h.01M217.6 543.3h.01M212.0 547.3h.01M211.7 548.0h.01M212.9 551.9h.01M208.4 557.6h.01M206.7 556.5h.01M203.7 563.9h.01M198.1 571.6h.01M198.2 572.6h.01M223.4 569.9h.01M246.5 529.1h.01M248.3 555.3h.01M244.6 561.2h.01M203.6 521.3h.01M234.3 429.5h.01M230.7 436.4h.01M246.2 487.7h.01M250.0 497.5h.01M244.9 504.8h.01" stroke="#ffdf00" stroke-width="1.80"/>
<path d="M231.8 383.9h.01M230.3 394.7h.01M220.7 380.1h.01M219.8 380.9h.01M220.9 383.4h.01M219.5 384.2h.01M219.6 385.4h.01M217.5 407.2h.01M215.1 411.8h.01M216.1 413.1h.01M216.4 415.0h.01M215.2 416.1h.01M216.0 420.3h.01M214.5 422.4h.01M215.9 428.4h.01M214.8 429.6h.01M214.8 431.0h.01M213.7 432.6h.01M215.0 435.4h.01M215.9 437.1h.01M215.0 437.2h.01M215.5 437.7h.01M214.5 443.4h.01M212.9 445.5h.01M214.0 452.3h.01M213.7 454.8h.01M213.6 455.7h.01M212.7 456.4h.01M213.7 462.1h.01M214.2 464.3h.01M215.0 466.3h.01M214.6 469.7h.01M215.6 470.8h.01M217.4 472.3h.01M216.9 473.4h.01M225.8 380.6h.01M225.4 387.4h.01M224.3 389.9h.01M224.2 401.0h.01M223.6 402.3h.01M221.4 409.0h.01M222.5 414.0h.01M221.9 414.9h.01M221.2 416.2h.01M223.1 416.8h.01M223.0 417.2h.01M221.7 419.3h.01M222.8 419.5h.01M222.1 425.3h.01M222.0 424.7h.01M220.6 425.5h.01M221.4 427.0h.01M219.7 427.7h.01M218.0 429.3h.01M220.9 430.4h.01M221.3 431.1h.01M220.2 432.0h.01M218.8 433.9h.01M221.2 433.7h.01M222.0 437.8h.01M222.6 440.4h.01M223.7 441.5h.01M224.8 442.1h.01M223.5 444.0h.01M225.9 443.8h.01M225.7 446.5h.01M226.1 446.7h.01M226.0 447.9h.01M229.4 392.4h.01M228.3 393.8h.01M230.4 394.5h.01M228.3 395.9h.01M227.7 403.3h.01M228.2 411.5h.01M224.7 416.6h.01M226.3 421.9h.01M226.2 423.0h.01M225.7 423.2h.01M224.6 424.8h.01M225.5 424.6h.01M225.7 430.6h.01M225.9 434.6h.01M225.9 436.0h.01M227.0 436.4h.01M226.4 437.4h.01M227.4 437.5h.01M226.6 438.5h.01M226.0 440.9h.01M227.2 441.7h.01M229.6 446.7h.01M230.1 446.3h.01M229.3 448.1h.01M229.7 449.0h.01M229.4 449.9h.01M230.7 450.4h.01M219.5 451.5h.01M221.0 453.8h.01M222.5 453.7h.01M222.5 458.8h.01M222.3 460.0h.01M226.7 467.2h.01M227.1 469.6h.01M226.4 472.1h.01M226.4 471.8h.01M228.3 472.6h.01M224.7 473.5h.01M224.3 475.5h.01M229.4 475.5h.01M229.0 477.5h.01M228.0 477.4h.01M224.7 482.7h.01M224.9 486.8h.01M223.3 486.3h.01M221.2 486.5h.01M217.4 491.5h.01M219.2 494.0h.01M218.3 494.6h.01M216.3 495.9h.01M215.6 497.0h.01M215.2 499.1h.01M211.3 501.2h.01M212.3 503.9h.01M208.4 504.9h.01M210.0 508.8h.01M206.0 507.0h.01M209.1 510.1h.01M207.5 510.6h.01M206.8 511.4h.01M205.3 512.0h.01M203.1 514.9h.01M204.2 515.5h.01M204.4 517.0h.01M202.9 517.1h.01M198.8 518.9h.01M198.3 518.9h.01M197.9 519.2h.01M198.8 520.3h.01M199.0 521.1h.01M195.0 525.1h.01M189.4 529.1h.01M188.7 529.7h.01M190.2 530.7h.01M186.7 529.9h.01M186.3 534.7h.01M180.8 537.7h.01M182.6 539.4h.01M182.5 540.7h.01M180.7 541.7h.01M179.6 540.5h.01M179.0 541.5h.01M178.4 542.8h.01M241.1 367.7h.01M240.9 378.2h.01M238.1 391.9h.01M238.3 397.8h.01M239.3 398.7h.01M244.1 408.0h.01M249.1 415.6h.01M249.9 417.3h.01M251.1 423.3h.01M249.2 428.8h.01M248.2 432.8h.01M247.3 435.1h.01M246.4 435.3h.01M244.2 436.3h.01M243.7 442.4h.01M242.1 442.1h.01M242.5 447.1h.01M240.5 447.3h.01M241.1 450.4h.01M236.6 461.2h.01M234.7 466.1h.01M235.5 466.9h.01M235.5 470.7h.01M233.3 473.4h.01M231.3 473.1h.01M230.8 474.7h.01M249.6 385.0h.01M249.3 387.4h.01M249.3 391.4h.01M250.6 397.9h.01M249.7 398.5h.01M247.6 403.7h.01M247.8 405.3h.01M247.8 382.9h.01M235.1 411.0h.01M235.3 413.7h.01M234.1 417.6h.01M234.1 423.7h.01M233.8 426.8h.01M234.5 428.0h.01M272.9 382.6h.01M269.2 392.1h.01M265.3 411.2h.01M265.2 412.4h.01M261.9 421.0h.01M261.5 421.5h.01M261.7 422.7h.01M260.3 423.6h.01M257.5 430.8h.01M249.5 446.3h.01M275.5 381.3h.01M276.1 385.7h.01M277.4 395.5h.01M275.8 402.3h.01M273.9 407.7h.01M272.5 409.5h.01M274.1 422.9h.01M274.0 425.7h.01M273.2 427.7h.01M269.6 432.4h.01M269.5 431.5h.01M267.6 433.4h.01M267.3 436.3h.01M263.6 436.7h.01M263.4 437.7h.01M264.1 439.6h.01M263.0 440.9h.01M261.8 441.4h.01M260.8 442.7h.01M261.6 444.0h.01M260.5 444.4h.01M261.1 446.0h.01M260.2 447.3h.01M257.5 448.1h.01M258.2 449.5h.01M256.2 450.2h.01M254.3 450.0h.01M250.8 456.5h.01M248.4 459.2h.01M245.2 465.7h.01M244.8 466.4h.01M243.6 471.8h.01M241.6 471.8h.01M243.3 471.7h.01M238.4 475.4h.01M238.8 479.6h.01M237.2 480.5h.01M236.4 479.7h.01M255.9 418.9h.01M254.0 422.1h.01M251.9 428.1h.01M252.1 428.5h.01M280.7 378.5h.01M279.4 387.2h.01M278.1 388.2h.01M311.9 387.6h.01M304.7 407.1h.01M303.5 409.2h.01M304.1 411.6h.01M297.5 424.4h.01M295.9 426.8h.01M295.1 427.1h.01M294.0 427.5h.01M300.1 441.1h.01M299.5 440.8h.01M301.2 443.4h.01M303.4 446.4h.01M305.7 391.7h.01M290.6 410.4h.01M285.5 415.3h.01M279.0 421.3h.01M278.5 422.9h.01M274.0 425.5h.01M273.4 430.1h.01M267.8 433.1h.01M268.7 434.0h.01M266.9 436.3h.01M324.6 401.4h.01M330.4 416.8h.01M332.3 421.3h.01M333.0 422.4h.01M333.0 422.8h.01M333.2 425.6h.01M332.8 425.3h.01M329.9 436.9h.01M323.9 446.0h.01M322.0 450.2h.01M322.8 451.6h.01M316.1 460.5h.01M315.0 461.9h.01M316.1 461.9h.01M315.4 464.0h.01M312.1 469.9h.01M307.8 472.3h.01M307.2 473.7h.01M308.6 475.0h.01M307.0 474.5h.01M306.6 475.4h.01M304.5 477.8h.01M303.7 479.1h.01M302.5 479.1h.01M299.3 482.3h.01M299.4 483.1h.01M297.9 485.8h.01M295.7 486.7h.01M297.3 488.9h.01M294.5 487.9h.01M293.7 490.2h.01M293.4 490.8h.01M295.9 493.0h.01M291.8 492.8h.01M291.8 493.2h.01M293.0 494.5h.01M292.3 494.7h.01M292.4 496.6h.01M287.8 497.5h.01M287.8 498.4h.01M287.8 497.9h.01M286.4 498.1h.01M288.2 499.2h.01M285.5 501.5h.01M284.7 501.1h.01M286.1 503.0h.01M286.8 503.3h.01M284.8 503.9h.01M284.0 504.2h.01M285.5 505.3h.01M284.2 505.1h.01M285.0 505.9h.01M284.0 505.1h.01M283.3 507.5h.01M281.7 511.8h.01M279.3 511.5h.01M277.1 510.6h.01M278.7 513.9h.01M279.0 515.5h.01M277.2 523.8h.01M274.4 524.7h.01M275.1 526.1h.01M273.4 528.9h.01M271.7 530.2h.01M272.3 536.1h.01M271.9 536.8h.01M271.0 539.4h.01M267.1 536.9h.01M269.5 539.3h.01M268.0 540.4h.01M268.3 541.5h.01M268.4 544.8h.01M266.6 544.0h.01M266.6 546.1h.01M268.1 547.9h.01M265.3 546.9h.01M263.7 550.0h.01M261.8 550.3h.01M264.5 551.4h.01M262.9 552.2h.01M261.8 555.6h.01M264.2 556.5h.01M259.6 566.6h.01M258.2 569.4h.01M257.6 570.2h.01M256.9 571.4h.01M257.9 573.1h.01M255.2 576.2h.01M257.6 577.1h.01M254.3 580.8h.01M252.2 581.4h.01M251.1 583.3h.01M250.9 585.2h.01M251.9 586.4h.01M297.0 434.6h.01M295.3 435.2h.01M284.3 438.1h.01M276.7 440.1h.01M269.9 442.4h.01M268.7 442.6h.01M258.5 451.8h.01M259.7 453.4h.01M260.3 452.1h.01M266.1 454.6h.01M266.8 457.4h.01M268.8 459.0h.01M270.0 458.9h.01M275.7 461.9h.01M278.9 461.8h.01M280.7 463.7h.01M281.0 464.4h.01M283.2 464.9h.01M283.0 468.1h.01M282.7 468.1h.01M289.4 470.3h.01M290.9 472.4h.01M290.9 471.9h.01M290.1 465.8h.01M292.4 466.2h.01M293.5 465.4h.01M294.4 465.0h.01M294.6 462.4h.01M296.3 459.5h.01M297.1 456.8h.01M301.9 448.3h.01M302.9 443.0h.01M300.7 443.7h.01M301.0 442.9h.01M302.4 441.2h.01M297.1 439.8h.01M297.3 438.3h.01M294.8 439.9h.01M306.2 454.5h.01M307.9 455.8h.01M310.4 457.9h.01M311.4 459.9h.01M310.4 462.3h.01M311.7 464.0h.01M310.8 465.8h.01M306.9 469.1h.01M307.2 471.6h.01M303.1 475.4h.01M303.5 475.9h.01M297.4 480.1h.01M295.6 481.7h.01M290.9 484.1h.01M292.9 485.3h.01M293.1 486.5h.01M290.1 486.8h.01M291.5 487.1h.01M288.3 487.9h.01M289.7 489.3h.01M290.4 490.4h.01M288.9 494.1h.01M287.0 496.4h.01M284.0 501.0h.01M283.5 504.3h.01M278.7 506.1h.01M280.0 507.3h.01M279.7 509.3h.01M278.9 508.7h.01M277.7 516.2h.01M275.7 520.7h.01M274.4 524.0h.01M272.9 524.0h.01M271.8 524.6h.01M272.0 524.9h.01M273.4 528.5h.01M271.0 528.7h.01M270.5 530.5h.01M270.7 534.9h.01M272.3 536.3h.01M268.8 536.3h.01M271.1 537.5h.01M269.7 538.8h.01M269.8 540.4h.01M267.5 540.4h.01M266.6 542.7h.01M265.0 547.5h.01M265.1 549.1h.01M266.4 552.3h.01M266.3 552.4h.01M265.1 553.1h.01M266.8 554.4h.01M263.3 554.3h.01M262.6 553.4h.01M263.2 560.2h.01M257.7 569.7h.01M259.4 572.7h.01M255.9 580.3h.01M252.4 578.5h.01M255.1 580.7h.01M255.8 582.5h.01M251.8 582.4h.01M250.6 583.9h.01M250.8 584.3h.01M288.4 474.3h.01M286.3 474.2h.01M288.6 479.3h.01M287.3 479.4h.01M285.7 479.5h.01M285.3 483.1h.01M285.5 485.4h.01M280.1 483.4h.01M282.6 487.6h.01M278.5 486.9h.01M280.5 489.8h.01M279.5 489.1h.01M278.1 489.1h.01M278.8 490.9h.01M278.8 492.1h.01M276.4 488.4h.01M275.2 489.4h.01M276.3 495.1h.01M273.8 491.2h.01M275.2 494.0h.01M272.2 490.7h.01M275.0 494.5h.01M274.1 493.9h.01M274.2 494.4h.01M272.8 492.4h.01M269.1 492.2h.01M269.0 494.1h.01M269.7 496.8h.01M266.9 493.0h.01M269.5 498.4h.01M265.4 497.3h.01M262.2 500.0h.01M260.6 503.0h.01M263.2 505.1h.01M261.5 506.0h.01M265.3 508.5h.01M260.6 511.5h.01M259.9 517.3h.01M260.1 517.4h.01M259.5 518.1h.01M255.6 518.3h.01M255.2 520.0h.01M258.4 523.3h.01M254.3 523.0h.01M255.3 524.4h.01M256.5 524.4h.01M257.7 524.5h.01M254.4 526.7h.01M258.5 528.8h.01M257.8 530.4h.01M255.0 531.2h.01M250.0 529.4h.01M250.3 529.1h.01M255.9 532.1h.01M251.4 534.1h.01M251.7 536.5h.01M256.2 537.5h.01M251.2 539.9h.01M251.2 540.5h.01M250.9 544.1h.01M248.2 544.0h.01M250.6 546.2h.01M246.2 545.9h.01M248.9 548.2h.01M247.5 548.4h.01M251.3 550.1h.01M249.7 552.1h.01M249.7 554.4h.01M251.2 554.9h.01M245.7 560.4h.01M243.9 560.3h.01M243.9 561.1h.01M244.2 565.0h.01M242.0 568.0h.01M241.9 569.2h.01M240.1 576.9h.01M237.8 577.0h.01M239.8 579.8h.01M234.9 583.1h.01M238.7 584.6h.01M235.2 588.2h.01M234.3 588.3h.01M275.1 489.1h.01M275.6 490.3h.01M275.9 492.8h.01M275.3 492.7h.01M276.0 494.7h.01M272.8 493.4h.01M271.3 494.7h.01M269.5 496.8h.01M272.2 500.2h.01M270.4 501.5h.01M270.2 502.5h.01M268.9 503.1h.01M266.1 503.9h.01M267.5 506.1h.01M265.3 512.9h.01M263.8 513.7h.01M263.9 515.1h.01M263.1 520.9h.01M260.2 520.9h.01M264.0 522.3h.01M262.4 521.3h.01M262.5 522.8h.01M263.2 523.6h.01M260.5 524.2h.01M262.4 526.6h.01M261.4 526.2h.01M259.4 527.4h.01M256.3 527.9h.01M259.4 531.0h.01M258.6 533.0h.01M259.0 533.9h.01M255.1 533.3h.01M257.1 535.1h.01M257.9 536.7h.01M257.1 541.3h.01M254.9 545.9h.01M253.5 546.5h.01M251.9 547.6h.01M251.4 550.6h.01M250.6 552.8h.01M252.6 555.9h.01M250.5 556.5h.01M249.4 558.4h.01M252.1 559.3h.01M251.4 561.6h.01M249.3 560.8h.01M248.5 561.2h.01M250.5 564.0h.01M247.2 563.6h.01M245.9 564.7h.01M249.0 571.9h.01M248.0 572.6h.01M246.8 573.4h.01M242.5 575.2h.01M242.7 578.5h.01M282.8 494.6h.01M282.3 496.3h.01M281.9 496.4h.01M281.8 498.0h.01M280.0 499.7h.01M277.0 506.5h.01M274.3 509.0h.01M273.3 512.4h.01M272.8 514.5h.01M269.8 515.7h.01M271.5 517.8h.01M269.7 519.7h.01M271.8 521.3h.01M270.6 521.9h.01M267.3 523.3h.01M267.7 524.8h.01M267.8 525.5h.01M267.7 525.6h.01M267.2 526.1h.01M265.2 532.0h.01M264.1 534.2h.01M262.9 537.3h.01M265.5 537.8h.01M264.1 540.1h.01M263.2 540.5h.01M264.2 541.1h.01M260.8 541.2h.01M262.2 541.6h.01M263.3 545.8h.01M262.4 545.9h.01M259.1 546.7h.01M260.4 547.6h.01M260.9 547.8h.01M260.4 549.9h.01M258.9 551.0h.01M258.3 551.5h.01M259.8 553.0h.01M257.8 561.1h.01M254.9 561.9h.01M256.9 563.2h.01M254.5 567.8h.01M254.0 571.1h.01M235.4 441.3h.01M234.1 444.0h.01M235.0 444.6h.01M236.4 448.1h.01M235.9 449.7h.01M233.7 452.7h.01M232.9 453.9h.01M234.3 455.4h.01M231.3 455.9h.01M231.8 456.2h.01M232.9 456.3h.01M235.0 457.5h.01M232.6 457.8h.01M231.1 458.4h.01M233.8 459.9h.01M233.2 460.1h.01M232.3 460.0h.01M235.1 462.7h.01M230.1 462.2h.01M233.5 462.8h.01M232.9 465.2h.01M231.0 464.3h.01M236.6 468.7h.01M231.4 469.3h.01M230.5 470.8h.01M235.5 472.1h.01M232.6 472.0h.01M229.1 474.2h.01M229.8 473.4h.01M230.8 475.6h.01M234.6 478.2h.01M231.4 479.5h.01M232.4 480.2h.01M234.7 481.4h.01M235.0 485.7h.01M234.4 486.7h.01M235.8 489.1h.01M231.8 490.0h.01M235.2 492.8h.01M233.8 495.4h.01M235.9 495.2h.01M235.0 495.6h.01M231.2 496.4h.01M238.3 498.6h.01M232.3 503.5h.01M232.8 506.7h.01M230.7 509.1h.01M230.8 515.9h.01M228.5 515.5h.01M231.9 517.0h.01M229.4 518.9h.01M226.5 525.5h.01M224.2 528.5h.01M225.4 530.9h.01M219.2 532.1h.01M221.6 537.2h.01M221.5 537.6h.01M218.1 538.6h.01M217.8 538.7h.01M216.9 539.4h.01M219.9 541.9h.01M217.0 545.0h.01M214.6 545.8h.01M217.3 548.7h.01M214.1 547.3h.01M214.8 550.0h.01M215.8 550.9h.01M215.1 553.8h.01M214.5 555.0h.01M212.7 555.6h.01M212.8 557.9h.01M210.1 558.5h.01M212.9 562.4h.01M210.9 564.2h.01M210.9 570.0h.01M240.4 441.7h.01M239.9 445.9h.01M239.6 447.5h.01M239.8 448.7h.01M238.7 454.7h.01M239.4 455.1h.01M238.4 458.8h.01M237.1 462.2h.01M236.5 462.4h.01M236.6 466.5h.01M238.9 467.5h.01M238.1 467.6h.01M237.8 467.2h.01M239.4 470.3h.01M238.8 471.5h.01M236.9 473.5h.01M238.8 474.8h.01M236.1 478.3h.01M237.7 479.8h.01M237.2 481.5h.01M236.3 485.0h.01M238.2 487.7h.01M237.3 488.0h.01M237.3 490.5h.01M234.3 490.7h.01M236.0 492.1h.01M238.1 492.2h.01M238.4 492.8h.01M236.7 493.8h.01M238.4 499.3h.01M226.8 459.9h.01M226.9 459.8h.01M226.8 460.6h.01M226.4 461.0h.01M227.8 467.5h.01M230.3 472.9h.01M228.5 473.3h.01M228.3 476.9h.01M228.0 477.5h.01M228.5 479.3h.01M232.0 480.1h.01M215.5 543.0h.01M212.8 547.7h.01M212.8 548.0h.01M206.0 558.5h.01M203.3 560.7h.01M203.3 564.4h.01M203.4 564.7h.01M201.5 564.6h.01M199.7 568.4h.01M197.8 570.6h.01M199.1 571.0h.01M199.2 572.4h.01M218.7 551.1h.01M219.7 555.9h.01M218.7 557.4h.01M220.2 565.6h.01M221.1 570.6h.01M223.0 588.9h.01M220.0 589.0h.01M221.7 590.4h.01M221.6 591.6h.01M235.9 500.3h.01M233.2 501.5h.01M233.7 505.5h.01M239.0 504.5h.01M235.8 511.3h.01M239.9 514.9h.01M235.4 516.4h.01M235.4 517.8h.01M241.1 516.7h.01M238.1 519.1h.01M242.7 533.7h.01M245.1 534.6h.01M239.7 537.2h.01M241.0 539.3h.01M245.2 541.8h.01M242.4 548.8h.01M249.0 548.9h.01M245.5 553.3h.01M243.6 552.6h.01M242.1 554.8h.01M239.5 571.8h.01M232.2 577.4h.01M230.5 587.8h.01M230.5 591.9h.01M208.0 521.1h.01M237.1 429.4h.01M238.1 431.0h.01M235.4 430.1h.01M234.7 434.2h.01M232.6 435.6h.01M230.7 436.6h.01M228.8 441.5h.01M228.9 443.0h.01M228.7 446.4h.01" stroke="#80ff80" stroke-width="1.80"/>
<path d="M230.4 390.7h.01M217.2 407.8h.01M216.6 416.8h.01M216.6 421.6h.01M214.6 438.6h.01M213.4 442.4h.01M216.9 476.7h.01M217.2 478.5h.01M220.4 413.2h.01M220.3 419.7h.01M220.8 421.9h.01M219.3 427.6h.01M222.7 437.8h.01M225.8 446.3h.01M225.9 447.0h.01M230.0 388.6h.01M225.2 424.9h.01M225.4 424.8h.01M225.8 428.8h.01M227.1 441.7h.01M228.6 443.3h.01M218.0 450.1h.01M219.6 451.9h.01M222.2 462.1h.01M224.6 468.2h.01M224.7 469.0h.01M226.0 470.7h.01M225.5 473.8h.01M227.3 478.0h.01M227.1 481.0h.01M226.5 481.7h.01M225.2 482.2h.01M224.3 482.3h.01M225.8 484.9h.01M223.2 485.7h.01M222.6 487.1h.01M219.6 488.6h.01M219.8 487.8h.01M219.8 488.2h.01M216.8 496.4h.01M215.8 497.3h.01M214.5 496.9h.01M213.5 501.9h.01M211.0 505.9h.01M209.2 507.2h.01M207.6 510.5h.01M203.9 512.4h.01M204.3 512.7h.01M204.0 513.3h.01M203.3 514.1h.01M197.6 519.1h.01M196.7 520.1h.01M196.4 522.2h.01M195.4 522.3h.01M195.2 524.0h.01M193.9 522.7h.01M194.8 524.6h.01M193.4 526.4h.01M192.1 527.4h.01M190.8 528.5h.01M187.0 531.0h.01M185.2 535.5h.01M184.3 537.6h.01M181.5 538.7h.01M250.0 419.6h.01M249.3 432.5h.01M247.4 432.3h.01M245.9 434.6h.01M241.9 445.5h.01M241.2 447.4h.01M240.3 449.3h.01M236.4 459.3h.01M235.8 465.4h.01M232.8 473.2h.01M249.7 400.0h.01M233.9 416.2h.01M272.5 377.3h.01M273.2 380.3h.01M259.4 424.2h.01M258.2 429.5h.01M255.8 433.1h.01M253.8 434.7h.01M253.4 439.3h.01M248.5 446.8h.01M277.2 393.7h.01M274.7 405.4h.01M270.9 430.8h.01M267.9 434.3h.01M250.5 455.9h.01M247.9 459.5h.01M247.5 463.3h.01M246.2 464.5h.01M244.1 468.2h.01M241.4 472.5h.01M239.5 475.2h.01M239.1 476.6h.01M238.5 477.3h.01M252.8 427.1h.01M294.4 424.4h.01M295.7 427.5h.01M295.4 428.1h.01M295.1 430.7h.01M296.7 435.2h.01M298.8 438.9h.01M301.4 443.6h.01M303.7 445.4h.01M290.9 410.6h.01M287.4 414.4h.01M271.6 427.7h.01M268.6 432.3h.01M267.2 433.8h.01M318.1 406.7h.01M309.5 471.4h.01M304.1 476.6h.01M300.4 479.9h.01M300.7 481.0h.01M297.0 486.5h.01M296.8 486.5h.01M294.4 491.1h.01M287.4 500.9h.01M285.2 505.6h.01M278.7 512.3h.01M277.1 518.0h.01M271.2 537.0h.01M269.4 542.8h.01M261.8 558.6h.01M260.6 561.3h.01M260.0 561.5h.01M260.4 562.3h.01M260.2 563.4h.01M254.6 577.5h.01M254.6 579.1h.01M254.7 578.9h.01M253.5 581.6h.01M252.2 583.6h.01M296.0 434.9h.01M295.5 435.2h.01M281.2 438.0h.01M256.2 452.1h.01M257.0 452.5h.01M264.3 455.2h.01M277.1 459.8h.01M282.1 462.8h.01M282.4 465.0h.01M284.6 466.3h.01M285.1 467.7h.01M285.8 467.8h.01M286.8 469.7h.01M286.9 468.9h.01M287.9 470.6h.01M287.9 473.9h.01M289.8 472.9h.01M288.6 470.4h.01M291.4 470.7h.01M289.1 469.2h.01M290.0 468.0h.01M290.8 466.0h.01M291.5 465.4h.01M298.2 458.3h.01M299.1 455.2h.01M302.1 452.4h.01M304.2 448.7h.01M304.0 447.8h.01M303.6 445.4h.01M303.9 445.6h.01M299.5 441.2h.01M297.5 439.8h.01M298.2 438.8h.01M295.3 439.4h.01M295.1 438.7h.01M305.1 454.2h.01M309.8 459.2h.01M310.3 458.8h.01M310.2 464.7h.01M306.0 470.7h.01M305.4 472.6h.01M304.4 472.4h.01M303.8 472.8h.01M292.7 484.1h.01M287.0 490.5h.01M287.5 492.3h.01M285.9 496.3h.01M285.0 499.7h.01M282.6 502.2h.01M283.1 503.1h.01M282.4 505.1h.01M278.7 510.8h.01M278.9 511.7h.01M277.7 514.6h.01M275.6 516.8h.01M274.5 519.4h.01M275.0 520.1h.01M272.5 525.1h.01M274.4 526.9h.01M273.2 527.8h.01M271.0 532.1h.01M269.9 533.7h.01M268.5 532.8h.01M271.3 535.5h.01M268.7 537.8h.01M267.5 541.5h.01M268.6 541.9h.01M268.7 543.6h.01M266.1 547.1h.01M264.8 548.5h.01M264.2 553.3h.01M264.3 555.6h.01M261.8 557.4h.01M262.9 560.2h.01M261.9 560.8h.01M261.2 561.8h.01M260.6 563.9h.01M258.8 566.2h.01M255.7 575.6h.01M254.2 578.0h.01M254.2 578.3h.01M255.3 579.7h.01M252.8 580.9h.01M254.4 582.1h.01M289.6 476.1h.01M286.4 476.3h.01M284.1 483.8h.01M275.1 491.4h.01M274.4 491.0h.01M276.2 493.0h.01M273.7 490.7h.01M270.7 490.8h.01M268.8 495.8h.01M269.1 497.8h.01M267.2 497.5h.01M266.2 498.6h.01M264.7 501.9h.01M262.4 502.7h.01M263.5 504.8h.01M262.2 504.6h.01M260.5 508.2h.01M262.0 509.1h.01M260.8 508.7h.01M258.7 509.0h.01M260.9 511.3h.01M260.5 511.6h.01M258.6 513.4h.01M257.8 514.5h.01M258.0 515.6h.01M261.2 517.1h.01M259.6 516.8h.01M255.6 516.3h.01M256.7 519.9h.01M255.2 519.2h.01M255.3 523.3h.01M257.0 523.9h.01M257.2 525.5h.01M254.9 532.8h.01M254.3 533.8h.01M256.2 536.0h.01M252.9 534.4h.01M253.2 537.6h.01M255.2 538.1h.01M248.7 542.1h.01M252.5 544.8h.01M248.5 544.4h.01M250.4 550.3h.01M248.9 549.9h.01M247.4 555.2h.01M246.3 556.7h.01M247.8 557.7h.01M245.5 557.8h.01M246.8 557.9h.01M246.3 557.8h.01M246.0 559.7h.01M248.3 560.9h.01M244.5 560.7h.01M244.2 561.3h.01M244.8 562.8h.01M244.2 565.0h.01M243.7 566.0h.01M243.3 567.1h.01M241.8 567.2h.01M242.9 568.0h.01M240.8 569.7h.01M242.7 572.6h.01M238.0 578.0h.01M240.1 579.9h.01M236.3 583.3h.01M278.3 490.4h.01M275.3 492.4h.01M274.5 494.5h.01M272.9 494.4h.01M271.1 495.9h.01M272.6 499.0h.01M270.0 500.1h.01M266.8 502.7h.01M268.6 504.3h.01M267.9 505.1h.01M265.8 515.1h.01M262.4 518.5h.01M263.2 520.9h.01M261.4 521.9h.01M260.7 527.0h.01M260.2 528.2h.01M262.4 529.4h.01M258.5 532.4h.01M258.4 533.0h.01M257.4 534.7h.01M257.5 535.9h.01M257.4 538.4h.01M256.1 540.3h.01M254.1 539.5h.01M254.6 544.0h.01M253.8 543.8h.01M254.8 544.3h.01M253.5 547.8h.01M252.4 555.1h.01M250.5 556.3h.01M248.4 555.9h.01M250.2 560.3h.01M250.4 561.4h.01M250.2 563.3h.01M247.8 562.7h.01M250.8 564.0h.01M248.8 563.6h.01M248.2 564.7h.01M249.6 566.1h.01M247.8 567.9h.01M247.3 570.9h.01M244.9 571.7h.01M242.6 572.6h.01M246.1 574.6h.01M245.8 575.7h.01M242.9 576.2h.01M244.1 579.9h.01M243.3 579.9h.01M281.6 496.6h.01M272.9 513.4h.01M269.8 518.3h.01M265.5 534.9h.01M264.0 538.7h.01M261.7 541.6h.01M262.8 543.7h.01M260.6 545.2h.01M261.9 545.2h.01M259.6 547.7h.01M256.9 553.9h.01M259.6 556.8h.01M256.2 558.2h.01M258.0 558.8h.01M254.3 567.7h.01M254.2 570.4h.01M253.9 571.2h.01M254.0 572.3h.01M254.4 572.6h.01M236.0 442.1h.01M235.0 445.3h.01M233.0 454.3h.01M233.0 454.2h.01M231.3 461.4h.01M231.8 461.7h.01M231.1 466.0h.01M232.5 469.2h.01M231.3 471.0h.01M230.9 475.3h.01M232.3 477.1h.01M230.5 478.0h.01M235.3 479.6h.01M232.5 481.1h.01M232.3 482.7h.01M233.2 485.6h.01M230.6 485.4h.01M232.7 486.5h.01M235.5 492.8h.01M234.9 494.4h.01M234.9 495.9h.01M234.9 497.9h.01M234.5 498.2h.01M234.3 500.6h.01M231.5 508.0h.01M234.3 509.6h.01M230.2 511.6h.01M230.2 515.2h.01M227.0 521.0h.01M226.0 523.2h.01M224.3 524.3h.01M223.5 527.1h.01M223.1 528.0h.01M220.3 534.0h.01M219.7 536.9h.01M218.8 538.0h.01M217.2 542.6h.01M217.3 543.0h.01M217.1 545.3h.01M215.5 546.7h.01M213.6 553.3h.01M210.6 560.4h.01M211.2 562.9h.01M209.8 563.2h.01M211.5 564.0h.01M211.1 565.4h.01M210.1 565.5h.01M209.8 573.5h.01M240.6 450.2h.01M239.6 453.6h.01M238.5 456.7h.01M236.6 466.0h.01M237.4 466.0h.01M235.6 470.4h.01M237.2 471.0h.01M236.8 472.9h.01M237.0 475.7h.01M236.8 482.3h.01M236.8 483.1h.01M238.4 484.3h.01M236.6 490.2h.01M235.0 490.4h.01M236.7 492.6h.01M239.8 494.7h.01M228.5 466.6h.01M229.3 467.2h.01M228.6 468.1h.01M229.4 471.4h.01M228.5 476.5h.01M230.3 481.4h.01M212.7 549.5h.01M201.4 566.8h.01M221.3 544.7h.01M220.7 546.3h.01M221.3 549.9h.01M220.4 551.6h.01M220.9 551.4h.01M220.9 563.4h.01M222.6 564.4h.01M222.3 565.2h.01M222.5 567.2h.01M221.8 570.7h.01M223.1 570.0h.01M222.1 573.9h.01M221.2 574.3h.01M220.7 574.6h.01M221.2 574.7h.01M222.4 576.0h.01M221.5 578.9h.01M221.3 581.1h.01M221.5 583.4h.01M222.5 587.6h.01M222.1 591.1h.01M235.2 498.9h.01M233.4 499.2h.01M235.1 503.5h.01M235.1 506.5h.01M236.2 507.5h.01M237.0 507.3h.01M234.5 508.1h.01M234.9 510.7h.01M237.0 509.9h.01M238.5 510.8h.01M238.6 510.9h.01M236.9 512.5h.01M239.1 512.8h.01M240.0 513.5h.01M235.7 518.6h.01M239.3 519.3h.01M240.9 524.0h.01M241.7 525.0h.01M241.5 525.7h.01M243.9 526.1h.01M240.3 526.4h.01M243.8 526.9h.01M241.2 530.3h.01M245.3 530.5h.01M241.3 530.6h.01M242.9 530.5h.01M244.3 531.5h.01M241.8 531.5h.01M242.4 532.5h.01M242.7 532.3h.01M245.4 533.0h.01M243.0 535.4h.01M246.1 535.7h.01M242.6 538.1h.01M245.5 537.3h.01M246.4 537.5h.01M246.7 540.0h.01M245.3 542.5h.01M246.4 542.7h.01M247.5 544.1h.01M243.7 546.1h.01M248.5 546.3h.01M245.4 549.6h.01M244.3 551.4h.01M242.7 553.3h.01M244.9 557.8h.01M246.5 558.0h.01M242.7 561.3h.01M243.0 564.0h.01M241.4 566.2h.01M241.4 566.3h.01M241.1 568.9h.01M239.2 571.0h.01M236.4 573.3h.01M235.6 575.0h.01M232.7 575.1h.01M237.8 578.0h.01M234.2 576.2h.01M232.0 585.7h.01M231.9 585.8h.01M231.2 588.7h.01M230.2 591.1h.01M203.0 519.8h.01M209.8 523.8h.01M211.5 524.2h.01M228.5 442.0h.01M228.4 444.8h.01" stroke="#00ffff" stroke-width="1.80"/>
<path d="M230.6 394.3h.01M214.0 430.2h.01M213.8 441.8h.01M214.3 464.9h.01M215.9 475.9h.01M225.4 444.1h.01M230.9 451.9h.01M222.3 458.0h.01M223.3 460.8h.01M224.7 465.6h.01M224.7 466.0h.01M227.1 478.3h.01M227.4 481.0h.01M224.1 484.6h.01M222.5 485.1h.01M221.8 487.1h.01M220.0 489.1h.01M217.7 490.9h.01M218.4 494.6h.01M217.2 494.6h.01M215.7 496.8h.01M214.5 498.4h.01M211.1 503.3h.01M210.7 504.8h.01M207.9 508.8h.01M206.4 508.6h.01M207.3 509.6h.01M200.2 516.1h.01M193.4 526.0h.01M192.3 527.0h.01M192.7 529.0h.01M189.8 530.1h.01M187.8 531.9h.01M187.1 533.2h.01M186.6 533.7h.01M185.0 534.1h.01M248.3 414.6h.01M251.3 425.5h.01M240.0 452.5h.01M239.4 453.2h.01M235.0 464.2h.01M233.0 474.4h.01M234.1 416.9h.01M234.1 416.8h.01M264.7 412.2h.01M259.1 426.6h.01M268.7 433.3h.01M266.5 434.6h.01M243.8 467.0h.01M242.8 471.3h.01M298.5 420.1h.01M296.4 423.8h.01M295.4 432.9h.01M302.2 478.3h.01M289.6 495.9h.01M281.6 509.1h.01M282.0 511.1h.01M270.8 534.8h.01M266.2 551.2h.01M264.3 550.9h.01M264.6 553.3h.01M262.1 556.5h.01M260.6 566.5h.01M259.6 566.2h.01M254.5 579.9h.01M251.2 584.0h.01M259.1 452.7h.01M261.9 456.1h.01M268.6 456.9h.01M272.7 457.3h.01M279.9 462.8h.01M280.5 462.0h.01M283.7 468.1h.01M284.7 468.2h.01M288.6 472.7h.01M288.6 472.1h.01M290.0 468.6h.01M289.6 467.4h.01M290.8 466.6h.01M290.4 466.6h.01M290.1 466.3h.01M293.3 462.7h.01M293.4 462.2h.01M295.3 460.7h.01M303.9 450.1h.01M304.5 448.0h.01M303.5 446.8h.01M303.2 445.0h.01M302.8 442.8h.01M301.1 441.1h.01M299.8 440.8h.01M302.6 451.9h.01M305.2 453.8h.01M307.4 455.4h.01M310.9 459.1h.01M306.8 468.9h.01M295.9 480.2h.01M295.3 481.8h.01M294.6 482.1h.01M289.7 487.9h.01M288.9 490.7h.01M286.1 494.4h.01M279.1 506.8h.01M278.1 510.0h.01M277.5 514.0h.01M271.7 529.7h.01M270.4 533.6h.01M269.7 536.4h.01M265.4 547.7h.01M266.3 548.2h.01M265.1 552.8h.01M262.2 557.0h.01M263.0 556.4h.01M263.6 557.1h.01M259.9 560.7h.01M260.3 561.7h.01M261.0 563.0h.01M257.6 568.6h.01M257.5 571.3h.01M257.6 573.1h.01M286.9 479.4h.01M285.0 479.8h.01M283.6 483.9h.01M283.0 482.6h.01M282.7 485.1h.01M283.1 486.3h.01M280.6 488.1h.01M278.7 489.6h.01M274.0 491.2h.01M273.3 491.3h.01M273.0 493.8h.01M271.1 494.1h.01M271.4 495.6h.01M269.6 494.6h.01M267.1 499.7h.01M265.5 499.7h.01M264.1 500.7h.01M262.3 500.5h.01M263.3 503.1h.01M262.4 504.8h.01M260.3 504.5h.01M261.8 507.9h.01M260.5 507.0h.01M260.8 508.0h.01M261.0 508.0h.01M260.1 508.6h.01M259.8 511.7h.01M258.9 512.6h.01M260.8 515.1h.01M258.7 516.1h.01M255.9 518.1h.01M256.8 519.5h.01M257.7 520.6h.01M256.4 521.3h.01M257.4 522.0h.01M258.3 524.2h.01M256.2 525.5h.01M257.1 527.1h.01M254.9 527.7h.01M255.4 529.1h.01M256.0 534.8h.01M252.7 537.1h.01M253.2 540.8h.01M251.7 541.4h.01M252.4 543.4h.01M250.7 545.5h.01M250.0 549.3h.01M246.9 551.7h.01M247.8 553.4h.01M249.1 553.9h.01M247.4 554.4h.01M247.2 555.5h.01M245.2 560.6h.01M243.9 565.4h.01M242.5 566.0h.01M242.1 569.5h.01M241.2 573.6h.01M239.0 575.1h.01M238.1 576.3h.01M240.4 578.3h.01M236.8 582.2h.01M237.0 584.6h.01M235.2 585.0h.01M235.4 586.2h.01M236.3 586.8h.01M275.9 496.0h.01M272.0 497.0h.01M272.7 499.9h.01M269.0 498.6h.01M270.4 501.1h.01M268.7 503.3h.01M266.2 510.6h.01M262.5 517.9h.01M263.5 519.2h.01M262.0 524.1h.01M262.5 524.1h.01M261.7 524.0h.01M260.1 523.7h.01M260.5 524.4h.01M260.5 526.8h.01M258.8 530.4h.01M256.6 533.1h.01M258.6 536.2h.01M255.2 535.6h.01M257.7 536.9h.01M256.5 537.8h.01M256.0 537.4h.01M256.0 537.9h.01M255.6 543.0h.01M254.0 545.1h.01M254.0 547.3h.01M252.8 550.0h.01M250.9 550.5h.01M254.8 552.2h.01M250.4 556.3h.01M251.3 557.2h.01M247.4 560.8h.01M249.9 565.4h.01M248.8 565.9h.01M248.0 566.8h.01M247.8 568.0h.01M245.0 568.3h.01M243.8 576.0h.01M242.0 576.8h.01M277.5 503.6h.01M270.5 515.5h.01M269.0 521.7h.01M267.4 528.8h.01M264.2 536.4h.01M257.3 559.0h.01M257.3 560.1h.01M254.7 566.8h.01M252.9 567.2h.01M253.9 569.2h.01M253.6 570.0h.01M235.9 440.2h.01M234.1 443.2h.01M235.1 446.0h.01M230.9 471.5h.01M232.8 476.8h.01M232.1 482.6h.01M232.6 487.5h.01M233.1 490.8h.01M234.0 491.2h.01M234.3 491.2h.01M232.6 499.1h.01M232.1 511.5h.01M231.8 511.3h.01M230.2 511.7h.01M231.3 512.8h.01M229.8 513.9h.01M228.9 516.5h.01M228.6 516.9h.01M225.8 521.2h.01M226.6 522.7h.01M218.3 536.2h.01M218.0 538.3h.01M214.9 547.9h.01M214.8 549.8h.01M214.0 551.2h.01M213.9 554.0h.01M213.5 557.4h.01M209.8 568.6h.01M209.7 569.3h.01M209.2 571.3h.01M209.3 573.1h.01M242.1 444.0h.01M240.4 443.9h.01M239.9 456.4h.01M238.2 472.7h.01M237.4 474.0h.01M236.5 474.5h.01M236.1 477.6h.01M235.7 477.8h.01M237.6 480.3h.01M238.0 488.4h.01M238.9 492.0h.01M238.7 495.3h.01M237.0 497.7h.01M236.9 498.8h.01M237.1 499.5h.01M227.9 466.3h.01M229.7 479.9h.01M229.6 479.7h.01M230.8 481.3h.01M228.4 481.8h.01M220.1 544.3h.01M220.7 548.8h.01M221.0 553.9h.01M219.8 555.9h.01M220.8 559.5h.01M221.1 560.9h.01M221.1 561.5h.01M222.1 563.4h.01M222.0 563.9h.01M221.9 567.9h.01M221.5 574.5h.01M221.1 579.0h.01M222.9 580.5h.01M222.5 581.5h.01M222.9 582.4h.01M222.1 589.0h.01M233.8 505.1h.01M236.6 505.7h.01M234.0 506.0h.01M235.0 506.7h.01M239.5 507.1h.01M238.2 509.2h.01M237.6 513.4h.01M234.5 516.0h.01M237.2 517.3h.01M237.0 518.1h.01M238.5 519.1h.01M237.7 519.9h.01M241.1 521.0h.01M242.8 522.8h.01M237.7 525.1h.01M241.0 525.0h.01M236.8 526.1h.01M244.2 527.1h.01M242.5 528.5h.01M239.9 529.2h.01M242.3 529.6h.01M242.8 529.7h.01M242.4 534.7h.01M242.4 534.2h.01M247.1 537.1h.01M243.9 539.1h.01M244.2 539.2h.01M245.6 540.2h.01M245.9 541.8h.01M245.8 543.4h.01M247.6 542.7h.01M245.7 548.2h.01M246.2 548.7h.01M243.2 549.2h.01M246.2 550.3h.01M244.1 550.8h.01M243.8 551.8h.01M246.4 554.4h.01M244.6 555.4h.01M245.6 556.0h.01M241.9 559.1h.01M242.0 559.3h.01M245.4 562.1h.01M240.6 569.2h.01M237.7 569.3h.01M240.3 571.6h.01M238.5 572.8h.01M235.7 572.4h.01M239.0 573.5h.01M238.4 574.6h.01M235.5 576.5h.01M233.8 578.6h.01M233.3 580.6h.01M233.4 583.4h.01M234.4 586.7h.01M206.0 521.2h.01M206.6 521.6h.01M207.6 522.5h.01M207.6 522.5h.01M212.6 525.2h.01M214.9 526.6h.01M233.8 432.1h.01M234.9 432.3h.01M234.5 432.9h.01M229.7 441.9h.01M228.8 443.0h.01M226.5 447.2h.01" stroke="#00dfff" stroke-width="1.80"/>
<path d="M219.6 389.0h.01M219.0 394.4h.01M218.2 396.2h.01M217.6 401.8h.01M216.6 414.7h.01M215.9 415.2h.01M215.7 419.4h.01M215.9 421.1h.01M215.1 424.5h.01M215.2 425.0h.01M216.0 425.2h.01M215.5 431.1h.01M215.7 432.0h.01M215.9 437.2h.01M213.2 442.3h.01M214.1 442.7h.01M213.6 444.8h.01M214.1 445.3h.01M214.6 446.3h.01M212.6 448.2h.01M213.3 449.3h.01M213.3 453.4h.01M212.9 455.3h.01M213.2 463.1h.01M214.3 463.3h.01M225.4 386.4h.01M224.0 390.1h.01M221.3 417.6h.01M220.8 424.0h.01M220.1 425.8h.01M218.1 430.8h.01M219.4 430.8h.01M221.2 432.6h.01M222.1 439.6h.01M221.3 439.6h.01M226.5 443.3h.01M223.9 444.0h.01M229.6 389.4h.01M227.6 409.4h.01M226.4 413.3h.01M224.6 423.5h.01M225.9 434.3h.01M226.9 434.9h.01M227.3 440.8h.01M227.2 441.6h.01M228.1 442.5h.01M228.6 442.9h.01M229.2 444.7h.01M227.1 445.2h.01M230.1 447.7h.01M230.2 448.7h.01M230.9 450.8h.01M216.1 447.7h.01M218.7 450.1h.01M220.4 452.6h.01M223.6 458.2h.01M222.4 460.3h.01M223.3 460.7h.01M223.1 464.4h.01M225.5 465.6h.01M225.0 468.5h.01M225.5 469.3h.01M225.5 471.8h.01M225.4 473.4h.01M228.2 475.9h.01M227.2 477.7h.01M227.1 478.6h.01M226.1 479.8h.01M227.8 480.1h.01M226.2 483.6h.01M223.3 485.2h.01M222.6 486.6h.01M222.8 488.3h.01M218.9 491.4h.01M217.7 491.8h.01M217.0 491.8h.01M217.1 492.7h.01M216.1 494.7h.01M216.4 495.0h.01M217.7 496.8h.01M215.6 495.8h.01M210.9 501.5h.01M211.5 502.7h.01M211.6 505.1h.01M207.9 506.3h.01M209.3 508.6h.01M207.7 507.7h.01M207.3 508.4h.01M208.4 509.5h.01M208.0 510.1h.01M207.0 511.2h.01M206.9 512.1h.01M205.5 510.7h.01M204.2 513.5h.01M205.6 515.6h.01M202.7 512.9h.01M202.5 516.8h.01M200.4 519.0h.01M200.1 518.0h.01M197.1 522.1h.01M196.1 522.9h.01M196.2 524.6h.01M194.0 525.2h.01M191.1 527.1h.01M190.6 528.0h.01M188.6 531.3h.01M186.9 532.2h.01M184.0 534.4h.01M182.9 539.4h.01M178.5 541.5h.01M240.4 402.8h.01M246.7 411.3h.01M247.3 411.8h.01M247.9 414.5h.01M250.8 419.1h.01M251.5 423.9h.01M244.9 437.1h.01M244.5 437.6h.01M244.2 438.3h.01M242.1 444.2h.01M237.0 458.6h.01M237.4 458.1h.01M236.1 461.6h.01M235.0 462.6h.01M235.0 464.0h.01M234.9 464.7h.01M235.0 465.1h.01M233.3 466.7h.01M234.5 468.4h.01M233.0 470.4h.01M232.9 471.2h.01M250.2 396.7h.01M249.8 398.0h.01M247.9 385.8h.01M234.0 418.0h.01M234.2 418.0h.01M271.9 377.6h.01M268.4 393.1h.01M266.6 404.8h.01M264.6 413.4h.01M260.4 424.2h.01M259.6 425.4h.01M252.3 439.5h.01M251.8 440.9h.01M250.0 444.5h.01M250.6 445.0h.01M249.4 446.0h.01M248.5 450.0h.01M276.3 372.9h.01M276.0 376.0h.01M277.2 389.2h.01M276.4 400.1h.01M271.2 415.4h.01M273.1 420.6h.01M272.7 428.5h.01M273.0 430.9h.01M269.4 434.2h.01M264.1 439.4h.01M262.7 442.9h.01M261.9 441.8h.01M255.3 449.8h.01M254.9 451.9h.01M253.0 453.5h.01M252.5 454.4h.01M247.1 459.4h.01M246.8 461.9h.01M245.6 466.7h.01M241.6 471.3h.01M242.0 475.1h.01M240.6 477.4h.01M239.9 478.2h.01M237.6 479.7h.01M258.9 409.9h.01M258.1 412.5h.01M256.0 417.0h.01M254.5 418.7h.01M254.1 423.4h.01M252.0 427.3h.01M313.7 380.8h.01M311.7 387.8h.01M299.2 417.3h.01M296.7 424.9h.01M295.9 425.8h.01M295.5 431.9h.01M297.2 437.5h.01M299.1 437.4h.01M301.3 444.7h.01M305.2 392.2h.01M303.7 393.8h.01M291.0 411.2h.01M281.4 419.8h.01M277.7 423.2h.01M272.3 425.7h.01M267.4 431.7h.01M330.7 417.6h.01M332.8 423.0h.01M332.4 427.7h.01M331.0 433.9h.01M327.6 439.6h.01M324.5 446.8h.01M317.3 459.5h.01M313.3 467.7h.01M311.1 467.6h.01M311.2 469.9h.01M309.4 471.3h.01M308.6 473.0h.01M307.6 472.4h.01M305.5 473.5h.01M306.5 473.8h.01M305.6 475.6h.01M299.6 479.5h.01M300.9 480.9h.01M300.6 482.9h.01M299.1 484.6h.01M294.3 489.6h.01M296.0 490.9h.01M293.1 492.8h.01M285.5 502.8h.01M286.0 504.4h.01M284.7 504.4h.01M282.6 506.9h.01M282.1 508.3h.01M281.0 509.1h.01M280.5 509.4h.01M280.1 511.7h.01M278.4 514.1h.01M276.5 519.8h.01M275.6 527.0h.01M273.6 527.0h.01M273.8 528.8h.01M270.3 537.3h.01M269.0 539.3h.01M268.8 543.8h.01M265.9 547.5h.01M265.6 549.7h.01M265.6 550.1h.01M264.9 554.7h.01M262.3 554.9h.01M262.5 557.6h.01M260.3 563.7h.01M259.2 563.8h.01M257.6 567.5h.01M259.1 569.0h.01M258.3 569.1h.01M258.8 573.5h.01M255.2 572.4h.01M255.6 580.4h.01M251.2 584.1h.01M257.3 450.9h.01M258.1 452.2h.01M258.3 454.4h.01M260.8 452.8h.01M261.9 453.3h.01M262.4 454.8h.01M268.5 454.9h.01M273.4 457.2h.01M274.9 458.1h.01M275.3 458.4h.01M274.8 460.3h.01M276.1 457.5h.01M278.2 459.1h.01M278.5 463.1h.01M279.9 462.3h.01M281.6 466.5h.01M283.9 465.6h.01M284.0 466.3h.01M285.8 467.9h.01M288.5 471.5h.01M293.7 462.2h.01M297.8 458.3h.01M299.5 457.2h.01M299.0 454.2h.01M300.9 455.2h.01M300.3 454.3h.01M300.3 453.8h.01M303.0 450.4h.01M300.8 442.3h.01M298.3 439.1h.01M298.1 438.0h.01M303.8 452.0h.01M305.3 453.6h.01M304.1 455.7h.01M307.2 455.6h.01M308.8 457.3h.01M310.6 463.3h.01M308.8 467.0h.01M309.3 466.9h.01M303.5 473.8h.01M304.3 474.4h.01M301.7 474.4h.01M301.1 475.7h.01M299.3 476.7h.01M298.0 477.9h.01M298.0 478.2h.01M287.6 489.3h.01M287.3 490.7h.01M286.4 495.0h.01M285.9 497.8h.01M284.1 497.5h.01M285.9 499.0h.01M284.0 502.5h.01M282.1 504.1h.01M279.8 505.2h.01M279.8 506.3h.01M279.9 509.7h.01M277.9 510.2h.01M277.6 510.6h.01M278.0 513.7h.01M276.0 516.0h.01M276.2 515.8h.01M273.4 516.2h.01M273.7 519.5h.01M275.3 521.1h.01M275.1 523.2h.01M273.1 523.4h.01M271.6 523.8h.01M268.3 534.1h.01M269.7 534.1h.01M267.8 534.5h.01M269.1 539.3h.01M269.1 540.0h.01M267.5 540.5h.01M267.1 539.9h.01M269.5 543.2h.01M267.6 546.1h.01M265.0 544.9h.01M264.6 548.2h.01M264.5 549.3h.01M263.5 555.2h.01M262.5 555.4h.01M262.5 556.5h.01M264.0 557.9h.01M262.9 558.7h.01M262.0 558.1h.01M262.8 559.7h.01M260.6 561.5h.01M262.2 563.6h.01M261.1 565.0h.01M260.1 565.7h.01M258.7 568.3h.01M259.3 570.2h.01M255.5 570.1h.01M255.3 571.6h.01M258.5 572.2h.01M255.6 572.0h.01M257.4 574.2h.01M257.6 575.2h.01M257.2 575.3h.01M255.9 576.8h.01M253.2 578.8h.01M286.3 476.6h.01M281.6 483.3h.01M280.9 484.1h.01M282.1 486.0h.01M279.7 488.3h.01M278.2 487.8h.01M276.9 488.0h.01M278.5 492.9h.01M275.7 491.9h.01M270.3 494.2h.01M268.6 493.9h.01M267.1 494.4h.01M267.3 495.3h.01M265.1 497.4h.01M266.9 498.8h.01M265.1 497.5h.01M265.7 498.3h.01M264.5 501.5h.01M265.8 502.2h.01M263.3 500.8h.01M262.8 500.7h.01M264.2 502.3h.01M260.8 502.0h.01M264.5 506.5h.01M261.6 505.4h.01M257.9 507.1h.01M261.1 509.1h.01M260.7 509.6h.01M260.4 513.5h.01M257.6 515.2h.01M258.0 515.8h.01M257.3 517.3h.01M257.6 521.5h.01M258.9 522.9h.01M255.0 523.8h.01M254.8 525.2h.01M255.2 526.1h.01M257.7 526.4h.01M252.4 529.3h.01M251.3 529.3h.01M251.0 530.9h.01M253.5 531.3h.01M256.5 533.3h.01M253.4 532.6h.01M252.6 532.5h.01M256.5 536.7h.01M252.8 536.8h.01M251.7 538.3h.01M250.3 538.8h.01M251.4 541.4h.01M249.2 541.4h.01M252.6 543.3h.01M247.1 545.1h.01M250.3 547.6h.01M247.8 546.7h.01M248.1 547.7h.01M248.7 547.8h.01M247.7 550.1h.01M247.5 552.0h.01M247.8 552.5h.01M250.3 555.0h.01M249.6 555.6h.01M250.7 556.4h.01M244.9 556.0h.01M247.7 556.4h.01M245.4 557.0h.01M244.4 557.2h.01M244.0 564.8h.01M245.2 566.5h.01M245.2 567.2h.01M244.4 567.6h.01M242.2 568.7h.01M244.0 570.5h.01M242.1 571.9h.01M243.8 573.4h.01M239.6 579.6h.01M237.8 585.1h.01M236.2 584.9h.01M237.8 586.6h.01M275.7 491.3h.01M275.6 493.4h.01M275.1 496.9h.01M273.7 495.5h.01M270.2 496.7h.01M273.8 498.4h.01M272.1 499.6h.01M268.9 498.8h.01M270.6 501.6h.01M268.6 502.2h.01M268.2 505.4h.01M266.9 506.9h.01M267.0 507.4h.01M268.6 508.3h.01M266.4 509.7h.01M264.8 509.4h.01M264.9 510.4h.01M265.8 511.3h.01M265.1 511.9h.01M262.3 518.4h.01M263.7 520.8h.01M259.9 519.6h.01M261.5 528.6h.01M259.2 529.6h.01M260.8 530.3h.01M260.3 530.9h.01M257.5 530.4h.01M258.0 534.7h.01M255.7 537.4h.01M254.7 537.8h.01M253.8 541.8h.01M256.1 542.3h.01M255.4 545.5h.01M253.7 545.8h.01M252.4 550.4h.01M250.2 551.4h.01M252.3 555.6h.01M251.2 555.5h.01M250.4 555.1h.01M252.0 557.2h.01M250.4 558.0h.01M247.9 561.5h.01M247.5 566.8h.01M249.7 567.2h.01M245.5 571.7h.01M243.1 577.3h.01M282.6 493.3h.01M283.0 495.7h.01M282.0 498.3h.01M277.0 504.7h.01M276.0 505.3h.01M276.1 507.0h.01M275.4 507.4h.01M273.6 512.9h.01M272.1 513.3h.01M273.2 514.4h.01M273.4 515.3h.01M272.9 515.2h.01M270.1 518.4h.01M270.4 519.7h.01M269.9 521.2h.01M268.8 520.8h.01M269.9 524.9h.01M267.4 524.3h.01M267.3 525.2h.01M268.0 528.1h.01M264.7 530.1h.01M263.4 536.9h.01M262.9 543.6h.01M261.0 546.0h.01M261.2 550.6h.01M259.1 553.0h.01M259.1 555.2h.01M255.5 566.1h.01M252.6 566.5h.01M253.5 569.1h.01M236.1 444.0h.01M237.4 446.7h.01M236.2 450.0h.01M233.9 449.2h.01M233.6 452.7h.01M234.1 454.7h.01M233.9 454.2h.01M233.1 455.2h.01M232.2 459.3h.01M232.1 466.0h.01M231.3 467.5h.01M233.6 469.0h.01M230.9 470.0h.01M230.9 474.2h.01M232.7 474.1h.01M231.2 473.4h.01M231.1 474.0h.01M234.0 474.8h.01M230.8 476.4h.01M234.6 476.9h.01M229.9 480.6h.01M233.4 481.0h.01M231.1 481.6h.01M233.1 484.4h.01M233.6 484.6h.01M231.4 484.9h.01M230.5 486.0h.01M231.0 486.6h.01M234.1 487.0h.01M232.5 488.3h.01M233.0 490.4h.01M233.9 491.2h.01M234.0 492.9h.01M231.6 493.3h.01M235.2 492.8h.01M234.7 494.0h.01M235.3 494.3h.01M232.2 496.1h.01M231.9 501.1h.01M233.6 503.0h.01M233.6 505.7h.01M231.9 506.4h.01M232.2 506.7h.01M234.4 510.3h.01M231.2 511.1h.01M233.2 513.3h.01M228.0 512.6h.01M232.2 516.6h.01M228.6 516.1h.01M229.6 516.5h.01M231.0 517.4h.01M226.9 517.2h.01M228.2 519.1h.01M226.9 522.2h.01M225.6 523.1h.01M225.2 526.6h.01M225.3 527.7h.01M223.8 530.2h.01M220.9 530.1h.01M221.8 533.3h.01M217.4 536.6h.01M220.1 539.0h.01M218.0 540.2h.01M219.3 541.9h.01M215.5 542.9h.01M216.2 544.7h.01M215.3 545.0h.01M215.0 546.6h.01M214.2 548.7h.01M214.8 550.7h.01M213.1 556.8h.01M210.8 557.0h.01M211.9 558.8h.01M211.7 559.7h.01M212.0 562.4h.01M209.9 567.2h.01M210.6 570.0h.01M243.1 440.4h.01M241.6 442.0h.01M241.1 443.5h.01M242.3 445.5h.01M241.6 446.1h.01M241.3 448.8h.01M240.3 451.4h.01M239.7 452.1h.01M240.6 453.1h.01M238.7 453.9h.01M238.3 455.9h.01M238.6 457.5h.01M238.7 459.6h.01M237.6 468.0h.01M239.2 468.3h.01M237.4 469.4h.01M237.2 472.5h.01M238.1 473.4h.01M237.0 477.9h.01M236.5 479.4h.01M236.8 483.7h.01M236.8 485.8h.01M235.3 488.7h.01M235.1 491.8h.01M238.4 493.6h.01M238.1 493.2h.01M236.6 494.2h.01M237.8 494.1h.01M237.1 497.9h.01M238.9 497.9h.01M240.2 500.1h.01M228.1 458.0h.01M227.5 462.6h.01M229.1 463.1h.01M228.4 470.0h.01M227.9 470.4h.01M228.5 472.9h.01M229.7 474.3h.01M230.4 476.6h.01M229.5 480.3h.01M229.8 480.6h.01M214.9 545.0h.01M211.6 550.7h.01M200.3 568.8h.01M219.4 545.4h.01M222.1 552.9h.01M220.9 555.2h.01M221.4 557.5h.01M220.3 559.3h.01M222.2 561.9h.01M223.6 566.1h.01M220.7 569.1h.01M220.3 571.4h.01M222.7 570.9h.01M221.2 573.7h.01M222.8 577.0h.01M223.0 577.2h.01M223.4 579.9h.01M222.0 586.0h.01M222.7 586.3h.01M223.8 591.0h.01M232.8 503.6h.01M232.9 506.9h.01M239.5 506.4h.01M239.3 507.3h.01M239.7 508.9h.01M235.2 510.6h.01M237.1 510.3h.01M239.4 512.0h.01M237.6 514.6h.01M236.2 516.0h.01M235.5 517.3h.01M236.4 518.3h.01M240.7 519.4h.01M243.0 519.7h.01M243.4 521.8h.01M237.9 525.7h.01M240.7 526.3h.01M239.7 528.1h.01M240.2 528.9h.01M239.1 529.6h.01M241.2 529.7h.01M243.8 528.4h.01M242.1 533.2h.01M242.1 534.7h.01M242.2 535.0h.01M248.0 534.2h.01M241.4 536.5h.01M243.9 538.3h.01M240.8 540.9h.01M247.6 541.3h.01M244.8 543.5h.01M242.2 545.4h.01M247.7 544.9h.01M243.1 551.6h.01M245.8 552.6h.01M246.5 554.2h.01M244.7 558.1h.01M244.7 561.3h.01M243.4 562.7h.01M241.9 568.3h.01M236.9 566.9h.01M236.2 580.0h.01M234.8 580.4h.01M233.8 585.4h.01M232.2 585.3h.01M230.5 584.7h.01M231.7 586.3h.01M228.7 590.5h.01M229.0 592.9h.01M205.3 520.1h.01M204.6 520.7h.01M208.7 522.4h.01M210.2 524.9h.01M214.2 526.3h.01M215.2 528.1h.01M217.9 527.4h.01M235.1 430.7h.01M235.4 431.7h.01M230.9 437.4h.01M229.7 439.7h.01M228.4 444.0h.01" stroke="#40ffbf" stroke-width="1.80"/>
<path d="M214.4 437.6h.01M214.6 443.7h.01M214.1 465.1h.01M220.3 426.2h.01M226.0 430.4h.01M226.6 439.4h.01M216.6 494.7h.01M214.5 500.1h.01M214.7 500.7h.01M212.5 503.0h.01M190.1 530.1h.01M186.5 532.8h.01M238.6 453.9h.01M234.1 469.3h.01M271.4 431.3h.01M259.5 446.8h.01M254.9 451.2h.01M252.0 452.4h.01M238.9 477.7h.01M259.3 407.6h.01M298.3 485.4h.01M288.2 499.3h.01M271.2 535.1h.01M261.3 557.9h.01M254.9 576.8h.01M263.4 454.0h.01M262.9 455.2h.01M271.8 456.6h.01M276.6 461.2h.01M279.3 460.6h.01M282.4 463.2h.01M285.2 469.2h.01M287.0 469.6h.01M286.3 470.7h.01M293.2 464.4h.01M293.7 462.8h.01M294.5 460.0h.01M295.3 459.7h.01M300.6 454.7h.01M300.4 453.7h.01M304.3 446.9h.01M299.1 440.0h.01M296.5 439.0h.01M295.5 437.4h.01M311.3 463.5h.01M304.6 472.5h.01M299.5 476.7h.01M293.7 482.1h.01M282.9 501.5h.01M282.1 504.6h.01M267.7 544.8h.01M264.9 550.4h.01M264.1 555.4h.01M261.9 559.8h.01M261.7 562.9h.01M260.6 565.4h.01M259.4 565.7h.01M256.5 573.6h.01M256.7 575.3h.01M252.8 580.9h.01M253.1 583.4h.01M282.6 484.7h.01M276.2 489.7h.01M270.7 493.8h.01M270.2 493.1h.01M267.6 496.9h.01M263.4 502.5h.01M256.1 514.9h.01M258.3 516.3h.01M258.5 518.5h.01M255.8 520.1h.01M251.7 541.9h.01M250.7 543.1h.01M248.3 554.6h.01M247.2 555.7h.01M246.5 557.3h.01M245.0 561.1h.01M241.6 571.8h.01M241.0 573.2h.01M237.8 581.6h.01M236.7 587.2h.01M268.9 502.2h.01M265.4 510.1h.01M265.4 511.6h.01M263.3 515.5h.01M263.5 521.3h.01M259.9 527.8h.01M257.7 535.4h.01M254.5 543.4h.01M251.6 553.1h.01M249.2 557.2h.01M251.8 559.8h.01M249.8 559.5h.01M247.4 561.3h.01M247.9 564.6h.01M243.5 570.0h.01M246.8 574.4h.01M245.4 573.7h.01M274.7 509.2h.01M262.5 542.5h.01M260.6 547.8h.01M231.7 467.4h.01M231.6 470.1h.01M233.3 482.2h.01M233.9 491.6h.01M234.7 494.4h.01M235.0 495.4h.01M236.1 498.8h.01M234.6 503.6h.01M233.9 503.7h.01M233.2 507.3h.01M218.2 537.4h.01M217.4 540.5h.01M215.9 545.7h.01M213.6 551.9h.01M211.6 554.6h.01M211.5 561.9h.01M211.1 566.4h.01M209.8 573.4h.01M241.3 444.6h.01M238.2 461.2h.01M236.5 477.1h.01M237.1 477.6h.01M236.7 481.4h.01M238.1 490.6h.01M237.7 493.1h.01M221.1 545.4h.01M220.6 548.3h.01M221.4 552.2h.01M220.1 555.3h.01M219.4 556.4h.01M220.9 563.5h.01M221.3 565.7h.01M221.1 567.3h.01M221.0 566.5h.01M221.3 571.0h.01M221.9 572.6h.01M221.6 580.6h.01M221.5 585.3h.01M221.9 591.9h.01M235.8 500.8h.01M235.3 501.7h.01M236.6 503.4h.01M237.0 505.0h.01M235.2 510.5h.01M237.3 509.8h.01M238.9 512.0h.01M238.8 514.1h.01M237.7 515.0h.01M237.6 517.7h.01M235.8 517.9h.01M238.6 516.8h.01M238.7 519.2h.01M240.3 519.4h.01M240.4 521.1h.01M240.6 522.7h.01M239.2 524.2h.01M239.4 524.8h.01M240.7 525.3h.01M241.1 532.2h.01M243.7 536.4h.01M241.3 537.4h.01M243.0 537.2h.01M245.2 540.1h.01M244.1 542.4h.01M244.5 542.1h.01M244.0 544.9h.01M246.1 550.4h.01M245.4 552.0h.01M246.7 554.2h.01M244.1 553.4h.01M244.3 556.9h.01M243.9 558.5h.01M244.6 559.2h.01M240.1 563.9h.01M241.8 567.2h.01M239.7 565.8h.01M238.8 565.4h.01M240.8 567.3h.01M237.8 570.1h.01M238.5 571.2h.01M236.9 573.2h.01M238.3 574.3h.01M236.3 574.9h.01M235.2 579.2h.01M234.7 579.5h.01M235.1 582.0h.01M232.2 584.7h.01M231.8 586.8h.01M231.7 589.9h.01M230.0 591.7h.01M229.7 591.5h.01M206.5 520.9h.01M209.4 522.9h.01M211.5 524.7h.01M233.5 433.9h.01M227.7 445.7h.01" stroke="#009fff" stroke-width="1.80"/>
<path d="M214.5 439.6h.01M227.9 444.6h.01M219.5 451.1h.01M224.1 462.0h.01M225.5 470.0h.01M226.5 470.8h.01M226.2 474.0h.01M227.4 476.5h.01M227.8 478.8h.01M226.6 481.0h.01M225.9 481.1h.01M219.3 488.9h.01M212.2 501.9h.01M200.5 516.0h.01M200.9 517.4h.01M198.9 521.4h.01M194.1 523.7h.01M194.4 525.0h.01M180.8 540.0h.01M243.0 442.0h.01M237.7 456.4h.01M234.6 470.5h.01M248.8 387.0h.01M261.5 421.5h.01M247.2 449.6h.01M262.5 441.7h.01M257.3 449.2h.01M253.4 453.9h.01M241.4 473.3h.01M241.8 474.9h.01M253.7 423.7h.01M298.7 419.2h.01M286.5 501.8h.01M277.7 517.1h.01M274.3 526.4h.01M273.0 531.7h.01M269.5 539.1h.01M264.5 551.6h.01M261.4 560.7h.01M260.3 562.7h.01M258.3 570.7h.01M256.0 574.8h.01M254.7 576.2h.01M254.5 578.8h.01M262.2 455.0h.01M264.4 454.3h.01M265.3 456.4h.01M278.1 460.4h.01M278.7 460.7h.01M281.0 462.2h.01M283.1 465.7h.01M286.3 470.5h.01M287.9 473.0h.01M290.4 469.7h.01M289.7 468.4h.01M293.6 461.1h.01M296.3 458.2h.01M300.0 454.7h.01M303.7 447.3h.01M302.5 445.5h.01M302.5 442.5h.01M301.3 441.7h.01M308.9 456.4h.01M310.2 465.8h.01M298.5 477.8h.01M296.0 482.0h.01M293.4 484.9h.01M285.8 496.0h.01M285.3 499.3h.01M282.7 500.2h.01M279.7 506.5h.01M280.4 508.4h.01M277.7 512.4h.01M275.9 516.2h.01M275.9 517.1h.01M272.4 526.7h.01M269.3 536.2h.01M269.7 535.9h.01M269.0 540.2h.01M268.1 541.2h.01M268.2 542.2h.01M269.0 542.8h.01M266.2 547.1h.01M264.9 547.8h.01M266.9 550.1h.01M262.2 560.3h.01M260.6 563.5h.01M258.9 567.2h.01M258.4 569.5h.01M256.3 570.1h.01M256.9 570.1h.01M258.2 571.5h.01M255.5 577.0h.01M288.1 473.2h.01M286.9 476.6h.01M287.2 480.0h.01M282.6 485.3h.01M280.3 485.8h.01M281.5 487.6h.01M273.5 490.6h.01M274.0 491.1h.01M274.0 493.3h.01M273.1 492.2h.01M267.2 499.0h.01M264.7 498.6h.01M259.5 510.4h.01M259.8 512.7h.01M259.0 513.1h.01M257.7 515.0h.01M258.1 520.8h.01M256.5 526.7h.01M256.4 526.8h.01M255.3 529.6h.01M255.3 530.9h.01M253.0 536.9h.01M249.3 549.8h.01M248.7 552.0h.01M249.1 553.0h.01M247.9 556.2h.01M244.5 563.6h.01M241.8 570.7h.01M241.6 572.8h.01M239.5 575.2h.01M238.6 581.8h.01M236.2 583.8h.01M235.5 587.9h.01M273.6 494.8h.01M272.2 496.9h.01M269.8 500.3h.01M266.6 508.1h.01M264.3 510.8h.01M264.5 513.9h.01M263.5 516.1h.01M264.0 516.8h.01M265.5 517.2h.01M261.6 524.4h.01M256.6 538.5h.01M255.2 542.6h.01M253.5 544.6h.01M254.1 549.3h.01M252.5 552.5h.01M251.1 554.1h.01M250.7 555.0h.01M250.6 557.2h.01M250.9 560.1h.01M247.1 566.9h.01M248.4 568.1h.01M247.8 569.6h.01M247.0 569.6h.01M243.7 575.5h.01M243.7 575.1h.01M244.0 575.9h.01M243.0 577.9h.01M278.8 502.3h.01M276.6 505.7h.01M270.5 518.1h.01M266.9 528.8h.01M266.9 531.1h.01M263.5 538.9h.01M261.6 546.5h.01M260.1 549.0h.01M258.9 551.1h.01M254.3 565.8h.01M234.5 450.9h.01M232.4 464.4h.01M232.7 465.5h.01M232.2 466.9h.01M231.7 466.9h.01M232.1 472.8h.01M232.5 475.2h.01M231.2 481.5h.01M233.4 485.6h.01M232.5 486.5h.01M233.0 486.5h.01M232.5 487.0h.01M233.7 487.5h.01M234.4 491.9h.01M233.3 500.9h.01M234.0 501.1h.01M227.4 518.9h.01M226.7 522.3h.01M225.3 526.8h.01M222.8 530.2h.01M219.0 535.7h.01M217.3 543.3h.01M215.2 547.0h.01M212.7 550.9h.01M213.3 552.0h.01M210.7 565.8h.01M209.0 567.5h.01M210.1 568.8h.01M211.2 571.0h.01M242.8 442.9h.01M237.0 469.2h.01M236.7 476.2h.01M237.0 481.2h.01M238.2 486.6h.01M237.7 489.7h.01M239.3 498.5h.01M227.8 458.0h.01M229.1 475.7h.01M229.9 481.1h.01M208.1 555.4h.01M220.3 545.2h.01M220.3 546.4h.01M221.7 550.3h.01M219.9 556.7h.01M221.0 560.0h.01M220.8 567.2h.01M222.3 569.2h.01M221.6 572.4h.01M221.6 577.2h.01M223.3 583.5h.01M222.1 584.6h.01M222.1 587.8h.01M222.2 590.0h.01M236.4 516.5h.01M237.8 516.5h.01M239.3 519.0h.01M243.9 526.7h.01M242.7 527.3h.01M241.0 529.4h.01M245.1 530.4h.01M245.6 531.4h.01M243.1 532.8h.01M243.9 533.8h.01M245.0 539.4h.01M244.2 541.2h.01M246.8 541.4h.01M244.6 543.5h.01M243.8 544.1h.01M243.1 545.6h.01M244.0 546.0h.01M244.5 547.0h.01M244.4 549.7h.01M244.4 550.7h.01M246.3 551.8h.01M246.9 552.1h.01M242.1 561.8h.01M239.6 564.2h.01M238.7 569.2h.01M238.6 572.1h.01M234.4 572.6h.01M235.8 577.7h.01M233.7 582.2h.01M232.0 583.1h.01M232.7 587.5h.01M232.0 588.7h.01M230.5 587.9h.01M231.7 588.8h.01M232.7 589.3h.01M229.8 589.6h.01M231.8 593.3h.01M230.3 593.0h.01M216.5 526.9h.01M217.9 528.0h.01M237.5 428.4h.01M233.9 434.9h.01M230.0 440.1h.01M228.4 443.6h.01" stroke="#00bfff" stroke-width="1.80"/>
<path d="M213.9 449.9h.01M216.5 472.9h.01M221.5 456.7h.01M227.6 479.4h.01M225.1 481.0h.01M218.6 491.6h.01M217.8 492.0h.01M208.9 504.3h.01M202.7 515.8h.01M200.0 519.4h.01M181.9 537.9h.01M234.7 426.2h.01M260.2 454.2h.01M263.6 454.9h.01M276.0 459.2h.01M291.0 466.4h.01M299.6 456.4h.01M301.9 454.0h.01M303.8 445.4h.01M298.5 478.5h.01M290.7 487.2h.01M274.3 518.0h.01M267.1 544.4h.01M267.8 546.5h.01M266.1 550.0h.01M288.4 472.9h.01M288.1 473.4h.01M284.6 481.9h.01M277.4 489.1h.01M269.5 496.3h.01M263.8 500.0h.01M263.5 504.6h.01M258.9 519.5h.01M252.9 535.1h.01M249.5 551.3h.01M245.3 562.7h.01M243.5 566.8h.01M239.7 569.7h.01M236.9 582.1h.01M276.7 490.8h.01M267.4 506.2h.01M267.5 508.2h.01M260.3 527.1h.01M259.6 532.0h.01M254.8 543.6h.01M253.2 553.0h.01M251.6 553.9h.01M247.8 569.3h.01M247.0 568.5h.01M246.0 573.3h.01M264.9 536.6h.01M259.1 553.5h.01M232.0 463.9h.01M232.0 468.6h.01M232.8 491.9h.01M234.7 496.9h.01M234.7 499.9h.01M234.9 499.7h.01M234.5 500.5h.01M232.9 508.9h.01M227.3 520.7h.01M224.5 525.4h.01M220.7 530.2h.01M212.3 558.0h.01M209.6 570.3h.01M236.9 470.7h.01M228.4 463.4h.01M229.2 478.8h.01M220.6 548.1h.01M220.6 549.7h.01M221.0 558.5h.01M222.3 583.3h.01M235.0 500.4h.01M236.2 502.3h.01M235.1 503.0h.01M235.5 506.7h.01M235.5 508.5h.01M237.2 511.1h.01M237.2 512.0h.01M238.6 516.1h.01M239.9 517.2h.01M240.4 522.3h.01M241.2 522.3h.01M242.0 530.9h.01M242.9 531.5h.01M243.4 533.8h.01M242.0 535.3h.01M244.8 536.0h.01M243.6 537.2h.01M244.4 538.8h.01M244.2 547.4h.01M246.1 553.0h.01M244.2 556.8h.01M245.5 557.0h.01M243.9 560.5h.01M243.3 560.6h.01M243.7 560.8h.01M243.4 562.0h.01M241.4 563.2h.01M243.5 564.8h.01M242.4 565.7h.01M241.1 564.8h.01M240.6 566.7h.01M240.6 567.2h.01M237.4 572.6h.01M236.6 575.4h.01M233.9 575.7h.01M233.5 580.6h.01M233.1 583.2h.01M230.4 583.0h.01M211.3 524.1h.01M217.2 527.4h.01M231.1 437.7h.01" stroke="#0080ff" stroke-width="1.80"/>
<path d="M213.6 451.1h.01M215.4 495.8h.01M197.5 520.6h.01M183.9 535.4h.01M300.9 442.4h.01M270.0 457.2h.01M298.2 456.5h.01M286.7 490.6h.01M271.8 531.8h.01M270.9 532.3h.01M260.9 565.3h.01M257.9 567.6h.01M259.3 511.9h.01M248.9 549.5h.01M234.7 587.8h.01M273.8 495.3h.01M252.0 551.3h.01M232.8 477.1h.01M215.0 552.3h.01M209.8 571.0h.01M220.8 545.8h.01M221.6 572.3h.01M222.1 587.3h.01M236.1 505.0h.01M237.3 513.2h.01M240.9 523.3h.01M243.6 532.9h.01M245.6 539.1h.01M244.3 541.8h.01M244.7 545.1h.01M245.6 547.0h.01M245.1 554.9h.01M245.5 555.1h.01M244.8 554.5h.01M243.2 558.7h.01M240.1 566.2h.01M238.6 572.1h.01M232.5 582.6h.01M233.9 583.4h.01M207.3 522.0h.01" stroke="#0040ff" stroke-width="1.80"/>
<path d="M214.3 498.7h.01M210.8 504.9h.01M191.9 528.5h.01M184.8 535.3h.01M183.9 536.3h.01M239.5 476.9h.01M270.7 538.2h.01M250.7 587.1h.01M258.1 453.2h.01M273.7 458.3h.01M282.5 464.6h.01M287.0 471.4h.01M287.2 473.4h.01M290.6 467.2h.01M295.0 459.5h.01M285.7 493.6h.01M284.0 498.4h.01M272.9 524.5h.01M273.0 525.8h.01M271.4 530.2h.01M263.8 554.2h.01M260.8 564.9h.01M252.5 583.4h.01M248.1 555.0h.01M245.2 562.5h.01M244.3 563.6h.01M238.9 578.0h.01M236.0 588.5h.01M275.4 493.6h.01M272.0 496.2h.01M260.0 527.0h.01M258.4 531.8h.01M257.1 536.4h.01M257.8 539.3h.01M255.7 541.0h.01M253.0 549.7h.01M251.9 551.9h.01M245.9 572.3h.01M243.8 577.3h.01M277.2 503.5h.01M274.1 509.6h.01M252.9 570.6h.01M233.0 487.2h.01M233.6 508.2h.01M226.8 519.9h.01M223.7 527.2h.01M223.1 528.0h.01M217.8 542.4h.01M214.5 550.8h.01M210.0 570.7h.01M239.0 457.8h.01M237.0 478.3h.01M222.2 574.7h.01M222.4 575.7h.01M222.4 581.2h.01M221.7 588.3h.01M234.6 500.4h.01M234.7 503.1h.01M236.1 505.9h.01M236.7 508.4h.01M241.2 519.9h.01M240.5 522.4h.01M240.7 522.6h.01M241.7 522.5h.01M240.8 523.6h.01M240.8 526.8h.01M245.4 540.5h.01M246.0 543.4h.01M245.2 545.0h.01M246.9 544.4h.01M245.6 547.0h.01M246.8 547.8h.01M245.6 555.4h.01M241.7 558.5h.01M243.6 562.1h.01M242.2 563.6h.01M237.2 572.1h.01M236.6 575.3h.01M236.5 576.2h.01M233.6 579.4h.01M233.9 581.2h.01M232.1 588.8h.01M232.7 589.9h.01M231.3 592.7h.01M230.4 593.6h.01M212.7 525.4h.01M215.8 526.8h.01M227.0 446.2h.01" stroke="#0060ff" stroke-width="1.80"/>
<path d="M322.9 425.2h.01M315.9 429.4h.01M323.7 432.1h.01M319.3 425.1h.01M314.6 428.8h.01M319.3 432.9h.01" stroke="#ffbf00" stroke-width="1.60"/>
<path d="M322.0 438.0h.01M322.9 429.4h.01M324.1 434.9h.01M324.8 426.4h.01M321.4 431.7h.01M315.7 435.2h.01M315.1 433.0h.01M324.5 432.2h.01" stroke="#ff6000" stroke-width="1.60"/>
<path d="M324.1 437.0h.01M322.2 433.0h.01M327.0 428.2h.01M313.9 437.3h.01M313.6 431.5h.01" stroke="#ffff00" stroke-width="1.60"/>
<path d="M319.8 435.6h.01M325.3 433.7h.01M319.5 436.7h.01M315.1 437.4h.01" stroke="#bfff40" stroke-width="1.60"/>
<path d="M325.2 429.1h.01M316.5 433.2h.01M317.5 435.7h.01" stroke="#ff4000" stroke-width="1.60"/>
<path d="M316.3 430.2h.01M324.2 429.6h.01M325.7 426.9h.01M313.7 438.8h.01M308.4 434.3h.01M315.8 437.4h.01" stroke="#ff9f00" stroke-width="1.60"/>
<path d="M315.0 427.1h.01M325.8 430.2h.01M320.5 429.6h.01M322.0 429.0h.01M310.6 437.9h.01" stroke="#ffdf00" stroke-width="1.60"/>
<path d="M317.4 425.0h.01M316.5 436.8h.01M316.6 435.2h.01M312.0 437.1h.01" stroke="#ff0000" stroke-width="1.60"/>
<path d="M324.0 430.7h.01M323.3 422.4h.01M317.3 426.4h.01M322.8 422.9h.01M316.8 424.6h.01M326.1 434.0h.01M313.5 436.6h.01" stroke="#ff8000" stroke-width="1.60"/>
<path d="M319.5 430.8h.01M313.1 433.8h.01" stroke="#df0000" stroke-width="1.60"/>
<path d="M320.6 438.2h.01M326.5 426.6h.01M319.9 431.5h.01M308.8 438.7h.01M309.9 437.4h.01" stroke="#bf0000" stroke-width="1.60"/>
<path d="M316.2 431.5h.01M311.7 435.9h.01M309.8 437.6h.01" stroke="#dfff20" stroke-width="1.60"/>
<path d="M323.8 433.2h.01M318.8 424.2h.01M310.0 436.3h.01" stroke="#ff2000" stroke-width="1.60"/>
<path d="M326.1 432.8h.01" stroke="#80ff80" stroke-width="1.60"/>
<path d="M308.6 434.2h.01" stroke="#20ffdf" stroke-width="1.60"/>
<path d="M289.5 470.4h.01M286.0 495.5h.01M271.2 525.5h.01M271.6 531.4h.01M267.8 542.3h.01M259.9 563.9h.01M270.4 494.0h.01M244.2 576.7h.01M220.6 561.0h.01M221.7 583.5h.01M235.9 500.1h.01M237.4 506.3h.01M237.0 511.4h.01M238.2 513.6h.01M237.4 513.4h.01M238.2 515.7h.01M238.8 518.8h.01M238.9 520.7h.01M243.8 534.3h.01M244.8 542.7h.01M245.8 546.6h.01M245.4 547.2h.01M245.0 549.1h.01M242.4 561.9h.01M242.0 564.6h.01M239.8 567.9h.01M235.8 575.7h.01M235.1 578.7h.01M232.8 584.8h.01M233.1 584.7h.01" stroke="#0020ff" stroke-width="1.80"/>
<path d="M301.9 453.5h.01M233.5 509.0h.01M237.3 512.0h.01M239.4 519.2h.01M238.6 520.9h.01M239.6 570.6h.01" stroke="#0000df" stroke-width="1.80"/>
<path d="M282.5 485.3h.01M249.9 548.3h.01M244.3 575.7h.01M243.7 576.8h.01M242.2 528.0h.01M246.0 538.6h.01M243.6 552.8h.01M232.7 587.0h.01" stroke="#0000ff" stroke-width="1.80"/>
<path d="M221.8 589.7h.01M241.1 564.6h.01" stroke="#0000bf" stroke-width="1.80"/>
<path d="M242.1 528.0h.01" stroke="#00009f" stroke-width="1.80"/>
<path d="M231.3 371.3h.01M231.4 371.6h.01M232.0 382.1h.01M231.2 388.8h.01M225.1 385.3h.01M222.5 413.3h.01M240.3 379.1h.01M239.9 380.9h.01M238.7 384.7h.01M237.5 389.5h.01M238.6 396.4h.01M250.7 429.0h.01M247.2 404.2h.01M266.5 374.8h.01M268.5 374.5h.01M272.5 385.0h.01M275.9 380.7h.01M276.3 389.5h.01M259.8 408.0h.01M296.2 403.6h.01M325.3 401.6h.01M332.3 419.6h.01M333.9 428.3h.01M326.0 422.4h.01" stroke="#ffbf00" stroke-width="1.80"/>
<path d="M234.8 374.9h.01M234.5 376.7h.01M230.7 391.1h.01M231.0 391.5h.01M226.6 386.0h.01M224.7 389.2h.01M221.6 411.0h.01M220.8 428.4h.01M226.2 436.5h.01M238.3 392.4h.01M250.2 381.7h.01M248.2 378.2h.01M247.1 379.7h.01M267.8 395.6h.01M264.1 414.0h.01M275.9 384.7h.01M276.6 403.0h.01M313.1 385.1h.01M294.2 406.5h.01M288.2 414.6h.01" stroke="#ffdf00" stroke-width="1.80"/>
<path d="M233.0 383.5h.01M218.8 392.8h.01M217.8 398.2h.01M225.8 381.1h.01M219.5 431.3h.01M229.1 395.0h.01M242.0 369.7h.01M237.9 393.9h.01M238.8 398.1h.01M248.6 432.1h.01M249.8 398.8h.01M248.1 381.0h.01M276.1 371.8h.01M313.4 381.1h.01M312.3 387.5h.01M306.9 402.6h.01M289.5 401.8h.01M291.0 403.8h.01M333.1 425.5h.01M324.2 421.9h.01M325.3 434.7h.01" stroke="#bfff40" stroke-width="1.80"/>
<path d="M230.8 389.6h.01M218.0 391.5h.01M217.0 413.0h.01M224.5 396.9h.01M220.6 419.6h.01M229.5 388.2h.01M240.2 383.0h.01M250.8 380.4h.01M233.6 419.9h.01M271.3 386.2h.01M271.6 388.4h.01M269.9 391.3h.01M276.5 373.8h.01M277.9 390.9h.01M307.7 400.4h.01M305.2 391.6h.01M279.9 421.2h.01M276.8 424.4h.01M290.8 408.9h.01M317.5 407.5h.01M319.6 404.6h.01M333.3 403.5h.01M332.5 407.1h.01M317.1 415.5h.01M325.1 436.3h.01M321.2 445.3h.01" stroke="#ffff00" stroke-width="1.80"/>
<path d="M218.9 381.2h.01M221.1 382.5h.01M228.5 405.1h.01M273.5 379.9h.01M275.8 377.3h.01" stroke="#ff6000" stroke-width="1.80"/>
<path d="M219.6 383.2h.01M218.8 392.3h.01M215.5 410.3h.01M224.9 383.7h.01M224.6 393.1h.01M224.2 403.8h.01M221.7 409.2h.01M221.0 422.0h.01M227.5 416.0h.01M250.6 426.2h.01M248.1 376.7h.01M237.8 402.6h.01M269.6 389.8h.01M267.8 394.2h.01M275.8 379.1h.01M276.3 381.7h.01M277.8 393.3h.01M255.4 417.0h.01M301.5 415.2h.01M306.6 391.2h.01M300.1 397.6h.01M326.9 401.1h.01M287.3 436.7h.01" stroke="#dfff20" stroke-width="1.80"/>
<path d="M219.1 384.6h.01M249.7 395.3h.01M267.6 396.0h.01M303.0 409.5h.01M302.7 395.4h.01M291.6 405.6h.01" stroke="#ff8000" stroke-width="1.80"/>
<path d="M219.0 387.5h.01M217.1 403.9h.01M224.6 400.2h.01M223.2 405.5h.01M222.4 417.4h.01M222.1 418.2h.01M227.4 408.6h.01M238.8 394.1h.01M240.4 401.0h.01M241.8 404.3h.01M234.1 472.6h.01M255.2 375.6h.01M235.0 414.2h.01M235.2 427.4h.01M267.3 398.6h.01M263.1 416.1h.01M273.3 413.1h.01M258.7 408.3h.01M257.4 411.3h.01M251.7 427.2h.01M278.6 390.5h.01M303.0 411.3h.01M307.2 389.8h.01M301.4 396.8h.01M275.6 424.7h.01M317.5 408.5h.01M328.0 400.8h.01M330.1 417.2h.01M326.7 441.1h.01M288.9 499.3h.01M287.6 501.8h.01M274.0 526.4h.01" stroke="#80ff80" stroke-width="1.80"/>
<path d="M218.5 388.2h.01M217.5 402.7h.01M217.1 414.2h.01M222.7 394.7h.01M222.7 402.7h.01M229.3 391.2h.01M228.7 392.5h.01M227.3 407.2h.01M241.9 374.7h.01M240.9 379.5h.01M245.0 408.8h.01M251.7 425.5h.01M249.3 396.8h.01M270.2 374.9h.01M273.3 378.7h.01M269.4 391.8h.01M277.2 399.7h.01M273.3 407.3h.01M272.7 411.2h.01M258.1 409.8h.01M258.0 413.9h.01M254.1 423.0h.01M310.5 392.9h.01M327.9 440.3h.01M325.0 444.5h.01M320.1 454.1h.01M317.5 415.8h.01M242.5 526.6h.01" stroke="#9fff60" stroke-width="1.80"/>
<path d="M218.4 395.0h.01M217.5 399.0h.01M217.7 404.9h.01M217.8 408.4h.01M214.8 420.5h.01M214.4 445.6h.01M222.0 412.1h.01M220.1 423.6h.01M226.5 410.6h.01M227.1 414.2h.01M226.4 427.6h.01M238.3 386.5h.01M244.4 406.9h.01M247.7 412.4h.01M248.5 371.4h.01M238.2 401.5h.01M262.1 420.5h.01M272.1 417.1h.01M273.0 420.6h.01M272.7 421.2h.01M301.6 414.2h.01M288.7 413.4h.01M324.9 401.2h.01M321.3 450.6h.01M315.6 461.1h.01M299.1 486.3h.01M272.4 534.2h.01M317.0 413.2h.01M290.9 436.5h.01M259.3 509.3h.01M241.6 522.8h.01" stroke="#60ff9f" stroke-width="1.80"/>
<path d="M217.0 402.5h.01M213.4 454.2h.01M222.0 414.4h.01M219.9 432.4h.01M222.2 434.3h.01M229.2 387.0h.01M230.0 450.7h.01M246.0 410.4h.01M250.9 422.8h.01M250.6 427.4h.01M249.5 391.5h.01M248.4 402.3h.01M234.9 412.3h.01M234.6 417.8h.01M272.8 378.1h.01M266.3 400.4h.01M263.5 417.6h.01M271.5 416.0h.01M273.5 423.7h.01M264.5 438.2h.01M255.9 418.3h.01M308.7 398.1h.01M280.4 420.4h.01M326.6 442.1h.01M312.0 467.3h.01M302.4 480.5h.01M268.9 442.2h.01M299.5 477.8h.01M265.0 500.4h.01M265.1 501.4h.01M262.2 518.8h.01M249.4 559.1h.01M235.4 443.8h.01M228.9 472.4h.01M205.1 561.1h.01M245.0 536.9h.01M204.8 520.1h.01" stroke="#40ffbf" stroke-width="1.80"/>
<path d="M216.6 410.9h.01M213.3 447.9h.01M228.9 443.0h.01M228.4 444.9h.01M221.7 456.1h.01M223.1 460.2h.01M226.1 471.1h.01M225.2 471.9h.01M185.1 535.0h.01M181.3 538.8h.01M247.1 433.0h.01M244.7 438.0h.01M239.1 452.0h.01M233.8 469.7h.01M251.9 441.5h.01M266.5 435.2h.01M257.4 449.9h.01M252.2 454.0h.01M251.9 454.2h.01M252.7 427.2h.01M301.5 443.6h.01M305.5 474.9h.01M298.4 484.8h.01M284.6 504.5h.01M281.3 511.0h.01M279.6 513.6h.01M264.3 553.2h.01M281.4 462.1h.01M303.5 474.1h.01M300.2 476.0h.01M296.3 480.8h.01M282.8 503.5h.01M277.9 510.7h.01M264.9 552.8h.01M283.4 483.4h.01M270.1 494.2h.01M257.2 520.4h.01M257.1 521.7h.01M254.8 523.2h.01M254.6 535.9h.01M247.6 556.6h.01M266.9 505.3h.01M263.9 515.6h.01M259.0 532.2h.01M274.7 507.6h.01M268.3 525.8h.01M260.5 547.8h.01M259.3 552.5h.01M234.3 456.1h.01M233.0 462.0h.01M231.8 466.4h.01M232.7 471.8h.01M231.4 472.3h.01M233.5 484.8h.01M220.7 534.2h.01M218.3 537.2h.01M236.5 479.0h.01M236.1 483.3h.01M237.7 486.4h.01M237.7 491.0h.01M240.8 521.4h.01M243.4 534.4h.01M243.0 562.6h.01M238.7 571.2h.01M211.1 524.1h.01" stroke="#0080ff" stroke-width="1.80"/>
<path d="M216.3 416.4h.01M214.8 442.2h.01M214.0 460.7h.01M221.8 439.0h.01M225.4 422.1h.01M226.6 422.5h.01M225.1 481.1h.01M219.5 487.9h.01M218.7 493.0h.01M249.5 416.6h.01M254.6 434.1h.01M248.0 448.1h.01M263.1 440.1h.01M245.9 465.2h.01M243.4 470.5h.01M251.5 428.3h.01M297.9 421.4h.01M303.1 445.5h.01M282.4 419.6h.01M268.3 433.2h.01M331.5 401.4h.01M331.8 433.0h.01M321.1 453.3h.01M306.9 472.1h.01M299.8 482.5h.01M286.4 501.9h.01M285.4 503.2h.01M277.9 518.2h.01M272.4 533.3h.01M268.5 542.7h.01M267.6 543.1h.01M254.2 579.1h.01M252.1 585.7h.01M250.9 588.2h.01M320.3 446.7h.01M281.5 438.9h.01M261.4 454.6h.01M269.6 456.2h.01M309.9 458.0h.01M278.0 512.4h.01M266.2 547.7h.01M254.9 577.5h.01M283.0 485.8h.01M280.7 486.3h.01M255.5 529.1h.01M274.0 493.0h.01M260.8 525.2h.01M243.9 575.4h.01M279.5 498.3h.01M279.1 502.4h.01M235.4 439.4h.01M234.6 444.8h.01M233.0 448.6h.01M232.9 459.8h.01M232.8 460.3h.01M231.1 480.1h.01M233.0 490.3h.01M232.4 491.8h.01M234.5 497.9h.01M212.8 554.8h.01M237.9 461.5h.01M239.1 463.0h.01M201.2 567.2h.01M238.5 521.4h.01M212.1 525.1h.01" stroke="#00bfff" stroke-width="1.80"/>
<path d="M216.9 417.2h.01M222.4 437.1h.01M225.3 429.5h.01M225.3 433.7h.01M218.9 451.5h.01M221.0 454.6h.01M221.1 458.2h.01M223.3 484.3h.01M214.5 498.8h.01M196.1 521.8h.01M195.7 524.0h.01M245.2 436.8h.01M241.4 447.7h.01M241.1 449.9h.01M238.6 454.2h.01M236.2 461.0h.01M234.7 467.0h.01M251.6 440.6h.01M294.7 431.7h.01M297.8 438.9h.01M302.6 444.0h.01M330.2 434.5h.01M304.8 476.9h.01M298.3 487.0h.01M277.5 517.2h.01M277.0 520.7h.01M265.9 549.9h.01M264.9 552.0h.01M257.1 571.9h.01M253.1 584.3h.01M285.4 470.6h.01M302.4 452.4h.01M308.6 468.1h.01M275.6 516.8h.01M274.2 520.4h.01M254.7 576.4h.01M274.5 491.1h.01M272.0 492.5h.01M263.5 501.4h.01M257.8 515.2h.01M249.9 545.4h.01M247.9 550.4h.01M243.3 569.2h.01M264.5 510.2h.01M262.8 520.2h.01M255.8 539.1h.01M249.3 563.6h.01M279.9 498.9h.01M279.0 500.6h.01M274.8 507.0h.01M259.3 550.2h.01M259.7 552.9h.01M258.2 555.5h.01M231.5 457.3h.01M231.8 475.9h.01M231.8 481.0h.01M232.8 506.2h.01M218.2 542.2h.01M242.9 442.1h.01M228.5 459.3h.01M220.6 558.5h.01M235.7 504.8h.01M235.8 507.7h.01M236.0 509.7h.01M236.7 514.7h.01M237.5 515.1h.01M244.5 540.5h.01M244.4 540.9h.01M245.6 550.1h.01M245.2 551.3h.01M242.9 560.1h.01M207.4 521.7h.01M217.9 528.0h.01M234.8 432.9h.01" stroke="#0060ff" stroke-width="1.80"/>
<path d="M215.4 419.5h.01M215.5 424.0h.01M214.8 443.7h.01M215.9 470.0h.01M220.9 418.7h.01M220.9 432.6h.01M223.7 442.3h.01M225.3 446.8h.01M226.8 412.9h.01M226.5 437.2h.01M228.7 445.9h.01M192.5 526.9h.01M238.6 397.7h.01M244.0 439.9h.01M243.7 441.5h.01M241.6 448.7h.01M234.6 468.2h.01M233.7 473.5h.01M260.9 422.9h.01M252.7 437.8h.01M272.1 413.3h.01M271.0 431.2h.01M258.0 447.6h.01M252.4 452.5h.01M298.8 419.2h.01M295.9 424.7h.01M296.4 436.9h.01M297.3 401.7h.01M292.2 409.8h.01M291.2 411.7h.01M273.4 426.6h.01M269.2 431.1h.01M334.0 423.8h.01M329.3 437.9h.01M324.7 447.2h.01M304.9 476.2h.01M283.3 506.8h.01M279.2 515.5h.01M274.1 525.0h.01M259.5 565.4h.01M325.1 438.1h.01M278.8 439.6h.01M272.0 441.0h.01M310.0 467.1h.01M280.6 507.8h.01M268.6 537.6h.01M254.1 581.3h.01M271.9 494.5h.01M246.7 554.7h.01M247.0 559.4h.01M277.1 491.1h.01M265.6 509.5h.01M256.1 537.3h.01M253.1 551.8h.01M250.4 555.5h.01M263.5 542.2h.01M232.8 463.0h.01M231.0 470.8h.01M232.3 483.4h.01M239.0 459.0h.01M235.9 474.9h.01M230.6 479.8h.01M212.1 550.5h.01M237.6 569.2h.01M232.6 586.3h.01" stroke="#00dfff" stroke-width="1.80"/>
<path d="M214.9 426.1h.01M214.8 439.8h.01M224.7 446.3h.01M220.2 454.4h.01M226.7 473.9h.01M216.0 495.1h.01M212.8 502.1h.01M191.7 527.6h.01M246.5 410.9h.01M273.0 424.9h.01M261.1 445.3h.01M244.5 466.2h.01M305.8 404.4h.01M299.2 442.1h.01M265.1 436.3h.01M315.0 463.6h.01M309.4 471.3h.01M306.9 474.2h.01M297.0 487.4h.01M279.6 512.0h.01M278.4 516.9h.01M275.1 520.8h.01M273.6 529.8h.01M271.0 537.5h.01M269.2 540.1h.01M255.5 575.8h.01M270.9 441.9h.01M266.1 443.6h.01M300.1 455.3h.01M307.1 455.7h.01M310.3 460.4h.01M256.9 571.4h.01M277.8 490.2h.01M275.8 492.1h.01M263.1 504.9h.01M259.0 514.1h.01M256.2 527.9h.01M251.3 537.3h.01M246.7 557.3h.01M244.9 562.0h.01M263.7 516.5h.01M250.3 561.2h.01M246.3 571.0h.01M280.9 497.5h.01M271.9 514.1h.01M234.2 442.7h.01M234.0 445.9h.01M234.6 447.4h.01M231.5 473.6h.01M232.9 509.9h.01M240.5 443.7h.01M236.9 464.9h.01M238.6 465.5h.01M236.7 484.1h.01M236.4 492.9h.01M236.2 493.8h.01M229.0 470.0h.01M213.8 546.6h.01M237.0 506.3h.01M247.5 547.3h.01M246.8 553.4h.01" stroke="#009fff" stroke-width="1.80"/>
<path d="M214.4 430.3h.01M221.2 414.9h.01M220.2 425.3h.01M220.9 427.0h.01M228.3 442.4h.01M198.5 520.1h.01M248.5 416.0h.01M251.6 423.7h.01M242.8 443.6h.01M234.6 464.4h.01M234.9 471.3h.01M249.8 399.4h.01M235.3 409.1h.01M258.7 426.1h.01M253.7 435.9h.01M275.9 404.7h.01M271.9 429.1h.01M250.2 457.4h.01M331.9 434.2h.01M330.1 436.2h.01M327.9 437.8h.01M310.0 468.8h.01M302.7 478.7h.01M260.1 561.6h.01M251.5 587.2h.01M286.1 436.5h.01M283.9 437.6h.01M273.8 440.7h.01M270.4 442.3h.01M266.9 443.4h.01M261.2 446.6h.01M291.0 468.8h.01M303.2 449.0h.01M303.7 444.9h.01M302.8 472.8h.01M275.9 490.2h.01M261.6 507.1h.01M258.6 510.2h.01M266.9 505.8h.01M252.4 551.2h.01M281.2 497.0h.01M271.2 516.7h.01M268.1 527.4h.01M230.8 469.8h.01M232.8 478.2h.01M226.7 521.3h.01M219.9 537.7h.01M236.4 496.5h.01M216.2 543.6h.01M209.1 553.8h.01M201.8 567.1h.01M245.7 539.3h.01" stroke="#00ffff" stroke-width="1.80"/>
<path d="M215.0 439.2h.01M228.0 394.2h.01M228.6 403.0h.01M217.2 447.9h.01M215.9 499.1h.01M179.1 541.6h.01M241.2 377.4h.01M245.6 435.0h.01M234.5 413.4h.01M234.4 420.9h.01M234.2 425.1h.01M248.5 447.9h.01M273.8 407.3h.01M272.8 408.7h.01M268.7 434.0h.01M255.9 450.6h.01M242.2 473.8h.01M238.8 477.0h.01M297.6 421.8h.01M296.6 426.1h.01M300.4 443.0h.01M299.1 399.3h.01M293.0 407.9h.01M333.1 402.5h.01M331.2 411.8h.01M318.3 457.3h.01M323.9 439.1h.01M321.7 444.8h.01M295.5 434.7h.01M262.4 454.4h.01M308.9 459.3h.01M268.4 538.0h.01M268.5 494.8h.01M258.9 528.9h.01M277.4 504.4h.01M233.0 453.0h.01M233.2 464.4h.01M233.1 477.0h.01M212.9 548.4h.01M207.8 556.2h.01M221.9 580.9h.01" stroke="#20ffdf" stroke-width="1.80"/>
<path d="M214.0 443.3h.01M218.4 449.4h.01M223.7 462.1h.01M224.9 468.5h.01M226.3 474.8h.01M219.3 491.2h.01M219.3 492.4h.01M215.8 497.6h.01M210.9 503.9h.01M189.0 531.1h.01M183.8 536.5h.01M234.1 470.9h.01M233.3 474.6h.01M261.3 444.1h.01M248.4 460.6h.01M238.3 480.5h.01M304.5 445.5h.01M266.8 435.1h.01M333.6 427.2h.01M303.8 476.7h.01M292.0 493.0h.01M280.8 509.3h.01M277.5 518.9h.01M257.6 571.0h.01M267.9 456.1h.01M288.9 469.5h.01M301.7 454.6h.01M300.1 440.5h.01M296.5 438.5h.01M293.4 483.1h.01M263.5 553.3h.01M256.3 572.7h.01M254.0 581.1h.01M265.8 498.7h.01M261.8 503.2h.01M260.9 507.7h.01M256.8 522.3h.01M255.8 525.4h.01M247.4 558.6h.01M241.4 573.2h.01M270.9 498.5h.01M265.9 506.7h.01M265.6 513.3h.01M257.9 534.9h.01M256.4 536.1h.01M245.1 574.6h.01M261.5 546.5h.01M227.5 520.8h.01M224.5 523.1h.01M240.1 449.8h.01M237.0 470.3h.01M229.4 478.4h.01M214.9 545.0h.01M220.7 549.8h.01M222.5 574.4h.01M221.8 575.3h.01M235.3 504.4h.01M240.8 522.3h.01M243.0 525.3h.01M243.3 536.6h.01M247.1 542.2h.01M241.7 561.8h.01M241.5 566.1h.01M239.8 567.4h.01M239.4 567.9h.01M233.5 581.8h.01M232.2 435.7h.01M228.8 444.5h.01" stroke="#0040ff" stroke-width="1.80"/>
<path d="M214.3 462.6h.01M223.3 441.4h.01M225.3 444.8h.01M241.0 474.6h.01M239.3 476.6h.01M317.6 458.6h.01M281.1 510.1h.01M263.1 555.9h.01M294.3 460.6h.01M288.3 491.1h.01M279.6 508.4h.01M272.7 526.8h.01M263.9 556.0h.01M258.4 566.2h.01M256.3 574.9h.01M261.1 509.1h.01M254.7 533.9h.01M248.6 551.4h.01M245.9 561.1h.01M239.0 577.9h.01M268.6 502.5h.01M258.3 532.4h.01M254.9 545.6h.01M268.9 523.0h.01M265.2 536.3h.01M255.9 560.5h.01M231.7 477.2h.01M234.3 505.2h.01M217.6 541.0h.01M217.3 543.5h.01M236.9 476.0h.01M238.0 495.3h.01M235.5 501.5h.01M236.7 503.2h.01M237.3 510.0h.01M237.8 516.3h.01M239.2 516.5h.01M240.6 519.0h.01M243.6 528.1h.01M245.7 555.2h.01M246.0 556.2h.01M237.0 573.9h.01M231.1 590.9h.01M209.1 523.1h.01M216.2 526.7h.01" stroke="#0000df" stroke-width="1.80"/>
<path d="M215.8 470.3h.01M225.1 482.9h.01M207.5 509.4h.01M297.7 438.4h.01M326.4 443.3h.01M282.2 508.2h.01M262.0 558.8h.01M259.8 566.3h.01M251.3 586.8h.01M284.6 467.3h.01M286.0 469.3h.01M306.6 470.1h.01M268.5 539.2h.01M267.6 542.1h.01M266.4 547.1h.01M262.7 558.1h.01M258.0 569.9h.01M255.7 575.6h.01M254.8 578.4h.01M252.8 582.7h.01M252.3 583.6h.01M287.2 477.5h.01M254.6 531.5h.01M248.2 553.7h.01M244.9 563.5h.01M238.4 579.1h.01M236.1 586.6h.01M258.1 533.6h.01M254.4 547.1h.01M251.4 553.8h.01M250.9 560.3h.01M277.4 503.8h.01M270.0 520.7h.01M258.7 553.9h.01M233.8 486.8h.01M234.1 502.2h.01M237.2 469.0h.01M234.8 499.3h.01M240.0 527.5h.01M241.9 529.0h.01M246.2 544.2h.01M245.6 545.1h.01M245.2 553.6h.01M241.0 564.7h.01M238.2 572.8h.01M230.6 591.7h.01M227.9 444.8h.01" stroke="#00009f" stroke-width="1.80"/>
<path d="M220.8 434.2h.01M224.8 467.0h.01M210.4 505.9h.01M209.0 507.6h.01M198.2 520.3h.01M194.3 524.5h.01M191.1 530.1h.01M249.0 458.0h.01M241.9 471.5h.01M294.7 492.1h.01M290.0 495.2h.01M289.1 498.9h.01M285.3 502.5h.01M267.9 443.3h.01M273.3 457.2h.01M304.4 450.0h.01M305.2 454.2h.01M304.5 472.0h.01M297.6 477.8h.01M276.6 512.8h.01M266.8 544.2h.01M259.7 511.6h.01M254.6 530.2h.01M277.5 490.4h.01M261.0 521.6h.01M259.4 529.5h.01M257.5 535.9h.01M249.5 562.2h.01M243.2 578.9h.01M274.8 509.4h.01M264.6 539.2h.01M257.9 555.3h.01M233.2 487.5h.01M232.6 490.0h.01M233.4 504.6h.01M229.1 517.6h.01M222.7 529.7h.01M217.2 544.3h.01M216.2 545.7h.01M215.1 546.8h.01M213.3 554.2h.01M209.3 572.8h.01M238.0 461.1h.01M237.1 477.7h.01M237.2 489.6h.01M238.0 497.5h.01M220.5 545.9h.01M221.0 566.8h.01M222.6 590.1h.01M242.9 532.2h.01M245.0 548.3h.01M213.6 525.2h.01M235.4 432.6h.01M231.9 437.5h.01" stroke="#0000ff" stroke-width="1.80"/>
<path d="M229.1 385.5h.01M248.3 378.8h.01" stroke="#ff0000" stroke-width="1.80"/>
<path d="M228.1 400.5h.01M217.7 448.9h.01M218.2 450.5h.01M227.2 477.7h.01M226.5 480.3h.01M222.5 485.6h.01M221.0 487.8h.01M217.8 493.7h.01M202.7 514.1h.01M181.8 538.5h.01M243.1 443.3h.01M256.8 430.9h.01M249.9 445.9h.01M259.8 445.4h.01M273.1 530.9h.01M269.9 539.3h.01M259.0 566.4h.01M256.7 452.3h.01M274.5 457.8h.01M277.6 459.7h.01M292.6 463.4h.01M295.8 458.9h.01M296.3 458.7h.01M302.0 453.2h.01M308.3 456.8h.01M273.6 523.2h.01M272.3 529.0h.01M262.0 561.0h.01M259.3 564.8h.01M258.2 568.8h.01M280.5 487.6h.01M274.7 492.9h.01M252.2 541.8h.01M249.4 549.3h.01M272.0 496.2h.01M255.6 541.1h.01M251.1 559.1h.01M248.0 565.8h.01M247.5 567.0h.01M275.5 505.8h.01M266.8 530.3h.01M265.5 534.3h.01M257.8 556.9h.01M257.6 557.6h.01M233.3 458.4h.01M233.2 481.0h.01M231.4 512.0h.01M226.9 519.0h.01M221.3 532.1h.01M240.4 452.2h.01M236.5 467.3h.01M228.4 465.6h.01M220.8 550.1h.01M221.5 560.3h.01M222.6 580.7h.01M221.7 588.1h.01M221.6 589.5h.01M237.9 511.3h.01M236.1 513.2h.01M240.4 525.1h.01M242.1 530.7h.01M242.4 531.2h.01M242.1 535.2h.01M243.5 538.1h.01M245.8 551.8h.01M244.1 558.3h.01M237.9 571.7h.01M235.7 580.3h.01M231.7 587.8h.01M231.7 588.3h.01M217.2 527.5h.01" stroke="#0020ff" stroke-width="1.80"/>
<path d="M216.6 495.0h.01M235.5 463.1h.01M248.9 446.9h.01M241.9 473.3h.01M270.8 429.6h.01M315.8 462.1h.01M283.8 506.2h.01M264.7 455.5h.01M270.4 456.8h.01M271.8 457.0h.01M288.1 473.7h.01M269.1 494.3h.01M268.0 496.2h.01M267.3 498.7h.01M261.9 505.8h.01M252.4 535.5h.01M248.3 552.0h.01M242.5 570.1h.01M240.1 575.0h.01M236.9 584.3h.01M235.1 587.5h.01M272.9 495.8h.01M261.3 523.9h.01M260.2 527.6h.01M282.5 495.1h.01M214.3 549.4h.01M240.0 448.9h.01M239.4 454.4h.01M236.9 469.9h.01M235.0 502.2h.01M243.2 533.2h.01M244.0 557.2h.01M243.9 559.2h.01" stroke="#0000bf" stroke-width="1.80"/>
<path d="M240.8 372.3h.01M241.3 378.2h.01M240.0 402.6h.01M250.3 418.2h.01M269.1 374.1h.01M272.6 383.5h.01M277.4 387.0h.01M302.4 413.9h.01M299.3 398.7h.01M330.6 401.4h.01M334.2 422.4h.01M317.2 411.2h.01" stroke="#ff9f00" stroke-width="1.80"/>
<path d="M238.6 401.5h.01" stroke="#ff2000" stroke-width="1.80"/>
<path d="M277.4 392.0h.01" stroke="#df0000" stroke-width="1.80"/>
<path d="M297.4 402.9h.01M317.8 417.3h.01" stroke="#ff4000" stroke-width="1.80"/>
</g>
</svg>
</body></html>
